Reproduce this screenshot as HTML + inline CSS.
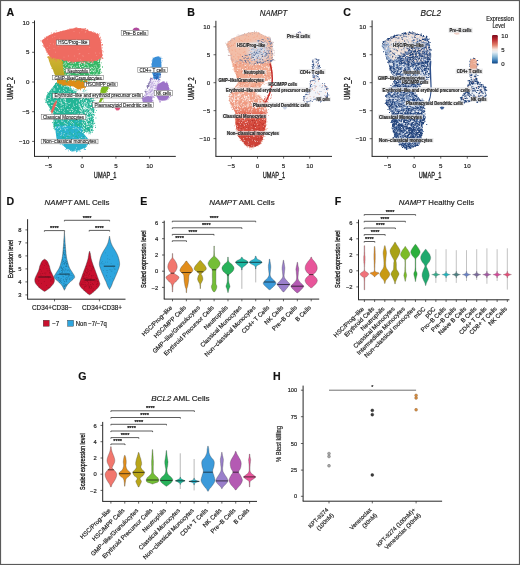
<!DOCTYPE html><html><head><meta charset="utf-8"><style>html,body{margin:0;padding:0;background:#fff;}svg{display:block;will-change:transform;filter:blur(0.3px);}text{font-family:"Liberation Sans", sans-serif;stroke:#222;stroke-width:0.18px;}</style></head><body>
<svg width="520" height="565" viewBox="0 0 520 565">
<rect x="0" y="0" width="520" height="565" fill="#fff"/>
<text x="6.4" y="15.7" font-size="10.6" fill="#111" font-weight="bold">A</text>
<text x="187.2" y="15.8" font-size="10.6" fill="#111" font-weight="bold">B</text>
<text x="343.3" y="15.8" font-size="10.6" fill="#111" font-weight="bold">C</text>
<text x="6.6" y="205.2" font-size="10.6" fill="#111" font-weight="bold">D</text>
<text x="140.2" y="204.8" font-size="10.6" fill="#111" font-weight="bold">E</text>
<text x="334.7" y="205" font-size="10.6" fill="#111" font-weight="bold">F</text>
<text x="78.2" y="379.6" font-size="10.6" fill="#111" font-weight="bold">G</text>
<text x="273" y="380" font-size="10.6" fill="#111" font-weight="bold">H</text>
<line x1="34.5" y1="20.5" x2="34.5" y2="156.4" stroke="#1a1a1a" stroke-width="0.95"/>
<line x1="34.05" y1="156.4" x2="175.8" y2="156.4" stroke="#1a1a1a" stroke-width="0.95"/>
<line x1="32.1" y1="22.6" x2="34.5" y2="22.6" stroke="#222" stroke-width="0.7"/>
<text x="29.5" y="24.7" font-size="6.2" fill="#222" text-anchor="end">10</text>
<line x1="32.1" y1="52.3" x2="34.5" y2="52.3" stroke="#222" stroke-width="0.7"/>
<text x="29.5" y="54.4" font-size="6.2" fill="#222" text-anchor="end">5</text>
<line x1="32.1" y1="82" x2="34.5" y2="82" stroke="#222" stroke-width="0.7"/>
<text x="29.5" y="84.1" font-size="6.2" fill="#222" text-anchor="end">0</text>
<line x1="32.1" y1="111.7" x2="34.5" y2="111.7" stroke="#222" stroke-width="0.7"/>
<text x="29.5" y="113.8" font-size="6.2" fill="#222" text-anchor="end">−5</text>
<line x1="32.1" y1="141.4" x2="34.5" y2="141.4" stroke="#222" stroke-width="0.7"/>
<text x="29.5" y="143.5" font-size="6.2" fill="#222" text-anchor="end">−10</text>
<line x1="48.5" y1="156.4" x2="48.5" y2="158.6" stroke="#222" stroke-width="0.7"/>
<text x="48.5" y="167.8" font-size="6.2" fill="#222" text-anchor="middle">−5</text>
<line x1="82.2" y1="156.4" x2="82.2" y2="158.6" stroke="#222" stroke-width="0.7"/>
<text x="82.2" y="167.8" font-size="6.2" fill="#222" text-anchor="middle">0</text>
<line x1="115.9" y1="156.4" x2="115.9" y2="158.6" stroke="#222" stroke-width="0.7"/>
<text x="115.9" y="167.8" font-size="6.2" fill="#222" text-anchor="middle">5</text>
<line x1="149.6" y1="156.4" x2="149.6" y2="158.6" stroke="#222" stroke-width="0.7"/>
<text x="149.6" y="167.8" font-size="6.2" fill="#222" text-anchor="middle">10</text>
<text x="105.15" y="178.4" font-size="8.4" fill="#222" text-anchor="middle" textLength="22.6" lengthAdjust="spacingAndGlyphs" style="stroke-width:0.34px">UMAP_1</text>
<text x="0" y="0" font-size="8.4" fill="#222" text-anchor="middle" textLength="22.6" lengthAdjust="spacingAndGlyphs" transform="translate(13.2,88.45) rotate(-90)" style="stroke-width:0.34px">UMAP_2</text>
<path d="M46.5,95.4L48.8,92.3L52,88L56,83L62,82.5L68,86.5L72,89.5L78,93.5L86,96L93.5,98.5L94.2,110.8L93.5,124.6L92,133L70,129L55,131L53.5,124.6L53.5,113.8L50.4,109.2L45.8,101.5Z" fill="#22B596"/>
<path d="M92 116.2h.8v.8h-.8zM92.6 119.1h.8v.8h-.8zM68.4 87.7h.8v.8h-.8zM54.9 128.2h.8v.8h-.8zM56.2 82h.8v.8h-.8zM53 89.5h.8v.8h-.8zM74.3 129.5h.8v.8h-.8zM47.7 93.3h.8v.8h-.8zM70.4 88.5h.8v.8h-.8zM92.2 119.5h.8v.8h-.8zM92.2 127.2h.8v.8h-.8zM72.6 129.8h.8v.8h-.8zM48.2 95.7h.8v.8h-.8zM65.6 130.2h.8v.8h-.8zM86.4 96.4h.8v.8h-.8zM94.6 107.5h.8v.8h-.8zM46.3 102.2h.8v.8h-.8zM73.9 89.7h.8v.8h-.8zM45.8 98.9h.8v.8h-.8zM78.9 129.9h.8v.8h-.8zM54.2 85.8h.8v.8h-.8zM58 131.1h.8v.8h-.8zM58.8 83.5h.8v.8h-.8zM67.8 86.7h.8v.8h-.8zM70.4 87.9h.8v.8h-.8zM77.1 130.8h.8v.8h-.8zM73.2 92.9h.8v.8h-.8zM53.2 127.8h.8v.8h-.8zM71.8 91.4h.8v.8h-.8zM78.9 131.8h.8v.8h-.8zM73.5 92.1h.8v.8h-.8zM91.3 98.1h.8v.8h-.8zM55.1 83.1h.8v.8h-.8zM82.7 132.2h.8v.8h-.8zM45 102.2h.8v.8h-.8zM53.7 116h.8v.8h-.8zM50.8 108.8h.8v.8h-.8zM70.2 86.1h.8v.8h-.8zM73 88.4h.8v.8h-.8zM82.7 131.6h.8v.8h-.8zM51 90h.8v.8h-.8zM66.3 131.2h.8v.8h-.8zM84.1 132.1h.8v.8h-.8zM64.3 130.1h.8v.8h-.8zM91.1 131.7h.8v.8h-.8zM84.1 95h.8v.8h-.8zM48 94.1h.8v.8h-.8zM53 88.1h.8v.8h-.8zM88.8 132.9h.8v.8h-.8zM53.5 111.7h.8v.8h-.8zM68.2 128.9h.8v.8h-.8zM52 90.9h.8v.8h-.8zM67.1 129.4h.8v.8h-.8zM76.2 130.6h.8v.8h-.8zM90.1 97.3h.8v.8h-.8zM91.9 130.6h.8v.8h-.8zM60.5 128.7h.8v.8h-.8zM49.1 109.6h.8v.8h-.8zM51.9 109.8h.8v.8h-.8zM55.1 127.3h.8v.8h-.8zM78.6 131.5h.8v.8h-.8zM83.3 131.8h.8v.8h-.8zM47.4 95.5h.8v.8h-.8zM93.8 105h.8v.8h-.8zM94.2 114.6h.8v.8h-.8zM60 130.7h.8v.8h-.8zM93.8 123.1h.8v.8h-.8zM92 123.1h.8v.8h-.8zM80.5 94.1h.8v.8h-.8zM70.9 129.7h.8v.8h-.8zM50.3 108.9h.8v.8h-.8zM51.5 112.9h.8v.8h-.8zM70 89.8h.8v.8h-.8zM50.7 108h.8v.8h-.8zM86.2 132.4h.8v.8h-.8zM94.4 122.8h.8v.8h-.8zM66 129.4h.8v.8h-.8zM66.9 86.4h.8v.8h-.8zM72.6 91.3h.8v.8h-.8zM92.9 125.4h.8v.8h-.8zM45.8 98.5h.8v.8h-.8zM49.8 91h.8v.8h-.8zM65 129.2h.8v.8h-.8zM54.8 128h.8v.8h-.8zM95.5 117.6h.8v.8h-.8zM77.1 93h.8v.8h-.8zM77.6 131h.8v.8h-.8zM75.4 127.7h.8v.8h-.8zM70 130h.8v.8h-.8zM69.9 87.2h.8v.8h-.8zM65.1 130.3h.8v.8h-.8zM93.2 98h.8v.8h-.8zM81.3 130.1h.8v.8h-.8zM54.6 127.7h.8v.8h-.8zM48.4 105.5h.8v.8h-.8zM92.5 115.7h.8v.8h-.8zM92.1 103.5h.8v.8h-.8zM55 126.8h.8v.8h-.8zM75.6 131.3h.8v.8h-.8zM52.6 122.5h.8v.8h-.8zM75.6 89.1h.8v.8h-.8zM44.5 98.8h.8v.8h-.8zM91.5 96.4h.8v.8h-.8zM94.4 100h.8v.8h-.8zM91.9 131.9h.8v.8h-.8zM49.5 91.3h.8v.8h-.8zM54.4 127.3h.8v.8h-.8zM54.8 129h.8v.8h-.8zM92.7 125.9h.8v.8h-.8zM69.9 128.8h.8v.8h-.8zM47.6 103.9h.8v.8h-.8zM92.3 130.7h.8v.8h-.8zM75.5 130.1h.8v.8h-.8zM89.9 133.5h.8v.8h-.8zM54 118.7h.8v.8h-.8zM54.6 117.9h.8v.8h-.8zM88.4 133.4h.8v.8h-.8zM93.2 125.3h.8v.8h-.8zM45 100.4h.8v.8h-.8zM53 126h.8v.8h-.8zM69.6 129.6h.8v.8h-.8zM96.1 109.9h.8v.8h-.8zM81.4 94.8h.8v.8h-.8zM94.8 112h.8v.8h-.8zM93.4 121.5h.8v.8h-.8zM81.1 130.7h.8v.8h-.8zM55.3 130.1h.8v.8h-.8zM75.2 91.1h.8v.8h-.8zM93.3 100.4h.8v.8h-.8zM62.8 130.8h.8v.8h-.8zM79.2 94.8h.8v.8h-.8zM93.4 115h.8v.8h-.8zM92.9 130.2h.8v.8h-.8zM77.8 129.7h.8v.8h-.8zM52.1 116.9h.8v.8h-.8zM76.2 90.7h.8v.8h-.8zM50.8 110.9h.8v.8h-.8zM49.9 110.5h.8v.8h-.8zM52.9 112.8h.8v.8h-.8zM62.7 130.4h.8v.8h-.8zM52.1 122h.8v.8h-.8zM60.3 83.3h.8v.8h-.8zM48.7 94.3h.8v.8h-.8zM50.7 108.9h.8v.8h-.8zM93.3 124.8h.8v.8h-.8zM69.6 129.4h.8v.8h-.8zM59.3 83.1h.8v.8h-.8zM92.6 127.1h.8v.8h-.8zM70.1 89.4h.8v.8h-.8zM46.7 96.8h.8v.8h-.8zM53.7 86.8h.8v.8h-.8zM55.9 131.7h.8v.8h-.8zM91.9 127.9h.8v.8h-.8zM47.3 92h.8v.8h-.8zM67.8 87.8h.8v.8h-.8zM94.3 109.5h.8v.8h-.8zM95 127.1h.8v.8h-.8zM53.4 124.6h.8v.8h-.8zM77.8 131.3h.8v.8h-.8zM94.9 125.4h.8v.8h-.8z" fill="#22B596"/>
<path d="M55,127L65,125.5L75,126L81,128L84,134L88.5,139.5L90.4,140.5L85.8,147.7L78,150.5L72,151L65.8,148L56.5,138.5Z" fill="#2AB3CF"/>
<path d="M91.3 140.1h.8v.8h-.8zM59.2 136.1h.8v.8h-.8zM68.4 130.2h.8v.8h-.8zM58.2 136.6h.8v.8h-.8zM58.5 140.2h.8v.8h-.8zM76.8 150.7h.8v.8h-.8zM62.6 144.8h.8v.8h-.8zM70.6 128.1h.8v.8h-.8zM60.8 143.4h.8v.8h-.8zM83.8 148.8h.8v.8h-.8zM59.4 139h.8v.8h-.8zM75.9 125.8h.8v.8h-.8zM90.1 140.8h.8v.8h-.8zM86.3 137.4h.8v.8h-.8zM91 139.8h.8v.8h-.8zM73.6 150.7h.8v.8h-.8zM73.7 125.1h.8v.8h-.8zM80.1 127.5h.8v.8h-.8zM79.2 127h.8v.8h-.8zM76.2 151.5h.8v.8h-.8zM66.5 147.6h.8v.8h-.8zM79 149.6h.8v.8h-.8zM84.4 149.2h.8v.8h-.8zM68.1 150.5h.8v.8h-.8zM89 143.6h.8v.8h-.8zM79.3 128.3h.8v.8h-.8zM83.7 148h.8v.8h-.8zM81.1 127.3h.8v.8h-.8zM81.8 127.6h.8v.8h-.8zM75.9 150.6h.8v.8h-.8zM72.5 150.2h.8v.8h-.8zM77.5 150.5h.8v.8h-.8zM66 148.1h.8v.8h-.8zM77.3 150.8h.8v.8h-.8zM71.6 151.1h.8v.8h-.8zM60.6 143.5h.8v.8h-.8zM65.5 149.1h.8v.8h-.8zM72.7 150.4h.8v.8h-.8zM57.2 139.6h.8v.8h-.8zM67.4 130.2h.8v.8h-.8zM85 149.1h.8v.8h-.8zM67.1 148.5h.8v.8h-.8zM57.3 138.7h.8v.8h-.8zM74.9 126.2h.8v.8h-.8zM78.9 127.3h.8v.8h-.8zM79.5 149.6h.8v.8h-.8zM70.2 150.1h.8v.8h-.8zM59.7 142.5h.8v.8h-.8zM83.5 148.4h.8v.8h-.8zM86.1 145.6h.8v.8h-.8zM82.1 129.2h.8v.8h-.8zM64 145.6h.8v.8h-.8zM79.7 151.3h.8v.8h-.8zM83 146.2h.8v.8h-.8zM85.8 145.4h.8v.8h-.8zM68.6 130.2h.8v.8h-.8zM82.2 129.7h.8v.8h-.8zM80.6 128.5h.8v.8h-.8zM59.8 143.6h.8v.8h-.8zM81.4 129.5h.8v.8h-.8z" fill="#2AB3CF"/>
<path d="M49.8 97.8h.7v.7h-.7zM80.9 117.5h.7v.7h-.7zM59.5 89.7h.7v.7h-.7zM63.1 119.2h.7v.7h-.7zM63.5 88.4h.7v.7h-.7zM80.1 111.2h.7v.7h-.7zM90.3 130h.7v.7h-.7zM90 104.6h.7v.7h-.7zM84.7 97.9h.7v.7h-.7zM61.2 102.7h.7v.7h-.7zM91 127.7h.7v.7h-.7zM57.8 100.8h.7v.7h-.7zM63.5 100.8h.7v.7h-.7zM64.9 102.1h.7v.7h-.7zM55.2 111h.7v.7h-.7zM84.4 109.8h.7v.7h-.7zM86.3 110.9h.7v.7h-.7zM54.3 120.8h.7v.7h-.7zM72.1 111.2h.7v.7h-.7zM92.6 115.4h.7v.7h-.7zM72.3 122.3h.7v.7h-.7zM81.5 127.9h.7v.7h-.7zM77.2 94.9h.7v.7h-.7zM56.5 121.2h.7v.7h-.7zM71 121.1h.7v.7h-.7zM64.9 99.6h.7v.7h-.7zM92.7 116.5h.7v.7h-.7zM69.7 109.6h.7v.7h-.7zM80.7 118.3h.7v.7h-.7zM90.1 103.2h.7v.7h-.7zM85.8 116.2h.7v.7h-.7zM87.1 123.2h.7v.7h-.7zM86.2 127.4h.7v.7h-.7zM92.2 114.8h.7v.7h-.7zM71.2 118.4h.7v.7h-.7zM84.6 103.8h.7v.7h-.7zM66.2 89.9h.7v.7h-.7zM64 91h.7v.7h-.7zM55.7 104h.7v.7h-.7zM48.7 98.1h.7v.7h-.7zM48.8 105.7h.7v.7h-.7zM74.1 128.4h.7v.7h-.7zM54.7 93.5h.7v.7h-.7zM57.2 118.7h.7v.7h-.7zM74.6 93.8h.7v.7h-.7zM54.8 96.7h.7v.7h-.7zM54.1 120.8h.7v.7h-.7zM60.9 110.2h.7v.7h-.7zM85.3 106.7h.7v.7h-.7zM58.4 127.3h.7v.7h-.7zM90 99.8h.7v.7h-.7zM69.2 93.7h.7v.7h-.7zM84.6 101.9h.7v.7h-.7zM71.3 108.5h.7v.7h-.7zM77.6 94.5h.7v.7h-.7zM63.8 122.7h.7v.7h-.7zM80.3 113.1h.7v.7h-.7zM53.4 90.4h.7v.7h-.7zM61.4 95.6h.7v.7h-.7zM87.9 108.6h.7v.7h-.7zM58.7 109.5h.7v.7h-.7zM86.8 124h.7v.7h-.7zM49.8 96.1h.7v.7h-.7zM69 106.2h.7v.7h-.7zM92 112.1h.7v.7h-.7zM87.3 97.8h.7v.7h-.7zM84 103.6h.7v.7h-.7zM72.1 109h.7v.7h-.7zM60.9 98.2h.7v.7h-.7zM49.5 97.9h.7v.7h-.7zM68.4 118.6h.7v.7h-.7zM63.2 117.2h.7v.7h-.7zM50.9 102.4h.7v.7h-.7zM86 115.5h.7v.7h-.7zM46.4 101.5h.7v.7h-.7zM80.2 94.5h.7v.7h-.7zM73.1 105.6h.7v.7h-.7zM75.6 97.2h.7v.7h-.7zM64 109.8h.7v.7h-.7zM60.2 99.5h.7v.7h-.7zM64.8 116.2h.7v.7h-.7zM58.2 92.6h.7v.7h-.7zM81.2 99.1h.7v.7h-.7zM91.5 110.9h.7v.7h-.7zM80.8 99.2h.7v.7h-.7zM52.6 87.3h.7v.7h-.7zM78.6 118.3h.7v.7h-.7zM54.5 102.8h.7v.7h-.7zM86.3 112.4h.7v.7h-.7zM50.2 93.9h.7v.7h-.7zM53.4 88.8h.7v.7h-.7zM65.5 86.2h.7v.7h-.7zM90.4 104.1h.7v.7h-.7zM70.6 115.2h.7v.7h-.7zM82.9 124h.7v.7h-.7zM64.5 99.2h.7v.7h-.7zM65.2 117.8h.7v.7h-.7zM93.3 122.4h.7v.7h-.7zM77.8 113.2h.7v.7h-.7zM46.7 99.2h.7v.7h-.7zM62.4 115.4h.7v.7h-.7zM50.9 101.6h.7v.7h-.7zM70.5 122.3h.7v.7h-.7zM85.7 113.4h.7v.7h-.7zM89.5 110.2h.7v.7h-.7zM62.9 107.8h.7v.7h-.7zM93.6 108.6h.7v.7h-.7zM80.4 124.7h.7v.7h-.7zM55.3 130.2h.7v.7h-.7zM76.2 92.5h.7v.7h-.7zM49.8 94.9h.7v.7h-.7zM73.7 117.7h.7v.7h-.7zM61.7 129.4h.7v.7h-.7zM63.3 105.9h.7v.7h-.7zM72.1 110.8h.7v.7h-.7zM72.9 95.9h.7v.7h-.7zM85.4 112.9h.7v.7h-.7zM59.8 127.8h.7v.7h-.7zM57.5 111.5h.7v.7h-.7zM77.7 98h.7v.7h-.7zM78.3 119.8h.7v.7h-.7zM64.3 112.4h.7v.7h-.7zM55.5 106.1h.7v.7h-.7zM52.7 102h.7v.7h-.7zM73.4 91.3h.7v.7h-.7zM71 95.8h.7v.7h-.7zM73.3 99.3h.7v.7h-.7zM92.2 112.8h.7v.7h-.7zM68.5 103.3h.7v.7h-.7zM76 117.3h.7v.7h-.7zM82.5 120.5h.7v.7h-.7zM86.4 125.7h.7v.7h-.7zM65.6 104.4h.7v.7h-.7zM73.2 128.2h.7v.7h-.7zM71.3 109h.7v.7h-.7zM66.7 128.2h.7v.7h-.7zM61.3 85.3h.7v.7h-.7zM80.9 128h.7v.7h-.7zM81.2 112.7h.7v.7h-.7zM82.2 97.9h.7v.7h-.7zM51.8 105.1h.7v.7h-.7zM70.1 102.5h.7v.7h-.7zM71.3 94.6h.7v.7h-.7zM60.6 102.5h.7v.7h-.7zM57.2 86h.7v.7h-.7zM89.9 131.3h.7v.7h-.7zM78 126.3h.7v.7h-.7zM66.2 123.2h.7v.7h-.7zM56.5 120.2h.7v.7h-.7zM73.2 128.1h.7v.7h-.7zM51.8 109.6h.7v.7h-.7zM57.6 97.6h.7v.7h-.7zM61.5 85.7h.7v.7h-.7zM89.1 123.7h.7v.7h-.7zM65 100.5h.7v.7h-.7zM60.7 107.7h.7v.7h-.7zM91 131.9h.7v.7h-.7zM68.7 92.9h.7v.7h-.7zM60.1 129.1h.7v.7h-.7zM86.4 100.4h.7v.7h-.7zM68.7 91.2h.7v.7h-.7zM55.6 114.4h.7v.7h-.7zM55.1 126.9h.7v.7h-.7zM80.9 98.3h.7v.7h-.7zM89.4 126.4h.7v.7h-.7zM79.5 129.9h.7v.7h-.7zM67.3 86.5h.7v.7h-.7zM56.6 98h.7v.7h-.7zM54.6 94.4h.7v.7h-.7zM78 122.4h.7v.7h-.7zM63.8 115.9h.7v.7h-.7zM88.6 112.3h.7v.7h-.7zM56.9 97.7h.7v.7h-.7zM90.7 116.2h.7v.7h-.7zM59.2 114.8h.7v.7h-.7zM67.1 109.2h.7v.7h-.7zM74.8 96.9h.7v.7h-.7zM57.9 123.1h.7v.7h-.7zM50 96.9h.7v.7h-.7zM82.4 94.9h.7v.7h-.7zM59.3 110.2h.7v.7h-.7zM54.8 127.8h.7v.7h-.7zM68.1 120.4h.7v.7h-.7zM64.4 129.4h.7v.7h-.7zM70 91.6h.7v.7h-.7zM72.7 115.1h.7v.7h-.7zM63.2 115.7h.7v.7h-.7zM83.7 108.6h.7v.7h-.7zM70.3 125.2h.7v.7h-.7zM78.9 108.8h.7v.7h-.7zM75.2 94.4h.7v.7h-.7zM67.1 121.5h.7v.7h-.7zM83.9 122.5h.7v.7h-.7zM57.2 107.2h.7v.7h-.7zM56.5 111.8h.7v.7h-.7zM74.7 118.6h.7v.7h-.7zM73.5 126.6h.7v.7h-.7zM54.5 90.2h.7v.7h-.7zM66.8 104.8h.7v.7h-.7zM58.5 122.8h.7v.7h-.7zM73.3 109.9h.7v.7h-.7zM52.9 98.2h.7v.7h-.7zM47.8 98.4h.7v.7h-.7zM75.9 109h.7v.7h-.7zM58.6 112.2h.7v.7h-.7zM54.1 95.4h.7v.7h-.7zM53.5 117.4h.7v.7h-.7zM86 122.2h.7v.7h-.7zM48.8 103.2h.7v.7h-.7zM63.4 93.4h.7v.7h-.7zM69.5 120.9h.7v.7h-.7zM67.8 120.1h.7v.7h-.7zM47.7 94.7h.7v.7h-.7zM64.8 97.6h.7v.7h-.7zM66.3 86.4h.7v.7h-.7zM82.7 119.6h.7v.7h-.7zM56.9 95.3h.7v.7h-.7zM72.5 94.7h.7v.7h-.7zM63.4 99.5h.7v.7h-.7zM93.3 113.4h.7v.7h-.7zM47.7 102.9h.7v.7h-.7zM62.4 117.6h.7v.7h-.7zM87.6 112.3h.7v.7h-.7zM88.7 105.9h.7v.7h-.7zM64.8 125.1h.7v.7h-.7zM64.2 122h.7v.7h-.7zM56.2 100h.7v.7h-.7zM54.7 110.3h.7v.7h-.7zM53.7 92.8h.7v.7h-.7zM56.2 106.1h.7v.7h-.7zM60.7 105.1h.7v.7h-.7zM93.9 116.8h.7v.7h-.7zM64.3 86.2h.7v.7h-.7zM79.3 100.8h.7v.7h-.7zM59.1 83.4h.7v.7h-.7zM54.6 95.7h.7v.7h-.7zM64.8 129.1h.7v.7h-.7zM80.4 96.1h.7v.7h-.7zM63.3 90.3h.7v.7h-.7zM91.1 100.7h.7v.7h-.7zM82.9 119h.7v.7h-.7zM61.4 101.9h.7v.7h-.7zM61.5 121.4h.7v.7h-.7zM64.9 94.5h.7v.7h-.7zM60.9 103.9h.7v.7h-.7zM80 95.6h.7v.7h-.7zM80.9 116.1h.7v.7h-.7zM52.9 92.8h.7v.7h-.7zM59.4 118.5h.7v.7h-.7zM65.4 102h.7v.7h-.7zM59.9 99.9h.7v.7h-.7zM56.2 84.6h.7v.7h-.7zM73.2 123.3h.7v.7h-.7zM78.3 128.9h.7v.7h-.7zM56.3 117.3h.7v.7h-.7zM66.5 102.3h.7v.7h-.7zM48.7 101.9h.7v.7h-.7zM61.7 107.6h.7v.7h-.7zM59.3 90.5h.7v.7h-.7zM65.3 106.5h.7v.7h-.7zM53.9 116.1h.7v.7h-.7zM57.4 87.2h.7v.7h-.7zM62.3 103.8h.7v.7h-.7zM53.1 111.9h.7v.7h-.7zM79.7 110.4h.7v.7h-.7zM64.7 100.9h.7v.7h-.7zM48.8 102.9h.7v.7h-.7zM74.2 106.2h.7v.7h-.7zM61.6 95.3h.7v.7h-.7zM46.9 100h.7v.7h-.7zM89 111.1h.7v.7h-.7zM58.5 116.2h.7v.7h-.7zM54.8 106.2h.7v.7h-.7zM63.4 111.6h.7v.7h-.7zM91.4 121.5h.7v.7h-.7zM76.2 113.9h.7v.7h-.7zM65.7 103.5h.7v.7h-.7zM59.2 124.4h.7v.7h-.7zM88.4 101.8h.7v.7h-.7zM52.4 108.1h.7v.7h-.7zM60.7 100.7h.7v.7h-.7zM55.1 94h.7v.7h-.7zM78.7 94.3h.7v.7h-.7zM64.9 94.6h.7v.7h-.7zM69.7 115.3h.7v.7h-.7zM72.3 114h.7v.7h-.7zM72.9 124.5h.7v.7h-.7zM92.7 99.3h.7v.7h-.7zM62.6 127.3h.7v.7h-.7zM61 118.7h.7v.7h-.7zM79.5 117.2h.7v.7h-.7zM92.5 124.1h.7v.7h-.7zM53.5 113.9h.7v.7h-.7zM69.5 111h.7v.7h-.7zM63.7 96.9h.7v.7h-.7zM82 109.5h.7v.7h-.7zM57.3 95.1h.7v.7h-.7zM61.5 91.5h.7v.7h-.7zM70.7 88.9h.7v.7h-.7zM51.3 105.3h.7v.7h-.7zM83.2 106.8h.7v.7h-.7zM58.1 108.1h.7v.7h-.7zM84.3 102.3h.7v.7h-.7zM80.5 95.2h.7v.7h-.7zM80.4 99h.7v.7h-.7zM62 120.8h.7v.7h-.7zM86.6 124.3h.7v.7h-.7zM73.3 103.7h.7v.7h-.7zM80 114h.7v.7h-.7zM86 123h.7v.7h-.7zM51.9 101.5h.7v.7h-.7zM78.2 94.2h.7v.7h-.7zM79.1 103.7h.7v.7h-.7zM76.4 102.5h.7v.7h-.7zM91 132.4h.7v.7h-.7zM59.6 119.4h.7v.7h-.7zM61.8 83.8h.7v.7h-.7zM72.1 106.9h.7v.7h-.7zM63.9 98.1h.7v.7h-.7zM84.5 124.9h.7v.7h-.7zM59.5 102.3h.7v.7h-.7zM75.7 121.2h.7v.7h-.7zM93.3 102.2h.7v.7h-.7zM79.4 110.1h.7v.7h-.7zM54.3 87.9h.7v.7h-.7zM69.4 88.6h.7v.7h-.7zM61.5 83.5h.7v.7h-.7zM76.1 96.3h.7v.7h-.7zM56.8 106.9h.7v.7h-.7zM63.5 95.6h.7v.7h-.7zM89 98.1h.7v.7h-.7zM49.6 91.7h.7v.7h-.7zM55.6 126.3h.7v.7h-.7zM69.2 103.4h.7v.7h-.7zM84.9 102.5h.7v.7h-.7zM77.6 114h.7v.7h-.7zM59.2 129.9h.7v.7h-.7zM67.3 124.6h.7v.7h-.7zM63.2 120.6h.7v.7h-.7zM60.8 108.5h.7v.7h-.7zM71.3 123.4h.7v.7h-.7zM84.1 119.6h.7v.7h-.7zM65.1 123.1h.7v.7h-.7zM85.9 121.3h.7v.7h-.7zM91.8 102.8h.7v.7h-.7zM79.9 95.1h.7v.7h-.7zM73.7 94h.7v.7h-.7zM64.6 101.2h.7v.7h-.7zM77.6 123.4h.7v.7h-.7zM63.5 114.7h.7v.7h-.7zM62.9 96.6h.7v.7h-.7zM89.6 98.7h.7v.7h-.7zM50.4 99.4h.7v.7h-.7zM81.8 110.1h.7v.7h-.7zM50.9 89.7h.7v.7h-.7zM62.8 104.3h.7v.7h-.7zM65.3 98.7h.7v.7h-.7zM55.7 127h.7v.7h-.7zM61.3 120.6h.7v.7h-.7zM56.4 103.1h.7v.7h-.7zM59 116.7h.7v.7h-.7zM91.7 98.8h.7v.7h-.7zM54.7 100.5h.7v.7h-.7zM76.5 101.6h.7v.7h-.7zM77 93.2h.7v.7h-.7zM75.6 127.3h.7v.7h-.7zM87.2 114.2h.7v.7h-.7zM70.2 111.2h.7v.7h-.7zM79.2 105.4h.7v.7h-.7zM78 103.7h.7v.7h-.7zM64.4 94.1h.7v.7h-.7zM74.9 111.4h.7v.7h-.7zM76.2 105.1h.7v.7h-.7zM74.5 112.5h.7v.7h-.7zM81.5 98.3h.7v.7h-.7zM65.3 126.3h.7v.7h-.7zM69.6 94.3h.7v.7h-.7zM86.5 115.3h.7v.7h-.7zM91.2 124.4h.7v.7h-.7zM84.4 108.3h.7v.7h-.7zM87.9 118.4h.7v.7h-.7zM57.9 123.3h.7v.7h-.7zM67.8 109.6h.7v.7h-.7zM59.3 115h.7v.7h-.7zM83.9 107.3h.7v.7h-.7zM57.5 122.9h.7v.7h-.7zM87.2 121.4h.7v.7h-.7zM72.4 128.2h.7v.7h-.7zM63.5 87.6h.7v.7h-.7zM47.6 100h.7v.7h-.7zM87.7 124.6h.7v.7h-.7zM51.5 91.7h.7v.7h-.7zM64.6 125.4h.7v.7h-.7zM75.7 128h.7v.7h-.7zM55.8 114.3h.7v.7h-.7zM88.2 119.2h.7v.7h-.7zM55.3 116.3h.7v.7h-.7zM62.2 98.4h.7v.7h-.7zM76.3 96.6h.7v.7h-.7zM75 117.6h.7v.7h-.7zM54.5 89h.7v.7h-.7zM79.4 106.1h.7v.7h-.7zM52 88.4h.7v.7h-.7zM91.3 113.3h.7v.7h-.7zM63.1 92.4h.7v.7h-.7zM81.4 100.7h.7v.7h-.7zM60.8 103.1h.7v.7h-.7zM66.4 123.9h.7v.7h-.7zM65.6 105.6h.7v.7h-.7zM62.6 118h.7v.7h-.7zM57.2 111.8h.7v.7h-.7zM59.6 126.6h.7v.7h-.7zM59.7 125.7h.7v.7h-.7zM78.6 105.5h.7v.7h-.7zM91 102.1h.7v.7h-.7zM81.8 112.9h.7v.7h-.7zM66.1 96.7h.7v.7h-.7zM60 117.6h.7v.7h-.7zM78.3 94.9h.7v.7h-.7zM65.7 89.2h.7v.7h-.7z" fill="#ffffff"/>
<path d="M92.3 103.6h.8v.8h-.8zM84.7 107.7h.8v.8h-.8zM91.1 131.1h.8v.8h-.8zM87.5 117.1h.8v.8h-.8zM84 125.3h.8v.8h-.8zM88.7 107.8h.8v.8h-.8zM92.4 135.7h.8v.8h-.8zM85.5 108.6h.8v.8h-.8zM85.4 106.5h.8v.8h-.8zM88.7 119.9h.8v.8h-.8zM91.3 121.9h.8v.8h-.8zM84.4 122.2h.8v.8h-.8zM81.4 109h.8v.8h-.8zM80.3 110.2h.8v.8h-.8zM88 126.1h.8v.8h-.8zM82.1 129.3h.8v.8h-.8zM89.7 127.7h.8v.8h-.8zM93.1 133.2h.8v.8h-.8zM86.6 116.5h.8v.8h-.8zM82.8 115.3h.8v.8h-.8zM80.1 96.1h.8v.8h-.8zM86.2 105.5h.8v.8h-.8zM90.4 103.4h.8v.8h-.8zM84.6 94.5h.8v.8h-.8zM81.5 112.8h.8v.8h-.8zM86.9 113.1h.8v.8h-.8zM91.6 99.1h.8v.8h-.8zM93.5 116.1h.8v.8h-.8zM84.5 120.2h.8v.8h-.8zM91.8 136.3h.8v.8h-.8zM89.8 124.8h.8v.8h-.8zM80.5 116.4h.8v.8h-.8zM88.3 131h.8v.8h-.8zM79.3 104h.8v.8h-.8zM83.3 114.5h.8v.8h-.8zM88.5 132.8h.8v.8h-.8zM93.1 118.1h.8v.8h-.8zM86 133.6h.8v.8h-.8zM84.3 105.8h.8v.8h-.8zM89.8 103.9h.8v.8h-.8zM83.9 111.7h.8v.8h-.8zM85.6 108.5h.8v.8h-.8zM84.9 112.7h.8v.8h-.8zM86.8 110.4h.8v.8h-.8zM81.6 96.6h.8v.8h-.8zM84 106.5h.8v.8h-.8zM85.7 102.6h.8v.8h-.8zM90 114.4h.8v.8h-.8zM83.9 119.5h.8v.8h-.8zM83.9 105.9h.8v.8h-.8zM87.7 119.1h.8v.8h-.8zM83 114.9h.8v.8h-.8zM86.3 126.7h.8v.8h-.8zM78.8 96.3h.8v.8h-.8zM82 104.4h.8v.8h-.8zM90.7 111.6h.8v.8h-.8zM91.8 110.5h.8v.8h-.8zM82.6 123.3h.8v.8h-.8zM91.3 107.1h.8v.8h-.8zM83.1 129.7h.8v.8h-.8zM90.6 121.5h.8v.8h-.8zM86.8 134.7h.8v.8h-.8zM92.9 126.6h.8v.8h-.8zM89.8 111.2h.8v.8h-.8zM90.5 112.3h.8v.8h-.8zM90 109.4h.8v.8h-.8zM85.2 112.1h.8v.8h-.8zM79.9 106.7h.8v.8h-.8zM88.7 117.2h.8v.8h-.8zM79.8 97.4h.8v.8h-.8zM87 134.4h.8v.8h-.8zM81.4 111.1h.8v.8h-.8zM86.6 130.6h.8v.8h-.8zM84.9 109.4h.8v.8h-.8zM88.8 134.7h.8v.8h-.8zM85.9 123.7h.8v.8h-.8zM84.2 127.8h.8v.8h-.8zM80.7 118.9h.8v.8h-.8zM81.2 107.9h.8v.8h-.8zM80.6 108.1h.8v.8h-.8zM87.5 115.9h.8v.8h-.8zM84.2 118.4h.8v.8h-.8zM91.5 108.5h.8v.8h-.8zM87.3 114.1h.8v.8h-.8zM93.7 107.1h.8v.8h-.8zM89.2 102.7h.8v.8h-.8zM82.2 125.6h.8v.8h-.8zM87.2 103.8h.8v.8h-.8zM84 125h.8v.8h-.8zM84.9 120.4h.8v.8h-.8zM92.6 113h.8v.8h-.8zM85.8 102.6h.8v.8h-.8zM90.1 96.7h.8v.8h-.8zM82.9 131h.8v.8h-.8zM87.1 117.4h.8v.8h-.8zM83.3 99h.8v.8h-.8zM93.2 127.2h.8v.8h-.8zM90.5 102.1h.8v.8h-.8zM81.2 116.6h.8v.8h-.8zM87.8 97.6h.8v.8h-.8zM90.2 118.8h.8v.8h-.8zM92.4 134.5h.8v.8h-.8zM89 108.7h.8v.8h-.8zM93.2 125.1h.8v.8h-.8zM82.7 131.5h.8v.8h-.8zM89.6 104.2h.8v.8h-.8zM86.6 103.7h.8v.8h-.8zM82.7 103.6h.8v.8h-.8zM82.4 105.1h.8v.8h-.8zM82.4 115.4h.8v.8h-.8zM92 99.4h.8v.8h-.8zM91.8 131.3h.8v.8h-.8zM87.8 117h.8v.8h-.8zM89.7 116.6h.8v.8h-.8zM88.6 134.3h.8v.8h-.8zM90.4 104h.8v.8h-.8zM83.8 128.2h.8v.8h-.8zM81.7 112.8h.8v.8h-.8zM83.9 125.5h.8v.8h-.8zM93.1 115.3h.8v.8h-.8zM87.1 108h.8v.8h-.8zM87 97.5h.8v.8h-.8zM91.7 128.1h.8v.8h-.8zM86.3 95.6h.8v.8h-.8zM86.4 100.5h.8v.8h-.8zM86.4 108.3h.8v.8h-.8zM86 101.1h.8v.8h-.8zM89.3 111.2h.8v.8h-.8zM85.8 95.6h.8v.8h-.8zM85.8 117.6h.8v.8h-.8zM80.2 105.8h.8v.8h-.8zM83.4 124.3h.8v.8h-.8zM93 136.9h.8v.8h-.8zM91.7 135h.8v.8h-.8zM87.5 123.5h.8v.8h-.8zM87.8 120.2h.8v.8h-.8zM78.5 97.1h.8v.8h-.8zM91.9 136h.8v.8h-.8zM78.4 93.5h.8v.8h-.8zM91.3 123.7h.8v.8h-.8zM86.3 118.7h.8v.8h-.8zM90.1 129.2h.8v.8h-.8zM90.7 136.9h.8v.8h-.8zM91.3 110.8h.8v.8h-.8zM83.4 107.9h.8v.8h-.8zM82.2 118.9h.8v.8h-.8zM86.4 107.4h.8v.8h-.8zM88.8 112.9h.8v.8h-.8zM80.8 98.9h.8v.8h-.8zM82.1 114h.8v.8h-.8zM90.5 107.3h.8v.8h-.8zM81.8 122.1h.8v.8h-.8zM82.2 116h.8v.8h-.8zM82.1 132.3h.8v.8h-.8zM81 102.7h.8v.8h-.8zM82.8 107.2h.8v.8h-.8zM89.6 123h.8v.8h-.8zM90.6 116.8h.8v.8h-.8zM81.9 102h.8v.8h-.8zM83.9 108.4h.8v.8h-.8zM92.6 137.6h.8v.8h-.8zM84.2 98.2h.8v.8h-.8zM90.6 128h.8v.8h-.8zM83.4 128.4h.8v.8h-.8zM84.1 105.2h.8v.8h-.8zM87.5 126.1h.8v.8h-.8zM85.6 129.6h.8v.8h-.8zM84.1 95h.8v.8h-.8zM92.6 98.6h.8v.8h-.8zM93.1 100.9h.8v.8h-.8zM92.1 125.4h.8v.8h-.8zM93.2 112.9h.8v.8h-.8zM84 97.5h.8v.8h-.8zM79.1 100.5h.8v.8h-.8zM83.6 94.3h.8v.8h-.8zM82.9 100.4h.8v.8h-.8zM86.6 118.1h.8v.8h-.8zM90.2 116.2h.8v.8h-.8zM81.6 95.5h.8v.8h-.8zM83 127h.8v.8h-.8zM92.8 115.2h.8v.8h-.8zM80.6 107.2h.8v.8h-.8zM87.1 105.5h.8v.8h-.8zM90.7 136.7h.8v.8h-.8zM85.4 119.7h.8v.8h-.8zM91.5 113.4h.8v.8h-.8zM90.2 110.4h.8v.8h-.8zM78.8 99.5h.8v.8h-.8zM81.5 128.8h.8v.8h-.8zM86 122h.8v.8h-.8zM85.4 100.4h.8v.8h-.8zM87.9 109h.8v.8h-.8zM85.6 120.7h.8v.8h-.8zM83.1 108.4h.8v.8h-.8zM92.1 118.7h.8v.8h-.8zM84.7 116.8h.8v.8h-.8zM85.4 107.3h.8v.8h-.8zM92.6 102.7h.8v.8h-.8zM93 131.2h.8v.8h-.8zM92.1 99.5h.8v.8h-.8z" fill="#ffffff"/>
<path d="M68.7 129.8h.9v.9h-.9zM62.8 120.1h.9v.9h-.9zM74.5 120.8h.9v.9h-.9zM70.8 119.9h.9v.9h-.9zM80.6 121.4h.9v.9h-.9zM57.6 126.2h.9v.9h-.9zM64.4 124.7h.9v.9h-.9zM68.4 129.1h.9v.9h-.9zM68.9 122.5h.9v.9h-.9zM55 124h.9v.9h-.9zM62.3 124.9h.9v.9h-.9zM72.1 123.5h.9v.9h-.9zM57.4 124h.9v.9h-.9zM68 125.7h.9v.9h-.9zM81.2 121.4h.9v.9h-.9zM67 119h.9v.9h-.9zM76.6 120.8h.9v.9h-.9zM77.4 127.6h.9v.9h-.9zM61.9 128.8h.9v.9h-.9zM68.6 123.1h.9v.9h-.9zM70 129.4h.9v.9h-.9zM68.2 123.8h.9v.9h-.9zM62.8 128.1h.9v.9h-.9zM68.6 122.1h.9v.9h-.9zM60.3 120.6h.9v.9h-.9zM77.5 127.6h.9v.9h-.9zM81.4 129h.9v.9h-.9zM73.5 127.6h.9v.9h-.9zM74.2 127.7h.9v.9h-.9zM76.6 120.1h.9v.9h-.9zM77 121.6h.9v.9h-.9zM61.6 129h.9v.9h-.9zM55.6 124.1h.9v.9h-.9zM64.3 127.5h.9v.9h-.9zM71.5 128.9h.9v.9h-.9zM80.2 125.7h.9v.9h-.9zM56.7 126h.9v.9h-.9zM58 129.8h.9v.9h-.9zM78.5 121.7h.9v.9h-.9zM60 126.3h.9v.9h-.9zM75.5 129.8h.9v.9h-.9zM71.8 119.5h.9v.9h-.9zM74.6 118.7h.9v.9h-.9zM78.4 127.2h.9v.9h-.9zM76.2 128.5h.9v.9h-.9zM70.4 129.3h.9v.9h-.9zM72.3 123.9h.9v.9h-.9zM65.4 122.2h.9v.9h-.9zM55.6 119.9h.9v.9h-.9zM76.5 120.7h.9v.9h-.9zM72.6 127.3h.9v.9h-.9zM73.8 124.2h.9v.9h-.9zM63.5 121.3h.9v.9h-.9zM60.1 125.8h.9v.9h-.9zM73.5 129.3h.9v.9h-.9zM63.9 129.1h.9v.9h-.9zM79.6 121.5h.9v.9h-.9zM80.7 125.4h.9v.9h-.9zM81 127.3h.9v.9h-.9zM64 121.4h.9v.9h-.9zM69.1 123.9h.9v.9h-.9zM56 128.4h.9v.9h-.9zM69.5 123.7h.9v.9h-.9zM75.1 121h.9v.9h-.9zM60.4 125h.9v.9h-.9zM61.5 121.9h.9v.9h-.9zM56.9 118.6h.9v.9h-.9zM64.6 124.3h.9v.9h-.9zM80.6 125.7h.9v.9h-.9zM66.2 122.9h.9v.9h-.9zM61.4 123.7h.9v.9h-.9zM80.9 119.5h.9v.9h-.9zM66.7 126.2h.9v.9h-.9zM75.6 124.7h.9v.9h-.9zM72.3 129.3h.9v.9h-.9zM79.4 121h.9v.9h-.9zM69.6 130h.9v.9h-.9zM69.2 120.3h.9v.9h-.9zM75.7 118.7h.9v.9h-.9zM59.1 124.6h.9v.9h-.9zM62.4 126.6h.9v.9h-.9zM74.6 121.8h.9v.9h-.9zM75.7 125.8h.9v.9h-.9zM74.1 123.5h.9v.9h-.9zM66.7 119.3h.9v.9h-.9zM67.8 129.5h.9v.9h-.9zM79 118.7h.9v.9h-.9zM56.9 121.2h.9v.9h-.9zM73.8 123.3h.9v.9h-.9zM58.5 123.1h.9v.9h-.9z" fill="#2AB3CF"/>
<path d="M72.8 136.9h.9v.9h-.9zM67.5 135.8h.9v.9h-.9zM76.1 135.4h.9v.9h-.9zM59 128.7h.9v.9h-.9zM69.7 128.2h.9v.9h-.9zM57.3 132.7h.9v.9h-.9zM69.5 129.3h.9v.9h-.9zM84.6 138.2h.9v.9h-.9zM70.1 135.1h.9v.9h-.9zM64.8 139.8h.9v.9h-.9zM58.7 131.6h.9v.9h-.9zM61.8 138.4h.9v.9h-.9zM70.8 132.9h.9v.9h-.9zM67.4 138.6h.9v.9h-.9zM63 137.5h.9v.9h-.9zM77 133.4h.9v.9h-.9zM66.3 133.2h.9v.9h-.9zM69 131.8h.9v.9h-.9zM74.3 132.9h.9v.9h-.9zM64.4 137.3h.9v.9h-.9zM69.1 133.7h.9v.9h-.9zM82.3 133.5h.9v.9h-.9zM66.7 138.8h.9v.9h-.9zM85.3 137.4h.9v.9h-.9zM67.4 136.1h.9v.9h-.9zM78 131.6h.9v.9h-.9zM77.4 139.4h.9v.9h-.9zM75.3 136h.9v.9h-.9zM68.5 135.8h.9v.9h-.9zM62 137.2h.9v.9h-.9zM71.7 139.8h.9v.9h-.9zM65.6 136.5h.9v.9h-.9zM78.8 131.1h.9v.9h-.9zM74 130.7h.9v.9h-.9zM67.3 139.9h.9v.9h-.9zM61.1 139h.9v.9h-.9zM56.9 135h.9v.9h-.9zM80.5 138h.9v.9h-.9zM67.1 135.1h.9v.9h-.9zM77.1 137.1h.9v.9h-.9zM78.1 134.9h.9v.9h-.9zM62.8 136.5h.9v.9h-.9zM72.4 134.5h.9v.9h-.9zM79.2 131.9h.9v.9h-.9zM77.5 139.4h.9v.9h-.9zM63.5 134.8h.9v.9h-.9zM71.4 133.9h.9v.9h-.9zM60.2 135.5h.9v.9h-.9zM82.7 136h.9v.9h-.9zM64 137.7h.9v.9h-.9zM68 129.7h.9v.9h-.9zM73.8 133.5h.9v.9h-.9zM71.4 139.9h.9v.9h-.9zM72.7 139.4h.9v.9h-.9zM65.9 137.1h.9v.9h-.9zM57.3 131.6h.9v.9h-.9zM76.4 136.3h.9v.9h-.9zM80.7 132.6h.9v.9h-.9zM63.5 132.3h.9v.9h-.9zM71.7 128.3h.9v.9h-.9zM66.6 135.9h.9v.9h-.9zM59.6 131.7h.9v.9h-.9zM82.1 139.2h.9v.9h-.9zM62.7 130.1h.9v.9h-.9zM58.6 129h.9v.9h-.9zM79.6 136.9h.9v.9h-.9zM63.2 133.9h.9v.9h-.9zM76.6 128.3h.9v.9h-.9zM80.4 138.3h.9v.9h-.9zM61.6 136.4h.9v.9h-.9zM76.7 132h.9v.9h-.9zM82.2 130.6h.9v.9h-.9zM69.7 131.8h.9v.9h-.9zM68.7 137.7h.9v.9h-.9zM72.7 135.3h.9v.9h-.9zM61.9 135.4h.9v.9h-.9zM59.7 139.6h.9v.9h-.9zM65.6 133.3h.9v.9h-.9zM68.4 137.9h.9v.9h-.9zM83.4 136.1h.9v.9h-.9z" fill="#22B596"/>
<path d="M61.1 134.6h.7v.7h-.7zM80 131h.7v.7h-.7zM63 134.8h.7v.7h-.7zM63.1 143.8h.7v.7h-.7zM74.2 140.4h.7v.7h-.7zM58.4 126.6h.7v.7h-.7zM76.2 147.5h.7v.7h-.7zM57.2 128.1h.7v.7h-.7zM61.2 132.5h.7v.7h-.7zM78.6 143.2h.7v.7h-.7zM66.4 137.4h.7v.7h-.7zM65.2 139.8h.7v.7h-.7zM67.6 134.7h.7v.7h-.7zM63.8 133h.7v.7h-.7zM64.2 125.9h.7v.7h-.7zM66 140.6h.7v.7h-.7zM64.5 128.4h.7v.7h-.7zM84.9 137.5h.7v.7h-.7zM73.1 133.5h.7v.7h-.7zM86.4 144.7h.7v.7h-.7zM77 142.3h.7v.7h-.7zM79.5 138.3h.7v.7h-.7zM69.6 135.4h.7v.7h-.7zM72.8 137.4h.7v.7h-.7zM73.7 139.1h.7v.7h-.7zM82.9 148.3h.7v.7h-.7zM62.9 126.1h.7v.7h-.7zM65.7 126.3h.7v.7h-.7zM83.2 141.3h.7v.7h-.7zM65.1 130.4h.7v.7h-.7zM85.7 146.8h.7v.7h-.7zM79.2 143.1h.7v.7h-.7zM81.4 137.1h.7v.7h-.7zM69.1 139.6h.7v.7h-.7zM57.6 131.8h.7v.7h-.7zM73.2 133.4h.7v.7h-.7zM85.5 138.7h.7v.7h-.7zM60.2 135.4h.7v.7h-.7zM77.6 128.3h.7v.7h-.7zM74.9 149.5h.7v.7h-.7z" fill="#ffffff"/>
<path d="M80 94.9h.8v.8h-.8zM83.6 93.2h.8v.8h-.8zM74 92.2h.8v.8h-.8zM90.7 94.1h.8v.8h-.8zM75 92h.8v.8h-.8zM82.5 91h.8v.8h-.8zM83.3 93.7h.8v.8h-.8zM85.1 89.9h.8v.8h-.8zM82.9 88.9h.8v.8h-.8zM84.6 90.4h.8v.8h-.8zM88.7 94.5h.8v.8h-.8zM73.2 89.8h.8v.8h-.8zM70.7 89.5h.8v.8h-.8zM77.4 90.3h.8v.8h-.8zM84.6 93.5h.8v.8h-.8zM83 91.4h.8v.8h-.8zM86.4 89.7h.8v.8h-.8zM75.5 90.5h.8v.8h-.8zM71.5 89.7h.8v.8h-.8zM75.5 90.6h.8v.8h-.8zM89.4 94.3h.8v.8h-.8zM84.4 91.4h.8v.8h-.8zM86.5 92.4h.8v.8h-.8zM71.4 92.4h.8v.8h-.8zM78.8 92.8h.8v.8h-.8zM71.1 88.3h.8v.8h-.8zM77.6 89.3h.8v.8h-.8zM74.1 92.5h.8v.8h-.8zM81.5 94.9h.8v.8h-.8zM83 90.1h.8v.8h-.8z" fill="#6FCFC0"/>
<path d="M57,79L70,78.6L86.5,79.2L88,84L85.8,87.5L78,89.4L73.5,86.4L62.7,85L57,82.5Z" fill="#DD8C16"/>
<path d="M70.7 78.3h.8v.8h-.8zM63.3 85.1h.8v.8h-.8zM88.4 82.7h.8v.8h-.8zM71.5 85h.8v.8h-.8zM60.9 78.5h.8v.8h-.8zM69 78.7h.8v.8h-.8zM61.8 84.9h.8v.8h-.8zM60.9 78.1h.8v.8h-.8zM59.7 83.6h.8v.8h-.8zM78 79.2h.8v.8h-.8zM71.3 78.3h.8v.8h-.8zM68.6 78.5h.8v.8h-.8zM67.1 78.3h.8v.8h-.8zM85 79.2h.8v.8h-.8zM80.1 89.5h.8v.8h-.8zM58.4 78.4h.8v.8h-.8zM83.9 78.7h.8v.8h-.8zM65.8 79.4h.8v.8h-.8zM83.6 77.6h.8v.8h-.8zM59.8 79.5h.8v.8h-.8zM71.3 85h.8v.8h-.8zM59.1 83.9h.8v.8h-.8zM63.7 84.8h.8v.8h-.8zM56.9 79.1h.8v.8h-.8zM81.9 78h.8v.8h-.8zM59.3 83.4h.8v.8h-.8zM57.5 78.2h.8v.8h-.8zM57.4 82.4h.8v.8h-.8zM84.3 89h.8v.8h-.8zM61.1 78.5h.8v.8h-.8zM80.1 78.7h.8v.8h-.8zM88.7 80.5h.8v.8h-.8zM75.4 79.6h.8v.8h-.8zM71.1 78.3h.8v.8h-.8zM84 88h.8v.8h-.8zM57.7 79h.8v.8h-.8zM78 78.8h.8v.8h-.8zM61.6 78.4h.8v.8h-.8zM87.5 83h.8v.8h-.8zM57.6 83.3h.8v.8h-.8zM85.4 80.2h.8v.8h-.8zM87.6 82.8h.8v.8h-.8zM69.2 85.7h.8v.8h-.8zM79.9 89.1h.8v.8h-.8zM87.1 80.8h.8v.8h-.8zM82.1 86.6h.8v.8h-.8zM61.4 79h.8v.8h-.8zM88.1 82h.8v.8h-.8zM85.1 87.2h.8v.8h-.8zM65.1 78.6h.8v.8h-.8z" fill="#DD8C16"/>
<path d="M58,56L75,58L90,57L99.5,56L100.5,66L99.8,77.3L92,80.5L65.8,80L63,70Z" fill="#36B866"/>
<path d="M86.6 57.4h.8v.8h-.8zM65.3 56.8h.8v.8h-.8zM89.7 79.6h.8v.8h-.8zM71.9 56.3h.8v.8h-.8zM61.6 69h.8v.8h-.8zM62.3 69.5h.8v.8h-.8zM93.3 55.3h.8v.8h-.8zM101.3 71.9h.8v.8h-.8zM89.3 56.3h.8v.8h-.8zM100.3 77.2h.8v.8h-.8zM87.6 77.7h.8v.8h-.8zM65.8 81.1h.8v.8h-.8zM100.2 75.5h.8v.8h-.8zM60.3 65.3h.8v.8h-.8zM97.6 76.3h.8v.8h-.8zM63.3 56.9h.8v.8h-.8zM80.5 80.7h.8v.8h-.8zM99.1 65.3h.8v.8h-.8zM100.1 69.8h.8v.8h-.8zM62.7 69.1h.8v.8h-.8zM62.2 69.3h.8v.8h-.8zM75.9 56.9h.8v.8h-.8zM65.6 56.3h.8v.8h-.8zM100.1 68.9h.8v.8h-.8zM60.4 63.9h.8v.8h-.8zM67.8 80.2h.8v.8h-.8zM81.2 80.7h.8v.8h-.8zM66.4 80.3h.8v.8h-.8zM88.5 80.6h.8v.8h-.8zM61.8 67h.8v.8h-.8zM69.1 55.9h.8v.8h-.8zM86.8 81.9h.8v.8h-.8zM62.1 66.9h.8v.8h-.8zM100.7 77.2h.8v.8h-.8zM60.6 61.2h.8v.8h-.8zM95.1 79.7h.8v.8h-.8zM72.1 79.2h.8v.8h-.8zM100 64.4h.8v.8h-.8zM100.5 71.5h.8v.8h-.8zM79.3 56.7h.8v.8h-.8zM83.6 81.1h.8v.8h-.8zM80.9 57.5h.8v.8h-.8zM73.3 56.6h.8v.8h-.8zM88.3 79.1h.8v.8h-.8zM64.1 70.1h.8v.8h-.8zM83.1 81.1h.8v.8h-.8zM99.3 58.6h.8v.8h-.8zM100.7 56.1h.8v.8h-.8zM80.9 79.5h.8v.8h-.8zM84.5 81.2h.8v.8h-.8zM71 55.3h.8v.8h-.8zM94.7 56.8h.8v.8h-.8zM74 56.4h.8v.8h-.8zM68.2 58.9h.8v.8h-.8zM86.3 56.6h.8v.8h-.8zM100.3 73.2h.8v.8h-.8zM100.2 68h.8v.8h-.8zM60.5 55.1h.8v.8h-.8zM98.1 56.6h.8v.8h-.8zM67.8 55.8h.8v.8h-.8zM58.6 56.6h.8v.8h-.8zM98.1 56.5h.8v.8h-.8zM100.6 57.6h.8v.8h-.8zM62.1 64h.8v.8h-.8zM73.5 57.4h.8v.8h-.8zM95.1 79.6h.8v.8h-.8zM102.1 67.3h.8v.8h-.8zM94.4 78.8h.8v.8h-.8zM69.6 79.2h.8v.8h-.8zM67.6 79.5h.8v.8h-.8zM96.8 78.7h.8v.8h-.8zM75.3 79h.8v.8h-.8zM66.7 79.6h.8v.8h-.8zM76.3 58.1h.8v.8h-.8zM59.3 61.8h.8v.8h-.8zM99.4 71.1h.8v.8h-.8zM66.8 81.7h.8v.8h-.8zM66.8 79h.8v.8h-.8zM69.7 57.1h.8v.8h-.8zM90.9 55.6h.8v.8h-.8zM80.5 80.9h.8v.8h-.8zM82.1 57.7h.8v.8h-.8zM80.9 80.6h.8v.8h-.8zM80.9 57.3h.8v.8h-.8zM60.3 55.9h.8v.8h-.8zM101 62.5h.8v.8h-.8zM59.7 60.2h.8v.8h-.8zM65.7 77h.8v.8h-.8zM73.1 58.4h.8v.8h-.8zM63.1 67h.8v.8h-.8zM73.1 58.4h.8v.8h-.8zM83.5 78.6h.8v.8h-.8zM99.3 68.3h.8v.8h-.8zM98.4 60.2h.8v.8h-.8zM75.4 81.3h.8v.8h-.8zM76.7 58.2h.8v.8h-.8zM100.1 58.5h.8v.8h-.8zM102.2 65.9h.8v.8h-.8zM61.3 57.3h.8v.8h-.8zM96.9 57.4h.8v.8h-.8z" fill="#36B866"/>
<path d="M93.7 65.4h.8v.8h-.8zM65.5 58.6h.8v.8h-.8zM67.8 73.7h.8v.8h-.8zM91.6 58h.8v.8h-.8zM66 63.7h.8v.8h-.8zM90.7 74.1h.8v.8h-.8zM70.9 67.1h.8v.8h-.8zM73.1 67.6h.8v.8h-.8zM91.7 62.4h.8v.8h-.8zM92.4 78.5h.8v.8h-.8zM83.5 79.5h.8v.8h-.8zM97.9 60.2h.8v.8h-.8zM92.2 59h.8v.8h-.8zM70.9 66.8h.8v.8h-.8zM93.7 72.7h.8v.8h-.8zM66.7 78h.8v.8h-.8zM94.8 68.5h.8v.8h-.8zM70.4 66.3h.8v.8h-.8zM98.1 70.6h.8v.8h-.8zM92.8 57.7h.8v.8h-.8zM68.4 73.9h.8v.8h-.8zM72.5 61.6h.8v.8h-.8zM60.7 57.2h.8v.8h-.8zM75.5 69.4h.8v.8h-.8zM75 69.8h.8v.8h-.8zM86.7 64.2h.8v.8h-.8zM78.9 65.3h.8v.8h-.8zM70.6 63.3h.8v.8h-.8zM62.9 56.7h.8v.8h-.8zM95.4 64.8h.8v.8h-.8zM76.9 68.9h.8v.8h-.8zM59 58.5h.8v.8h-.8zM91.4 69.6h.8v.8h-.8zM79 64.4h.8v.8h-.8zM89.9 68.3h.8v.8h-.8zM91.7 76.5h.8v.8h-.8zM96 73.8h.8v.8h-.8zM86.6 67.3h.8v.8h-.8zM80.7 70.2h.8v.8h-.8zM80.3 76.1h.8v.8h-.8zM94.5 57.3h.8v.8h-.8zM90 71.1h.8v.8h-.8zM83.4 78.3h.8v.8h-.8zM74 79.2h.8v.8h-.8zM65 69.8h.8v.8h-.8zM78.8 74h.8v.8h-.8zM71 77.6h.8v.8h-.8zM89.2 77.5h.8v.8h-.8zM91 62.7h.8v.8h-.8zM89.1 57.5h.8v.8h-.8zM97.7 68.9h.8v.8h-.8zM72.4 58.6h.8v.8h-.8zM95.6 78.9h.8v.8h-.8zM63.3 66.9h.8v.8h-.8zM69.6 72.5h.8v.8h-.8zM62.7 64.2h.8v.8h-.8zM75.4 67.6h.8v.8h-.8zM76.5 70.6h.8v.8h-.8zM96.6 76.3h.8v.8h-.8zM67.7 62h.8v.8h-.8zM77.5 71.8h.8v.8h-.8zM83.8 64.6h.8v.8h-.8zM100.2 63.7h.8v.8h-.8zM58.8 58.2h.8v.8h-.8zM66.9 73.9h.8v.8h-.8zM93.7 57h.8v.8h-.8zM68.1 61.9h.8v.8h-.8zM91.4 78h.8v.8h-.8zM69.2 58.5h.8v.8h-.8zM88.5 67.6h.8v.8h-.8zM89.7 74.8h.8v.8h-.8zM79.6 62.6h.8v.8h-.8zM80.3 72.2h.8v.8h-.8zM71.8 71.7h.8v.8h-.8zM67 61.5h.8v.8h-.8zM97.3 76.6h.8v.8h-.8zM94.1 76.1h.8v.8h-.8zM82.1 57.8h.8v.8h-.8zM89.1 76.5h.8v.8h-.8zM93.6 57.1h.8v.8h-.8zM78.7 77.9h.8v.8h-.8zM100.1 67h.8v.8h-.8zM86.7 72.3h.8v.8h-.8zM87.5 65h.8v.8h-.8zM85.2 57.7h.8v.8h-.8zM96.3 73.7h.8v.8h-.8zM92.1 67.3h.8v.8h-.8zM66.7 67.1h.8v.8h-.8zM86.9 69.4h.8v.8h-.8zM74.9 62h.8v.8h-.8zM67.6 61.4h.8v.8h-.8zM75.7 73h.8v.8h-.8zM96.8 72.6h.8v.8h-.8zM83.9 73.9h.8v.8h-.8zM84.1 64.7h.8v.8h-.8zM72.4 57.7h.8v.8h-.8zM86.2 57.3h.8v.8h-.8zM86.9 78.3h.8v.8h-.8zM86.4 70.9h.8v.8h-.8zM92.3 79.5h.8v.8h-.8zM92.5 80.3h.8v.8h-.8zM84.1 71.6h.8v.8h-.8zM94.7 71h.8v.8h-.8zM93.3 71.3h.8v.8h-.8zM99.9 70.5h.8v.8h-.8zM94.2 74.9h.8v.8h-.8zM100.1 67.3h.8v.8h-.8zM96.1 65.7h.8v.8h-.8zM74.8 62.7h.8v.8h-.8zM87.4 58.4h.8v.8h-.8zM71 65.7h.8v.8h-.8zM63.3 70.7h.8v.8h-.8zM76 75.7h.8v.8h-.8zM72.4 79.9h.8v.8h-.8zM66.3 69h.8v.8h-.8zM70.8 77.9h.8v.8h-.8zM70.4 68h.8v.8h-.8zM80.3 62.5h.8v.8h-.8zM72.8 63h.8v.8h-.8zM92.7 74.9h.8v.8h-.8zM87.8 70.6h.8v.8h-.8zM94.8 74.2h.8v.8h-.8zM60.3 59.2h.8v.8h-.8zM89.8 76.6h.8v.8h-.8zM64.7 69.9h.8v.8h-.8zM84.5 70.8h.8v.8h-.8zM79.7 62.6h.8v.8h-.8zM99.7 65.4h.8v.8h-.8zM69 61.3h.8v.8h-.8zM70.9 70.9h.8v.8h-.8zM71.6 72.3h.8v.8h-.8zM95.8 78.6h.8v.8h-.8zM68.8 76.2h.8v.8h-.8zM61.2 58.4h.8v.8h-.8zM98.3 59.1h.8v.8h-.8zM88.5 68.9h.8v.8h-.8zM92.8 68.2h.8v.8h-.8zM80.4 78.7h.8v.8h-.8zM86.8 58.9h.8v.8h-.8zM88.6 73.2h.8v.8h-.8zM72 74.9h.8v.8h-.8zM82.6 66.1h.8v.8h-.8zM80.3 62.8h.8v.8h-.8zM70.2 77.8h.8v.8h-.8zM72.9 74.9h.8v.8h-.8zM73.6 60.7h.8v.8h-.8zM89.9 80.1h.8v.8h-.8zM83 57.5h.8v.8h-.8zM64.9 57.2h.8v.8h-.8zM84 71.2h.8v.8h-.8zM98.6 63.3h.8v.8h-.8zM67.9 61.4h.8v.8h-.8zM79 66.3h.8v.8h-.8zM73.6 79.3h.8v.8h-.8zM71.3 76.3h.8v.8h-.8zM80.6 58.5h.8v.8h-.8zM95.2 57.2h.8v.8h-.8zM87.8 61.7h.8v.8h-.8zM87.2 76.4h.8v.8h-.8zM88.9 62h.8v.8h-.8zM73.7 78.3h.8v.8h-.8zM60.8 63.2h.8v.8h-.8zM73 58h.8v.8h-.8zM73.1 61h.8v.8h-.8zM76.4 71.1h.8v.8h-.8zM86 58.4h.8v.8h-.8zM76.8 75.8h.8v.8h-.8zM69.2 76.2h.8v.8h-.8zM68.4 65.6h.8v.8h-.8zM81.5 69.1h.8v.8h-.8zM88.4 79.2h.8v.8h-.8zM87.5 61.5h.8v.8h-.8zM66.5 67.8h.8v.8h-.8zM70 69.6h.8v.8h-.8zM94.1 77.6h.8v.8h-.8zM74.6 80.1h.8v.8h-.8zM65.2 73.8h.8v.8h-.8zM98 61.1h.8v.8h-.8zM83.8 67.7h.8v.8h-.8zM63.8 59.3h.8v.8h-.8zM83.2 71.8h.8v.8h-.8zM92 76.3h.8v.8h-.8zM63.8 63.4h.8v.8h-.8zM64.1 68h.8v.8h-.8zM87 75.8h.8v.8h-.8zM78.8 78.3h.8v.8h-.8zM93.5 76.3h.8v.8h-.8zM92.3 61.3h.8v.8h-.8zM90.5 67.6h.8v.8h-.8zM99.9 63.1h.8v.8h-.8zM76.3 77.2h.8v.8h-.8zM99.2 74.5h.8v.8h-.8zM95.5 78.6h.8v.8h-.8zM69.5 71.1h.8v.8h-.8zM98.5 68.4h.8v.8h-.8zM64.2 69.9h.8v.8h-.8zM92.8 74.1h.8v.8h-.8zM94.3 67.2h.8v.8h-.8zM91.5 70h.8v.8h-.8zM75.3 59.6h.8v.8h-.8zM63.1 57.9h.8v.8h-.8zM76.1 59.4h.8v.8h-.8zM93.2 70.9h.8v.8h-.8zM94.8 69.6h.8v.8h-.8zM64.8 62.8h.8v.8h-.8zM93.7 70.3h.8v.8h-.8zM85.5 71.5h.8v.8h-.8zM60 60.9h.8v.8h-.8zM76.3 76.7h.8v.8h-.8zM98.1 70.5h.8v.8h-.8zM81.7 66h.8v.8h-.8zM97.6 61.1h.8v.8h-.8zM95 59.8h.8v.8h-.8zM68.5 71.1h.8v.8h-.8zM96.8 74.3h.8v.8h-.8zM69.9 70.9h.8v.8h-.8zM70.3 74.6h.8v.8h-.8zM69 77.3h.8v.8h-.8zM86.8 77.9h.8v.8h-.8zM72.7 79.4h.8v.8h-.8zM82.7 62.3h.8v.8h-.8zM85.5 63.6h.8v.8h-.8zM62.8 57h.8v.8h-.8zM83.9 61.9h.8v.8h-.8zM69.6 64.9h.8v.8h-.8zM97.6 76.3h.8v.8h-.8zM83.7 78.9h.8v.8h-.8zM84.5 70.3h.8v.8h-.8zM71.8 65.3h.8v.8h-.8zM82.2 62.1h.8v.8h-.8zM85.3 77.2h.8v.8h-.8zM88.6 61.5h.8v.8h-.8zM76.4 76.7h.8v.8h-.8zM81.2 68.7h.8v.8h-.8zM83.7 69.5h.8v.8h-.8zM86.8 69.7h.8v.8h-.8zM81.5 61.8h.8v.8h-.8zM63.2 66.8h.8v.8h-.8zM70.5 70.1h.8v.8h-.8zM80 67.1h.8v.8h-.8zM65.6 75.3h.8v.8h-.8zM61.6 61.6h.8v.8h-.8zM69.8 61h.8v.8h-.8zM66.2 58h.8v.8h-.8zM80.3 60.2h.8v.8h-.8zM85.3 70.7h.8v.8h-.8zM84.5 67.8h.8v.8h-.8zM84 63.2h.8v.8h-.8zM77.7 72.9h.8v.8h-.8zM67.2 74h.8v.8h-.8zM82.9 79.9h.8v.8h-.8zM84.2 69.4h.8v.8h-.8zM90.6 63.1h.8v.8h-.8zM73.8 66.6h.8v.8h-.8zM89.2 73.6h.8v.8h-.8zM65.9 79.4h.8v.8h-.8zM99.7 68.1h.8v.8h-.8zM74.3 58.1h.8v.8h-.8zM88.5 71.1h.8v.8h-.8zM91.3 66.7h.8v.8h-.8zM89.5 70.8h.8v.8h-.8zM85 69.4h.8v.8h-.8zM86.4 69.7h.8v.8h-.8zM87.9 66.5h.8v.8h-.8zM99.2 67.8h.8v.8h-.8zM65.1 68.5h.8v.8h-.8zM73.2 60.1h.8v.8h-.8zM95.8 60.3h.8v.8h-.8zM88.3 60.2h.8v.8h-.8zM96.6 67h.8v.8h-.8zM85.1 67.3h.8v.8h-.8zM65 64.7h.8v.8h-.8zM76.7 77.3h.8v.8h-.8zM62.8 69.2h.8v.8h-.8zM78 69.5h.8v.8h-.8zM91.7 70.7h.8v.8h-.8zM71.7 79.4h.8v.8h-.8zM83.5 62.6h.8v.8h-.8zM81.3 77.3h.8v.8h-.8zM78.7 63.1h.8v.8h-.8zM64.8 61.7h.8v.8h-.8zM76.6 66.3h.8v.8h-.8zM83.6 62.6h.8v.8h-.8zM84.4 67.6h.8v.8h-.8zM91.8 75.7h.8v.8h-.8zM68.1 79.9h.8v.8h-.8zM81.2 64.2h.8v.8h-.8zM68.8 73.5h.8v.8h-.8zM76.6 72.8h.8v.8h-.8zM68.9 77.1h.8v.8h-.8zM69.2 77.3h.8v.8h-.8zM76.6 65.8h.8v.8h-.8zM82.5 68.8h.8v.8h-.8zM81.3 69.7h.8v.8h-.8zM98.4 74.2h.8v.8h-.8zM58.7 57.3h.8v.8h-.8zM92.8 62.8h.8v.8h-.8zM79 76.7h.8v.8h-.8zM58.5 57.3h.8v.8h-.8zM71.4 68h.8v.8h-.8z" fill="#ffffff"/>
<defs><linearGradient id="olv" gradientUnits="userSpaceOnUse" x1="0" y1="55" x2="0" y2="80"><stop offset="0" stop-color="#E09848"/><stop offset="0.25" stop-color="#CCB030"/><stop offset="1" stop-color="#B2A420"/></linearGradient></defs>
<path d="M47.5,56L56,57.2L62,60L63.5,70L65,78.5L60,80.5L56,78L53.5,71L50.4,65Z" fill="url(#olv)"/>
<path d="M47.3 56.9h.8v.8h-.8zM60.3 79.6h.8v.8h-.8zM61.6 61.6h.8v.8h-.8zM55.6 56.7h.8v.8h-.8zM59.2 59.4h.8v.8h-.8zM62.2 63.1h.8v.8h-.8zM62.5 61.9h.8v.8h-.8zM55.3 76.7h.8v.8h-.8zM59.7 78h.8v.8h-.8zM63.9 67.3h.8v.8h-.8zM64.6 79h.8v.8h-.8zM56.5 78.3h.8v.8h-.8zM52.7 56.7h.8v.8h-.8zM62.5 61.8h.8v.8h-.8zM56.3 55.7h.8v.8h-.8zM56.8 79.3h.8v.8h-.8zM55.5 73.6h.8v.8h-.8zM62.3 61.3h.8v.8h-.8zM55.6 57.2h.8v.8h-.8zM60.9 81.6h.8v.8h-.8zM64.9 72.4h.8v.8h-.8zM64.5 74.4h.8v.8h-.8zM64.5 72.4h.8v.8h-.8zM48.9 60.5h.8v.8h-.8zM63.1 79.6h.8v.8h-.8zM53.9 70.3h.8v.8h-.8zM65 79.7h.8v.8h-.8zM61.9 62.2h.8v.8h-.8zM58.1 80.4h.8v.8h-.8zM64.3 72.5h.8v.8h-.8zM54 57h.8v.8h-.8zM63.5 64.7h.8v.8h-.8zM54.5 73.2h.8v.8h-.8zM55.5 57.5h.8v.8h-.8zM50.7 55.2h.8v.8h-.8zM64.6 69.7h.8v.8h-.8zM56.9 77.6h.8v.8h-.8zM52.2 57.8h.8v.8h-.8zM53.4 71.4h.8v.8h-.8zM51.6 68.1h.8v.8h-.8z" fill="#B8A41E"/>
<path d="M41.6,40.8L46,37.3L50,34.8L58,32L67,29.8L75,28L83,28.5L89.6,31.2L98,34.2L100.5,40L101.2,45L102,52L102,57.3L97.3,60.4L85.8,61.2L73.5,62L65.8,60.4L55,58.5L50.4,57.3L47.3,52.7L44.2,46.5Z" fill="#EF6B61"/>
<path d="M68.2 29.9h.8v.8h-.8zM101.3 54.5h.8v.8h-.8zM86.8 60.6h.8v.8h-.8zM100 36.8h.8v.8h-.8zM51.8 57.1h.8v.8h-.8zM66.5 59.7h.8v.8h-.8zM78.3 28.9h.8v.8h-.8zM76.6 27.5h.8v.8h-.8zM91.8 61h.8v.8h-.8zM85.3 28.1h.8v.8h-.8zM87.7 31.3h.8v.8h-.8zM99.6 39.2h.8v.8h-.8zM68 59.6h.8v.8h-.8zM42.6 45.1h.8v.8h-.8zM84.9 62.6h.8v.8h-.8zM99 38.3h.8v.8h-.8zM95.3 33h.8v.8h-.8zM101.9 47.4h.8v.8h-.8zM49.8 54.1h.8v.8h-.8zM83.9 28.7h.8v.8h-.8zM49.7 36.5h.8v.8h-.8zM82.7 60.1h.8v.8h-.8zM66.3 29.9h.8v.8h-.8zM95.3 33.8h.8v.8h-.8zM83.5 28.4h.8v.8h-.8zM79.7 28.6h.8v.8h-.8zM95.4 59.7h.8v.8h-.8zM45.6 48.7h.8v.8h-.8zM51.6 58.1h.8v.8h-.8zM98.8 57.2h.8v.8h-.8zM83 62.1h.8v.8h-.8zM101.7 47.4h.8v.8h-.8zM89.7 60.2h.8v.8h-.8zM77.7 28.4h.8v.8h-.8zM92.4 32.1h.8v.8h-.8zM78.3 28.3h.8v.8h-.8zM101.9 54.3h.8v.8h-.8zM47.5 53.7h.8v.8h-.8zM83.9 28.2h.8v.8h-.8zM55.7 60.6h.8v.8h-.8zM81.1 62.7h.8v.8h-.8zM62.7 31.2h.8v.8h-.8zM90 31.8h.8v.8h-.8zM100 36.9h.8v.8h-.8zM92.9 31.6h.8v.8h-.8zM44.2 43.5h.8v.8h-.8zM57.9 57.8h.8v.8h-.8zM99.3 37.7h.8v.8h-.8zM94.1 34h.8v.8h-.8zM42.5 39.8h.8v.8h-.8zM98.7 39.4h.8v.8h-.8zM89.2 62h.8v.8h-.8zM74.8 27.5h.8v.8h-.8zM43.9 47.2h.8v.8h-.8zM87.5 29.8h.8v.8h-.8zM75.4 27.8h.8v.8h-.8zM46.2 49.5h.8v.8h-.8zM73.1 62h.8v.8h-.8zM82.1 61.6h.8v.8h-.8zM66.4 30.4h.8v.8h-.8zM83.5 28.8h.8v.8h-.8zM102 54.5h.8v.8h-.8zM54.1 33h.8v.8h-.8zM60.3 31.3h.8v.8h-.8zM63.9 60.2h.8v.8h-.8zM97.5 33.8h.8v.8h-.8zM98.3 34.2h.8v.8h-.8zM100.1 40.6h.8v.8h-.8zM52.9 33.6h.8v.8h-.8zM40.4 40.4h.8v.8h-.8zM92.8 60.7h.8v.8h-.8zM85.8 61.5h.8v.8h-.8zM46.7 37.2h.8v.8h-.8zM67.6 61h.8v.8h-.8zM64.7 60.2h.8v.8h-.8zM98.6 35h.8v.8h-.8zM47.7 36.9h.8v.8h-.8zM102.3 57.4h.8v.8h-.8zM81.5 62h.8v.8h-.8zM90.8 61.4h.8v.8h-.8zM91.3 31.4h.8v.8h-.8zM100.8 50h.8v.8h-.8zM48.6 37h.8v.8h-.8zM62.3 30.7h.8v.8h-.8zM91.8 59.4h.8v.8h-.8zM43 45.8h.8v.8h-.8zM70.4 61.3h.8v.8h-.8zM79.8 27.9h.8v.8h-.8zM52 58h.8v.8h-.8zM50.9 32.6h.8v.8h-.8zM90.1 60.9h.8v.8h-.8zM99.7 38.2h.8v.8h-.8zM63.2 60h.8v.8h-.8zM91.7 59.8h.8v.8h-.8zM67.5 29.6h.8v.8h-.8zM101.5 52.6h.8v.8h-.8zM80.5 28.8h.8v.8h-.8zM45.9 35.9h.8v.8h-.8zM78.7 27.9h.8v.8h-.8zM102.2 43.9h.8v.8h-.8zM101.3 44.6h.8v.8h-.8zM87.6 30.5h.8v.8h-.8zM70.2 61.1h.8v.8h-.8zM71.7 62.8h.8v.8h-.8zM89.9 60.7h.8v.8h-.8zM94.7 32.6h.8v.8h-.8zM45 37.9h.8v.8h-.8zM88.9 61.3h.8v.8h-.8zM57.6 57.8h.8v.8h-.8zM71.1 28.8h.8v.8h-.8zM65 31.9h.8v.8h-.8zM46.6 38.5h.8v.8h-.8zM68.3 61.2h.8v.8h-.8zM56 58h.8v.8h-.8zM99.6 60.3h.8v.8h-.8zM86.5 60h.8v.8h-.8zM102.8 51.5h.8v.8h-.8zM100 41.8h.8v.8h-.8zM96 60.3h.8v.8h-.8zM49.5 54.6h.8v.8h-.8zM44.2 37.4h.8v.8h-.8zM43 46h.8v.8h-.8zM69.3 62h.8v.8h-.8zM100.9 42.3h.8v.8h-.8zM94.3 31.9h.8v.8h-.8zM89.6 31.1h.8v.8h-.8zM70.3 60h.8v.8h-.8zM49.4 35.9h.8v.8h-.8zM85.1 28.8h.8v.8h-.8zM43.1 39.5h.8v.8h-.8zM44.2 37.4h.8v.8h-.8zM102.5 58h.8v.8h-.8zM101.8 55.3h.8v.8h-.8zM62.6 30.8h.8v.8h-.8zM95.4 59.9h.8v.8h-.8zM92.3 62.1h.8v.8h-.8zM69.6 28.3h.8v.8h-.8zM60.9 59.5h.8v.8h-.8zM42.7 42h.8v.8h-.8zM80 28h.8v.8h-.8zM67.5 30.6h.8v.8h-.8zM99.3 33.5h.8v.8h-.8zM101.6 56.7h.8v.8h-.8zM49.4 37h.8v.8h-.8zM87.2 29.4h.8v.8h-.8zM97.1 33h.8v.8h-.8zM44.4 45.7h.8v.8h-.8zM87.9 61.5h.8v.8h-.8zM90.7 31.3h.8v.8h-.8zM53 34.9h.8v.8h-.8zM46.3 48.5h.8v.8h-.8zM53.8 32.6h.8v.8h-.8zM64.6 59.5h.8v.8h-.8zM65.8 30.4h.8v.8h-.8zM100.1 42.6h.8v.8h-.8zM47.7 35.8h.8v.8h-.8zM55.9 32.6h.8v.8h-.8zM93.6 60.2h.8v.8h-.8zM93.3 33.2h.8v.8h-.8zM94.6 32.5h.8v.8h-.8zM50.7 34.7h.8v.8h-.8zM45.7 50h.8v.8h-.8zM102.1 44.8h.8v.8h-.8zM51.1 35.3h.8v.8h-.8zM102.2 58.1h.8v.8h-.8zM86.9 29.9h.8v.8h-.8zM55.7 58.9h.8v.8h-.8zM83.7 28.6h.8v.8h-.8zM47.7 53.9h.8v.8h-.8zM49 35h.8v.8h-.8zM68.5 30.5h.8v.8h-.8zM87.6 61.5h.8v.8h-.8zM92.8 60.9h.8v.8h-.8zM79.8 60.6h.8v.8h-.8zM54.3 58.9h.8v.8h-.8zM92.6 59.9h.8v.8h-.8zM100.3 59.1h.8v.8h-.8zM53.7 34.2h.8v.8h-.8zM54.4 32.4h.8v.8h-.8zM63 30.8h.8v.8h-.8zM41.7 40.8h.8v.8h-.8zM87.1 30.2h.8v.8h-.8zM42.8 39.4h.8v.8h-.8zM76.3 27.3h.8v.8h-.8zM102.1 50.4h.8v.8h-.8zM69.9 60.5h.8v.8h-.8zM71.4 62h.8v.8h-.8zM100.9 39.6h.8v.8h-.8zM76.5 28.2h.8v.8h-.8zM94.8 60h.8v.8h-.8zM79 60.4h.8v.8h-.8zM46.1 51.6h.8v.8h-.8zM98.8 57.8h.8v.8h-.8zM85.6 30.3h.8v.8h-.8zM86.7 29h.8v.8h-.8zM42.1 41.7h.8v.8h-.8zM98.2 34.7h.8v.8h-.8zM55.8 30.5h.8v.8h-.8zM52.9 32.8h.8v.8h-.8zM90.6 60.8h.8v.8h-.8z" fill="#EF6B61"/>
<path d="M101.4 57.7h.8v.8h-.8zM67.9 55.6h.8v.8h-.8zM81.9 55.4h.8v.8h-.8zM54.4 35.9h.8v.8h-.8zM91 59.4h.8v.8h-.8zM55.3 44.5h.8v.8h-.8zM95.3 52.6h.8v.8h-.8zM77 58.4h.8v.8h-.8zM78.7 53.6h.8v.8h-.8zM59.3 38.4h.8v.8h-.8zM96.3 54.9h.8v.8h-.8zM79.4 53.1h.8v.8h-.8zM99.4 52.7h.8v.8h-.8zM52.1 36.8h.8v.8h-.8zM76.1 39h.8v.8h-.8zM83 55.7h.8v.8h-.8zM49.1 45.5h.8v.8h-.8zM73.9 55.6h.8v.8h-.8zM88.4 53h.8v.8h-.8zM62.3 44.7h.8v.8h-.8zM46.6 49.8h.8v.8h-.8zM53 43.6h.8v.8h-.8zM89.3 47.2h.8v.8h-.8zM81.5 29.8h.8v.8h-.8zM53.6 47.9h.8v.8h-.8zM85.4 31.1h.8v.8h-.8zM47.1 38.7h.8v.8h-.8zM66.6 39.3h.8v.8h-.8zM80.6 60.4h.8v.8h-.8zM79.9 59.3h.8v.8h-.8zM49.3 48.9h.8v.8h-.8zM63.6 56.8h.8v.8h-.8zM77.8 48.9h.8v.8h-.8zM49.9 42.9h.8v.8h-.8zM46.8 47.1h.8v.8h-.8zM55.1 51.8h.8v.8h-.8zM57.8 45.7h.8v.8h-.8zM84.9 32h.8v.8h-.8zM79.1 32.4h.8v.8h-.8zM73.6 31.2h.8v.8h-.8z" fill="#F59890"/>
<path d="M97.3,104.5L99,102L100.8,97.5L102,94L100.3,91L101.5,87.5L104,85.6L107,85.2L109,86.5L108,89.5L105.5,93L103.5,97.5L101.5,101.5L99.5,104.8Z" fill="#7DBA1E"/>
<path d="M100 92h.8v.8h-.8zM107.1 91.2h.8v.8h-.8zM101.4 89.5h.8v.8h-.8zM101.5 88.1h.8v.8h-.8zM103.7 85.5h.8v.8h-.8zM102.2 98.7h.8v.8h-.8zM100.6 93.4h.8v.8h-.8zM99 101h.8v.8h-.8zM100.3 91.7h.8v.8h-.8zM108.9 88.2h.8v.8h-.8zM101.7 93.6h.8v.8h-.8zM105.9 92.6h.8v.8h-.8zM101 96.7h.8v.8h-.8zM103.1 98.5h.8v.8h-.8zM98.3 103.9h.8v.8h-.8zM104.3 85.8h.8v.8h-.8zM100.6 98.6h.8v.8h-.8zM101.1 91.1h.8v.8h-.8zM99.6 99.7h.8v.8h-.8zM102.6 93.3h.8v.8h-.8zM103.6 96.4h.8v.8h-.8zM98.7 104.4h.8v.8h-.8zM98 102.3h.8v.8h-.8zM103 100.8h.8v.8h-.8zM102.5 93.4h.8v.8h-.8zM98.8 104.4h.8v.8h-.8zM103.3 96.9h.8v.8h-.8zM98.4 103.3h.8v.8h-.8zM103.2 96.5h.8v.8h-.8zM109.3 85.5h.8v.8h-.8z" fill="#7DBA1E"/>
<path d="M50.8,111.5L53.5,104L56.5,100L57,102L54,110L52,114Z" fill="#E8665C"/>
<path d="M150,80L156,77L160,77L158,84L156,90L153,96L146,99L142,99L146,93L150,87Z" fill="#EFEAF7"/>
<path d="M155.9 90.5h.8v.8h-.8zM156.5 88.4h.8v.8h-.8zM157.5 91.3h.8v.8h-.8zM147.1 90.9h.8v.8h-.8zM158.4 82.2h.8v.8h-.8zM154.5 77.8h.8v.8h-.8zM156.7 77.7h.8v.8h-.8zM142.8 96.1h.8v.8h-.8zM158.4 82.1h.8v.8h-.8zM149.5 85.3h.8v.8h-.8zM147.6 90.8h.8v.8h-.8zM150.4 87.3h.8v.8h-.8zM146.2 91.3h.8v.8h-.8zM155.2 91.8h.8v.8h-.8zM146.4 92.7h.8v.8h-.8zM147.8 97.6h.8v.8h-.8zM152.3 78.5h.8v.8h-.8zM143.3 97.2h.8v.8h-.8zM148.3 91.9h.8v.8h-.8zM141.6 97.2h.8v.8h-.8zM144.6 98.6h.8v.8h-.8zM154.9 92.5h.8v.8h-.8zM146.9 94.2h.8v.8h-.8zM149.9 88.8h.8v.8h-.8zM145.2 95.6h.8v.8h-.8zM154.1 97.2h.8v.8h-.8zM156.2 89.9h.8v.8h-.8zM148.9 99h.8v.8h-.8zM143.6 99.2h.8v.8h-.8zM152.4 77.6h.8v.8h-.8zM151.5 96.2h.8v.8h-.8zM150.5 86.2h.8v.8h-.8zM146.3 92.8h.8v.8h-.8zM154.1 94.3h.8v.8h-.8zM154.3 76.8h.8v.8h-.8zM156.6 87.1h.8v.8h-.8zM145.3 99.4h.8v.8h-.8zM147.8 97.4h.8v.8h-.8zM150.6 78.5h.8v.8h-.8zM158.4 84.5h.8v.8h-.8zM159.1 81.2h.8v.8h-.8zM145.6 98.1h.8v.8h-.8zM147.9 97.6h.8v.8h-.8zM156.6 84.7h.8v.8h-.8zM149.3 82.8h.8v.8h-.8zM157.4 88.1h.8v.8h-.8zM158.1 80.1h.8v.8h-.8zM144.3 99h.8v.8h-.8zM159.9 79.8h.8v.8h-.8zM148.6 85.8h.8v.8h-.8zM158.8 79.1h.8v.8h-.8zM157.6 83.7h.8v.8h-.8zM143.4 99.1h.8v.8h-.8zM149.5 81.4h.8v.8h-.8zM149 79.4h.8v.8h-.8zM152.4 95.4h.8v.8h-.8zM158 84.2h.8v.8h-.8zM143.4 97.7h.8v.8h-.8zM153.1 96.5h.8v.8h-.8zM142.1 98.3h.8v.8h-.8zM152.4 96.8h.8v.8h-.8zM152.2 79.3h.8v.8h-.8zM156.1 88h.8v.8h-.8zM155.9 79.1h.8v.8h-.8zM150.4 80.7h.8v.8h-.8zM159.5 79h.8v.8h-.8zM157.6 75.3h.8v.8h-.8zM150.4 84.2h.8v.8h-.8zM146 94.7h.8v.8h-.8zM150.1 80.5h.8v.8h-.8z" fill="#B9A3DD"/>
<path d="M144.8 90.8h.8v.8h-.8zM149.6 80.9h.8v.8h-.8zM143.1 96.3h.8v.8h-.8zM142.6 97.9h.8v.8h-.8zM146.9 86.6h.8v.8h-.8zM151.4 78.1h.8v.8h-.8zM148.5 84.4h.8v.8h-.8zM145.7 91.6h.8v.8h-.8zM146.5 85.7h.8v.8h-.8zM148.9 83.4h.8v.8h-.8zM146.9 85.2h.8v.8h-.8zM147.8 83.2h.8v.8h-.8zM146.8 85.5h.8v.8h-.8zM148.4 83.9h.8v.8h-.8zM150.2 78.4h.8v.8h-.8zM148.3 85.4h.8v.8h-.8zM148.6 85.6h.8v.8h-.8zM144.4 94.8h.8v.8h-.8zM147.9 86.2h.8v.8h-.8zM148.7 82.6h.8v.8h-.8zM148.9 81.7h.8v.8h-.8zM147.3 87.6h.8v.8h-.8zM150.3 82h.8v.8h-.8zM150.5 77.6h.8v.8h-.8zM144.8 91.3h.8v.8h-.8zM150.2 80.3h.8v.8h-.8zM147.5 86.4h.8v.8h-.8zM147.1 87.7h.8v.8h-.8zM150.3 79.3h.8v.8h-.8zM148.3 84.2h.8v.8h-.8zM145.6 89.5h.8v.8h-.8zM145 92.5h.8v.8h-.8zM142.5 96h.8v.8h-.8zM144.6 91.3h.8v.8h-.8zM147.6 85h.8v.8h-.8z" fill="#6A5A9A"/>
<path d="M154.6 85.1h.8v.8h-.8zM155.4 88h.8v.8h-.8zM153.5 92.1h.8v.8h-.8zM153.3 80.9h.8v.8h-.8zM152.2 86.4h.8v.8h-.8zM146.6 98.2h.8v.8h-.8zM150.8 86.9h.8v.8h-.8zM150.1 87.5h.8v.8h-.8zM154.2 88.3h.8v.8h-.8zM149.4 91.9h.8v.8h-.8zM150.9 82.5h.8v.8h-.8zM152.5 87.2h.8v.8h-.8zM155.4 90.6h.8v.8h-.8zM151.1 79.5h.8v.8h-.8zM155.1 81.3h.8v.8h-.8zM148.8 89.8h.8v.8h-.8zM146.8 96h.8v.8h-.8zM153.7 90h.8v.8h-.8zM148.7 93.5h.8v.8h-.8zM152 82.9h.8v.8h-.8zM151.2 83.4h.8v.8h-.8zM151.8 90h.8v.8h-.8zM149.5 97h.8v.8h-.8zM157 80.9h.8v.8h-.8zM148.5 93.4h.8v.8h-.8zM149.6 92.3h.8v.8h-.8zM151.1 90.9h.8v.8h-.8zM150.6 85.5h.8v.8h-.8zM154.9 91.7h.8v.8h-.8zM152.2 96h.8v.8h-.8zM153.5 91.2h.8v.8h-.8zM155.7 85.6h.8v.8h-.8zM149.7 91.3h.8v.8h-.8zM145.7 93.6h.8v.8h-.8zM153.1 84.6h.8v.8h-.8zM151.7 88.8h.8v.8h-.8zM151.2 90.6h.8v.8h-.8zM150.5 91.1h.8v.8h-.8zM150.1 92h.8v.8h-.8zM146.2 98.1h.8v.8h-.8zM153.4 85h.8v.8h-.8zM152.4 82.4h.8v.8h-.8zM158.8 79.3h.8v.8h-.8zM154.6 78.4h.8v.8h-.8zM151.6 84.2h.8v.8h-.8zM157.1 77.6h.8v.8h-.8zM146.2 98.7h.8v.8h-.8zM151.5 85.4h.8v.8h-.8zM150.4 81h.8v.8h-.8zM151.3 89.7h.8v.8h-.8zM152.3 93.3h.8v.8h-.8zM150.2 81.7h.8v.8h-.8zM159 79.6h.8v.8h-.8zM157.5 83.7h.8v.8h-.8zM151.8 90.4h.8v.8h-.8zM158.9 79.5h.8v.8h-.8zM150.3 91.7h.8v.8h-.8zM148.7 97.8h.8v.8h-.8zM150.9 96.1h.8v.8h-.8zM150.9 95.9h.8v.8h-.8zM155.7 86.1h.8v.8h-.8zM154.8 88.4h.8v.8h-.8zM144 96.8h.8v.8h-.8zM146.2 94.1h.8v.8h-.8zM148.9 89.1h.8v.8h-.8zM149.8 93.7h.8v.8h-.8zM153.8 83.1h.8v.8h-.8zM151.1 93.8h.8v.8h-.8zM152.6 85.4h.8v.8h-.8zM146.3 93.2h.8v.8h-.8zM155.3 84.8h.8v.8h-.8zM157.9 80.6h.8v.8h-.8zM151.6 94.4h.8v.8h-.8zM147.6 96.8h.8v.8h-.8zM153.4 92.2h.8v.8h-.8zM152.3 81.7h.8v.8h-.8zM157.8 78.4h.8v.8h-.8zM151.1 85.9h.8v.8h-.8zM152.8 93.4h.8v.8h-.8zM150.4 96.4h.8v.8h-.8zM155.8 88.2h.8v.8h-.8zM149.7 90.2h.8v.8h-.8zM147.1 96.9h.8v.8h-.8zM150.7 95.2h.8v.8h-.8zM146.7 96.5h.8v.8h-.8zM151.8 89h.8v.8h-.8zM152.1 88.8h.8v.8h-.8zM154 79.1h.8v.8h-.8zM147.3 92.9h.8v.8h-.8zM147.5 97.3h.8v.8h-.8z" fill="#B49BDA"/>
<path d="M152.5,59L155,57L158.5,56.6L161,58L161.5,66L160.5,74L158,79L154,79L152,72L151.8,64Z" fill="#3A8FD8"/>
<path d="M155.5 58h.8v.8h-.8zM153.1 77h.8v.8h-.8zM160.7 68.4h.8v.8h-.8zM157.9 77h.8v.8h-.8zM160.6 62.3h.8v.8h-.8zM150.7 66.1h.8v.8h-.8zM151.4 63.5h.8v.8h-.8zM151.6 60.4h.8v.8h-.8zM151.4 70.9h.8v.8h-.8zM153.6 78.3h.8v.8h-.8zM152.7 57.6h.8v.8h-.8zM153.4 73.4h.8v.8h-.8zM157.2 57.9h.8v.8h-.8zM158.5 55.9h.8v.8h-.8zM160 58.3h.8v.8h-.8zM154.4 78.1h.8v.8h-.8zM161.5 58.3h.8v.8h-.8zM153 58.6h.8v.8h-.8zM152.5 63.6h.8v.8h-.8zM153 58.7h.8v.8h-.8zM153.8 77.4h.8v.8h-.8zM158.2 57.6h.8v.8h-.8zM157.6 57.7h.8v.8h-.8zM161.4 71.8h.8v.8h-.8zM161.4 67.2h.8v.8h-.8zM152.1 68.1h.8v.8h-.8zM158.1 78.3h.8v.8h-.8zM151.4 64.5h.8v.8h-.8zM156.8 56.5h.8v.8h-.8zM153.8 77h.8v.8h-.8zM159.9 74.4h.8v.8h-.8zM160.5 56.8h.8v.8h-.8zM152.2 72.4h.8v.8h-.8zM158 79.2h.8v.8h-.8zM160.8 71.8h.8v.8h-.8zM161.2 69.7h.8v.8h-.8zM161.8 60.4h.8v.8h-.8zM161.2 69.3h.8v.8h-.8zM153.3 60.5h.8v.8h-.8zM161.2 69.1h.8v.8h-.8z" fill="#3A8FD8"/>
<path d="M155.8 72.1h.8v.8h-.8zM154 76.8h.8v.8h-.8zM158.8 79h.8v.8h-.8zM155 77.4h.8v.8h-.8zM155.7 75.6h.8v.8h-.8zM155.2 74.9h.8v.8h-.8zM160.3 73.8h.8v.8h-.8zM156.4 78.4h.8v.8h-.8zM156.6 77.7h.8v.8h-.8zM157.3 74.4h.8v.8h-.8zM158.8 76.6h.8v.8h-.8zM156 79h.8v.8h-.8zM158.8 77h.8v.8h-.8zM156.8 77.2h.8v.8h-.8zM159.9 74.9h.8v.8h-.8zM158.9 76.9h.8v.8h-.8zM157 77.4h.8v.8h-.8zM156.9 72.8h.8v.8h-.8zM157.2 77.3h.8v.8h-.8zM154.3 75.2h.8v.8h-.8zM159.7 72.1h.8v.8h-.8zM159.9 74.5h.8v.8h-.8zM155.9 76.9h.8v.8h-.8zM157.6 74h.8v.8h-.8zM154.2 74.9h.8v.8h-.8zM158.7 76.9h.8v.8h-.8zM158.5 78.4h.8v.8h-.8zM154.3 73h.8v.8h-.8zM159.7 72.1h.8v.8h-.8zM157.2 74.8h.8v.8h-.8zM160.3 76.4h.8v.8h-.8zM154.8 72.5h.8v.8h-.8zM156.8 75.9h.8v.8h-.8zM156.7 76.1h.8v.8h-.8zM153.5 74.5h.8v.8h-.8zM159.6 74h.8v.8h-.8zM154.5 73.2h.8v.8h-.8zM156.2 74.3h.8v.8h-.8zM155.9 78.2h.8v.8h-.8zM159.9 76.8h.8v.8h-.8z" fill="#2A55A8"/>
<path d="M158,84L163,81.5L168,84L169.5,90L169,97L165,100.5L159,100.5L156,95L156.5,89Z" fill="#9C72C8"/>
<path d="M164 81.6h.8v.8h-.8zM157.1 97.5h.8v.8h-.8zM159.6 102h.8v.8h-.8zM166.2 82.6h.8v.8h-.8zM160.1 83.5h.8v.8h-.8zM156.6 94h.8v.8h-.8zM166 83.6h.8v.8h-.8zM169.7 90.8h.8v.8h-.8zM157.9 83.8h.8v.8h-.8zM169.1 90.1h.8v.8h-.8zM157 86.4h.8v.8h-.8zM157.8 85h.8v.8h-.8zM161 99.4h.8v.8h-.8zM166.9 98.1h.8v.8h-.8zM157.1 85.4h.8v.8h-.8zM166.4 99.5h.8v.8h-.8zM155.6 87.1h.8v.8h-.8zM168.5 89.5h.8v.8h-.8zM166.1 99.1h.8v.8h-.8zM166.4 82.5h.8v.8h-.8zM170.3 95.2h.8v.8h-.8zM157.7 83.7h.8v.8h-.8zM161.7 82.6h.8v.8h-.8zM161.6 82.4h.8v.8h-.8zM169.5 94.8h.8v.8h-.8zM156.8 86.3h.8v.8h-.8zM168.5 97.1h.8v.8h-.8zM166.4 81.6h.8v.8h-.8zM162.5 100.2h.8v.8h-.8zM164.8 99.6h.8v.8h-.8zM170 92.5h.8v.8h-.8zM156 93.3h.8v.8h-.8zM157 93.3h.8v.8h-.8zM166.3 83.7h.8v.8h-.8zM161.6 99.1h.8v.8h-.8zM167.3 98.7h.8v.8h-.8zM162.4 82.3h.8v.8h-.8zM169.9 89.5h.8v.8h-.8zM168.2 91.9h.8v.8h-.8zM166.4 83.3h.8v.8h-.8zM168.8 97.5h.8v.8h-.8zM168.6 88.1h.8v.8h-.8zM166.7 97.6h.8v.8h-.8zM158.2 89.3h.8v.8h-.8zM155.6 92.7h.8v.8h-.8zM167.7 84.9h.8v.8h-.8zM170.2 95.9h.8v.8h-.8zM164.2 83.8h.8v.8h-.8zM167.3 83h.8v.8h-.8zM155.4 95.3h.8v.8h-.8zM158.6 99.4h.8v.8h-.8zM159.3 100.9h.8v.8h-.8zM156.7 96.1h.8v.8h-.8zM163 81.5h.8v.8h-.8zM170.1 91.7h.8v.8h-.8zM167.8 98.6h.8v.8h-.8zM162.7 81.2h.8v.8h-.8zM167.1 84.1h.8v.8h-.8zM159.8 101.1h.8v.8h-.8zM168 87.1h.8v.8h-.8z" fill="#9C72C8"/>
<path d="M142,98L148,96L152.5,97L152,102.5L143,103Z" fill="#A07FCC"/>
<path d="M146.2 97.3h.8v.8h-.8zM150 96.2h.8v.8h-.8zM145.7 97.5h.8v.8h-.8zM152.5 102.5h.8v.8h-.8zM149.3 103.6h.8v.8h-.8zM141.5 97.8h.8v.8h-.8zM148.1 96.1h.8v.8h-.8zM145.8 96.6h.8v.8h-.8zM148 102.1h.8v.8h-.8zM143.5 98.1h.8v.8h-.8zM142.8 103.7h.8v.8h-.8zM144.4 103.6h.8v.8h-.8zM142.2 98.2h.8v.8h-.8zM147.9 96h.8v.8h-.8zM142.4 99.8h.8v.8h-.8zM152.9 96.6h.8v.8h-.8zM152.2 100.6h.8v.8h-.8zM152.7 100.6h.8v.8h-.8zM147.8 103h.8v.8h-.8zM152.2 99.9h.8v.8h-.8z" fill="#A07FCC"/>
<path d="M132.5,30L134,28L136.5,27.6L139,28.5L139.8,30.5L136,31.2Z" fill="#B04A9E"/>
<path d="M114.6,108L117,107.2L120.6,107.8L119,110.2L116.5,110.4Z" fill="#E0507A"/>
<rect x="56.5" y="40" width="32.7" height="5" fill="#fff" fill-opacity="1" stroke="#666" stroke-width="0.5"/>
<text x="72.85" y="44.3" font-size="5.0" fill="#2a2a2a" text-anchor="middle" textLength="29.3" lengthAdjust="spacingAndGlyphs" style="stroke-width:0.14px">HSC/Prog−like</text>
<rect x="121.2" y="30.5" width="26.8" height="4.9" fill="#fff" fill-opacity="1" stroke="#666" stroke-width="0.5"/>
<text x="134.6" y="34.75" font-size="5.0" fill="#2a2a2a" text-anchor="middle" textLength="23.4" lengthAdjust="spacingAndGlyphs" style="stroke-width:0.14px">Pre−B cells</text>
<rect x="137.8" y="67.4" width="29.5" height="4.9" fill="#fff" fill-opacity="1" stroke="#666" stroke-width="0.5"/>
<text x="152.55" y="71.65" font-size="5.0" fill="#2a2a2a" text-anchor="middle" textLength="26.1" lengthAdjust="spacingAndGlyphs" style="stroke-width:0.14px">CD4+ T cells</text>
<rect x="65.8" y="68.6" width="23.8" height="4.3" fill="#fff" fill-opacity="1" stroke="#666" stroke-width="0.5"/>
<text x="77.7" y="72.55" font-size="5.0" fill="#2a2a2a" text-anchor="middle" textLength="20.4" lengthAdjust="spacingAndGlyphs" style="stroke-width:0.14px">Neutrophils</text>
<rect x="52.7" y="75.6" width="50.8" height="4.2" fill="#fff" fill-opacity="1" stroke="#666" stroke-width="0.5"/>
<text x="78.1" y="79.5" font-size="5.0" fill="#2a2a2a" text-anchor="middle" textLength="47.4" lengthAdjust="spacingAndGlyphs" style="stroke-width:0.14px">GMP−like/Granulocytes</text>
<rect x="84.2" y="82.2" width="33.1" height="4.3" fill="#fff" fill-opacity="1" stroke="#666" stroke-width="0.5"/>
<text x="100.75" y="86.15" font-size="5.0" fill="#2a2a2a" text-anchor="middle" textLength="29.7" lengthAdjust="spacingAndGlyphs" style="stroke-width:0.14px">HSC/MPP cells</text>
<rect x="52.7" y="93.3" width="90" height="4.7" fill="#fff" fill-opacity="1" stroke="#666" stroke-width="0.5"/>
<text x="97.7" y="97.45" font-size="5.0" fill="#2a2a2a" text-anchor="middle" textLength="86.6" lengthAdjust="spacingAndGlyphs" style="stroke-width:0.14px">Erythroid−like and erythroid precursor cells</text>
<rect x="154.2" y="90.4" width="18.5" height="5.4" fill="#fff" fill-opacity="1" stroke="#666" stroke-width="0.5"/>
<text x="163.45" y="94.9" font-size="5.0" fill="#2a2a2a" text-anchor="middle" textLength="15.1" lengthAdjust="spacingAndGlyphs" style="stroke-width:0.14px">NK cells</text>
<rect x="92.7" y="102.3" width="60.8" height="5" fill="#fff" fill-opacity="1" stroke="#666" stroke-width="0.5"/>
<text x="123.1" y="106.6" font-size="5.0" fill="#2a2a2a" text-anchor="middle" textLength="57.4" lengthAdjust="spacingAndGlyphs" style="stroke-width:0.14px">Plasmacytoid Dendritic cells</text>
<rect x="41.2" y="114.6" width="44.6" height="4.6" fill="#fff" fill-opacity="1" stroke="#666" stroke-width="0.5"/>
<text x="63.5" y="118.7" font-size="5.0" fill="#2a2a2a" text-anchor="middle" textLength="41.2" lengthAdjust="spacingAndGlyphs" style="stroke-width:0.14px">Classical Monocytes</text>
<rect x="41.2" y="139.2" width="56.8" height="4.6" fill="#fff" fill-opacity="1" stroke="#666" stroke-width="0.5"/>
<text x="69.6" y="143.3" font-size="5.0" fill="#2a2a2a" text-anchor="middle" textLength="53.4" lengthAdjust="spacingAndGlyphs" style="stroke-width:0.14px">Non−classical monocytes</text>
<line x1="215.9" y1="20.8" x2="215.9" y2="156.4" stroke="#1a1a1a" stroke-width="0.95"/>
<line x1="215.45" y1="156.4" x2="332" y2="156.4" stroke="#1a1a1a" stroke-width="0.95"/>
<line x1="213.5" y1="26.8" x2="215.9" y2="26.8" stroke="#222" stroke-width="0.7"/>
<text x="210.1" y="28.9" font-size="6.2" fill="#222" text-anchor="end">10</text>
<line x1="213.5" y1="54.75" x2="215.9" y2="54.75" stroke="#222" stroke-width="0.7"/>
<text x="210.1" y="56.85" font-size="6.2" fill="#222" text-anchor="end">5</text>
<line x1="213.5" y1="82.7" x2="215.9" y2="82.7" stroke="#222" stroke-width="0.7"/>
<text x="210.1" y="84.8" font-size="6.2" fill="#222" text-anchor="end">0</text>
<line x1="213.5" y1="110.65" x2="215.9" y2="110.65" stroke="#222" stroke-width="0.7"/>
<text x="210.1" y="112.75" font-size="6.2" fill="#222" text-anchor="end">−5</text>
<line x1="213.5" y1="138.6" x2="215.9" y2="138.6" stroke="#222" stroke-width="0.7"/>
<text x="210.1" y="140.7" font-size="6.2" fill="#222" text-anchor="end">−10</text>
<line x1="231.4" y1="156.4" x2="231.4" y2="158.6" stroke="#222" stroke-width="0.7"/>
<text x="231.4" y="167.8" font-size="6.2" fill="#222" text-anchor="middle">−5</text>
<line x1="257.5" y1="156.4" x2="257.5" y2="158.6" stroke="#222" stroke-width="0.7"/>
<text x="257.5" y="167.8" font-size="6.2" fill="#222" text-anchor="middle">0</text>
<line x1="283.6" y1="156.4" x2="283.6" y2="158.6" stroke="#222" stroke-width="0.7"/>
<text x="283.6" y="167.8" font-size="6.2" fill="#222" text-anchor="middle">5</text>
<line x1="309.7" y1="156.4" x2="309.7" y2="158.6" stroke="#222" stroke-width="0.7"/>
<text x="309.7" y="167.8" font-size="6.2" fill="#222" text-anchor="middle">10</text>
<text x="273.95" y="178.4" font-size="8.4" fill="#222" text-anchor="middle" textLength="22.6" lengthAdjust="spacingAndGlyphs" style="stroke-width:0.34px">UMAP_1</text>
<text x="0" y="0" font-size="8.4" fill="#222" text-anchor="middle" textLength="22.6" lengthAdjust="spacingAndGlyphs" transform="translate(193.6,88.6) rotate(-90)" style="stroke-width:0.34px">UMAP_2</text>
<text x="273.5" y="15.8" font-size="8.3" fill="#222" text-anchor="middle" font-style="italic" textLength="27.4" lengthAdjust="spacingAndGlyphs">NAMPT</text>
<defs><linearGradient id="gB" gradientUnits="userSpaceOnUse" x1="0" y1="92.11" x2="0" y2="147.63"><stop offset="0" stop-color="#F2AA92"/><stop offset="0.25" stop-color="#EE977D"/><stop offset="0.4" stop-color="#E46C58"/><stop offset="0.55" stop-color="#D84E40"/><stop offset="1" stop-color="#CC4036"/></linearGradient></defs>
<path d="M229.85,95.31L231.63,92.39L234.11,88.35L237.21,83.64L241.86,82.7L248.05,85.99L252.7,89.76L257.35,93.99L261.99,98.7L266.25,101.99L266.79,109.8L266.25,122.79L265.09,130.69L263.85,135.87L260.29,144.53L254.25,147.16L249.6,147.63L244.8,144.81L237.6,135.87L236.43,128.81L235.27,122.79L235.27,112.63L232.87,108.3L229.31,101.05Z" fill="url(#gB)"/>
<path d="M266.3 110.6h.8v.8h-.8zM230.9 95.9h.8v.8h-.8zM239.8 140.2h.8v.8h-.8zM234.3 116.9h.8v.8h-.8zM247.3 146.5h.8v.8h-.8zM250.3 88.5h.8v.8h-.8zM235.2 117.9h.8v.8h-.8zM266.7 121.4h.8v.8h-.8zM264.6 131.8h.8v.8h-.8zM249.4 88h.8v.8h-.8zM250 87.2h.8v.8h-.8zM230.5 101h.8v.8h-.8zM237.3 83.4h.8v.8h-.8zM264.1 100h.8v.8h-.8zM246.9 146.7h.8v.8h-.8zM228.6 96.1h.8v.8h-.8zM260.3 95.3h.8v.8h-.8zM264.6 135.9h.8v.8h-.8zM232.3 93.2h.8v.8h-.8zM241.7 83.5h.8v.8h-.8zM229.8 101.3h.8v.8h-.8zM263.6 139.2h.8v.8h-.8zM235.6 86.2h.8v.8h-.8zM229.2 96h.8v.8h-.8zM266.4 106.6h.8v.8h-.8zM266.1 103.3h.8v.8h-.8zM258.5 94.2h.8v.8h-.8zM265.3 103h.8v.8h-.8zM229.1 100.2h.8v.8h-.8zM235.3 120.6h.8v.8h-.8zM264.6 99.6h.8v.8h-.8zM251.2 88.1h.8v.8h-.8zM250.4 86.3h.8v.8h-.8zM241.4 140.4h.8v.8h-.8zM254.3 90.5h.8v.8h-.8zM241.6 81.8h.8v.8h-.8zM232.9 90.8h.8v.8h-.8zM266.9 112.5h.8v.8h-.8zM252.6 147.8h.8v.8h-.8zM247.7 84.2h.8v.8h-.8zM246.7 145h.8v.8h-.8zM235.1 121.1h.8v.8h-.8zM231.2 93.6h.8v.8h-.8zM231.5 87.9h.8v.8h-.8zM266 125.2h.8v.8h-.8zM248.3 87.1h.8v.8h-.8zM264 96.3h.8v.8h-.8zM229.9 100h.8v.8h-.8zM248.2 87h.8v.8h-.8zM266.5 103.3h.8v.8h-.8zM236 125h.8v.8h-.8zM237.5 85.7h.8v.8h-.8zM229.8 103.1h.8v.8h-.8zM237.5 133h.8v.8h-.8zM255.3 91.6h.8v.8h-.8zM266.6 110.4h.8v.8h-.8zM249.5 148.5h.8v.8h-.8zM257.7 145.7h.8v.8h-.8zM237 129.4h.8v.8h-.8zM243.6 142.4h.8v.8h-.8zM235.2 113.4h.8v.8h-.8zM249 146.6h.8v.8h-.8zM267.1 112h.8v.8h-.8zM232.5 109.2h.8v.8h-.8zM235.3 120.3h.8v.8h-.8zM247.5 145.9h.8v.8h-.8zM260.3 141.7h.8v.8h-.8zM266.2 116.5h.8v.8h-.8zM250.9 148.7h.8v.8h-.8zM233.6 88.7h.8v.8h-.8zM235.6 114.7h.8v.8h-.8zM239.8 83.7h.8v.8h-.8zM229.6 98.6h.8v.8h-.8zM229.8 93.8h.8v.8h-.8zM262.2 140.7h.8v.8h-.8zM245.9 84.2h.8v.8h-.8zM265.7 129.6h.8v.8h-.8zM251.7 90.1h.8v.8h-.8zM260.4 97.5h.8v.8h-.8zM236.6 85.2h.8v.8h-.8zM267.3 127.9h.8v.8h-.8zM231 93.3h.8v.8h-.8zM263.3 100.5h.8v.8h-.8zM240.4 140.2h.8v.8h-.8zM235.5 86.6h.8v.8h-.8zM264.7 131.1h.8v.8h-.8zM244.3 84h.8v.8h-.8zM249.4 146.7h.8v.8h-.8zM252.6 89.7h.8v.8h-.8zM263.8 99.3h.8v.8h-.8zM266.8 102.5h.8v.8h-.8zM231.1 107.4h.8v.8h-.8zM264.6 133h.8v.8h-.8zM263.6 136.3h.8v.8h-.8zM231.7 92.1h.8v.8h-.8zM263.4 130.1h.8v.8h-.8zM236 114.2h.8v.8h-.8zM265.3 100.7h.8v.8h-.8zM268 114.9h.8v.8h-.8zM238 135.2h.8v.8h-.8zM234.9 119.7h.8v.8h-.8zM266.3 124h.8v.8h-.8zM231.3 103.5h.8v.8h-.8zM260.7 140.6h.8v.8h-.8zM234.7 118.2h.8v.8h-.8zM265.8 103.1h.8v.8h-.8zM251.2 147.2h.8v.8h-.8zM229.2 94.6h.8v.8h-.8zM239.1 137h.8v.8h-.8zM233.2 106.5h.8v.8h-.8zM235.5 123.7h.8v.8h-.8zM254.1 92.2h.8v.8h-.8zM268.2 108.9h.8v.8h-.8zM236.4 89.6h.8v.8h-.8zM264.6 132.3h.8v.8h-.8zM267.8 102.1h.8v.8h-.8zM230.8 106.6h.8v.8h-.8zM231.9 93.3h.8v.8h-.8zM229.2 98.2h.8v.8h-.8zM249.4 88.3h.8v.8h-.8zM261.9 139h.8v.8h-.8zM246.8 86h.8v.8h-.8zM265.9 129.2h.8v.8h-.8zM256.9 91.8h.8v.8h-.8zM257.7 95.4h.8v.8h-.8zM235.9 87.4h.8v.8h-.8zM259.2 97.2h.8v.8h-.8zM263.9 130.5h.8v.8h-.8zM239.5 134.8h.8v.8h-.8zM241.7 82.6h.8v.8h-.8zM242.7 83.6h.8v.8h-.8zM247.7 87.2h.8v.8h-.8zM235.4 128.7h.8v.8h-.8zM237.2 134.8h.8v.8h-.8zM265.8 128.3h.8v.8h-.8zM229.7 99.6h.8v.8h-.8zM258.1 144.8h.8v.8h-.8zM264.7 116.9h.8v.8h-.8zM234.9 87.7h.8v.8h-.8zM231.9 108.9h.8v.8h-.8zM232 93.2h.8v.8h-.8zM264.3 105.9h.8v.8h-.8zM260.4 142.3h.8v.8h-.8zM260.6 96.4h.8v.8h-.8zM231.1 92.4h.8v.8h-.8zM254.1 91.4h.8v.8h-.8zM230.4 104.5h.8v.8h-.8zM261 140.8h.8v.8h-.8zM234 125.5h.8v.8h-.8zM236.8 131.5h.8v.8h-.8zM243 140.6h.8v.8h-.8zM233.6 89.2h.8v.8h-.8zM246.7 144.6h.8v.8h-.8zM244.7 145.2h.8v.8h-.8zM261.9 140.6h.8v.8h-.8zM265.1 129h.8v.8h-.8zM261 143.3h.8v.8h-.8zM238.1 135.3h.8v.8h-.8zM228.6 100h.8v.8h-.8zM264.2 130.2h.8v.8h-.8zM266.9 106.6h.8v.8h-.8zM264.9 123.3h.8v.8h-.8zM235.8 119.5h.8v.8h-.8zM259.3 95.6h.8v.8h-.8zM236.9 83.6h.8v.8h-.8zM265.3 128.8h.8v.8h-.8zM234.7 115.3h.8v.8h-.8zM262 98.7h.8v.8h-.8zM243.8 84.1h.8v.8h-.8zM239.6 137.6h.8v.8h-.8z" fill="#EA9C86"/>
<path d="M251.1 134.4h.7v.7h-.7zM265.6 124.8h.7v.7h-.7zM238 113.5h.7v.7h-.7zM240.6 133h.7v.7h-.7zM244.3 88.3h.7v.7h-.7zM262.6 104.2h.7v.7h-.7zM246 90.6h.7v.7h-.7zM265.1 127.7h.7v.7h-.7zM253.5 136.1h.7v.7h-.7zM241.1 93.9h.7v.7h-.7zM259.7 144.2h.7v.7h-.7zM250.8 125.9h.7v.7h-.7zM265.9 116.5h.7v.7h-.7zM245.8 100.9h.7v.7h-.7zM230.3 95.6h.7v.7h-.7zM249.1 98.1h.7v.7h-.7zM243.7 84.3h.7v.7h-.7zM240.2 89.3h.7v.7h-.7zM255.4 96.8h.7v.7h-.7zM250.5 104.9h.7v.7h-.7zM240.4 139.1h.7v.7h-.7zM247.5 101.6h.7v.7h-.7zM235.6 115.1h.7v.7h-.7zM240 107.2h.7v.7h-.7zM239 128.8h.7v.7h-.7zM244.9 122.2h.7v.7h-.7zM251.4 128.9h.7v.7h-.7zM264.2 119.1h.7v.7h-.7zM255.3 118.8h.7v.7h-.7zM257.2 115.3h.7v.7h-.7zM264.8 109.8h.7v.7h-.7zM247 140.9h.7v.7h-.7zM264.1 132.7h.7v.7h-.7zM246 110.7h.7v.7h-.7zM256.9 141h.7v.7h-.7zM246.5 128.3h.7v.7h-.7zM250.4 118.5h.7v.7h-.7zM237.3 101h.7v.7h-.7zM230.3 96.9h.7v.7h-.7zM254.5 102.7h.7v.7h-.7zM257.3 124.4h.7v.7h-.7zM256.1 121.5h.7v.7h-.7zM262.1 136.1h.7v.7h-.7zM259.8 142.2h.7v.7h-.7zM235.8 105.3h.7v.7h-.7zM258.9 136.6h.7v.7h-.7zM244.3 109.5h.7v.7h-.7zM252.8 105.2h.7v.7h-.7zM238.3 94.9h.7v.7h-.7zM252.2 129.4h.7v.7h-.7zM237.6 131h.7v.7h-.7zM252 119.9h.7v.7h-.7zM249 109.4h.7v.7h-.7zM254.1 140.3h.7v.7h-.7zM265.8 124.8h.7v.7h-.7zM254.6 114.6h.7v.7h-.7zM252.7 103.8h.7v.7h-.7zM251.5 88.9h.7v.7h-.7zM237 130.3h.7v.7h-.7zM237.9 90.1h.7v.7h-.7zM253.6 146.5h.7v.7h-.7zM249.3 137.1h.7v.7h-.7zM259.2 133.5h.7v.7h-.7zM240.5 124.2h.7v.7h-.7zM249.6 114.8h.7v.7h-.7zM251.6 111.6h.7v.7h-.7zM243.5 132.2h.7v.7h-.7zM253.6 146h.7v.7h-.7zM264.1 134.7h.7v.7h-.7zM247.9 134h.7v.7h-.7zM265.9 104.7h.7v.7h-.7zM251.8 107.7h.7v.7h-.7zM243.7 124.1h.7v.7h-.7zM255.2 141.2h.7v.7h-.7zM243 114.8h.7v.7h-.7zM248.7 142.3h.7v.7h-.7zM248 123.6h.7v.7h-.7zM255.2 105.3h.7v.7h-.7zM249.5 108.4h.7v.7h-.7zM235 99.3h.7v.7h-.7zM264.6 124.1h.7v.7h-.7zM249.6 135h.7v.7h-.7zM260.7 131.8h.7v.7h-.7zM244.3 117.8h.7v.7h-.7zM241.4 86.9h.7v.7h-.7zM243.3 138h.7v.7h-.7zM246.1 124h.7v.7h-.7zM259 140.9h.7v.7h-.7zM246.8 105.3h.7v.7h-.7zM230.2 95.9h.7v.7h-.7zM251.9 96h.7v.7h-.7zM239.7 129.3h.7v.7h-.7zM237.1 105.6h.7v.7h-.7zM240.7 90.1h.7v.7h-.7zM239 106.6h.7v.7h-.7zM236.4 87.7h.7v.7h-.7zM243.2 142h.7v.7h-.7zM263.7 113h.7v.7h-.7zM263.2 131.7h.7v.7h-.7zM235.3 114h.7v.7h-.7zM240 119.5h.7v.7h-.7zM238.7 118h.7v.7h-.7zM238.9 83.7h.7v.7h-.7zM246.1 116h.7v.7h-.7zM254 99.3h.7v.7h-.7zM236.4 109.2h.7v.7h-.7zM257.5 130.2h.7v.7h-.7zM246.5 122.1h.7v.7h-.7zM253.3 134.9h.7v.7h-.7zM243.1 120.3h.7v.7h-.7zM255.9 117.3h.7v.7h-.7zM257.8 100.4h.7v.7h-.7zM258.7 103.4h.7v.7h-.7zM248.6 92h.7v.7h-.7zM244.4 140.3h.7v.7h-.7zM230.4 94.9h.7v.7h-.7zM249.6 125.4h.7v.7h-.7zM255.1 127.3h.7v.7h-.7zM256.3 121.8h.7v.7h-.7zM248.3 146h.7v.7h-.7zM246.8 132.1h.7v.7h-.7zM249.9 146.9h.7v.7h-.7zM253.8 102h.7v.7h-.7zM263.2 126.2h.7v.7h-.7zM251.2 113.1h.7v.7h-.7zM249.2 103.4h.7v.7h-.7zM266.4 104.7h.7v.7h-.7zM245.8 122.2h.7v.7h-.7zM241 122.2h.7v.7h-.7zM261.5 133.8h.7v.7h-.7zM257.4 94.8h.7v.7h-.7zM257.3 133.9h.7v.7h-.7zM237.2 111.4h.7v.7h-.7zM252.3 139.8h.7v.7h-.7zM239.5 83.8h.7v.7h-.7zM245.6 88.1h.7v.7h-.7zM259.9 104h.7v.7h-.7zM240.6 112.7h.7v.7h-.7zM247.9 120.5h.7v.7h-.7zM262.6 110.3h.7v.7h-.7zM256.4 140.8h.7v.7h-.7zM251.6 130.8h.7v.7h-.7zM237.6 96.5h.7v.7h-.7zM248.5 146.7h.7v.7h-.7zM253.1 101.5h.7v.7h-.7zM242.8 101h.7v.7h-.7zM266.6 107.6h.7v.7h-.7zM246.7 88.3h.7v.7h-.7zM260.4 98.3h.7v.7h-.7zM238.1 85.4h.7v.7h-.7zM242.9 104.3h.7v.7h-.7zM257.2 97.6h.7v.7h-.7zM257.7 145.5h.7v.7h-.7zM258.6 133.9h.7v.7h-.7zM259.1 120.3h.7v.7h-.7zM251.1 114.2h.7v.7h-.7zM243.4 123.7h.7v.7h-.7zM262.5 99.8h.7v.7h-.7zM245.1 116.8h.7v.7h-.7zM246.6 87.8h.7v.7h-.7zM243.4 139.8h.7v.7h-.7zM262.7 116.1h.7v.7h-.7zM265.1 102.8h.7v.7h-.7zM242.9 92.6h.7v.7h-.7zM262.4 119.3h.7v.7h-.7zM251.5 121.5h.7v.7h-.7zM262.9 116.3h.7v.7h-.7zM249.9 111.7h.7v.7h-.7zM253.5 114.8h.7v.7h-.7zM237.2 108.1h.7v.7h-.7zM237.6 97.3h.7v.7h-.7zM245.7 90.5h.7v.7h-.7zM238.7 129.4h.7v.7h-.7zM244.7 96.5h.7v.7h-.7zM258.3 107.1h.7v.7h-.7zM247.8 110.9h.7v.7h-.7zM253 103.4h.7v.7h-.7zM261.6 101.6h.7v.7h-.7zM246 133.7h.7v.7h-.7zM261.2 100.9h.7v.7h-.7zM239.3 116.1h.7v.7h-.7zM250.4 117.8h.7v.7h-.7zM246.8 133.3h.7v.7h-.7zM238.7 111h.7v.7h-.7zM254.6 140.5h.7v.7h-.7zM238.8 105.8h.7v.7h-.7zM246.9 100.1h.7v.7h-.7zM248.5 143.7h.7v.7h-.7zM262.6 114.5h.7v.7h-.7zM242.5 90.4h.7v.7h-.7zM249.9 137.5h.7v.7h-.7zM243.6 99.2h.7v.7h-.7zM250.4 132.5h.7v.7h-.7zM248.4 101.7h.7v.7h-.7zM251.7 104.6h.7v.7h-.7zM254.4 134.4h.7v.7h-.7zM259.4 132.9h.7v.7h-.7zM234 100.2h.7v.7h-.7zM254.3 124h.7v.7h-.7zM262.8 111.3h.7v.7h-.7zM241.4 85.1h.7v.7h-.7zM242.4 133h.7v.7h-.7zM254.9 96.9h.7v.7h-.7zM265.4 111.7h.7v.7h-.7zM260.2 110.1h.7v.7h-.7zM253.6 144.8h.7v.7h-.7zM251.5 145.5h.7v.7h-.7zM251.9 99.7h.7v.7h-.7zM235.5 105.5h.7v.7h-.7zM237 126.2h.7v.7h-.7zM248.2 141.7h.7v.7h-.7zM241.6 131.9h.7v.7h-.7zM243.2 113.5h.7v.7h-.7zM246.9 121.1h.7v.7h-.7zM255.2 92.4h.7v.7h-.7zM253.7 136.2h.7v.7h-.7zM244.7 100.2h.7v.7h-.7zM238.8 122.1h.7v.7h-.7zM233.8 96.4h.7v.7h-.7zM240.6 127.4h.7v.7h-.7zM257.1 118h.7v.7h-.7zM234.9 105.7h.7v.7h-.7zM246.6 137.1h.7v.7h-.7zM238.5 100.6h.7v.7h-.7zM234.7 107.9h.7v.7h-.7zM255 118.5h.7v.7h-.7zM241.4 91h.7v.7h-.7zM239.5 132.7h.7v.7h-.7zM248.2 109.5h.7v.7h-.7zM257.4 137.3h.7v.7h-.7zM230.7 101h.7v.7h-.7zM236.6 91.3h.7v.7h-.7zM257.6 94.4h.7v.7h-.7zM244.2 118.3h.7v.7h-.7zM236.5 102.2h.7v.7h-.7zM265.8 113.4h.7v.7h-.7zM245.6 118.7h.7v.7h-.7zM260.6 109.4h.7v.7h-.7zM239.7 120.3h.7v.7h-.7zM265.1 102.5h.7v.7h-.7zM266.5 115.2h.7v.7h-.7zM244.1 125.3h.7v.7h-.7zM244.2 119.5h.7v.7h-.7zM258.5 103h.7v.7h-.7zM255.6 130.3h.7v.7h-.7zM258.4 103.3h.7v.7h-.7zM242 120.6h.7v.7h-.7zM246.1 113.4h.7v.7h-.7zM250.5 131.9h.7v.7h-.7zM234.7 96.5h.7v.7h-.7zM237 111.8h.7v.7h-.7zM258.1 101.1h.7v.7h-.7zM232.3 97.7h.7v.7h-.7zM255.7 105.4h.7v.7h-.7zM240.7 114.8h.7v.7h-.7zM241.8 101.9h.7v.7h-.7zM257.4 106.7h.7v.7h-.7zM266.2 123.1h.7v.7h-.7zM242.9 106.5h.7v.7h-.7zM239.7 88.9h.7v.7h-.7zM247 117.4h.7v.7h-.7zM242.8 129.8h.7v.7h-.7zM262.2 100.9h.7v.7h-.7zM240.6 115.3h.7v.7h-.7zM245.8 96.3h.7v.7h-.7zM263 102.9h.7v.7h-.7zM241.2 104.7h.7v.7h-.7zM242.3 107.6h.7v.7h-.7zM242.9 118.3h.7v.7h-.7zM252.2 104.3h.7v.7h-.7zM256.3 110.5h.7v.7h-.7zM237.1 128.4h.7v.7h-.7zM257.7 133.2h.7v.7h-.7zM266 116.8h.7v.7h-.7zM262.1 108.8h.7v.7h-.7zM253.6 114.2h.7v.7h-.7zM255.9 130.4h.7v.7h-.7zM256.2 132h.7v.7h-.7zM237.3 125.1h.7v.7h-.7zM259.1 131.2h.7v.7h-.7z" fill="#ffffff"/>
<path d="M240.6 132h.8v.8h-.8zM255.6 121.4h.8v.8h-.8zM254.1 123.7h.8v.8h-.8zM252.7 140.2h.8v.8h-.8zM255.9 131.5h.8v.8h-.8zM251.3 118.1h.8v.8h-.8zM240.9 134.6h.8v.8h-.8zM241.1 124h.8v.8h-.8zM257.6 137.1h.8v.8h-.8zM239.6 125h.8v.8h-.8zM258.7 119.9h.8v.8h-.8zM240.3 129.5h.8v.8h-.8zM240.3 122h.8v.8h-.8zM239.9 120.2h.8v.8h-.8zM238.1 127.2h.8v.8h-.8zM245.7 117.7h.8v.8h-.8zM240.6 126.9h.8v.8h-.8zM237.2 123.2h.8v.8h-.8zM238.8 129.1h.8v.8h-.8zM239.2 136.6h.8v.8h-.8zM237.6 119.6h.8v.8h-.8zM259.5 141.8h.8v.8h-.8zM248.5 127.4h.8v.8h-.8zM246.1 135.5h.8v.8h-.8zM250.3 137.4h.8v.8h-.8zM248.8 142.2h.8v.8h-.8zM254 122.2h.8v.8h-.8zM248.3 120.9h.8v.8h-.8zM264.1 114.4h.8v.8h-.8zM247.7 127.8h.8v.8h-.8zM254.2 116.4h.8v.8h-.8zM256.3 117.5h.8v.8h-.8zM243.7 123.7h.8v.8h-.8zM256.8 145.2h.8v.8h-.8zM253.8 131.9h.8v.8h-.8zM249.1 131.9h.8v.8h-.8zM245.4 119h.8v.8h-.8zM253.6 140.5h.8v.8h-.8zM254.2 119.9h.8v.8h-.8zM252.7 118.5h.8v.8h-.8zM262.3 139.1h.8v.8h-.8zM246.9 124.1h.8v.8h-.8zM263.3 128h.8v.8h-.8zM248.3 116.9h.8v.8h-.8zM262.2 120.1h.8v.8h-.8zM241 131.2h.8v.8h-.8zM242.8 124.4h.8v.8h-.8zM249.3 145.2h.8v.8h-.8zM253.7 127.9h.8v.8h-.8zM264.1 113.7h.8v.8h-.8zM260.6 139.8h.8v.8h-.8zM257.6 138.1h.8v.8h-.8zM255.9 120h.8v.8h-.8zM242.6 131.4h.8v.8h-.8zM240.9 121h.8v.8h-.8zM254.9 117.7h.8v.8h-.8zM254.5 144.4h.8v.8h-.8zM235.8 123.6h.8v.8h-.8zM260.6 118.1h.8v.8h-.8zM249.9 136.8h.8v.8h-.8zM254.7 129.6h.8v.8h-.8zM252.1 120.1h.8v.8h-.8zM236.9 118.3h.8v.8h-.8zM251.1 117.8h.8v.8h-.8zM263.1 123h.8v.8h-.8zM256.1 138.7h.8v.8h-.8zM249.1 144.7h.8v.8h-.8zM256.5 145.3h.8v.8h-.8zM260.3 122.3h.8v.8h-.8zM248.6 120h.8v.8h-.8zM255 126.3h.8v.8h-.8zM249.6 125.6h.8v.8h-.8zM240.5 133.4h.8v.8h-.8zM258 125h.8v.8h-.8zM239 134.2h.8v.8h-.8zM254.8 131.9h.8v.8h-.8zM259.2 133.7h.8v.8h-.8zM251.4 120h.8v.8h-.8zM245.2 125.5h.8v.8h-.8zM243.4 122.4h.8v.8h-.8zM240.7 116.4h.8v.8h-.8zM252.6 128h.8v.8h-.8zM260.5 138.1h.8v.8h-.8zM238.4 135.7h.8v.8h-.8zM264.4 115.7h.8v.8h-.8zM239.3 113.5h.8v.8h-.8zM262.9 117.8h.8v.8h-.8zM262.5 124.1h.8v.8h-.8zM253.1 125.3h.8v.8h-.8zM248.3 134.9h.8v.8h-.8zM264.9 115.1h.8v.8h-.8zM248.3 137.7h.8v.8h-.8zM260 134.7h.8v.8h-.8zM243.8 113.8h.8v.8h-.8zM242.2 132.3h.8v.8h-.8zM263.4 133.3h.8v.8h-.8zM253.9 126.2h.8v.8h-.8zM250 135.2h.8v.8h-.8zM251.8 121.7h.8v.8h-.8zM263.8 115.4h.8v.8h-.8zM248.3 145h.8v.8h-.8zM253.1 126.4h.8v.8h-.8zM241.5 125.8h.8v.8h-.8zM258.7 136.5h.8v.8h-.8zM254.7 145.9h.8v.8h-.8zM246.6 122.7h.8v.8h-.8zM254.7 145.2h.8v.8h-.8zM257.4 142.7h.8v.8h-.8zM261.3 113.6h.8v.8h-.8zM255.2 121.4h.8v.8h-.8zM256.6 140.2h.8v.8h-.8zM260.6 119.5h.8v.8h-.8zM246.8 118.3h.8v.8h-.8zM261.3 137.4h.8v.8h-.8zM252.7 131.9h.8v.8h-.8zM258.4 128.6h.8v.8h-.8zM259.6 130.1h.8v.8h-.8zM252.8 120h.8v.8h-.8zM242.3 114.7h.8v.8h-.8zM256.1 141.1h.8v.8h-.8zM243.2 119.6h.8v.8h-.8zM248.7 122.7h.8v.8h-.8zM259 121.4h.8v.8h-.8zM243.2 126.9h.8v.8h-.8zM262.3 137.6h.8v.8h-.8zM238.6 117.7h.8v.8h-.8zM255.8 118.6h.8v.8h-.8zM243.9 142.5h.8v.8h-.8zM261.3 135.6h.8v.8h-.8zM245 138.6h.8v.8h-.8zM264.3 132.2h.8v.8h-.8zM254.7 133.7h.8v.8h-.8zM256.1 129.8h.8v.8h-.8zM238.8 129.8h.8v.8h-.8zM248.4 136.5h.8v.8h-.8zM250.4 121.2h.8v.8h-.8zM241.2 138.9h.8v.8h-.8zM253.1 139.6h.8v.8h-.8zM241 128.3h.8v.8h-.8zM238.6 118.8h.8v.8h-.8zM246 122.4h.8v.8h-.8zM265.3 116.5h.8v.8h-.8zM251.2 116h.8v.8h-.8zM263.1 116.4h.8v.8h-.8zM262.2 123.8h.8v.8h-.8zM246.3 116.2h.8v.8h-.8zM254.9 115.3h.8v.8h-.8zM256.2 131.4h.8v.8h-.8zM243.7 135.4h.8v.8h-.8zM257.5 115.1h.8v.8h-.8zM245.8 117.3h.8v.8h-.8zM248.7 144.8h.8v.8h-.8zM256.6 116.6h.8v.8h-.8zM258.8 140.9h.8v.8h-.8zM249.6 135.4h.8v.8h-.8zM262.7 127.6h.8v.8h-.8zM260.1 132.7h.8v.8h-.8zM259.9 142.3h.8v.8h-.8zM239.6 119.4h.8v.8h-.8zM253.6 124.9h.8v.8h-.8zM244.4 112.8h.8v.8h-.8zM247.9 120.3h.8v.8h-.8zM246.8 133.7h.8v.8h-.8zM235.7 118.7h.8v.8h-.8zM251.6 125.5h.8v.8h-.8zM257.1 117.3h.8v.8h-.8zM258.8 135.2h.8v.8h-.8zM254.1 119.5h.8v.8h-.8zM239.6 128.3h.8v.8h-.8zM256.7 128.9h.8v.8h-.8zM250.9 115.6h.8v.8h-.8zM265.1 121.1h.8v.8h-.8zM247.3 140.9h.8v.8h-.8zM265.1 125.6h.8v.8h-.8zM249.3 142h.8v.8h-.8zM250.5 116.9h.8v.8h-.8zM241.8 124.6h.8v.8h-.8zM235 115h.8v.8h-.8zM261.3 123.4h.8v.8h-.8zM246 145.5h.8v.8h-.8zM236.5 127.9h.8v.8h-.8zM246.5 138.7h.8v.8h-.8zM264.2 133.6h.8v.8h-.8zM241.5 130.5h.8v.8h-.8zM260.5 116.4h.8v.8h-.8zM255.6 135.2h.8v.8h-.8zM259.5 117.9h.8v.8h-.8zM253.5 116.6h.8v.8h-.8zM248.5 125.4h.8v.8h-.8zM246.2 127h.8v.8h-.8zM251.3 116.7h.8v.8h-.8zM251.7 115.4h.8v.8h-.8zM257.2 114.1h.8v.8h-.8zM250.3 112.9h.8v.8h-.8zM258.7 128.7h.8v.8h-.8zM249.6 139.1h.8v.8h-.8zM237.3 125.2h.8v.8h-.8zM250.2 118.8h.8v.8h-.8zM249.5 125h.8v.8h-.8zM239.3 133.3h.8v.8h-.8zM248.8 117.2h.8v.8h-.8zM251.9 120.7h.8v.8h-.8zM253 123.9h.8v.8h-.8zM257.8 133.6h.8v.8h-.8zM259.1 124.6h.8v.8h-.8zM259.5 142.8h.8v.8h-.8zM248.5 129.5h.8v.8h-.8zM237.6 123.1h.8v.8h-.8zM243.2 140.6h.8v.8h-.8zM259.9 134.8h.8v.8h-.8zM259.2 127.8h.8v.8h-.8zM255.3 125.2h.8v.8h-.8zM262.9 130.1h.8v.8h-.8zM263.7 126.3h.8v.8h-.8zM243 118.4h.8v.8h-.8zM248.6 123.6h.8v.8h-.8zM238.4 123.7h.8v.8h-.8zM248.3 121h.8v.8h-.8zM250.7 124.4h.8v.8h-.8zM254.6 122.6h.8v.8h-.8z" fill="#B8302A"/>
<path d="M252.6 104.8h.8v.8h-.8zM239.9 90.4h.8v.8h-.8zM250.5 99.7h.8v.8h-.8zM262.2 106h.8v.8h-.8zM246.6 97.6h.8v.8h-.8zM258.7 99.7h.8v.8h-.8zM234 94.6h.8v.8h-.8zM233.8 102.2h.8v.8h-.8zM258.5 101.3h.8v.8h-.8zM231.5 95.3h.8v.8h-.8zM234.8 109h.8v.8h-.8zM237.5 101.7h.8v.8h-.8zM264.2 104.8h.8v.8h-.8zM246.4 95.9h.8v.8h-.8zM244.4 88.7h.8v.8h-.8zM258.6 98.3h.8v.8h-.8zM257.9 97.2h.8v.8h-.8zM238.2 91.4h.8v.8h-.8zM233.9 103.5h.8v.8h-.8zM248.1 94.7h.8v.8h-.8zM242.7 90.4h.8v.8h-.8zM239.8 91.1h.8v.8h-.8zM248.5 95.6h.8v.8h-.8zM246.9 106.6h.8v.8h-.8zM242.5 100.6h.8v.8h-.8zM248.5 109.5h.8v.8h-.8zM251.6 109.1h.8v.8h-.8zM242.9 89.7h.8v.8h-.8zM237.2 106.2h.8v.8h-.8zM233.7 92.2h.8v.8h-.8zM255.6 94.9h.8v.8h-.8zM237.7 109.5h.8v.8h-.8zM234.4 99.2h.8v.8h-.8zM241.6 92.9h.8v.8h-.8zM231.5 97.4h.8v.8h-.8zM255.5 98.1h.8v.8h-.8zM260 108.8h.8v.8h-.8zM261.8 96.1h.8v.8h-.8zM242.4 101.4h.8v.8h-.8zM244.6 96.6h.8v.8h-.8zM238.6 88.5h.8v.8h-.8zM233.3 101.3h.8v.8h-.8zM263.4 110.5h.8v.8h-.8zM239.4 90h.8v.8h-.8zM243.2 89.7h.8v.8h-.8zM245.9 97.8h.8v.8h-.8zM238.3 108.7h.8v.8h-.8zM248.8 98.9h.8v.8h-.8zM261.9 102h.8v.8h-.8zM240.6 90.2h.8v.8h-.8zM248.5 91.5h.8v.8h-.8zM243.9 95.2h.8v.8h-.8zM241.3 103.3h.8v.8h-.8zM247.8 105.6h.8v.8h-.8zM242.6 106.6h.8v.8h-.8zM260.5 95.2h.8v.8h-.8zM264.3 109h.8v.8h-.8zM237.8 99.1h.8v.8h-.8zM260 94.5h.8v.8h-.8zM264.6 107.7h.8v.8h-.8zM252.5 99.5h.8v.8h-.8zM240.5 108.7h.8v.8h-.8zM245 98.5h.8v.8h-.8zM237.8 103.8h.8v.8h-.8zM234.5 103.6h.8v.8h-.8zM245.1 105.8h.8v.8h-.8zM245.3 99.2h.8v.8h-.8zM256.2 107.6h.8v.8h-.8zM235.6 87.5h.8v.8h-.8zM247.3 88.6h.8v.8h-.8zM259 93.6h.8v.8h-.8zM242.7 86.8h.8v.8h-.8zM239.6 94.1h.8v.8h-.8zM239.3 90.1h.8v.8h-.8zM239.9 103.7h.8v.8h-.8zM234 97.9h.8v.8h-.8zM259.9 104.5h.8v.8h-.8zM238.6 86.1h.8v.8h-.8zM231 100.6h.8v.8h-.8zM251.2 101.9h.8v.8h-.8zM246.2 96.5h.8v.8h-.8zM246.7 104.5h.8v.8h-.8zM233.2 91.7h.8v.8h-.8zM247.8 95.5h.8v.8h-.8zM252.2 94.9h.8v.8h-.8zM240.2 95.8h.8v.8h-.8zM248.4 105.4h.8v.8h-.8zM247.6 103.6h.8v.8h-.8zM238.8 93.2h.8v.8h-.8zM249.9 104.4h.8v.8h-.8zM265.9 106.9h.8v.8h-.8zM258.5 100.6h.8v.8h-.8zM255.9 107.5h.8v.8h-.8zM237.9 95.3h.8v.8h-.8zM255.8 107.6h.8v.8h-.8zM266.2 99.6h.8v.8h-.8zM234.2 107.3h.8v.8h-.8zM248.9 96.7h.8v.8h-.8zM236.6 108.9h.8v.8h-.8zM255 107.4h.8v.8h-.8zM244 97.3h.8v.8h-.8zM230.2 100.2h.8v.8h-.8zM242.8 106.8h.8v.8h-.8zM257.8 102.2h.8v.8h-.8zM250.8 90.9h.8v.8h-.8zM251.1 102.1h.8v.8h-.8zM239 96.8h.8v.8h-.8zM232.1 102.3h.8v.8h-.8zM245.5 90.3h.8v.8h-.8zM255.9 105.6h.8v.8h-.8zM237.6 84.8h.8v.8h-.8zM251.2 109.7h.8v.8h-.8zM232.7 105.7h.8v.8h-.8zM252 103.2h.8v.8h-.8zM229.9 95h.8v.8h-.8zM266.2 103.3h.8v.8h-.8zM251.6 105h.8v.8h-.8zM243.8 95.9h.8v.8h-.8zM248.2 103.7h.8v.8h-.8zM256.6 96.2h.8v.8h-.8zM255.2 106.6h.8v.8h-.8zM237 94.7h.8v.8h-.8zM250.9 102.8h.8v.8h-.8zM238.5 94h.8v.8h-.8zM261.7 100.8h.8v.8h-.8zM239.5 99.5h.8v.8h-.8zM240.5 110.1h.8v.8h-.8zM255.3 107.8h.8v.8h-.8zM244 88h.8v.8h-.8zM261.1 104.8h.8v.8h-.8zM261.6 99.7h.8v.8h-.8zM239.9 87.7h.8v.8h-.8zM231.8 98.6h.8v.8h-.8zM231.8 97.6h.8v.8h-.8zM235.3 89.5h.8v.8h-.8zM259.2 110.6h.8v.8h-.8zM253 100.8h.8v.8h-.8zM236.1 95.8h.8v.8h-.8zM243.5 91h.8v.8h-.8zM237.8 88.5h.8v.8h-.8zM256.7 93.5h.8v.8h-.8zM255.8 94.2h.8v.8h-.8zM257 93.1h.8v.8h-.8zM230.1 98.8h.8v.8h-.8zM234.1 105.2h.8v.8h-.8zM237.4 85.9h.8v.8h-.8zM249.5 100h.8v.8h-.8zM253.3 103.4h.8v.8h-.8zM259.5 104.3h.8v.8h-.8zM229.7 92.2h.8v.8h-.8zM237.1 107.8h.8v.8h-.8zM239.5 95h.8v.8h-.8zM237.2 103.8h.8v.8h-.8zM234 96.9h.8v.8h-.8zM257.5 94.1h.8v.8h-.8zM237.9 98.1h.8v.8h-.8zM236.5 103.7h.8v.8h-.8zM231.3 94.4h.8v.8h-.8zM264.9 100.2h.8v.8h-.8zM248.9 100.1h.8v.8h-.8zM242.9 98.8h.8v.8h-.8zM252.3 106.9h.8v.8h-.8zM240.5 88.5h.8v.8h-.8zM241.1 98h.8v.8h-.8zM261.3 100.1h.8v.8h-.8zM266.2 105.3h.8v.8h-.8zM266.1 107.8h.8v.8h-.8zM241.7 89.3h.8v.8h-.8zM255.4 104.1h.8v.8h-.8zM244.6 106.2h.8v.8h-.8zM253.4 106.2h.8v.8h-.8zM261 106.5h.8v.8h-.8zM236.7 99h.8v.8h-.8zM238.3 94.6h.8v.8h-.8zM265.1 108.6h.8v.8h-.8zM235.5 89h.8v.8h-.8zM258.4 99.6h.8v.8h-.8zM236.3 86.8h.8v.8h-.8zM262.4 106.4h.8v.8h-.8zM233.2 99.8h.8v.8h-.8zM264.5 110.8h.8v.8h-.8zM263.2 106.7h.8v.8h-.8zM255.9 107.1h.8v.8h-.8zM260 100.3h.8v.8h-.8zM260.7 104.5h.8v.8h-.8zM263.8 108.5h.8v.8h-.8zM242.1 97.6h.8v.8h-.8zM229.6 92h.8v.8h-.8zM261.9 110.3h.8v.8h-.8zM247.7 98.2h.8v.8h-.8zM233.6 98.7h.8v.8h-.8zM253.9 106.1h.8v.8h-.8zM246.4 96h.8v.8h-.8zM242 90.7h.8v.8h-.8zM231.8 91h.8v.8h-.8zM260.4 104.3h.8v.8h-.8zM244.5 87.6h.8v.8h-.8zM248.5 92.1h.8v.8h-.8zM252.9 107.2h.8v.8h-.8zM242.9 93.2h.8v.8h-.8zM260.2 107.2h.8v.8h-.8zM255.2 93.4h.8v.8h-.8zM266.2 103.6h.8v.8h-.8zM259.1 109.2h.8v.8h-.8zM233.1 100.9h.8v.8h-.8zM261.3 102.2h.8v.8h-.8zM264 107.7h.8v.8h-.8zM236 86.8h.8v.8h-.8zM262 109.8h.8v.8h-.8zM243.8 104.8h.8v.8h-.8zM237.3 98.1h.8v.8h-.8zM234 101.1h.8v.8h-.8zM234.8 95.8h.8v.8h-.8zM252.3 93.5h.8v.8h-.8zM237.8 105.2h.8v.8h-.8zM247.7 99.5h.8v.8h-.8zM231 94.2h.8v.8h-.8zM246.8 106.7h.8v.8h-.8zM237.1 85.9h.8v.8h-.8zM249.5 90.3h.8v.8h-.8z" fill="#ffffff"/>
<path d="M230.24,56.35L237.21,57.76L240.31,58.23L251.92,60.11L263.54,59.17L270.9,58.23L271.67,67.64L271.13,78.28L265.09,81.29L261.99,84.58L260.29,87.88L254.25,89.66L250.76,86.84L242.4,85.52L237.98,83.17L237.21,78.94L235.27,72.35L232.87,66.7Z" fill="#F1AB91"/>
<path d="M235.8 57.9h.8v.8h-.8zM271.3 73.2h.8v.8h-.8zM236.3 58.5h.8v.8h-.8zM262 59.2h.8v.8h-.8zM272.2 75.4h.8v.8h-.8zM257.4 59.8h.8v.8h-.8zM236.5 77.3h.8v.8h-.8zM232.5 66h.8v.8h-.8zM271.6 70.3h.8v.8h-.8zM238.6 80.1h.8v.8h-.8zM234.3 70.6h.8v.8h-.8zM250.7 88.3h.8v.8h-.8zM232.6 69.3h.8v.8h-.8zM235.3 57.1h.8v.8h-.8zM233.3 66.7h.8v.8h-.8zM239.7 83.9h.8v.8h-.8zM232.6 60.6h.8v.8h-.8zM244.5 60.1h.8v.8h-.8zM236.8 57h.8v.8h-.8zM237.2 81h.8v.8h-.8zM239 81.3h.8v.8h-.8zM241.8 58.6h.8v.8h-.8zM271.1 75.7h.8v.8h-.8zM235.3 71.1h.8v.8h-.8zM236.5 57.9h.8v.8h-.8zM244.7 85.8h.8v.8h-.8zM235.4 73.3h.8v.8h-.8zM255.1 88.4h.8v.8h-.8zM236.1 80.8h.8v.8h-.8zM233.5 69.8h.8v.8h-.8zM253.9 87.8h.8v.8h-.8zM257.8 89.9h.8v.8h-.8zM259.4 87.2h.8v.8h-.8zM235 58.4h.8v.8h-.8zM249.6 60.5h.8v.8h-.8zM248.1 60.4h.8v.8h-.8zM233 66.8h.8v.8h-.8zM271.6 67.3h.8v.8h-.8zM246.7 85.6h.8v.8h-.8zM231.7 57.4h.8v.8h-.8zM252.4 88.1h.8v.8h-.8zM246.2 86.2h.8v.8h-.8zM271 65.6h.8v.8h-.8zM271.6 59.2h.8v.8h-.8zM261.1 83.8h.8v.8h-.8zM243.8 58.9h.8v.8h-.8zM241.3 84.5h.8v.8h-.8zM270.8 70.7h.8v.8h-.8zM236.5 58.1h.8v.8h-.8zM259.4 88h.8v.8h-.8zM263.3 82.5h.8v.8h-.8zM254.2 60h.8v.8h-.8zM250.6 88.6h.8v.8h-.8zM261.3 59.9h.8v.8h-.8zM245.3 84.5h.8v.8h-.8zM266.1 80h.8v.8h-.8zM265.7 83h.8v.8h-.8zM271.1 71.7h.8v.8h-.8zM267.6 82.6h.8v.8h-.8zM239.4 58.4h.8v.8h-.8zM255.5 59.8h.8v.8h-.8zM254.2 88.6h.8v.8h-.8zM270.6 60.4h.8v.8h-.8zM249.9 86.6h.8v.8h-.8zM250.4 86.2h.8v.8h-.8zM235.6 57.5h.8v.8h-.8zM258.1 87.8h.8v.8h-.8zM237.3 79.5h.8v.8h-.8zM258.1 60h.8v.8h-.8zM234 71.4h.8v.8h-.8zM269 79.2h.8v.8h-.8zM245.8 86.1h.8v.8h-.8zM236.5 74.7h.8v.8h-.8zM231.8 63.5h.8v.8h-.8zM265.6 57.8h.8v.8h-.8zM248.3 60h.8v.8h-.8zM271.9 72.3h.8v.8h-.8zM263.8 84h.8v.8h-.8zM232.8 63.7h.8v.8h-.8zM263.7 58.7h.8v.8h-.8zM236.3 58.4h.8v.8h-.8zM271.8 70.8h.8v.8h-.8zM253.5 88.9h.8v.8h-.8zM269.6 79.9h.8v.8h-.8zM263.1 58.6h.8v.8h-.8zM231 59.1h.8v.8h-.8zM255 89.9h.8v.8h-.8zM270.3 58.8h.8v.8h-.8zM260.3 88.5h.8v.8h-.8zM230.5 58.8h.8v.8h-.8z" fill="#F0A890"/>
<path d="M259 64.1h.8v.8h-.8zM245.9 63.4h.8v.8h-.8zM248.4 82h.8v.8h-.8zM239.1 77h.8v.8h-.8zM262.9 81.9h.8v.8h-.8zM250.3 76.4h.8v.8h-.8zM232.6 59.8h.8v.8h-.8zM261.3 78h.8v.8h-.8zM268.4 70.8h.8v.8h-.8zM255 70.6h.8v.8h-.8zM266.6 66.2h.8v.8h-.8zM250.6 82.6h.8v.8h-.8zM245.7 70.8h.8v.8h-.8zM251 72h.8v.8h-.8zM237.1 70h.8v.8h-.8zM244.8 62.6h.8v.8h-.8zM245.3 68.1h.8v.8h-.8zM233.1 67.1h.8v.8h-.8zM270.4 65.8h.8v.8h-.8zM260.8 83.1h.8v.8h-.8zM243.9 83.8h.8v.8h-.8zM259.2 68.9h.8v.8h-.8zM254.7 70.5h.8v.8h-.8zM257.5 61.3h.8v.8h-.8zM253.1 74.1h.8v.8h-.8zM267.4 67h.8v.8h-.8zM246.7 79.5h.8v.8h-.8zM255.3 72.8h.8v.8h-.8zM255.2 64h.8v.8h-.8zM252.2 80.6h.8v.8h-.8zM246.7 67.5h.8v.8h-.8zM263.2 73.9h.8v.8h-.8zM268.8 70.8h.8v.8h-.8zM259.1 64.1h.8v.8h-.8zM257.5 64h.8v.8h-.8zM259.6 63.2h.8v.8h-.8zM234.6 58.9h.8v.8h-.8zM253.7 73.9h.8v.8h-.8zM249.3 77.8h.8v.8h-.8zM264.1 60.9h.8v.8h-.8zM245 73.1h.8v.8h-.8zM236.8 60h.8v.8h-.8zM264 66.9h.8v.8h-.8zM264.3 76.2h.8v.8h-.8zM233.6 60.7h.8v.8h-.8zM261.3 68.6h.8v.8h-.8zM257.6 61.8h.8v.8h-.8zM258.6 73.5h.8v.8h-.8zM234.8 60.6h.8v.8h-.8zM240.6 69.5h.8v.8h-.8zM252.6 87.9h.8v.8h-.8zM238.1 62.8h.8v.8h-.8zM252.2 63.8h.8v.8h-.8zM247.3 78.1h.8v.8h-.8zM260.6 76.8h.8v.8h-.8zM251.1 73.8h.8v.8h-.8zM243.4 85.4h.8v.8h-.8zM245.2 64.7h.8v.8h-.8zM256.7 79.8h.8v.8h-.8zM250.4 63.7h.8v.8h-.8zM249.3 80.5h.8v.8h-.8zM255.3 80.8h.8v.8h-.8zM252.9 81.9h.8v.8h-.8zM242 69h.8v.8h-.8zM242.2 62.9h.8v.8h-.8zM237.5 64.8h.8v.8h-.8zM247.7 81h.8v.8h-.8zM270 76.2h.8v.8h-.8zM257.5 86.2h.8v.8h-.8zM270.1 71.1h.8v.8h-.8zM266 70.5h.8v.8h-.8zM249.3 64.8h.8v.8h-.8zM261.1 64.7h.8v.8h-.8zM243.3 71.2h.8v.8h-.8zM239.9 67.8h.8v.8h-.8zM259.2 63.4h.8v.8h-.8zM265.9 66.6h.8v.8h-.8zM237.8 58.2h.8v.8h-.8zM244.5 64.7h.8v.8h-.8zM233.1 58.4h.8v.8h-.8zM237.9 58.3h.8v.8h-.8zM266.1 62.1h.8v.8h-.8zM264.9 71.3h.8v.8h-.8zM254.3 73.4h.8v.8h-.8zM263.4 74.1h.8v.8h-.8zM259.1 63.6h.8v.8h-.8zM266 73.6h.8v.8h-.8zM269.5 66.1h.8v.8h-.8zM248 75.5h.8v.8h-.8zM245.2 65h.8v.8h-.8zM250.5 80.1h.8v.8h-.8zM255.7 64.5h.8v.8h-.8zM236 58h.8v.8h-.8zM260.3 61.4h.8v.8h-.8zM266.2 72.6h.8v.8h-.8zM251.6 65.5h.8v.8h-.8zM253.2 66.8h.8v.8h-.8zM266.4 78.5h.8v.8h-.8zM249.5 84.6h.8v.8h-.8zM232.2 63.4h.8v.8h-.8zM249.7 78.2h.8v.8h-.8zM268.4 67.6h.8v.8h-.8zM238.5 67.9h.8v.8h-.8zM242 69.1h.8v.8h-.8zM258.6 81.9h.8v.8h-.8zM267.5 76.8h.8v.8h-.8zM264.3 78h.8v.8h-.8zM233.5 62.1h.8v.8h-.8zM240 59.9h.8v.8h-.8zM241 78.7h.8v.8h-.8zM261 71.3h.8v.8h-.8zM252.8 77.7h.8v.8h-.8zM258.6 70.6h.8v.8h-.8zM245.3 73.7h.8v.8h-.8zM254.3 60.9h.8v.8h-.8zM249.3 73.1h.8v.8h-.8zM261.8 65.9h.8v.8h-.8zM256 73.1h.8v.8h-.8zM237.3 67.7h.8v.8h-.8zM243.1 72.2h.8v.8h-.8zM233.3 57h.8v.8h-.8zM242.7 69.8h.8v.8h-.8zM271.1 67.7h.8v.8h-.8zM242.2 72.5h.8v.8h-.8zM256.3 85.5h.8v.8h-.8zM268.8 66.6h.8v.8h-.8zM256.6 82.3h.8v.8h-.8zM264.7 76.5h.8v.8h-.8zM266.9 78.3h.8v.8h-.8zM247.2 59.8h.8v.8h-.8zM268.1 68.7h.8v.8h-.8zM262.6 79.3h.8v.8h-.8zM243.7 73.3h.8v.8h-.8zM246.6 83.3h.8v.8h-.8zM243.2 71h.8v.8h-.8zM262.4 60.1h.8v.8h-.8zM262.9 74.8h.8v.8h-.8zM258.3 79h.8v.8h-.8zM255.9 68.2h.8v.8h-.8zM234.6 63.2h.8v.8h-.8z" fill="#ffffff"/>
<path d="M232.4 59.8h.8v.8h-.8zM239.3 59.5h.8v.8h-.8zM243 59.9h.8v.8h-.8zM236.8 75.7h.8v.8h-.8zM245.8 79.1h.8v.8h-.8zM239.8 78h.8v.8h-.8zM241.9 70.6h.8v.8h-.8zM240.7 59.4h.8v.8h-.8zM232.6 59.8h.8v.8h-.8zM239.7 63.1h.8v.8h-.8zM245.7 67.5h.8v.8h-.8zM243 82.3h.8v.8h-.8zM259.3 85.8h.8v.8h-.8zM248.1 67.6h.8v.8h-.8zM254.3 89.6h.8v.8h-.8zM264.4 74.7h.8v.8h-.8zM249.9 60.3h.8v.8h-.8zM252.3 66.2h.8v.8h-.8zM267.6 75.5h.8v.8h-.8zM257.4 78.5h.8v.8h-.8zM248.9 81.9h.8v.8h-.8zM236.5 66.5h.8v.8h-.8zM249.1 74.9h.8v.8h-.8zM254.5 89.2h.8v.8h-.8zM244.8 60.9h.8v.8h-.8zM240.4 60.5h.8v.8h-.8zM261.2 74.5h.8v.8h-.8zM240.6 81.6h.8v.8h-.8zM246.1 62.9h.8v.8h-.8zM264.6 80h.8v.8h-.8zM251.1 73.5h.8v.8h-.8zM244.9 63.6h.8v.8h-.8zM250.7 70.4h.8v.8h-.8zM260.9 80.7h.8v.8h-.8zM263.4 82.5h.8v.8h-.8zM243 64.5h.8v.8h-.8zM251 81h.8v.8h-.8zM235.3 64.1h.8v.8h-.8zM246.2 62.3h.8v.8h-.8zM235.7 66.7h.8v.8h-.8zM253 61.1h.8v.8h-.8zM260.9 70.1h.8v.8h-.8zM252.9 85.8h.8v.8h-.8zM251 60h.8v.8h-.8zM244.1 61.5h.8v.8h-.8zM267 64.3h.8v.8h-.8zM244.1 82.4h.8v.8h-.8zM243.3 59.9h.8v.8h-.8zM251.5 86.1h.8v.8h-.8zM268.5 75.9h.8v.8h-.8zM236.4 74.2h.8v.8h-.8zM256 87.9h.8v.8h-.8zM253.8 64.8h.8v.8h-.8zM244.9 66.8h.8v.8h-.8zM252.7 78.7h.8v.8h-.8zM264.9 78.4h.8v.8h-.8zM266.3 78.6h.8v.8h-.8zM257.5 65.4h.8v.8h-.8zM241 71.6h.8v.8h-.8zM270.2 77.7h.8v.8h-.8zM246.6 60.7h.8v.8h-.8zM253.7 88.9h.8v.8h-.8zM268.5 62.1h.8v.8h-.8zM266.9 80h.8v.8h-.8zM237.2 61.1h.8v.8h-.8zM255.7 85.4h.8v.8h-.8zM242.7 82h.8v.8h-.8zM256.8 60.6h.8v.8h-.8zM259.5 66h.8v.8h-.8zM237.3 71.6h.8v.8h-.8zM254.9 89.2h.8v.8h-.8zM249.9 61.8h.8v.8h-.8zM258.7 83.6h.8v.8h-.8zM244 84.9h.8v.8h-.8zM271.1 69.2h.8v.8h-.8zM251 68.4h.8v.8h-.8zM271.3 75.4h.8v.8h-.8zM268.7 70.3h.8v.8h-.8zM244.6 74h.8v.8h-.8zM243.3 62.2h.8v.8h-.8zM264.9 75.5h.8v.8h-.8zM260.1 76.5h.8v.8h-.8zM239.5 65.6h.8v.8h-.8zM237.9 77.3h.8v.8h-.8zM242.9 60.7h.8v.8h-.8zM264.3 60.7h.8v.8h-.8zM270.7 67.3h.8v.8h-.8zM244 74.2h.8v.8h-.8zM249 74.4h.8v.8h-.8zM258.6 81.9h.8v.8h-.8zM246 79.5h.8v.8h-.8zM266.5 73.3h.8v.8h-.8zM249.7 71.8h.8v.8h-.8zM237.8 76.6h.8v.8h-.8zM241.1 68.8h.8v.8h-.8zM268.8 66h.8v.8h-.8zM244 78.3h.8v.8h-.8zM255.2 84.6h.8v.8h-.8zM235.5 65.1h.8v.8h-.8zM237.5 61.1h.8v.8h-.8zM246.6 82h.8v.8h-.8zM264.7 62.9h.8v.8h-.8zM259.6 62.6h.8v.8h-.8zM249 60.6h.8v.8h-.8zM240.1 83.5h.8v.8h-.8zM260 72.8h.8v.8h-.8zM267 60.1h.8v.8h-.8zM242.5 78.8h.8v.8h-.8zM235.6 71.2h.8v.8h-.8zM247.9 62.2h.8v.8h-.8z" fill="#E37E66"/>
<path d="M226.06,43.93L229.46,40.63L232.56,38.28L238.76,35.65L245.73,33.58L251.92,31.88L258.12,32.35L263.23,34.89L269.74,37.72L271.67,43.17L272.22,47.88L272.83,54.47L272.83,59.46L269.19,62.37L260.29,63.13L250.76,63.88L244.8,62.37L236.43,60.58L232.87,59.46L230.47,55.13L228.07,49.29Z" fill="#F2BEA8"/>
<path d="M258.3 33.5h.8v.8h-.8zM265 35.7h.8v.8h-.8zM252 63.1h.8v.8h-.8zM236.7 60.8h.8v.8h-.8zM231.2 56.5h.8v.8h-.8zM248.9 63.7h.8v.8h-.8zM272.6 44.7h.8v.8h-.8zM237.7 34.5h.8v.8h-.8zM270.9 42.9h.8v.8h-.8zM267.6 62.4h.8v.8h-.8zM269.1 62.7h.8v.8h-.8zM230.7 39.5h.8v.8h-.8zM272.7 60h.8v.8h-.8zM273.7 55.2h.8v.8h-.8zM271.5 43.3h.8v.8h-.8zM239.6 34.7h.8v.8h-.8zM241.9 34.4h.8v.8h-.8zM266.8 61.5h.8v.8h-.8zM249.7 33.1h.8v.8h-.8zM262.8 62.3h.8v.8h-.8zM247.9 32.1h.8v.8h-.8zM229.1 46.4h.8v.8h-.8zM228 45.4h.8v.8h-.8zM231.5 38h.8v.8h-.8zM246.5 34.9h.8v.8h-.8zM246.2 33.9h.8v.8h-.8zM266.7 37h.8v.8h-.8zM272.4 47.9h.8v.8h-.8zM273.9 50.5h.8v.8h-.8zM228.2 41.2h.8v.8h-.8zM244.2 33.1h.8v.8h-.8zM226.4 44.4h.8v.8h-.8zM265.4 36.2h.8v.8h-.8zM227.8 54.7h.8v.8h-.8zM230 40h.8v.8h-.8zM227.6 47.1h.8v.8h-.8zM268.4 36.5h.8v.8h-.8zM270.2 40.3h.8v.8h-.8zM236.6 60.9h.8v.8h-.8zM230.9 54.6h.8v.8h-.8zM270.4 42.2h.8v.8h-.8zM274.5 60h.8v.8h-.8zM247.1 32.9h.8v.8h-.8zM236.6 35.7h.8v.8h-.8zM235.9 60.4h.8v.8h-.8zM233.9 37.7h.8v.8h-.8zM242.8 34.5h.8v.8h-.8zM242 62.3h.8v.8h-.8zM256 31.5h.8v.8h-.8zM253.8 64.1h.8v.8h-.8zM274.3 59.7h.8v.8h-.8zM235.9 60.7h.8v.8h-.8zM269.5 38.9h.8v.8h-.8zM272.1 45.8h.8v.8h-.8zM234 38.2h.8v.8h-.8zM271.9 43.3h.8v.8h-.8zM268.6 62.1h.8v.8h-.8zM252.7 63.6h.8v.8h-.8zM233.2 59.5h.8v.8h-.8zM273.4 53.6h.8v.8h-.8zM231 57.9h.8v.8h-.8zM227.5 41.6h.8v.8h-.8zM228 55.3h.8v.8h-.8zM228.2 47.6h.8v.8h-.8zM254 31.5h.8v.8h-.8zM252.2 34.2h.8v.8h-.8zM231.5 60.1h.8v.8h-.8zM253.1 64.6h.8v.8h-.8zM235.1 62h.8v.8h-.8zM268.2 38.5h.8v.8h-.8zM241.9 62.7h.8v.8h-.8zM243.5 33.9h.8v.8h-.8zM226.9 44h.8v.8h-.8zM229.2 54.9h.8v.8h-.8zM230.5 55.1h.8v.8h-.8zM261.3 34.3h.8v.8h-.8zM248.9 32.8h.8v.8h-.8zM227 45.4h.8v.8h-.8zM271.6 43.9h.8v.8h-.8zM272 46.6h.8v.8h-.8zM270.3 48.8h.8v.8h-.8zM272 43.8h.8v.8h-.8zM251 63.6h.8v.8h-.8zM227.8 49.5h.8v.8h-.8zM273 41.9h.8v.8h-.8zM270.8 60.4h.8v.8h-.8zM272.5 49.3h.8v.8h-.8zM241.9 61.5h.8v.8h-.8zM254 30.8h.8v.8h-.8zM232.5 59.3h.8v.8h-.8zM270.1 38.4h.8v.8h-.8zM226.4 44.5h.8v.8h-.8zM270.3 43.2h.8v.8h-.8zM228.7 48.5h.8v.8h-.8zM228.5 52.2h.8v.8h-.8zM236.5 35.7h.8v.8h-.8zM270 39.1h.8v.8h-.8zM230 40.3h.8v.8h-.8zM272 46.1h.8v.8h-.8zM232.9 38.3h.8v.8h-.8zM254 33h.8v.8h-.8zM228.8 54.9h.8v.8h-.8zM271.6 41.7h.8v.8h-.8zM270.2 39.5h.8v.8h-.8zM274 52.4h.8v.8h-.8zM270.9 42.9h.8v.8h-.8zM264.1 62.6h.8v.8h-.8zM233.6 37.8h.8v.8h-.8zM262.9 35.4h.8v.8h-.8zM270.4 40h.8v.8h-.8zM255.8 32h.8v.8h-.8zM231.5 39.7h.8v.8h-.8zM251.8 32h.8v.8h-.8zM272.7 50.3h.8v.8h-.8zM230.5 41.6h.8v.8h-.8zM238.4 62.6h.8v.8h-.8zM269.7 40.1h.8v.8h-.8zM245.9 62.5h.8v.8h-.8zM242.8 34.9h.8v.8h-.8zM227.3 43.9h.8v.8h-.8zM225.3 42.7h.8v.8h-.8zM272.2 54.1h.8v.8h-.8zM270.6 60.1h.8v.8h-.8zM272.4 42.8h.8v.8h-.8zM264.7 62.6h.8v.8h-.8zM240.6 35.2h.8v.8h-.8zM252.3 31.9h.8v.8h-.8zM229.6 55h.8v.8h-.8zM227.5 49.3h.8v.8h-.8zM229 47.8h.8v.8h-.8zM259.2 32.7h.8v.8h-.8zM238 35.8h.8v.8h-.8zM239.1 35.7h.8v.8h-.8zM241 34.7h.8v.8h-.8zM235.1 60.8h.8v.8h-.8zM238.9 63.1h.8v.8h-.8zM233.8 38.1h.8v.8h-.8zM228.3 50.6h.8v.8h-.8zM269.9 37.5h.8v.8h-.8zM272.5 41.8h.8v.8h-.8zM271.3 54h.8v.8h-.8zM269.3 36.8h.8v.8h-.8zM234.1 39.1h.8v.8h-.8zM226.8 44.9h.8v.8h-.8zM244.6 61.9h.8v.8h-.8zM269.3 38.3h.8v.8h-.8zM269.6 41h.8v.8h-.8zM230.6 58.5h.8v.8h-.8zM258.9 33.7h.8v.8h-.8zM237.4 60.9h.8v.8h-.8z" fill="#C9AFAF"/>
<defs><radialGradient id="rbB" gradientUnits="userSpaceOnUse" cx="258.12" cy="51.64" r="15"><stop offset="0" stop-color="#CDD6E6"/><stop offset="0.5" stop-color="#D8DDE8" stop-opacity="0.9"/><stop offset="1" stop-color="#F2BEA8" stop-opacity="0"/></radialGradient></defs>
<path d="M226.06,43.93L229.46,40.63L232.56,38.28L238.76,35.65L245.73,33.58L251.92,31.88L258.12,32.35L263.23,34.89L269.74,37.72L271.67,43.17L272.22,47.88L272.83,54.47L272.83,59.46L269.19,62.37L260.29,63.13L250.76,63.88L244.8,62.37L236.43,60.58L232.87,59.46L230.47,55.13L228.07,49.29Z" fill="url(#rbB)"/>
<path d="M263.3 47.5h.8v.8h-.8zM246.5 55.9h.8v.8h-.8zM263.3 51.2h.8v.8h-.8zM228.3 46.3h.8v.8h-.8zM240.5 46.7h.8v.8h-.8zM267.9 37.7h.8v.8h-.8zM270.8 44.5h.8v.8h-.8zM259.6 53.5h.8v.8h-.8zM262.1 56h.8v.8h-.8zM237.4 52.8h.8v.8h-.8zM231.1 45.1h.8v.8h-.8zM254.1 46.3h.8v.8h-.8zM239.4 49.3h.8v.8h-.8zM242 59.6h.8v.8h-.8zM247.8 39h.8v.8h-.8zM263.1 47.5h.8v.8h-.8zM254.7 61.4h.8v.8h-.8zM229.5 42.9h.8v.8h-.8zM242.3 41.3h.8v.8h-.8zM228 43.5h.8v.8h-.8zM266.2 59.7h.8v.8h-.8zM253.7 63h.8v.8h-.8zM227.7 46.4h.8v.8h-.8zM243.3 57h.8v.8h-.8zM263.3 56.3h.8v.8h-.8zM259.1 59.1h.8v.8h-.8zM265 60.6h.8v.8h-.8zM240.1 54.6h.8v.8h-.8zM249 59.2h.8v.8h-.8zM264.6 38.2h.8v.8h-.8zM254.3 36.7h.8v.8h-.8zM231.3 54h.8v.8h-.8zM245.5 60.5h.8v.8h-.8zM269.1 58h.8v.8h-.8zM248.2 36.3h.8v.8h-.8zM249.9 57.3h.8v.8h-.8zM240.6 40.2h.8v.8h-.8zM269.4 47.1h.8v.8h-.8zM248 61.5h.8v.8h-.8zM257 34.8h.8v.8h-.8zM252.7 44.8h.8v.8h-.8zM261.8 54.9h.8v.8h-.8zM256.5 58.4h.8v.8h-.8zM247 41.8h.8v.8h-.8zM229.1 45.2h.8v.8h-.8zM259.4 38.2h.8v.8h-.8zM238.1 57.6h.8v.8h-.8zM258.8 41h.8v.8h-.8zM250 54.2h.8v.8h-.8zM257.2 58.4h.8v.8h-.8zM245.2 61.7h.8v.8h-.8zM255.6 50.3h.8v.8h-.8zM271.3 50.7h.8v.8h-.8zM250.3 33.5h.8v.8h-.8zM250.2 44.2h.8v.8h-.8zM244.3 47.1h.8v.8h-.8zM256.6 36.3h.8v.8h-.8zM236.2 43.9h.8v.8h-.8zM229.3 50.6h.8v.8h-.8zM265.4 60.7h.8v.8h-.8zM255.5 39.1h.8v.8h-.8zM268.7 50.7h.8v.8h-.8zM264.2 37.5h.8v.8h-.8zM250.1 59.8h.8v.8h-.8zM256 48h.8v.8h-.8zM254.3 60.9h.8v.8h-.8zM248.1 47h.8v.8h-.8zM240.2 54.2h.8v.8h-.8zM244.2 39.4h.8v.8h-.8zM250.6 43.7h.8v.8h-.8zM259.6 44.5h.8v.8h-.8zM233.6 56.5h.8v.8h-.8zM238.9 44.6h.8v.8h-.8zM262.6 43.8h.8v.8h-.8zM232.8 45.3h.8v.8h-.8zM231.5 49.4h.8v.8h-.8zM264.2 50.5h.8v.8h-.8zM247.1 60.5h.8v.8h-.8zM231.6 40.2h.8v.8h-.8zM238.5 56h.8v.8h-.8zM231.5 44.8h.8v.8h-.8zM268.4 42.7h.8v.8h-.8zM254 47.4h.8v.8h-.8zM249.4 58.4h.8v.8h-.8zM236.6 43.2h.8v.8h-.8zM239.4 39h.8v.8h-.8zM235.4 51.2h.8v.8h-.8zM242.9 52h.8v.8h-.8zM234.5 42.8h.8v.8h-.8zM235.2 58.4h.8v.8h-.8zM238.8 41.5h.8v.8h-.8zM231.9 49.9h.8v.8h-.8zM238.8 53.7h.8v.8h-.8zM244.4 51.1h.8v.8h-.8zM250.6 61.5h.8v.8h-.8zM237.7 59.2h.8v.8h-.8zM234.8 49.6h.8v.8h-.8zM258 32.6h.8v.8h-.8zM240.4 44.9h.8v.8h-.8zM233.3 55.9h.8v.8h-.8zM231.3 45.4h.8v.8h-.8zM235 54.5h.8v.8h-.8zM258.6 57.2h.8v.8h-.8zM250.7 51.3h.8v.8h-.8zM268.4 45.2h.8v.8h-.8zM270.4 41.2h.8v.8h-.8zM245.4 60.2h.8v.8h-.8zM230.3 46.1h.8v.8h-.8zM259.8 50.7h.8v.8h-.8zM227.3 43.9h.8v.8h-.8zM264.7 45.9h.8v.8h-.8zM241.4 39.9h.8v.8h-.8zM261.6 40.9h.8v.8h-.8zM248.6 58.5h.8v.8h-.8zM263.5 56.5h.8v.8h-.8zM266.8 49.9h.8v.8h-.8zM239.4 44.8h.8v.8h-.8zM244.1 58.8h.8v.8h-.8zM261.7 45.8h.8v.8h-.8zM261.1 57.6h.8v.8h-.8zM238.9 38h.8v.8h-.8zM250.3 33.7h.8v.8h-.8zM260.1 42.9h.8v.8h-.8zM245.4 60.2h.8v.8h-.8zM268.8 50.3h.8v.8h-.8zM238.5 43.2h.8v.8h-.8zM242.1 61.6h.8v.8h-.8zM248.7 50.3h.8v.8h-.8zM255.8 59.5h.8v.8h-.8zM238.6 56.8h.8v.8h-.8zM267.5 43.6h.8v.8h-.8zM244.4 51.8h.8v.8h-.8zM252.9 37.5h.8v.8h-.8zM246.1 35.5h.8v.8h-.8zM266.2 48.4h.8v.8h-.8zM248.7 43.9h.8v.8h-.8zM266.7 45.6h.8v.8h-.8zM233.2 44.4h.8v.8h-.8zM230 41.7h.8v.8h-.8zM247.6 56h.8v.8h-.8zM263.3 51.7h.8v.8h-.8zM271.1 44.5h.8v.8h-.8zM266.9 37.2h.8v.8h-.8zM251.5 48.3h.8v.8h-.8zM247.1 61.1h.8v.8h-.8zM270.2 50.9h.8v.8h-.8zM270 41.3h.8v.8h-.8zM229.2 41.2h.8v.8h-.8zM255.5 59.9h.8v.8h-.8zM250.4 39.4h.8v.8h-.8zM231.5 53.5h.8v.8h-.8zM266.3 60.5h.8v.8h-.8zM269.1 61.1h.8v.8h-.8zM267 40.5h.8v.8h-.8zM246.2 54.7h.8v.8h-.8zM244.7 34.6h.8v.8h-.8zM245 53.6h.8v.8h-.8zM254.2 32.7h.8v.8h-.8zM245.7 54.9h.8v.8h-.8zM234.2 43.2h.8v.8h-.8zM262.9 58.9h.8v.8h-.8zM236.9 56.5h.8v.8h-.8zM261.1 36.5h.8v.8h-.8zM241.7 45.3h.8v.8h-.8zM249 42.9h.8v.8h-.8zM228.1 44.4h.8v.8h-.8zM251.5 61.2h.8v.8h-.8zM245.3 38.5h.8v.8h-.8zM235.9 46.4h.8v.8h-.8zM240.7 55.9h.8v.8h-.8z" fill="#F2A083"/>
<path d="M264.1 50.2h.8v.8h-.8zM259.8 49h.8v.8h-.8zM262.2 62.3h.8v.8h-.8zM258.3 53.2h.8v.8h-.8zM252.9 52.5h.8v.8h-.8zM267.2 43.9h.8v.8h-.8zM251.1 57.2h.8v.8h-.8zM266.2 57.9h.8v.8h-.8zM252.9 57.1h.8v.8h-.8zM257.9 62.1h.8v.8h-.8zM268.1 51.4h.8v.8h-.8zM262.3 60.2h.8v.8h-.8zM254.2 55.2h.8v.8h-.8zM267.9 50.6h.8v.8h-.8zM261.2 43.4h.8v.8h-.8zM261.6 41.4h.8v.8h-.8zM265.7 45.4h.8v.8h-.8zM242.4 61.2h.8v.8h-.8zM256.1 43.7h.8v.8h-.8zM263 62h.8v.8h-.8zM253.5 46.9h.8v.8h-.8zM257.6 61.5h.8v.8h-.8zM258.2 40.9h.8v.8h-.8zM255.8 51.8h.8v.8h-.8zM255.8 44.4h.8v.8h-.8zM253.9 46.9h.8v.8h-.8zM260.4 47.9h.8v.8h-.8zM251 59.9h.8v.8h-.8zM256.4 43.8h.8v.8h-.8zM261.8 47.7h.8v.8h-.8zM261.4 56.5h.8v.8h-.8zM260.5 58.8h.8v.8h-.8zM249.9 62.6h.8v.8h-.8zM257.3 63.2h.8v.8h-.8zM266 51.7h.8v.8h-.8zM272.5 59.4h.8v.8h-.8zM261.1 41.4h.8v.8h-.8zM271 51.3h.8v.8h-.8zM259.9 43.4h.8v.8h-.8zM269.9 38.7h.8v.8h-.8zM252.7 48.9h.8v.8h-.8zM271.1 52.5h.8v.8h-.8zM257.5 49h.8v.8h-.8zM268.4 61.5h.8v.8h-.8zM254.6 49.5h.8v.8h-.8zM256.5 52.7h.8v.8h-.8zM266.1 58h.8v.8h-.8zM270.6 41.9h.8v.8h-.8zM264.4 51.6h.8v.8h-.8zM257.3 40.1h.8v.8h-.8zM257.4 40.8h.8v.8h-.8zM271.1 60.1h.8v.8h-.8zM246.8 54.8h.8v.8h-.8zM260.1 62.7h.8v.8h-.8zM262.8 62.4h.8v.8h-.8zM259.6 58h.8v.8h-.8zM243.5 57.6h.8v.8h-.8zM269.3 42.4h.8v.8h-.8zM254.1 60.3h.8v.8h-.8zM262 48.3h.8v.8h-.8zM270.9 58h.8v.8h-.8zM256.5 53.1h.8v.8h-.8zM257.8 58.5h.8v.8h-.8zM265.3 40.4h.8v.8h-.8zM269.5 50.2h.8v.8h-.8zM265.1 43.4h.8v.8h-.8zM251.3 49.1h.8v.8h-.8zM263.1 45.8h.8v.8h-.8zM266.2 54.2h.8v.8h-.8zM264.6 48.4h.8v.8h-.8zM268.2 38.7h.8v.8h-.8zM250.3 52.3h.8v.8h-.8zM248.9 54.9h.8v.8h-.8zM264.1 47.1h.8v.8h-.8zM262.4 45.6h.8v.8h-.8zM253.4 58.9h.8v.8h-.8zM255.8 57.7h.8v.8h-.8zM246.5 54.9h.8v.8h-.8zM257.3 60.5h.8v.8h-.8zM268.7 59h.8v.8h-.8zM257.2 45.1h.8v.8h-.8zM266.8 48.5h.8v.8h-.8zM269.1 41.3h.8v.8h-.8zM268.2 55.5h.8v.8h-.8zM264.9 54.4h.8v.8h-.8zM267.5 38.7h.8v.8h-.8zM256.3 56.3h.8v.8h-.8zM248.7 61.6h.8v.8h-.8zM244.3 54.7h.8v.8h-.8zM266 42h.8v.8h-.8zM268.8 49.7h.8v.8h-.8zM268.4 52.3h.8v.8h-.8zM263.9 45.9h.8v.8h-.8zM252.6 47.9h.8v.8h-.8zM270.2 44.3h.8v.8h-.8zM264.4 55.8h.8v.8h-.8zM270.6 59.9h.8v.8h-.8zM271.4 60.6h.8v.8h-.8zM261.4 46.5h.8v.8h-.8zM270.5 43h.8v.8h-.8zM268.7 60h.8v.8h-.8zM271 55.3h.8v.8h-.8zM258.7 52.5h.8v.8h-.8zM256.8 50.1h.8v.8h-.8zM268.5 41.2h.8v.8h-.8zM266.8 50.1h.8v.8h-.8zM265.5 60.8h.8v.8h-.8zM267 38.1h.8v.8h-.8zM258.3 41.5h.8v.8h-.8zM252.5 55.1h.8v.8h-.8zM268.1 57.4h.8v.8h-.8zM252.3 60.3h.8v.8h-.8zM260.5 58.8h.8v.8h-.8zM268.3 50.8h.8v.8h-.8zM257 57.5h.8v.8h-.8zM271.3 49.6h.8v.8h-.8zM256.5 52.4h.8v.8h-.8zM267.3 42.9h.8v.8h-.8zM264.2 50.2h.8v.8h-.8zM262.7 53.1h.8v.8h-.8z" fill="#7F97C0"/>
<path d="M262 58.9h.8v.8h-.8zM249.5 54.2h.8v.8h-.8zM264.4 41.5h.8v.8h-.8zM256.9 62.6h.8v.8h-.8zM251.6 53.1h.8v.8h-.8zM244.8 57h.8v.8h-.8zM269.9 61.5h.8v.8h-.8zM252.3 57h.8v.8h-.8zM260.9 62.6h.8v.8h-.8zM262 39.3h.8v.8h-.8zM267.3 57.4h.8v.8h-.8zM265.7 46.9h.8v.8h-.8zM270.6 60.9h.8v.8h-.8zM254.3 63.5h.8v.8h-.8zM261 49.2h.8v.8h-.8zM271 60.5h.8v.8h-.8zM264.2 44.7h.8v.8h-.8zM241.5 60.3h.8v.8h-.8zM256.7 53h.8v.8h-.8zM251.3 54.4h.8v.8h-.8zM247.6 57.9h.8v.8h-.8zM259.7 58.9h.8v.8h-.8zM253 54.4h.8v.8h-.8zM259.4 40.3h.8v.8h-.8zM269.7 43.6h.8v.8h-.8zM264.9 55.6h.8v.8h-.8zM267.1 53.5h.8v.8h-.8zM254.3 51.6h.8v.8h-.8zM245.3 60.6h.8v.8h-.8zM254 59.2h.8v.8h-.8zM253.9 52h.8v.8h-.8zM262.4 44.7h.8v.8h-.8zM272.7 59.1h.8v.8h-.8zM245.2 55.2h.8v.8h-.8zM270.4 60.1h.8v.8h-.8zM271.8 53.3h.8v.8h-.8zM254.5 53.7h.8v.8h-.8zM271.6 45.9h.8v.8h-.8zM248.7 54.3h.8v.8h-.8zM262.2 56.3h.8v.8h-.8zM259.6 50.7h.8v.8h-.8zM267.7 60h.8v.8h-.8zM248.2 60.4h.8v.8h-.8zM265.6 54.3h.8v.8h-.8zM260.3 61.6h.8v.8h-.8zM260.6 52.2h.8v.8h-.8zM267.6 60.1h.8v.8h-.8zM245.7 62h.8v.8h-.8zM262.2 62.7h.8v.8h-.8zM261.4 44.2h.8v.8h-.8zM257.9 55.6h.8v.8h-.8zM257.1 62.1h.8v.8h-.8zM268.6 47.3h.8v.8h-.8zM253.2 56.9h.8v.8h-.8zM247.9 57.6h.8v.8h-.8zM259.5 60.8h.8v.8h-.8zM261.6 44.2h.8v.8h-.8zM271 50.9h.8v.8h-.8zM268.7 41h.8v.8h-.8zM262.1 55.8h.8v.8h-.8zM242.2 56.1h.8v.8h-.8zM270.4 46.3h.8v.8h-.8zM270.9 42.6h.8v.8h-.8zM265.8 53.3h.8v.8h-.8zM245 60.9h.8v.8h-.8zM239.5 59.6h.8v.8h-.8zM257 57.6h.8v.8h-.8zM255.8 61.5h.8v.8h-.8zM266.4 53.2h.8v.8h-.8zM253.9 55.2h.8v.8h-.8zM256.6 61.5h.8v.8h-.8zM258.7 51.3h.8v.8h-.8zM245.2 60.9h.8v.8h-.8zM260.9 54h.8v.8h-.8zM243.7 58.2h.8v.8h-.8zM263.5 60.7h.8v.8h-.8zM266.4 55.3h.8v.8h-.8zM246.5 54.9h.8v.8h-.8zM269.4 53.2h.8v.8h-.8zM262 42.1h.8v.8h-.8zM258.9 62.1h.8v.8h-.8zM249.1 62.4h.8v.8h-.8zM264.5 55.7h.8v.8h-.8zM260.9 41h.8v.8h-.8zM264.7 61h.8v.8h-.8zM246.5 58.2h.8v.8h-.8zM251.5 56.3h.8v.8h-.8zM255.2 53.6h.8v.8h-.8zM246.7 59.8h.8v.8h-.8zM271.7 56.9h.8v.8h-.8zM261.6 39.3h.8v.8h-.8zM258.2 40.2h.8v.8h-.8zM268.5 52.9h.8v.8h-.8zM261.9 53.9h.8v.8h-.8zM271.9 59.7h.8v.8h-.8zM264.1 45.4h.8v.8h-.8zM269.6 40.9h.8v.8h-.8zM256.2 52h.8v.8h-.8zM254.9 63.3h.8v.8h-.8zM267.9 56.4h.8v.8h-.8zM240.5 59.6h.8v.8h-.8zM244.5 60.1h.8v.8h-.8zM269.6 48.2h.8v.8h-.8zM266.9 60.3h.8v.8h-.8zM262.9 62.2h.8v.8h-.8zM264.8 52.1h.8v.8h-.8zM250.7 57.9h.8v.8h-.8zM256.5 51.8h.8v.8h-.8zM263.2 42.3h.8v.8h-.8zM263.1 39.4h.8v.8h-.8z" fill="#3E5687"/>
<path d="M312.57,60.58L314.27,58.98L316.59,58.8L318.53,60.11L318.92,67.64L318.14,75.17L317.75,77.05L320.08,82.7L324.72,84.58L327.44,88.35L327.44,94.93L325.5,99.17L319.85,101.05L315.04,98.7L310.01,101.05L303.81,101.99L303.04,97.76L306.91,93.05L310.01,88.35L310.01,80.82L313.49,78.94L312.33,71.41Z" fill="#F4F4F8"/>
<path d="M318.6 68.1h.8v.8h-.8zM323.4 99.5h.8v.8h-.8zM309.5 83.5h.8v.8h-.8zM326.1 89.1h.8v.8h-.8zM319.3 64.8h.8v.8h-.8zM322.1 82.9h.8v.8h-.8zM318.4 67h.8v.8h-.8zM327 92.7h.8v.8h-.8zM316.8 59.3h.8v.8h-.8zM312 68h.8v.8h-.8zM326.6 86.7h.8v.8h-.8zM311.8 79.9h.8v.8h-.8zM320.1 101.7h.8v.8h-.8zM325 98.8h.8v.8h-.8zM311.1 84.2h.8v.8h-.8zM312.4 67.4h.8v.8h-.8zM319 78h.8v.8h-.8zM307.1 102.4h.8v.8h-.8zM324.3 83.3h.8v.8h-.8zM303.1 96.1h.8v.8h-.8zM303.6 98.5h.8v.8h-.8zM318.7 78.4h.8v.8h-.8zM313 64.2h.8v.8h-.8zM312.5 72.1h.8v.8h-.8zM314 77.4h.8v.8h-.8zM310.2 81.7h.8v.8h-.8zM311.7 66.1h.8v.8h-.8zM310.2 85.9h.8v.8h-.8zM312.2 72h.8v.8h-.8zM309.1 87.7h.8v.8h-.8zM322.3 99.9h.8v.8h-.8zM319 65.2h.8v.8h-.8zM317.6 60.8h.8v.8h-.8zM323.9 100.4h.8v.8h-.8zM319.2 66h.8v.8h-.8zM311.9 60.5h.8v.8h-.8zM309.8 86.4h.8v.8h-.8zM312.2 61.5h.8v.8h-.8zM303.5 98.4h.8v.8h-.8zM326.6 97.7h.8v.8h-.8zM311.8 64.3h.8v.8h-.8zM308.1 91.5h.8v.8h-.8zM313 68.3h.8v.8h-.8zM311.4 70.9h.8v.8h-.8zM314.3 98.7h.8v.8h-.8zM309.9 85.1h.8v.8h-.8zM313.4 64.3h.8v.8h-.8zM318 60h.8v.8h-.8zM309.8 80.9h.8v.8h-.8zM312.7 80h.8v.8h-.8zM312.1 66h.8v.8h-.8zM324.7 85.7h.8v.8h-.8zM325.8 85.9h.8v.8h-.8zM309.4 87.7h.8v.8h-.8zM317.9 76.6h.8v.8h-.8zM312.5 61.8h.8v.8h-.8zM327 93.5h.8v.8h-.8zM319 66.3h.8v.8h-.8zM313 60.7h.8v.8h-.8zM318.5 65.7h.8v.8h-.8zM325.5 95.9h.8v.8h-.8zM318 73.9h.8v.8h-.8zM313.4 99.3h.8v.8h-.8zM309 92.4h.8v.8h-.8zM321.1 100.9h.8v.8h-.8zM315.5 99.3h.8v.8h-.8zM324.2 84.8h.8v.8h-.8zM319.4 99.7h.8v.8h-.8zM325.5 96.8h.8v.8h-.8zM327.6 88.3h.8v.8h-.8zM326.3 98.7h.8v.8h-.8zM303.8 97.8h.8v.8h-.8zM305.3 94h.8v.8h-.8zM310.7 84.1h.8v.8h-.8zM312.6 76.4h.8v.8h-.8zM327.1 92.4h.8v.8h-.8zM312 64.3h.8v.8h-.8zM315.2 98.9h.8v.8h-.8zM305.5 94.3h.8v.8h-.8zM310.4 90.3h.8v.8h-.8zM313 73.2h.8v.8h-.8zM304.6 95.7h.8v.8h-.8zM319.9 67.1h.8v.8h-.8zM311.9 67.7h.8v.8h-.8zM307.1 101.4h.8v.8h-.8zM318.6 71.3h.8v.8h-.8zM306.3 94.2h.8v.8h-.8zM313.5 79.7h.8v.8h-.8zM311.8 101.1h.8v.8h-.8zM319.9 101.3h.8v.8h-.8zM319.6 70.8h.8v.8h-.8zM314.4 79.7h.8v.8h-.8zM318.2 66.1h.8v.8h-.8zM303.3 98.6h.8v.8h-.8zM309.7 100.8h.8v.8h-.8zM326.7 88.2h.8v.8h-.8zM310.4 100.2h.8v.8h-.8zM309.8 100.5h.8v.8h-.8zM326.4 95.6h.8v.8h-.8zM303.6 96.7h.8v.8h-.8zM318.1 100h.8v.8h-.8zM327.1 95.2h.8v.8h-.8zM312.6 59.4h.8v.8h-.8zM314.7 58.5h.8v.8h-.8zM313.8 76.4h.8v.8h-.8zM302.9 100.1h.8v.8h-.8zM319.2 79.2h.8v.8h-.8zM313.2 77.3h.8v.8h-.8zM312.5 76.5h.8v.8h-.8zM315.9 59.1h.8v.8h-.8zM306.4 101.6h.8v.8h-.8zM312.3 60.8h.8v.8h-.8zM318.3 100.8h.8v.8h-.8zM313.5 66.8h.8v.8h-.8zM312.2 70.2h.8v.8h-.8zM317.8 59.8h.8v.8h-.8zM309.9 80.7h.8v.8h-.8zM324.9 99.6h.8v.8h-.8zM303.9 101.4h.8v.8h-.8zM327.4 88.8h.8v.8h-.8zM320.2 101.2h.8v.8h-.8zM318.6 66.2h.8v.8h-.8zM324.7 99h.8v.8h-.8zM325.9 88.3h.8v.8h-.8zM310.7 80.3h.8v.8h-.8zM305.7 92.5h.8v.8h-.8zM307.3 92.2h.8v.8h-.8zM325.1 86h.8v.8h-.8zM310.2 85.5h.8v.8h-.8zM325.3 97.3h.8v.8h-.8zM309.9 89h.8v.8h-.8zM312.4 76.7h.8v.8h-.8zM315.8 58.4h.8v.8h-.8zM307.5 93.9h.8v.8h-.8zM324.7 85h.8v.8h-.8zM312.5 62.3h.8v.8h-.8zM318.7 59.4h.8v.8h-.8zM328.5 94.7h.8v.8h-.8zM313 64h.8v.8h-.8zM312.7 73.3h.8v.8h-.8zM314.3 75h.8v.8h-.8zM310.2 85.8h.8v.8h-.8zM312.1 73.1h.8v.8h-.8zM308.6 89.6h.8v.8h-.8zM325.7 96.9h.8v.8h-.8zM318 70.1h.8v.8h-.8zM312.5 75.3h.8v.8h-.8zM323 100.4h.8v.8h-.8zM313.2 65.4h.8v.8h-.8zM317.7 60h.8v.8h-.8zM312.3 64.5h.8v.8h-.8zM313.3 63.7h.8v.8h-.8zM308.5 101.1h.8v.8h-.8zM327.1 96h.8v.8h-.8zM304.3 96.3h.8v.8h-.8zM320.4 99.9h.8v.8h-.8zM317.9 79.1h.8v.8h-.8zM313.1 64.8h.8v.8h-.8zM310 85.6h.8v.8h-.8zM327.2 96.7h.8v.8h-.8zM318.1 62.5h.8v.8h-.8zM317.7 63.1h.8v.8h-.8zM306.1 101.6h.8v.8h-.8zM307.2 101.4h.8v.8h-.8zM309.7 87.4h.8v.8h-.8zM324.9 98.3h.8v.8h-.8zM315.5 98.3h.8v.8h-.8zM317.7 74.2h.8v.8h-.8zM327.4 94.1h.8v.8h-.8zM318.3 59.2h.8v.8h-.8z" fill="#2E4A82"/>
<path d="M313.8 72.3h.8v.8h-.8zM314.6 72.1h.8v.8h-.8zM320.7 98.5h.8v.8h-.8zM314.9 65.2h.8v.8h-.8zM310.9 86.2h.8v.8h-.8zM305.9 98.1h.8v.8h-.8zM319.9 100.3h.8v.8h-.8zM320.5 96.5h.8v.8h-.8zM303.2 97.5h.8v.8h-.8zM326.8 88.2h.8v.8h-.8zM324.7 86.9h.8v.8h-.8zM312.8 99.7h.8v.8h-.8zM303.7 99h.8v.8h-.8zM325.7 95.3h.8v.8h-.8zM313.6 71.4h.8v.8h-.8zM315.3 80.9h.8v.8h-.8zM312.9 74.2h.8v.8h-.8zM313.5 77.6h.8v.8h-.8zM317.6 97h.8v.8h-.8zM313.7 85.2h.8v.8h-.8zM310.5 98.5h.8v.8h-.8zM319.9 99.1h.8v.8h-.8zM322.1 86.3h.8v.8h-.8zM316.4 70.6h.8v.8h-.8zM313 96.8h.8v.8h-.8zM312.7 73.4h.8v.8h-.8zM315.4 85.6h.8v.8h-.8zM314.7 86.6h.8v.8h-.8zM314.7 81.7h.8v.8h-.8zM317.9 67.6h.8v.8h-.8zM317.3 75.9h.8v.8h-.8zM311.9 88.2h.8v.8h-.8zM315.2 92.4h.8v.8h-.8zM316.8 77.8h.8v.8h-.8zM318.4 69h.8v.8h-.8zM317.7 93.3h.8v.8h-.8zM324.8 85.7h.8v.8h-.8zM320.4 100.3h.8v.8h-.8zM323.8 89.2h.8v.8h-.8zM320.8 90.9h.8v.8h-.8zM324 94.9h.8v.8h-.8zM319.5 85.4h.8v.8h-.8zM319.5 91.1h.8v.8h-.8zM318.3 62h.8v.8h-.8zM317 68.2h.8v.8h-.8zM321.5 87.1h.8v.8h-.8zM320.9 97.9h.8v.8h-.8zM311.9 85.8h.8v.8h-.8zM314.2 76.6h.8v.8h-.8zM310.5 87.8h.8v.8h-.8z" fill="#8FA3C8"/>
<path d="M312.2 88.6h.8v.8h-.8zM314.7 87.6h.8v.8h-.8zM316.9 91.8h.8v.8h-.8zM314.2 78.1h.8v.8h-.8zM311.7 81.2h.8v.8h-.8zM323.9 98.9h.8v.8h-.8zM327.3 89.7h.8v.8h-.8zM309.1 93.8h.8v.8h-.8zM314 83.3h.8v.8h-.8zM319.2 93.7h.8v.8h-.8zM313.7 90h.8v.8h-.8zM311.4 88.7h.8v.8h-.8zM306.8 97.6h.8v.8h-.8zM318 80.6h.8v.8h-.8zM316.2 86.3h.8v.8h-.8zM316.9 64.5h.8v.8h-.8zM324.9 96.6h.8v.8h-.8zM317.5 63.7h.8v.8h-.8zM325.1 85.3h.8v.8h-.8zM318.6 93.7h.8v.8h-.8zM303.5 99.7h.8v.8h-.8zM319.7 99.7h.8v.8h-.8zM317.1 72.6h.8v.8h-.8zM321 99.1h.8v.8h-.8zM310.1 82.8h.8v.8h-.8zM313.8 96.4h.8v.8h-.8zM322 85.3h.8v.8h-.8zM309.7 96h.8v.8h-.8zM325.1 92.2h.8v.8h-.8zM325.9 87.1h.8v.8h-.8z" fill="#E9A08C"/>
<path d="M312.8 74.5h.8v.8h-.8zM318.1 71.2h.8v.8h-.8zM315.8 76.5h.8v.8h-.8zM315.5 73.3h.8v.8h-.8zM313.3 62.8h.8v.8h-.8zM312.2 66.7h.8v.8h-.8zM317.3 72.8h.8v.8h-.8zM317.4 64.8h.8v.8h-.8zM313.8 77.3h.8v.8h-.8zM317.6 65.6h.8v.8h-.8zM315.8 75.1h.8v.8h-.8zM311.7 72.3h.8v.8h-.8zM317.1 74.1h.8v.8h-.8zM313.2 71.6h.8v.8h-.8zM312.9 64.4h.8v.8h-.8zM317.1 76.1h.8v.8h-.8zM313 75.7h.8v.8h-.8zM315.7 68.7h.8v.8h-.8zM314.2 72.1h.8v.8h-.8zM315.8 61.6h.8v.8h-.8zM316.3 70.9h.8v.8h-.8zM317.8 71.3h.8v.8h-.8zM316.6 67.2h.8v.8h-.8zM316.9 60.7h.8v.8h-.8zM317.2 75.9h.8v.8h-.8zM313.8 65.9h.8v.8h-.8zM311.8 69.3h.8v.8h-.8zM315 78.4h.8v.8h-.8zM315.8 62.2h.8v.8h-.8zM314.4 76.2h.8v.8h-.8z" fill="#3D5A8E"/>
<path d="M270,63.5C272,70 272.6,78 272,84C271.5,90 268.5,97 264.5,104" fill="none" stroke="#C42C2A" stroke-width="1.5"/>
<path d="M268.1 94.4h.8v.8h-.8zM264.1 101.5h.8v.8h-.8zM267.3 95.2h.8v.8h-.8zM266.3 100.7h.8v.8h-.8zM268.2 99.4h.8v.8h-.8zM267 101.2h.8v.8h-.8zM266.8 104.1h.8v.8h-.8zM270.7 96.8h.8v.8h-.8zM265.7 98.9h.8v.8h-.8zM263 100.5h.8v.8h-.8zM264.1 99.3h.8v.8h-.8zM265.4 97.8h.8v.8h-.8zM265.6 104.9h.8v.8h-.8zM268.1 97.7h.8v.8h-.8zM271.2 94.6h.8v.8h-.8zM265.6 105.2h.8v.8h-.8zM266.9 97.2h.8v.8h-.8zM270.3 97.9h.8v.8h-.8zM265.4 96.8h.8v.8h-.8zM269.2 94.9h.8v.8h-.8zM266.4 101.3h.8v.8h-.8zM262.8 100.1h.8v.8h-.8zM264.3 98.1h.8v.8h-.8zM266.4 99.6h.8v.8h-.8zM266.4 102h.8v.8h-.8z" fill="#D64A3C"/>
<path d="M296.46,33.76L297.62,31.88L299.55,31.51L301.49,32.35L302.11,34.23L299.17,34.89Z" fill="#F3E6EA"/>
<path d="M300.4 34.4h.8v.8h-.8zM297.8 32.2h.8v.8h-.8zM299.5 31h.8v.8h-.8zM300 32h.8v.8h-.8zM298.7 34.2h.8v.8h-.8zM300.3 34.6h.8v.8h-.8zM300.5 34.6h.8v.8h-.8zM298.6 32.2h.8v.8h-.8zM300.6 35.4h.8v.8h-.8zM296.1 33.4h.8v.8h-.8z" fill="#3E5A8E"/>
<path d="M282.59,107.17L284.45,106.42L287.24,106.98L286,109.24L284.06,109.43Z" fill="#C9D3E6"/>
<rect x="236" y="42.6" width="30.5" height="4.8" fill="#E4E4E6" fill-opacity="0.75" stroke="none" stroke-width="0"/>
<text x="251.25" y="47.02" font-size="5.6" fill="#222" text-anchor="middle" font-weight="bold" textLength="28.3" lengthAdjust="spacingAndGlyphs">HSC/Prog−like</text>
<rect x="285.9" y="33.7" width="25.1" height="5.3" fill="#E4E4E6" fill-opacity="0.75" stroke="none" stroke-width="0"/>
<text x="298.45" y="38.37" font-size="5.6" fill="#222" text-anchor="middle" font-weight="bold" textLength="22.9" lengthAdjust="spacingAndGlyphs">Pre−B cells</text>
<rect x="298.9" y="69" width="26.6" height="5" fill="#E4E4E6" fill-opacity="0.75" stroke="none" stroke-width="0"/>
<text x="312.2" y="73.52" font-size="5.6" fill="#222" text-anchor="middle" font-weight="bold" textLength="24.4" lengthAdjust="spacingAndGlyphs">CD4+ T cells</text>
<rect x="242.7" y="70" width="23.1" height="3.8" fill="#E4E4E6" fill-opacity="0.75" stroke="none" stroke-width="0"/>
<text x="254.25" y="73.92" font-size="5.6" fill="#222" text-anchor="middle" font-weight="bold" textLength="20.9" lengthAdjust="spacingAndGlyphs">Neutrophils</text>
<rect x="217.3" y="78" width="47.7" height="3.6" fill="#E4E4E6" fill-opacity="0.75" stroke="none" stroke-width="0"/>
<text x="241.15" y="81.82" font-size="5.6" fill="#222" text-anchor="middle" font-weight="bold" textLength="45.5" lengthAdjust="spacingAndGlyphs">GMP−like/Granulocytes</text>
<rect x="267.3" y="82.6" width="30.7" height="3.4" fill="#E4E4E6" fill-opacity="0.75" stroke="none" stroke-width="0"/>
<text x="282.65" y="86.32" font-size="5.6" fill="#222" text-anchor="middle" font-weight="bold" textLength="28.5" lengthAdjust="spacingAndGlyphs">HSC/MPP cells</text>
<rect x="224.9" y="87.4" width="86.6" height="4.2" fill="#E4E4E6" fill-opacity="0.75" stroke="none" stroke-width="0"/>
<text x="268.2" y="91.52" font-size="5.6" fill="#222" text-anchor="middle" font-weight="bold" textLength="84.4" lengthAdjust="spacingAndGlyphs">Erythroid−like and erythroid precursor cells</text>
<rect x="315.5" y="97.4" width="15.5" height="4" fill="#E4E4E6" fill-opacity="0.75" stroke="none" stroke-width="0"/>
<text x="323.25" y="101.42" font-size="5.6" fill="#222" text-anchor="middle" font-weight="bold" textLength="13.3" lengthAdjust="spacingAndGlyphs">NK cells</text>
<rect x="251.9" y="102.4" width="58.9" height="4.2" fill="#E4E4E6" fill-opacity="0.75" stroke="none" stroke-width="0"/>
<text x="281.35" y="106.52" font-size="5.6" fill="#222" text-anchor="middle" font-weight="bold" textLength="56.7" lengthAdjust="spacingAndGlyphs">Plasmacytoid Dendritic cells</text>
<rect x="221.9" y="114" width="45" height="4.2" fill="#E4E4E6" fill-opacity="0.75" stroke="none" stroke-width="0"/>
<text x="244.4" y="118.12" font-size="5.6" fill="#222" text-anchor="middle" font-weight="bold" textLength="42.8" lengthAdjust="spacingAndGlyphs">Classical Monocytes</text>
<rect x="226" y="130.9" width="54" height="4.4" fill="#E4E4E6" fill-opacity="0.75" stroke="none" stroke-width="0"/>
<text x="253" y="135.12" font-size="5.6" fill="#222" text-anchor="middle" font-weight="bold" textLength="51.8" lengthAdjust="spacingAndGlyphs">Non−classical monocytes</text>
<line x1="372.1" y1="20.4" x2="372.1" y2="156.4" stroke="#1a1a1a" stroke-width="0.95"/>
<line x1="371.65" y1="156.4" x2="487.9" y2="156.4" stroke="#1a1a1a" stroke-width="0.95"/>
<line x1="369.7" y1="26.7" x2="372.1" y2="26.7" stroke="#222" stroke-width="0.7"/>
<text x="366.2" y="28.8" font-size="6.2" fill="#222" text-anchor="end">10</text>
<line x1="369.7" y1="54.7" x2="372.1" y2="54.7" stroke="#222" stroke-width="0.7"/>
<text x="366.2" y="56.8" font-size="6.2" fill="#222" text-anchor="end">5</text>
<line x1="369.7" y1="82.7" x2="372.1" y2="82.7" stroke="#222" stroke-width="0.7"/>
<text x="366.2" y="84.8" font-size="6.2" fill="#222" text-anchor="end">0</text>
<line x1="369.7" y1="110.7" x2="372.1" y2="110.7" stroke="#222" stroke-width="0.7"/>
<text x="366.2" y="112.8" font-size="6.2" fill="#222" text-anchor="end">−5</text>
<line x1="369.7" y1="138.7" x2="372.1" y2="138.7" stroke="#222" stroke-width="0.7"/>
<text x="366.2" y="140.8" font-size="6.2" fill="#222" text-anchor="end">−10</text>
<line x1="387.65" y1="156.4" x2="387.65" y2="158.6" stroke="#222" stroke-width="0.7"/>
<text x="387.65" y="167.8" font-size="6.2" fill="#222" text-anchor="middle">−5</text>
<line x1="414.2" y1="156.4" x2="414.2" y2="158.6" stroke="#222" stroke-width="0.7"/>
<text x="414.2" y="167.8" font-size="6.2" fill="#222" text-anchor="middle">0</text>
<line x1="440.75" y1="156.4" x2="440.75" y2="158.6" stroke="#222" stroke-width="0.7"/>
<text x="440.75" y="167.8" font-size="6.2" fill="#222" text-anchor="middle">5</text>
<line x1="467.3" y1="156.4" x2="467.3" y2="158.6" stroke="#222" stroke-width="0.7"/>
<text x="467.3" y="167.8" font-size="6.2" fill="#222" text-anchor="middle">10</text>
<text x="430" y="178.4" font-size="8.4" fill="#222" text-anchor="middle" textLength="22.6" lengthAdjust="spacingAndGlyphs" style="stroke-width:0.34px">UMAP_1</text>
<text x="0" y="0" font-size="8.4" fill="#222" text-anchor="middle" textLength="22.6" lengthAdjust="spacingAndGlyphs" transform="translate(349.6,88.4) rotate(-90)" style="stroke-width:0.34px">UMAP_2</text>
<text x="430.7" y="15.6" font-size="8.3" fill="#222" text-anchor="middle" font-style="italic" textLength="20.6" lengthAdjust="spacingAndGlyphs">BCL2</text>
<path d="M386.07,95.33L387.89,92.41L390.41,88.36L393.56,83.64L398.29,82.7L404.59,86L409.32,89.77L414.04,94.01L418.77,98.73L423.1,102.03L423.65,109.85L423.1,122.86L421.92,130.78L420.66,135.97L417.04,144.64L410.89,147.28L406.16,147.75L401.28,144.92L393.95,135.97L392.77,128.9L391.59,122.86L391.59,112.68L389.15,108.34L385.52,101.08Z" fill="#E6EAF2"/>
<path d="M397.9 82.2h1v1h-1zM419.6 141.9h1v1h-1zM414.4 145.8h1v1h-1zM399.8 84.3h1v1h-1zM423.6 109.9h1v1h-1zM422.8 102.1h1v1h-1zM388 92.4h1v1h-1zM422.6 118.6h1v1h-1zM417.6 142.2h1v1h-1zM414.7 145.6h1v1h-1zM418.1 97.9h1v1h-1zM390.5 122h1v1h-1zM424.4 117.5h1v1h-1zM391.9 119.6h1v1h-1zM398.1 142h1v1h-1zM419.1 141.6h1v1h-1zM419 139.2h1v1h-1zM410.8 90.9h1v1h-1zM385.5 101.9h1v1h-1zM423.5 118h1v1h-1zM404.2 147.5h1v1h-1zM423.3 111.7h1v1h-1zM418.7 99.8h1v1h-1zM404 146.1h1v1h-1zM418.7 143.4h1v1h-1zM392.5 130.6h1v1h-1zM399.7 84.1h1v1h-1zM390 117.6h1v1h-1zM391.2 120.5h1v1h-1zM393.7 140.5h1v1h-1zM406.3 146.9h1v1h-1zM392.4 86.8h1v1h-1zM412.9 91.6h1v1h-1zM422 122.1h1v1h-1zM395.7 139.2h1v1h-1zM421.9 101.5h1v1h-1zM395.1 83.9h1v1h-1zM393.1 127.4h1v1h-1zM413.4 92.6h1v1h-1zM418.7 99.6h1v1h-1zM414.4 95h1v1h-1zM392.7 125.9h1v1h-1zM422.8 116.1h1v1h-1zM420.1 100.1h1v1h-1zM418.6 138h1v1h-1zM424.5 113.6h1v1h-1zM409.6 146.8h1v1h-1zM411.6 92.7h1v1h-1zM395.6 138.7h1v1h-1zM392.4 125.9h1v1h-1zM406 87.6h1v1h-1zM423.4 106.5h1v1h-1zM416.1 144.9h1v1h-1zM386.8 101.8h1v1h-1zM423.4 108.1h1v1h-1zM413 93.1h1v1h-1zM420.4 136h1v1h-1zM385.9 95.2h1v1h-1zM401 144.3h1v1h-1zM396.4 137.2h1v1h-1zM391.8 86.6h1v1h-1zM398.7 144.2h1v1h-1zM417.7 145h1v1h-1zM406.3 87h1v1h-1zM398.9 143.7h1v1h-1zM401.2 84h1v1h-1zM405.9 87.3h1v1h-1zM392.1 116.2h1v1h-1zM392.7 137.1h1v1h-1zM414.9 92.5h1v1h-1zM387.5 109.1h1v1h-1zM418.2 141.4h1v1h-1zM414.3 145.1h1v1h-1zM402.2 83.8h1v1h-1zM400.3 143.5h1v1h-1zM394.2 134.6h1v1h-1zM388.8 107.9h1v1h-1zM418.8 99.3h1v1h-1zM396 139.8h1v1h-1zM422.6 111.4h1v1h-1zM387.9 88.2h1v1h-1zM416.1 95.9h1v1h-1zM393.2 131.1h1v1h-1zM410.2 90.3h1v1h-1zM403 142.8h1v1h-1zM410.5 90.1h1v1h-1zM416.9 145.1h1v1h-1zM424.4 118.1h1v1h-1zM391.5 127.4h1v1h-1zM389.1 88.4h1v1h-1zM415.1 145.8h1v1h-1zM403 145h1v1h-1zM385.8 101.7h1v1h-1zM411.8 91.4h1v1h-1zM394.9 139.2h1v1h-1zM409.6 146.4h1v1h-1zM405.7 86.3h1v1h-1zM416.5 95.9h1v1h-1zM388.5 104.2h1v1h-1zM410.6 147.5h1v1h-1zM391.9 121.6h1v1h-1zM422.7 110.1h1v1h-1zM386.2 103.1h1v1h-1zM394.9 83.7h1v1h-1zM396 138.7h1v1h-1zM420.5 134.1h1v1h-1zM388.3 105.5h1v1h-1zM413.4 92.7h1v1h-1zM392.5 123.2h1v1h-1zM396.4 83.7h1v1h-1zM392.1 125.2h1v1h-1zM399.1 141.4h1v1h-1zM414.5 145.7h1v1h-1zM421.4 117.9h1v1h-1zM418.6 141.9h1v1h-1zM423.5 120h1v1h-1zM415.4 95h1v1h-1zM400.3 82.7h1v1h-1zM424.3 110.8h1v1h-1zM416.3 94.4h1v1h-1zM420.4 134.6h1v1h-1zM424.9 116.4h1v1h-1zM392.1 83.5h1v1h-1zM386.3 97h1v1h-1zM389.3 92.2h1v1h-1zM392.2 114.8h1v1h-1zM418.5 142.4h1v1h-1zM410 147.7h1v1h-1zM389.4 106.4h1v1h-1zM390.7 110.1h1v1h-1zM417.2 144.2h1v1h-1zM384.8 102.9h1v1h-1zM385.9 102.2h1v1h-1zM403.5 146.6h1v1h-1zM388.7 91.1h1v1h-1zM420.5 137.3h1v1h-1zM412.2 92.6h1v1h-1zM386.1 96.5h1v1h-1zM386.1 94.4h1v1h-1zM416.4 96.6h1v1h-1zM391 121.3h1v1h-1zM405.6 145.3h1v1h-1zM393.7 127.1h1v1h-1zM392.2 128.5h1v1h-1zM392.6 127.7h1v1h-1zM405.7 145.3h1v1h-1zM406 148.3h1v1h-1zM424.3 108.3h1v1h-1zM419.4 135.7h1v1h-1zM418.3 98.8h1v1h-1zM426.2 124.1h1v1h-1zM413.1 146.3h1v1h-1zM419.6 138.7h1v1h-1zM416.9 97.6h1v1h-1zM420.4 138.6h1v1h-1zM408.9 147.3h1v1h-1zM387.3 104.1h1v1h-1zM409.5 91.5h1v1h-1zM399.4 144.6h1v1h-1zM401.5 84.2h1v1h-1zM389 111.9h1v1h-1zM406.5 87.8h1v1h-1zM424.3 118.1h1v1h-1zM407.6 86.5h1v1h-1zM386.3 102.5h1v1h-1zM391.5 115.8h1v1h-1zM390.2 88.9h1v1h-1zM419.6 137.2h1v1h-1zM424.2 104.3h1v1h-1zM391.7 122h1v1h-1zM385.2 95.9h1v1h-1zM423.3 104.3h1v1h-1zM403 145.8h1v1h-1zM394.1 130.8h1v1h-1zM421.5 134.5h1v1h-1zM420.7 121.2h1v1h-1zM418.3 139.2h1v1h-1zM390.4 84.9h1v1h-1zM386 104.1h1v1h-1zM422 126.7h1v1h-1zM420.6 99.8h1v1h-1zM408.3 147.7h1v1h-1zM414.5 94.4h1v1h-1zM422.8 107.2h1v1h-1zM424.5 120.8h1v1h-1zM424.3 105h1v1h-1zM393 124.8h1v1h-1zM415.7 96.3h1v1h-1zM405.1 146.8h1v1h-1zM389.2 109.4h1v1h-1zM422.8 104h1v1h-1zM389.5 87.2h1v1h-1zM403.5 86h1v1h-1zM391.8 114.1h1v1h-1zM404.5 85.9h1v1h-1zM407.5 87.3h1v1h-1zM422.1 100h1v1h-1zM423.3 100.4h1v1h-1zM393.9 135.5h1v1h-1zM394.4 82.4h1v1h-1zM424.1 118.9h1v1h-1zM422.4 118.8h1v1h-1zM422.9 116.8h1v1h-1zM389.3 90.8h1v1h-1zM390.4 110.7h1v1h-1zM393.5 137.6h1v1h-1zM404.1 147.5h1v1h-1zM395.7 139h1v1h-1zM391.3 116.4h1v1h-1zM385.1 95.3h1v1h-1zM397.9 138.6h1v1h-1zM422.9 106.7h1v1h-1zM406.6 148.6h1v1h-1zM423.6 118.7h1v1h-1zM400 83.3h1v1h-1zM421.3 134.2h1v1h-1zM388.2 106.4h1v1h-1zM390.9 117.4h1v1h-1zM418.3 98.5h1v1h-1zM394.4 135.9h1v1h-1zM423.3 115.6h1v1h-1zM422.6 110.4h1v1h-1zM388.5 106.1h1v1h-1zM423.8 111h1v1h-1zM386.2 100.6h1v1h-1zM396 83.4h1v1h-1zM386.2 99.4h1v1h-1zM400.1 143.7h1v1h-1zM418 97.2h1v1h-1zM419.3 140.2h1v1h-1zM422.6 130.9h1v1h-1zM392 124.2h1v1h-1zM386.5 104.2h1v1h-1zM420.4 133.8h1v1h-1zM394.8 136.6h1v1h-1zM401 145.6h1v1h-1zM395.5 139.3h1v1h-1zM421.8 133h1v1h-1zM424.1 115.6h1v1h-1zM405.2 147.6h1v1h-1zM410.9 90.7h1v1h-1zM386.8 94.3h1v1h-1zM421.1 137.7h1v1h-1zM391.9 117.7h1v1h-1zM399.6 83.6h1v1h-1zM405.9 149h1v1h-1zM423.7 121.5h1v1h-1zM391.1 115.2h1v1h-1zM392.5 112.5h1v1h-1zM390.9 87.1h1v1h-1zM405.6 86.7h1v1h-1zM421 130.6h1v1h-1zM392.9 131.5h1v1h-1zM387 105.3h1v1h-1zM420.8 135.2h1v1h-1zM418.7 98.4h1v1h-1zM388.7 91.6h1v1h-1zM416.9 97h1v1h-1zM402 147h1v1h-1zM391.5 88.1h1v1h-1z" fill="#1F4079"/>
<path d="M420.6 132.9h1v1h-1zM413.6 128.5h1v1h-1zM392.4 86.9h1v1h-1zM416 126.9h1v1h-1zM409.8 142.4h1v1h-1zM394.6 87.5h1v1h-1zM400.8 94.2h1v1h-1zM406.7 121.9h1v1h-1zM403.6 99.4h1v1h-1zM409.3 90.8h1v1h-1zM413 117.2h1v1h-1zM412.4 95.3h1v1h-1zM403 127.3h1v1h-1zM391.3 101.9h1v1h-1zM409.4 147.4h1v1h-1zM395 130h1v1h-1zM410.6 124h1v1h-1zM415.8 126.8h1v1h-1zM414.6 99h1v1h-1zM419.5 100.7h1v1h-1zM417.6 114.5h1v1h-1zM406.3 116.7h1v1h-1zM405.9 97.5h1v1h-1zM407.8 135h1v1h-1zM394.1 94.1h1v1h-1zM393.2 94.5h1v1h-1zM403.6 117.5h1v1h-1zM394 103.5h1v1h-1zM408.3 113.2h1v1h-1zM394.6 110.4h1v1h-1zM396 103.5h1v1h-1zM408.5 99.5h1v1h-1zM395 119.7h1v1h-1zM417.6 109.9h1v1h-1zM397.1 121.6h1v1h-1zM403.4 117.8h1v1h-1zM407.4 121.5h1v1h-1zM397.3 89h1v1h-1zM411 124.4h1v1h-1zM402.9 92h1v1h-1zM407.2 106.4h1v1h-1zM408.8 95.9h1v1h-1zM420.6 117.6h1v1h-1zM408.3 144.5h1v1h-1zM414.8 122.2h1v1h-1zM409 115.2h1v1h-1zM405.5 144.7h1v1h-1zM393.1 101.2h1v1h-1zM404.1 100h1v1h-1zM421.7 123.8h1v1h-1zM408.1 110.3h1v1h-1zM406.9 143.4h1v1h-1zM393.3 129.4h1v1h-1zM394.7 96.2h1v1h-1zM400.7 119.7h1v1h-1zM396.8 120.7h1v1h-1zM423.1 122.2h1v1h-1zM396.8 131.2h1v1h-1zM404.6 105.1h1v1h-1zM387.3 95.4h1v1h-1zM420 107.7h1v1h-1zM394.1 106.5h1v1h-1zM419.6 106.1h1v1h-1zM412.3 129.4h1v1h-1zM402.5 109.6h1v1h-1zM412.4 98.6h1v1h-1zM393.4 122.6h1v1h-1zM418.9 102h1v1h-1zM392.3 102.4h1v1h-1zM408.3 130.1h1v1h-1zM401.2 91.7h1v1h-1zM397.4 88.8h1v1h-1zM411.5 129.4h1v1h-1zM412.1 131h1v1h-1zM398.7 125.3h1v1h-1zM408.5 91h1v1h-1zM412.4 96.6h1v1h-1zM409.8 116.4h1v1h-1zM418.2 141.7h1v1h-1zM420.9 118h1v1h-1zM417.3 124.2h1v1h-1zM397.4 127.1h1v1h-1zM393.6 108.7h1v1h-1zM403.2 139.8h1v1h-1zM399.2 101.3h1v1h-1zM416.8 141.2h1v1h-1zM395.9 135.7h1v1h-1zM400.5 124.5h1v1h-1zM406.7 127.3h1v1h-1zM413.6 99.1h1v1h-1zM393.6 123.3h1v1h-1zM410.1 104.3h1v1h-1zM419.7 131.5h1v1h-1zM396.3 106.2h1v1h-1zM414 99.4h1v1h-1zM398.9 110.9h1v1h-1zM404.2 105.7h1v1h-1zM406.6 109.4h1v1h-1zM417.6 118.7h1v1h-1zM399.1 106.1h1v1h-1zM417.5 113.7h1v1h-1zM397.3 127.1h1v1h-1zM405.6 87.8h1v1h-1zM405.3 119.7h1v1h-1zM409 137.7h1v1h-1zM421.2 113.2h1v1h-1zM387.8 95.2h1v1h-1zM400.9 98.1h1v1h-1zM400.1 110.6h1v1h-1zM399.5 86.2h1v1h-1zM409.4 101h1v1h-1zM393.6 94h1v1h-1zM412.9 114.1h1v1h-1zM404.7 109.6h1v1h-1zM408.8 109.8h1v1h-1zM421.1 104.9h1v1h-1zM395 109.6h1v1h-1zM398.1 110.7h1v1h-1zM401.6 107.2h1v1h-1zM417.1 131.9h1v1h-1zM395.7 135.6h1v1h-1zM408.7 131.4h1v1h-1zM414.9 142.3h1v1h-1zM399.1 123.5h1v1h-1zM406.2 107.8h1v1h-1zM402.5 124.5h1v1h-1zM411.3 137.7h1v1h-1zM418 114.6h1v1h-1zM387.5 103.1h1v1h-1zM397.6 110.9h1v1h-1zM390.1 100.3h1v1h-1zM414.9 95.5h1v1h-1zM408.9 138.1h1v1h-1zM398.9 104.2h1v1h-1zM413.8 132.8h1v1h-1zM403.7 116.9h1v1h-1zM403.3 139.3h1v1h-1zM399.1 125.2h1v1h-1zM405.1 112.5h1v1h-1zM395.9 127.3h1v1h-1zM409.2 143h1v1h-1zM417.2 112.3h1v1h-1zM422.6 116.7h1v1h-1zM421.7 121.8h1v1h-1zM408.1 119.4h1v1h-1zM419.7 115.3h1v1h-1zM411.8 113.1h1v1h-1zM396.9 105.9h1v1h-1zM413.3 94.7h1v1h-1zM412.3 114.9h1v1h-1zM401.3 138.3h1v1h-1zM394.3 104.2h1v1h-1zM391.1 87.4h1v1h-1zM402.9 102.3h1v1h-1zM419.6 106.7h1v1h-1zM390.3 101.2h1v1h-1zM405.3 123.4h1v1h-1zM402.1 134.8h1v1h-1zM413.5 100.8h1v1h-1zM420.6 119.6h1v1h-1zM400.7 103h1v1h-1zM408.4 108.5h1v1h-1zM396.2 100.5h1v1h-1zM416.6 128.1h1v1h-1zM414.2 124.2h1v1h-1zM393.1 123.2h1v1h-1zM400.8 106.1h1v1h-1zM392.8 90.1h1v1h-1zM413.6 138.2h1v1h-1zM409.3 146.8h1v1h-1zM399.5 126.3h1v1h-1zM390.6 103.1h1v1h-1zM415.8 141.8h1v1h-1zM405.6 93.8h1v1h-1zM397.3 109.2h1v1h-1zM409.8 133.4h1v1h-1zM410.3 99.3h1v1h-1zM398.8 127.5h1v1h-1zM411.2 92h1v1h-1zM410.4 109.5h1v1h-1zM392.2 96.7h1v1h-1zM403.5 91.7h1v1h-1zM405.1 104.8h1v1h-1zM412.1 146.5h1v1h-1zM396.4 110.3h1v1h-1zM409.4 128h1v1h-1zM406.8 103.9h1v1h-1zM419 121.5h1v1h-1zM403 139.7h1v1h-1zM423 122.4h1v1h-1zM410.3 128.8h1v1h-1zM419.9 133.1h1v1h-1zM407.2 112.3h1v1h-1zM409.4 110.3h1v1h-1zM401.4 103.4h1v1h-1zM417.1 112.3h1v1h-1zM405.4 105.7h1v1h-1zM416.6 116.8h1v1h-1zM417 136.4h1v1h-1zM389.6 109h1v1h-1zM418.9 138.9h1v1h-1zM395.1 113.6h1v1h-1zM397.4 102.7h1v1h-1zM416.9 98.8h1v1h-1zM414.2 100.5h1v1h-1zM406.4 105.9h1v1h-1zM421.4 112.8h1v1h-1zM406.2 120.4h1v1h-1zM405.4 135.1h1v1h-1zM413.3 109.7h1v1h-1zM414.4 141.5h1v1h-1zM414.8 143.3h1v1h-1zM393.4 85.4h1v1h-1zM418.4 108.2h1v1h-1zM400.8 119.1h1v1h-1zM398.3 105.5h1v1h-1zM419.6 131.6h1v1h-1zM393 111.8h1v1h-1zM399.6 132h1v1h-1zM400.3 90.8h1v1h-1zM411.5 127.5h1v1h-1zM407 135.8h1v1h-1zM399.3 87.8h1v1h-1zM402.3 87.8h1v1h-1zM415.6 108.4h1v1h-1zM419.4 108.7h1v1h-1zM396.6 117h1v1h-1zM396.7 95.5h1v1h-1zM421.4 114.2h1v1h-1zM404.5 130h1v1h-1zM404.2 126.6h1v1h-1zM404.6 144.2h1v1h-1zM412.5 127.1h1v1h-1zM389.5 105.5h1v1h-1zM402.8 143.1h1v1h-1zM402 113.6h1v1h-1zM395.1 95.2h1v1h-1zM403.6 135.2h1v1h-1zM422.3 122.6h1v1h-1zM406 103.7h1v1h-1zM414.2 130.9h1v1h-1zM418.1 112.4h1v1h-1zM422.7 110.5h1v1h-1zM407.3 105.9h1v1h-1zM415.1 123.6h1v1h-1zM389.7 99h1v1h-1zM413.1 107.2h1v1h-1zM418.4 98.5h1v1h-1zM402.8 125.6h1v1h-1zM397.9 139h1v1h-1zM418 139.7h1v1h-1zM392.8 113h1v1h-1zM387.4 102.4h1v1h-1zM411.3 125.3h1v1h-1zM407.3 114.3h1v1h-1zM403 94.7h1v1h-1zM401.3 116.7h1v1h-1zM411.4 132.5h1v1h-1zM400.5 104.6h1v1h-1zM418.9 122.1h1v1h-1zM413.6 113.6h1v1h-1zM412.6 109h1v1h-1zM405.6 96h1v1h-1zM396.3 111.5h1v1h-1zM408.2 100.3h1v1h-1zM415.9 96h1v1h-1zM410.3 135.7h1v1h-1zM416.9 128.5h1v1h-1zM407.8 145.7h1v1h-1zM397.2 101.9h1v1h-1zM407.2 124.5h1v1h-1zM403.1 138.5h1v1h-1zM403.9 90.9h1v1h-1zM401.5 91.8h1v1h-1zM390.8 106.9h1v1h-1zM418.9 123.7h1v1h-1zM407.5 113.7h1v1h-1zM413.8 107.8h1v1h-1zM394.4 115.5h1v1h-1zM405.8 101.3h1v1h-1zM416.2 106.6h1v1h-1zM402.6 103.3h1v1h-1zM393 105.4h1v1h-1zM409.5 107.9h1v1h-1zM421.1 124.9h1v1h-1zM393.1 97.2h1v1h-1zM416.7 99.2h1v1h-1zM420.1 100.9h1v1h-1zM408.8 130.1h1v1h-1zM411.2 94.3h1v1h-1zM397.6 139.1h1v1h-1zM409.1 133.7h1v1h-1zM413.9 136.6h1v1h-1zM412.6 137.2h1v1h-1zM411.1 109.6h1v1h-1zM418.7 124.6h1v1h-1zM414.2 131h1v1h-1zM409.1 142.1h1v1h-1zM405.7 113.3h1v1h-1zM418.2 136.1h1v1h-1zM422.3 106.7h1v1h-1zM394.2 135.4h1v1h-1zM405.4 93.2h1v1h-1zM398.1 122.4h1v1h-1zM420.3 106.4h1v1h-1zM421.1 123.3h1v1h-1zM409.6 92.1h1v1h-1zM414.7 111.3h1v1h-1zM391.3 91.5h1v1h-1zM394.3 114.2h1v1h-1zM389.6 95.3h1v1h-1zM415.1 134h1v1h-1zM417.1 123.1h1v1h-1zM409.1 94.1h1v1h-1zM415.6 135.6h1v1h-1zM408.1 117.6h1v1h-1zM403.3 138h1v1h-1zM410.1 120.3h1v1h-1zM395.3 91.1h1v1h-1zM406.8 116.9h1v1h-1zM412.9 97h1v1h-1zM403.1 94.4h1v1h-1zM411.4 125.5h1v1h-1zM396.4 93.4h1v1h-1zM421.9 130h1v1h-1zM402.5 136.5h1v1h-1zM393.2 123.9h1v1h-1zM407.1 115.9h1v1h-1zM393.1 118h1v1h-1zM409.3 142.6h1v1h-1zM394.4 86.2h1v1h-1zM394 102.1h1v1h-1zM408.7 137.7h1v1h-1zM412.3 129.8h1v1h-1zM409.8 117.4h1v1h-1zM393 119.3h1v1h-1zM392 94.7h1v1h-1zM406.1 93.5h1v1h-1zM403.7 121h1v1h-1zM390.1 94.2h1v1h-1zM408.1 134h1v1h-1zM391.4 103.2h1v1h-1zM418.5 137.9h1v1h-1zM413.3 125.8h1v1h-1zM393.1 114.4h1v1h-1zM418 132.1h1v1h-1zM416.1 116.1h1v1h-1zM407.6 96.8h1v1h-1zM415.4 124h1v1h-1zM411.5 108.3h1v1h-1zM396.8 106.9h1v1h-1zM411 123.5h1v1h-1zM399.7 94.5h1v1h-1zM399 118.5h1v1h-1zM389.6 94.3h1v1h-1zM418.6 105h1v1h-1zM401.2 88.4h1v1h-1zM405.6 93h1v1h-1zM403.8 121.3h1v1h-1zM400.6 97.9h1v1h-1zM418.8 138h1v1h-1zM412.7 140.2h1v1h-1zM405.6 97.2h1v1h-1zM418.9 129.7h1v1h-1zM394.2 101.9h1v1h-1zM392.1 107.5h1v1h-1zM423.3 111.2h1v1h-1zM404.9 138.1h1v1h-1zM401.5 101.7h1v1h-1zM403.8 105h1v1h-1zM396.1 122.9h1v1h-1zM387.9 101.6h1v1h-1zM403.6 95.2h1v1h-1zM401.6 96.5h1v1h-1zM406.4 116.2h1v1h-1zM402.9 89.1h1v1h-1zM408.1 99.9h1v1h-1zM409.8 120.3h1v1h-1zM415.5 142.3h1v1h-1zM413.5 99.2h1v1h-1zM400.4 115.9h1v1h-1zM414.4 118.6h1v1h-1zM421.5 117.1h1v1h-1zM409.9 145.5h1v1h-1zM415 112.1h1v1h-1zM403.7 92h1v1h-1zM403 137.4h1v1h-1zM401.1 107.7h1v1h-1zM410.8 125.2h1v1h-1zM419 122.4h1v1h-1zM398.9 133.4h1v1h-1zM388.8 100.3h1v1h-1zM391.8 98.7h1v1h-1zM392.5 100.6h1v1h-1zM408.7 146.3h1v1h-1zM416.5 138.4h1v1h-1zM405.9 132.4h1v1h-1zM409.7 114.2h1v1h-1zM411.4 108.7h1v1h-1zM388.7 99h1v1h-1zM403.9 92.2h1v1h-1zM420.1 106.1h1v1h-1zM393.9 90.6h1v1h-1zM399.8 136h1v1h-1zM412.3 100.5h1v1h-1zM415.2 98.1h1v1h-1zM393.6 89.4h1v1h-1zM411.7 123.5h1v1h-1zM401 143.9h1v1h-1zM401.7 139.7h1v1h-1zM400.1 130.3h1v1h-1zM395.7 131.4h1v1h-1zM415.9 131.4h1v1h-1zM396.1 132.9h1v1h-1zM396.7 117.3h1v1h-1zM421.5 110.5h1v1h-1zM418.3 128h1v1h-1zM405.5 111.1h1v1h-1zM397.5 100.8h1v1h-1zM387.8 99.5h1v1h-1zM391.7 110.3h1v1h-1zM397 92.5h1v1h-1zM403.3 130.6h1v1h-1zM395.7 105.9h1v1h-1zM396.9 110.5h1v1h-1zM392.9 95h1v1h-1zM399.5 104.5h1v1h-1zM414.5 108.2h1v1h-1zM409.1 105.6h1v1h-1zM397.7 113.4h1v1h-1zM413.4 102.3h1v1h-1zM408.1 142.6h1v1h-1zM411.3 125.6h1v1h-1zM417.8 133.5h1v1h-1zM406.1 140.4h1v1h-1zM418 105h1v1h-1zM395.1 91h1v1h-1zM393.3 123.7h1v1h-1zM393.9 123.4h1v1h-1zM413.1 94.3h1v1h-1zM395.6 104.9h1v1h-1zM402.7 119.4h1v1h-1zM406.8 126.9h1v1h-1zM404.1 112.2h1v1h-1zM403.8 114.7h1v1h-1zM407.5 92.7h1v1h-1zM402.3 116.3h1v1h-1zM414.2 95.1h1v1h-1zM421.3 101.8h1v1h-1zM402.6 95.4h1v1h-1zM410.6 112.7h1v1h-1zM410.8 94.8h1v1h-1zM403.5 93.5h1v1h-1zM392.2 94.8h1v1h-1zM417.4 99.2h1v1h-1zM388.8 102.4h1v1h-1zM400.5 127.9h1v1h-1zM413.1 119h1v1h-1zM405.8 118.7h1v1h-1zM402.8 96.2h1v1h-1zM401.6 96.9h1v1h-1zM391.6 117.3h1v1h-1zM410.7 106.6h1v1h-1zM401 93.8h1v1h-1zM413.9 95.3h1v1h-1zM413.3 136.6h1v1h-1zM405.9 128.7h1v1h-1zM402.6 99.3h1v1h-1zM398.6 112.8h1v1h-1zM417.8 114.7h1v1h-1zM403.8 143.5h1v1h-1zM405.8 114h1v1h-1zM401.4 118.1h1v1h-1zM387.9 94.4h1v1h-1zM417.8 126.6h1v1h-1zM417.3 106.4h1v1h-1zM415.2 114.2h1v1h-1zM402.4 139.8h1v1h-1zM404 121.6h1v1h-1zM408 103.2h1v1h-1zM405.8 140.7h1v1h-1zM401.4 85.7h1v1h-1zM402.2 108.5h1v1h-1zM421.1 105.7h1v1h-1zM393.4 113.8h1v1h-1zM388 100.1h1v1h-1zM400.6 100.1h1v1h-1zM409.8 127h1v1h-1zM394.9 90h1v1h-1zM406.7 122.1h1v1h-1zM416.2 100h1v1h-1zM397.7 125.2h1v1h-1zM388.3 100.1h1v1h-1zM409.1 117.5h1v1h-1zM418 109.5h1v1h-1zM400.3 89.8h1v1h-1zM406.6 106.5h1v1h-1zM400.2 91.9h1v1h-1zM407.1 117.3h1v1h-1zM411.9 107.1h1v1h-1zM404.4 122.1h1v1h-1zM414.9 106.1h1v1h-1zM421.2 132.2h1v1h-1zM417.7 113.5h1v1h-1zM399.8 93.4h1v1h-1zM416.7 139h1v1h-1zM408.1 136.7h1v1h-1zM404 145.7h1v1h-1zM412.9 124h1v1h-1zM391.2 111.6h1v1h-1zM408.1 107.9h1v1h-1zM421.3 110.2h1v1h-1zM399.8 104h1v1h-1zM398.2 136.5h1v1h-1zM390.9 106h1v1h-1zM401.7 93.7h1v1h-1zM404.5 113.1h1v1h-1zM417.9 113.9h1v1h-1zM410.5 127.8h1v1h-1zM396.2 121h1v1h-1zM408.9 144h1v1h-1zM411 145.7h1v1h-1zM419.2 109.6h1v1h-1zM391.2 89.3h1v1h-1zM405.3 139.5h1v1h-1zM415.3 137.4h1v1h-1zM390.5 108.2h1v1h-1zM396.8 120.4h1v1h-1zM401.5 105.5h1v1h-1zM405.4 135.8h1v1h-1zM390.3 89.4h1v1h-1zM412.1 126.4h1v1h-1zM401.6 141.2h1v1h-1zM410.2 112.1h1v1h-1zM411.6 93.1h1v1h-1zM408.7 143.8h1v1h-1zM397 85.9h1v1h-1zM412.4 137.4h1v1h-1zM407.1 110.8h1v1h-1zM392.6 103.8h1v1h-1zM408.3 146.1h1v1h-1zM399.6 86.3h1v1h-1zM409.7 106.1h1v1h-1zM402.4 131.3h1v1h-1zM391.6 104.4h1v1h-1zM396.7 87.3h1v1h-1zM400.8 120.2h1v1h-1zM402.2 87.6h1v1h-1zM406.5 113.8h1v1h-1zM395.8 101.5h1v1h-1zM415.8 112h1v1h-1zM405.1 101.2h1v1h-1zM398.9 127.7h1v1h-1zM413 126.1h1v1h-1zM397.3 135.7h1v1h-1zM420.8 124.3h1v1h-1zM414.8 141.6h1v1h-1zM406 109.9h1v1h-1zM389.4 92.6h1v1h-1zM409.4 129.3h1v1h-1zM408.8 130.6h1v1h-1zM392.4 124.8h1v1h-1zM409.3 129.7h1v1h-1zM391.6 88.2h1v1h-1zM403 143.8h1v1h-1zM394.1 121.2h1v1h-1zM411.9 99.2h1v1h-1zM394.5 104.6h1v1h-1zM421.2 132.4h1v1h-1zM414.5 104.8h1v1h-1zM404.4 138.6h1v1h-1zM392.5 102.2h1v1h-1zM397.4 134.6h1v1h-1zM418.6 133.9h1v1h-1zM417.3 114.6h1v1h-1zM403 114.1h1v1h-1zM406.3 140.6h1v1h-1zM411.5 146h1v1h-1zM390.7 95.8h1v1h-1zM407.3 99.6h1v1h-1zM422.4 117.4h1v1h-1zM419.2 129.4h1v1h-1zM393.7 121.3h1v1h-1zM402.6 104.8h1v1h-1zM418.1 114.7h1v1h-1zM390.9 92.1h1v1h-1zM412.8 99.6h1v1h-1zM398.8 85.6h1v1h-1zM409.9 143.6h1v1h-1zM397.1 95.6h1v1h-1zM406.8 112.6h1v1h-1zM417.2 125.2h1v1h-1zM422.9 106.4h1v1h-1zM411 139h1v1h-1zM400.9 112.9h1v1h-1zM398 112h1v1h-1zM422.9 122h1v1h-1zM408.5 101.8h1v1h-1zM404.6 112.2h1v1h-1zM405.5 88h1v1h-1zM397.2 130.1h1v1h-1zM404.3 140.1h1v1h-1zM422.9 107.6h1v1h-1zM403.1 140.3h1v1h-1zM417.4 102.8h1v1h-1zM416.2 121.2h1v1h-1zM408 129.7h1v1h-1zM403 128.1h1v1h-1zM418.9 127.5h1v1h-1zM414.5 109.9h1v1h-1zM419.1 113.3h1v1h-1zM416.9 112.7h1v1h-1zM409.9 95.9h1v1h-1zM394.2 132.4h1v1h-1zM391.5 106.2h1v1h-1zM408.5 108h1v1h-1zM397.9 112.5h1v1h-1zM410.8 116.3h1v1h-1zM403 135.3h1v1h-1zM402.6 106.4h1v1h-1zM406.4 108.5h1v1h-1zM407.8 128.3h1v1h-1zM419.9 109.5h1v1h-1zM410.4 118.6h1v1h-1zM401.4 138.2h1v1h-1zM409.8 112.9h1v1h-1zM399.4 94h1v1h-1zM406.6 111.6h1v1h-1zM401.9 139.4h1v1h-1zM417.1 118.2h1v1h-1zM398 89h1v1h-1zM400.6 130.1h1v1h-1zM411.8 134.8h1v1h-1zM407 89.9h1v1h-1zM396.7 98.7h1v1h-1zM394.1 124.4h1v1h-1zM418.2 124h1v1h-1zM397 114.1h1v1h-1zM399.3 106.6h1v1h-1zM420.2 113.1h1v1h-1zM397.1 96.9h1v1h-1zM395.4 114.9h1v1h-1zM413.7 124.9h1v1h-1zM394.6 121.6h1v1h-1zM394.1 84.9h1v1h-1zM422.4 111.5h1v1h-1zM409.9 135.5h1v1h-1zM401.6 126h1v1h-1zM413.8 129.3h1v1h-1zM406.6 131.7h1v1h-1zM402.1 145.2h1v1h-1zM401.6 96.6h1v1h-1zM410.7 144.3h1v1h-1zM390.7 102.4h1v1h-1zM396.8 134.1h1v1h-1zM392.9 105.5h1v1h-1zM398.5 115.3h1v1h-1zM396.4 133.7h1v1h-1zM403.4 105.3h1v1h-1zM402.8 102.7h1v1h-1zM403.8 94.3h1v1h-1zM392.6 121.3h1v1h-1zM405.9 146.1h1v1h-1zM400.3 104.1h1v1h-1zM410.2 98.9h1v1h-1zM410.9 128.4h1v1h-1zM400 135.9h1v1h-1zM403.8 146.4h1v1h-1zM423.2 103.8h1v1h-1zM391.7 88.1h1v1h-1zM397 95.3h1v1h-1zM414.3 116.8h1v1h-1zM420.8 121.8h1v1h-1zM400.4 101.1h1v1h-1zM419.4 135.5h1v1h-1zM406.5 95.5h1v1h-1zM413 129.4h1v1h-1zM399.3 129.9h1v1h-1zM421.1 106.9h1v1h-1zM419.4 137.5h1v1h-1zM416.3 100.6h1v1h-1zM422.1 103.2h1v1h-1zM403.5 109.9h1v1h-1zM407.8 110.7h1v1h-1zM412.1 92.4h1v1h-1zM404 130.8h1v1h-1zM395.6 106.7h1v1h-1zM422.8 114.9h1v1h-1zM417 132.4h1v1h-1zM415.8 101.3h1v1h-1zM397.9 119.2h1v1h-1zM396 136h1v1h-1zM402.5 115.5h1v1h-1zM396.2 87.6h1v1h-1zM408.7 98.3h1v1h-1zM403.5 135.2h1v1h-1zM420.7 129.5h1v1h-1zM405.4 139.8h1v1h-1zM395.4 134.2h1v1h-1zM405.6 87.8h1v1h-1zM396.5 94h1v1h-1zM404.4 133.4h1v1h-1zM407.6 91.1h1v1h-1zM420.1 119.6h1v1h-1zM407.3 99.3h1v1h-1zM398.1 105.1h1v1h-1zM407 95.5h1v1h-1zM390.4 90.1h1v1h-1zM410.4 136.2h1v1h-1zM406.3 139.7h1v1h-1zM389.1 93.5h1v1h-1zM407.4 92.1h1v1h-1zM394.4 131.5h1v1h-1zM413.6 96.9h1v1h-1zM402.2 141.3h1v1h-1zM406.9 93.3h1v1h-1zM408.2 122.9h1v1h-1zM399.1 89.7h1v1h-1zM402.3 100.5h1v1h-1zM407.5 112.9h1v1h-1zM411.3 96.6h1v1h-1zM398.1 88.6h1v1h-1zM413.4 107h1v1h-1zM419.4 104.6h1v1h-1zM404.3 105.4h1v1h-1zM389.6 105.2h1v1h-1zM401.8 119.1h1v1h-1zM400.4 98.1h1v1h-1zM415.5 138.2h1v1h-1zM397.2 92.9h1v1h-1zM386.8 100.3h1v1h-1zM397.5 124.9h1v1h-1zM398.4 126.1h1v1h-1zM394.4 100.9h1v1h-1zM413 127.5h1v1h-1zM410.3 118h1v1h-1zM392.4 99.3h1v1h-1zM392.3 89.6h1v1h-1zM394.3 106.1h1v1h-1zM416.8 120.5h1v1h-1zM393.2 99h1v1h-1zM407.4 140.1h1v1h-1zM411.5 115.7h1v1h-1zM401.2 92.8h1v1h-1zM399.2 120h1v1h-1zM396.2 93.2h1v1h-1zM397.6 90.1h1v1h-1zM408.7 118.2h1v1h-1zM421.1 111.8h1v1h-1zM402.3 112.3h1v1h-1zM404.4 143.6h1v1h-1zM411.2 99.4h1v1h-1zM400.9 120.3h1v1h-1zM400.1 138.6h1v1h-1zM392.8 119h1v1h-1zM411.4 107.1h1v1h-1zM395.5 113.6h1v1h-1zM391.1 105.2h1v1h-1zM401.5 110.2h1v1h-1zM411.9 118.6h1v1h-1zM397.6 84.8h1v1h-1zM392.3 115.8h1v1h-1zM413.5 104.2h1v1h-1zM400.9 104h1v1h-1zM400.7 91.1h1v1h-1zM420.9 135h1v1h-1zM391.8 103h1v1h-1zM398.7 86.2h1v1h-1zM403.6 109.2h1v1h-1zM400.2 128.6h1v1h-1zM409.1 91.5h1v1h-1zM394.4 104.9h1v1h-1zM391.7 120.6h1v1h-1zM407.9 122.9h1v1h-1zM419.1 137.7h1v1h-1zM387.8 94.2h1v1h-1zM415.4 127.6h1v1h-1zM390.3 105.9h1v1h-1zM412.2 115.6h1v1h-1zM420.8 113.4h1v1h-1zM394.8 91.7h1v1h-1zM405.9 107.9h1v1h-1zM390.5 100.7h1v1h-1zM399.8 97.6h1v1h-1zM390.6 104.1h1v1h-1zM392.3 101h1v1h-1zM420.5 103.5h1v1h-1zM396.5 113.2h1v1h-1zM421.3 129.3h1v1h-1zM403.3 92.2h1v1h-1zM407.7 108.8h1v1h-1zM406.7 126.4h1v1h-1zM420 120.4h1v1h-1zM399.4 124.4h1v1h-1zM404.4 92h1v1h-1zM414.8 95.3h1v1h-1zM400.9 117.5h1v1h-1zM408.3 143.9h1v1h-1zM396.8 91.5h1v1h-1zM402.4 98.3h1v1h-1zM406 147.3h1v1h-1zM405.9 90.4h1v1h-1zM412 130.2h1v1h-1zM405.7 95.1h1v1h-1zM395.6 124.1h1v1h-1zM398.3 88h1v1h-1zM421.3 107.6h1v1h-1zM393.7 107.1h1v1h-1zM392.2 111.3h1v1h-1zM396.2 138.1h1v1h-1zM406.4 126.2h1v1h-1zM401.9 143.6h1v1h-1zM399.1 89.6h1v1h-1zM404.2 120.4h1v1h-1zM395.2 108.3h1v1h-1zM419.7 134.8h1v1h-1zM394.8 91.7h1v1h-1zM395.2 86.7h1v1h-1zM408.7 117.7h1v1h-1zM414.5 112.9h1v1h-1zM409.2 103.4h1v1h-1zM411.1 130.3h1v1h-1zM401.3 93.9h1v1h-1zM407 138.5h1v1h-1zM403.7 144.1h1v1h-1zM420.3 100h1v1h-1zM413.6 96.4h1v1h-1zM406.2 113.4h1v1h-1zM396.3 137.7h1v1h-1zM393.3 116.1h1v1h-1zM419.4 135h1v1h-1zM394.1 128.4h1v1h-1zM391.3 87.1h1v1h-1zM403.6 114.3h1v1h-1zM402.3 108.6h1v1h-1zM409.7 101.7h1v1h-1zM417.6 103h1v1h-1zM390.5 90.7h1v1h-1zM414.6 128.6h1v1h-1zM389.1 106h1v1h-1zM403.4 125.6h1v1h-1zM420.4 112.9h1v1h-1zM405.5 130.5h1v1h-1zM406.5 115.8h1v1h-1zM408.7 101.1h1v1h-1zM404.5 140h1v1h-1zM412.3 119.5h1v1h-1zM394.9 108.2h1v1h-1zM393.8 112.1h1v1h-1zM412.2 135.9h1v1h-1zM416.4 113.6h1v1h-1zM402.9 110.7h1v1h-1zM413.2 103.2h1v1h-1zM401.8 142h1v1h-1zM413.2 135.2h1v1h-1zM394.4 110.4h1v1h-1zM402.4 141.6h1v1h-1zM402.6 98.2h1v1h-1zM391.3 96.6h1v1h-1zM399.1 109.5h1v1h-1zM395.7 132.2h1v1h-1zM412.2 93.8h1v1h-1zM416.9 141.6h1v1h-1zM405.7 105.8h1v1h-1zM401.7 129.6h1v1h-1zM418.9 138.2h1v1h-1zM406.2 97.8h1v1h-1zM420.4 134.5h1v1h-1zM403.4 108.6h1v1h-1zM397.8 134.4h1v1h-1zM416.1 106.7h1v1h-1zM409.6 92.7h1v1h-1zM416.6 139.5h1v1h-1zM414.2 124.2h1v1h-1zM420.7 132.1h1v1h-1zM399.4 103h1v1h-1zM404.9 105.1h1v1h-1zM394.2 118.5h1v1h-1zM420.1 121.5h1v1h-1zM419.2 105.6h1v1h-1zM412.2 134.2h1v1h-1zM401.3 115.6h1v1h-1zM390.9 95.2h1v1h-1zM404.5 133.2h1v1h-1zM398.3 96.8h1v1h-1zM408.6 139.8h1v1h-1zM410.4 135.5h1v1h-1zM394.8 94.8h1v1h-1zM419.1 130.2h1v1h-1zM398.4 104.7h1v1h-1zM409.9 109.5h1v1h-1zM404.7 141.6h1v1h-1zM418.1 107.1h1v1h-1zM416.1 99.3h1v1h-1zM419.6 132.1h1v1h-1zM401.7 143.1h1v1h-1zM410.5 91.2h1v1h-1zM414.7 129.3h1v1h-1zM410.9 110.6h1v1h-1zM401.8 138.8h1v1h-1zM416.5 121.1h1v1h-1zM421.6 109.9h1v1h-1zM403.1 88.7h1v1h-1zM408.4 120.9h1v1h-1zM418 140.8h1v1h-1zM419.6 129.5h1v1h-1zM397.4 137.9h1v1h-1zM412.6 128.5h1v1h-1zM393.4 87.5h1v1h-1zM395.9 109.1h1v1h-1zM390.8 96.6h1v1h-1zM407.8 144.1h1v1h-1zM398.2 95.8h1v1h-1zM420.6 115h1v1h-1zM415.4 100.2h1v1h-1zM412.9 122.1h1v1h-1zM417.6 115.9h1v1h-1zM422.4 105.6h1v1h-1zM394.2 120.4h1v1h-1zM405.3 128.5h1v1h-1zM419.7 102.3h1v1h-1zM398.2 125h1v1h-1zM394.3 84.7h1v1h-1zM389.3 108.2h1v1h-1zM416.8 137.5h1v1h-1zM399.9 90.1h1v1h-1zM394.8 92.6h1v1h-1zM396.2 122.1h1v1h-1zM415.2 95.9h1v1h-1zM397.8 100.5h1v1h-1zM401.9 137.8h1v1h-1zM398 98.5h1v1h-1zM393.5 117.3h1v1h-1zM400.3 141h1v1h-1zM396.5 84.9h1v1h-1zM400.8 118.1h1v1h-1zM413.2 112.9h1v1h-1zM408.6 115.8h1v1h-1zM401.9 90.5h1v1h-1zM401.3 91h1v1h-1zM418.7 131.7h1v1h-1zM395.9 127.5h1v1h-1zM397.5 124.5h1v1h-1zM399.1 130.7h1v1h-1zM409.6 102.1h1v1h-1zM420.3 109.3h1v1h-1zM396.2 115.6h1v1h-1zM393.5 116.6h1v1h-1zM391.1 89.4h1v1h-1zM412.2 95.2h1v1h-1zM406.8 107.8h1v1h-1zM393.5 93.1h1v1h-1zM405.3 143.6h1v1h-1zM396.3 126.2h1v1h-1zM416.1 114h1v1h-1zM404.1 117.8h1v1h-1zM417 116.2h1v1h-1zM394.1 113.5h1v1h-1zM405.2 113.4h1v1h-1zM398.2 137.5h1v1h-1zM389.3 97.2h1v1h-1zM420.8 113.2h1v1h-1zM393.6 96.7h1v1h-1zM416 102.5h1v1h-1zM392.8 109.9h1v1h-1zM409 128.6h1v1h-1zM413.2 101.5h1v1h-1zM402.4 126.9h1v1h-1zM401.6 139.5h1v1h-1zM405.8 136.4h1v1h-1zM401.2 95.3h1v1h-1zM401.7 124.9h1v1h-1zM416.9 141.8h1v1h-1zM418.1 112.1h1v1h-1zM402.2 97.7h1v1h-1zM412.4 98.3h1v1h-1zM390.8 111h1v1h-1zM410.5 111.1h1v1h-1zM401.2 112.9h1v1h-1zM400.4 110.1h1v1h-1zM416 118.7h1v1h-1zM397.9 104.3h1v1h-1zM418.7 99.2h1v1h-1zM401.9 103.4h1v1h-1zM409.2 114.9h1v1h-1zM399.7 93.6h1v1h-1zM404.1 101.5h1v1h-1zM405.7 136.6h1v1h-1zM399.4 141.7h1v1h-1zM409.4 116.5h1v1h-1zM413.3 138.8h1v1h-1zM399.2 138.7h1v1h-1zM413.6 101.5h1v1h-1zM418.1 102.9h1v1h-1zM400.6 118.6h1v1h-1zM407.9 138.5h1v1h-1zM419.5 129.2h1v1h-1zM411.1 131.6h1v1h-1zM411.3 122.7h1v1h-1zM395.8 114h1v1h-1zM398.4 102.8h1v1h-1zM409.2 132.6h1v1h-1zM416.7 114.1h1v1h-1zM412 109.6h1v1h-1zM394.7 108.1h1v1h-1zM415.4 134.8h1v1h-1zM394.3 102.5h1v1h-1zM393.5 113.2h1v1h-1zM400.2 137.5h1v1h-1zM388.5 97.4h1v1h-1zM388.9 104.1h1v1h-1zM408.8 119.1h1v1h-1zM408.2 138.2h1v1h-1zM415.1 118.3h1v1h-1zM401.4 91.1h1v1h-1zM408.8 136.7h1v1h-1zM395.4 88.6h1v1h-1zM417.1 108h1v1h-1zM394.5 103.6h1v1h-1zM419.6 130.6h1v1h-1zM416.4 108.8h1v1h-1zM397.1 100h1v1h-1zM396.2 120.2h1v1h-1zM399.5 96.7h1v1h-1zM408.6 98.2h1v1h-1zM421.8 123.7h1v1h-1zM415.6 131.8h1v1h-1zM414.9 113.2h1v1h-1zM392.6 116.7h1v1h-1zM398.2 109.6h1v1h-1zM412.2 133.2h1v1h-1zM414.6 142.8h1v1h-1zM403.7 134.1h1v1h-1zM418.9 108.4h1v1h-1zM405.4 111.3h1v1h-1zM394.2 103.8h1v1h-1zM392.5 106.8h1v1h-1zM408.9 146.1h1v1h-1zM401.5 130.3h1v1h-1zM411.6 93.5h1v1h-1zM394.7 129.2h1v1h-1zM423.1 107.8h1v1h-1zM413.5 130.5h1v1h-1zM413.7 143.5h1v1h-1zM422.1 108.4h1v1h-1zM409.8 145h1v1h-1zM413.3 125.3h1v1h-1zM394.1 120.1h1v1h-1zM420.6 110h1v1h-1zM420.7 124h1v1h-1zM412.4 123.7h1v1h-1zM391.4 101.9h1v1h-1zM418.3 133.8h1v1h-1zM394.4 104.5h1v1h-1zM402 139.4h1v1h-1zM405 124.1h1v1h-1zM412.3 99.6h1v1h-1zM391.3 110.2h1v1h-1zM402.3 136.1h1v1h-1zM407.7 111.9h1v1h-1zM395.1 121h1v1h-1zM389.1 91.9h1v1h-1zM403 98.8h1v1h-1zM407 138.6h1v1h-1zM397.6 84.4h1v1h-1zM398.2 92.2h1v1h-1zM406.3 90h1v1h-1zM415.5 123.3h1v1h-1zM412.1 122.4h1v1h-1zM423 122.9h1v1h-1zM392.5 99.8h1v1h-1zM402.4 95.2h1v1h-1zM410.8 136.4h1v1h-1zM394.7 91.8h1v1h-1zM401.8 116.1h1v1h-1zM404.8 139h1v1h-1zM393 85.6h1v1h-1zM398.7 130.7h1v1h-1zM416.5 104.9h1v1h-1zM396.2 119h1v1h-1zM419.6 131h1v1h-1zM394.2 91.5h1v1h-1zM405.1 93.8h1v1h-1zM408.6 108.6h1v1h-1zM407 145.7h1v1h-1zM389.6 95.6h1v1h-1zM394.7 103.3h1v1h-1zM410.8 114.8h1v1h-1zM397.5 130h1v1h-1zM409.7 137h1v1h-1zM399.1 99.2h1v1h-1zM395.1 134.5h1v1h-1zM396.6 96.8h1v1h-1zM408.7 123.7h1v1h-1zM397.3 134.1h1v1h-1zM404.6 137.7h1v1h-1zM406.9 134.9h1v1h-1zM408.4 101.6h1v1h-1zM389 100.6h1v1h-1zM418 129.7h1v1h-1zM414.5 99.1h1v1h-1zM409.4 112.5h1v1h-1zM395.6 95.9h1v1h-1zM395.3 98.9h1v1h-1zM402.7 114.9h1v1h-1zM401.9 117.7h1v1h-1zM403.9 118.4h1v1h-1zM412.8 103.3h1v1h-1zM417.6 98.1h1v1h-1zM419.9 99.8h1v1h-1zM387.9 93.3h1v1h-1zM404.7 120h1v1h-1zM407.7 131.6h1v1h-1zM409.9 118.5h1v1h-1zM408.9 116.6h1v1h-1zM416.6 130.1h1v1h-1zM391.6 104.1h1v1h-1zM404.6 108.1h1v1h-1zM422.9 103.9h1v1h-1zM414.5 121.1h1v1h-1zM408 109.6h1v1h-1zM412.8 108.3h1v1h-1zM410 119.5h1v1h-1zM407.5 135h1v1h-1zM399.6 95.4h1v1h-1zM392.8 111.5h1v1h-1zM390.6 104.9h1v1h-1zM393.7 115.6h1v1h-1zM419 134h1v1h-1zM403.2 117.3h1v1h-1zM410.5 116.9h1v1h-1zM412.6 118.1h1v1h-1zM420.7 112.8h1v1h-1zM405.5 119.3h1v1h-1zM409 143.1h1v1h-1zM422.8 120h1v1h-1zM409.2 112.2h1v1h-1zM413.5 100.3h1v1h-1zM401.4 109.7h1v1h-1zM395.5 84.9h1v1h-1zM408.3 97.9h1v1h-1zM402.5 85.2h1v1h-1zM414.7 145.6h1v1h-1zM421.5 113.4h1v1h-1zM409.2 98.1h1v1h-1zM397 85.7h1v1h-1zM398.7 116h1v1h-1zM411.1 99.8h1v1h-1zM406.3 87.5h1v1h-1zM396.1 136.4h1v1h-1zM394.2 116.9h1v1h-1zM401.3 99.8h1v1h-1zM397 132.8h1v1h-1zM406 137h1v1h-1zM420.6 125.6h1v1h-1zM390.1 105h1v1h-1zM401.7 97.3h1v1h-1zM418.6 131.8h1v1h-1zM407.1 145.8h1v1h-1zM408.8 95.5h1v1h-1zM416.5 107.3h1v1h-1zM397.5 134.4h1v1h-1zM414.5 113.1h1v1h-1zM400.3 131h1v1h-1zM415.1 107.6h1v1h-1zM413.2 118.8h1v1h-1zM397.9 116.3h1v1h-1zM407.9 95.1h1v1h-1zM399 117.3h1v1h-1zM405.4 122.6h1v1h-1zM420.8 103.8h1v1h-1zM395.3 116.1h1v1h-1zM392.6 105.8h1v1h-1zM397.8 95.3h1v1h-1zM394.7 115.7h1v1h-1zM401.2 137.5h1v1h-1zM396.8 93.2h1v1h-1zM401 109.3h1v1h-1zM403.3 97.7h1v1h-1zM408.9 116.7h1v1h-1zM386.3 101.5h1v1h-1zM400.9 137.4h1v1h-1zM398.6 85.7h1v1h-1zM412.9 137.8h1v1h-1zM405.8 88.9h1v1h-1zM412.4 142.5h1v1h-1zM409.6 116.8h1v1h-1zM420.3 133h1v1h-1zM399.8 129h1v1h-1zM412 131.8h1v1h-1zM392.9 111.5h1v1h-1zM400.3 106.2h1v1h-1zM408.9 121.3h1v1h-1zM389.8 100.7h1v1h-1zM411 91.8h1v1h-1zM394.5 135.2h1v1h-1zM407.9 146.2h1v1h-1zM392.6 94.6h1v1h-1zM422.4 118.4h1v1h-1zM389 107.2h1v1h-1zM397.4 121.8h1v1h-1zM407.8 137.5h1v1h-1zM409.9 118.3h1v1h-1zM399.1 84.3h1v1h-1zM394.2 129.2h1v1h-1zM388.7 100.6h1v1h-1zM421.4 132.7h1v1h-1zM412.2 138.8h1v1h-1zM395.2 83.9h1v1h-1zM411.8 102.7h1v1h-1zM413.9 94.7h1v1h-1zM391.7 99.5h1v1h-1zM396 128.2h1v1h-1zM396.7 127.8h1v1h-1zM389.6 94.8h1v1h-1zM395.4 136.8h1v1h-1zM396.8 89.1h1v1h-1zM390.3 104.4h1v1h-1zM416.2 122.8h1v1h-1zM416.7 107.9h1v1h-1zM409.2 100.4h1v1h-1zM403.7 121h1v1h-1zM392.1 101.3h1v1h-1zM417.6 107.2h1v1h-1zM396.1 105.5h1v1h-1zM417.6 101.1h1v1h-1zM412.8 97.8h1v1h-1zM406.2 147.5h1v1h-1zM391.9 103.5h1v1h-1zM414.1 138h1v1h-1zM388.8 94.2h1v1h-1zM402.4 135.5h1v1h-1zM408.3 127.5h1v1h-1zM406.7 128.3h1v1h-1zM414.6 135.8h1v1h-1zM410.3 112.7h1v1h-1zM406.9 90h1v1h-1zM393.5 132.2h1v1h-1zM404.9 142.8h1v1h-1zM405.7 127.9h1v1h-1zM400.4 140.2h1v1h-1zM409.1 96.1h1v1h-1zM410.8 113h1v1h-1zM397.7 111.2h1v1h-1zM394.1 126.4h1v1h-1zM401.8 100.3h1v1h-1zM416.1 139h1v1h-1zM413.1 137.2h1v1h-1zM418.9 122.4h1v1h-1zM411.6 96.3h1v1h-1zM393.1 115.6h1v1h-1zM416.3 98.8h1v1h-1zM393.4 114.2h1v1h-1zM398.2 88.3h1v1h-1zM406.1 122.3h1v1h-1zM420.8 109.4h1v1h-1zM404.5 90.5h1v1h-1zM391.2 108.4h1v1h-1zM405.2 121.9h1v1h-1zM415 112.1h1v1h-1zM393.2 121h1v1h-1zM419.3 115.9h1v1h-1zM399.1 124.8h1v1h-1zM406.4 127.8h1v1h-1zM396 119.6h1v1h-1zM408.9 94.6h1v1h-1zM394.6 84.7h1v1h-1zM406.9 142.9h1v1h-1zM418 103.4h1v1h-1zM414.2 101h1v1h-1zM406.8 111.4h1v1h-1zM415.5 125.1h1v1h-1zM407.1 136.6h1v1h-1zM402.3 127.4h1v1h-1zM394.4 97.6h1v1h-1zM403.4 138.2h1v1h-1zM410.6 128.6h1v1h-1zM411.7 122.1h1v1h-1zM402.8 105.2h1v1h-1zM416.1 103.2h1v1h-1zM411.5 134.8h1v1h-1zM408.9 134h1v1h-1zM404.5 104.2h1v1h-1zM392.5 124.4h1v1h-1zM423.3 111.4h1v1h-1zM415.6 120.4h1v1h-1zM413 98.5h1v1h-1zM411.5 110.4h1v1h-1zM404.1 143.7h1v1h-1zM391 91.4h1v1h-1zM415.5 145h1v1h-1zM395.1 118.9h1v1h-1zM416.8 118.9h1v1h-1zM401 84.4h1v1h-1zM415.4 120.2h1v1h-1zM395.4 83.9h1v1h-1zM402.6 89.7h1v1h-1zM421.4 109.3h1v1h-1zM390.9 101.8h1v1h-1zM413 101.5h1v1h-1zM395.2 113h1v1h-1zM392.3 95.7h1v1h-1zM416.1 120.2h1v1h-1zM394 91.6h1v1h-1zM400.8 121.3h1v1h-1zM409 139h1v1h-1zM400.4 112.3h1v1h-1zM421.9 103.5h1v1h-1zM402.8 114.4h1v1h-1zM396.7 134.9h1v1h-1zM391.8 119.7h1v1h-1zM400 113.3h1v1h-1zM404.5 143.1h1v1h-1zM419.1 112.9h1v1h-1zM387.5 103h1v1h-1zM416 132.8h1v1h-1zM398.5 134.4h1v1h-1zM400.1 83.7h1v1h-1zM416.1 122.5h1v1h-1zM420.2 102.1h1v1h-1zM401.9 123.4h1v1h-1zM414.7 144.9h1v1h-1zM395 94.5h1v1h-1zM405.3 104h1v1h-1zM416.4 137.6h1v1h-1zM404.4 135.5h1v1h-1zM401.3 138h1v1h-1zM421.8 108.6h1v1h-1zM421.5 132.2h1v1h-1zM414.3 111.4h1v1h-1zM394 134.7h1v1h-1zM409 138.5h1v1h-1zM403.1 92.9h1v1h-1zM404.1 98.3h1v1h-1zM396.8 109.3h1v1h-1zM392.2 86.1h1v1h-1zM404.3 119.7h1v1h-1zM390 101.9h1v1h-1zM398.5 129.1h1v1h-1zM417.3 113.4h1v1h-1zM402.2 100.2h1v1h-1zM393.8 100.9h1v1h-1zM418.2 130.8h1v1h-1zM416 133.7h1v1h-1zM410.6 107.3h1v1h-1zM407.1 128.2h1v1h-1zM401.4 89.1h1v1h-1zM411.8 143.1h1v1h-1zM420.1 132.1h1v1h-1zM413 96.7h1v1h-1z" fill="#1F4079"/>
<path d="M408.9 132.3h1v1h-1zM411.8 145h1v1h-1zM407.8 144.6h1v1h-1zM415.7 133.1h1v1h-1zM406.3 117.7h1v1h-1zM416.3 114.6h1v1h-1zM394.1 121.7h1v1h-1zM419.2 139h1v1h-1zM404.8 133.3h1v1h-1zM407.3 142.8h1v1h-1zM412.2 114.2h1v1h-1zM412.2 136.7h1v1h-1zM395.7 126.2h1v1h-1zM398.9 123.2h1v1h-1zM400.3 120.8h1v1h-1zM414.1 139.4h1v1h-1zM398.5 119.5h1v1h-1zM396.6 119.9h1v1h-1zM410.7 136.5h1v1h-1zM416.9 136h1v1h-1zM421.8 117.5h1v1h-1zM394.8 128.1h1v1h-1zM416.9 133.2h1v1h-1zM408.3 123.2h1v1h-1zM404.8 137.8h1v1h-1zM408.7 145.6h1v1h-1zM404.8 125.4h1v1h-1zM421.6 129h1v1h-1zM416.6 129h1v1h-1zM394.7 127h1v1h-1zM394.6 133.2h1v1h-1zM419.1 135.1h1v1h-1zM405.2 133.1h1v1h-1zM410.9 125.4h1v1h-1zM415.8 115.8h1v1h-1zM400.9 131.1h1v1h-1zM408.3 138.7h1v1h-1zM398.4 127.3h1v1h-1zM403.7 116h1v1h-1zM419 130.9h1v1h-1zM405.5 127.4h1v1h-1zM412.7 131.7h1v1h-1zM414.5 129.9h1v1h-1zM408.4 127.4h1v1h-1zM405.9 144.9h1v1h-1zM410.3 139.8h1v1h-1zM413.9 140.3h1v1h-1zM415.2 118.6h1v1h-1zM411.1 134.3h1v1h-1zM411 132.9h1v1h-1zM407.3 123.7h1v1h-1zM419.9 120.9h1v1h-1zM413.1 133.2h1v1h-1zM402.3 145.2h1v1h-1zM416.2 137.7h1v1h-1zM410.6 119.2h1v1h-1zM398.5 132.7h1v1h-1zM413.1 120.2h1v1h-1zM408.1 134.5h1v1h-1zM411.9 119h1v1h-1zM406.1 142.1h1v1h-1zM406.4 124.4h1v1h-1zM403.2 146h1v1h-1zM408.9 145.8h1v1h-1zM410.6 138.4h1v1h-1zM394.8 134.7h1v1h-1zM395.2 132.6h1v1h-1zM394 118.5h1v1h-1zM414.6 133.7h1v1h-1zM405.2 140.3h1v1h-1zM417.5 122.4h1v1h-1zM415.5 135.1h1v1h-1zM414.2 143.3h1v1h-1zM414.1 142.2h1v1h-1zM404.3 125.7h1v1h-1zM406.7 132.5h1v1h-1zM416.8 131.9h1v1h-1zM415.8 137.7h1v1h-1zM419.3 119.3h1v1h-1zM412.4 142h1v1h-1zM401.2 144h1v1h-1zM400 127.1h1v1h-1zM409.6 120.4h1v1h-1zM422.7 119.3h1v1h-1zM406.3 127.4h1v1h-1zM405.8 119.9h1v1h-1zM405.7 141.5h1v1h-1zM419.7 129.6h1v1h-1zM414.3 127h1v1h-1zM407.4 145.2h1v1h-1zM398 124.1h1v1h-1zM398.1 139.6h1v1h-1zM420.5 113.1h1v1h-1zM404.4 116.2h1v1h-1zM406.7 114.5h1v1h-1zM394.1 118.3h1v1h-1zM394.3 118.8h1v1h-1zM411.8 115.8h1v1h-1zM420.3 129.6h1v1h-1zM421.3 118.1h1v1h-1zM413.6 133.6h1v1h-1zM410.5 130h1v1h-1zM405.8 113.3h1v1h-1zM414 119.9h1v1h-1zM404.3 130h1v1h-1zM399 133.3h1v1h-1zM401.1 141.3h1v1h-1zM415.1 140.2h1v1h-1zM407.8 114h1v1h-1zM409.2 142.2h1v1h-1zM405.5 116.9h1v1h-1zM403 121.2h1v1h-1zM401.2 115h1v1h-1zM405.3 126.6h1v1h-1zM397.8 140.5h1v1h-1zM412.6 136.7h1v1h-1zM416.6 143.1h1v1h-1zM411.2 117.6h1v1h-1zM421.3 114.4h1v1h-1zM399.3 141.9h1v1h-1zM402.6 131.8h1v1h-1zM401.3 128.2h1v1h-1zM418 113.3h1v1h-1zM398.5 129.5h1v1h-1zM414.9 132.2h1v1h-1zM393.9 125.5h1v1h-1zM397.4 134.3h1v1h-1zM398.7 120.5h1v1h-1zM421.7 120.2h1v1h-1zM421.7 119.7h1v1h-1zM392.7 125.9h1v1h-1zM398.3 129h1v1h-1zM405.8 145.1h1v1h-1zM420.9 126.2h1v1h-1zM417.9 142.3h1v1h-1zM416 126.2h1v1h-1zM418.1 117.5h1v1h-1zM406.5 125.8h1v1h-1zM404 139.7h1v1h-1zM420.6 119.4h1v1h-1zM420.4 117.1h1v1h-1zM396.2 123.7h1v1h-1zM418.2 114.4h1v1h-1zM397.1 116.4h1v1h-1zM422.5 123.4h1v1h-1zM396.7 130.3h1v1h-1zM400.6 131.8h1v1h-1zM410.7 138.8h1v1h-1zM399.7 116.8h1v1h-1zM404.9 125.5h1v1h-1zM415.3 143.9h1v1h-1zM416 120.5h1v1h-1zM418.8 117.8h1v1h-1zM405.2 141.8h1v1h-1zM395 119.7h1v1h-1zM399.5 124.9h1v1h-1zM408.8 132.5h1v1h-1zM419.9 116h1v1h-1zM404.8 125.8h1v1h-1zM405.8 126h1v1h-1zM402.2 113.4h1v1h-1zM418.6 136.5h1v1h-1zM407.3 132.6h1v1h-1zM417 126.1h1v1h-1zM418.5 126.9h1v1h-1zM404.6 124.1h1v1h-1zM400.1 117.3h1v1h-1zM403.5 126.2h1v1h-1zM411.7 119.3h1v1h-1zM420 129.4h1v1h-1zM402 130.4h1v1h-1zM404.6 140.6h1v1h-1zM410.6 143.2h1v1h-1zM407 115.2h1v1h-1zM407.5 140.6h1v1h-1zM417.5 141.2h1v1h-1zM396.9 134.1h1v1h-1zM409.4 138.8h1v1h-1zM393.1 119h1v1h-1zM407.1 123.6h1v1h-1zM416.8 125.6h1v1h-1zM411.8 136.1h1v1h-1zM401.3 124.4h1v1h-1zM401.7 140.6h1v1h-1zM412.1 134.2h1v1h-1zM400.1 123.7h1v1h-1zM414.5 121.3h1v1h-1zM394.8 133.1h1v1h-1zM398 119.1h1v1h-1zM392.3 126.1h1v1h-1zM405.6 147.4h1v1h-1zM414.4 125.3h1v1h-1zM403.6 128.9h1v1h-1zM404.3 135.9h1v1h-1zM405.7 116.9h1v1h-1zM403.5 116.4h1v1h-1zM403.1 131.9h1v1h-1zM421.8 119.2h1v1h-1zM409.8 113.7h1v1h-1zM395.5 123.8h1v1h-1zM391.6 113.1h1v1h-1zM402.3 126.6h1v1h-1zM413.6 136.7h1v1h-1zM404.2 129.6h1v1h-1zM404.4 118h1v1h-1zM401.4 125.7h1v1h-1zM416.9 128.7h1v1h-1zM421.3 113.6h1v1h-1zM394.7 122.5h1v1h-1zM401.5 140.7h1v1h-1zM418.8 124.7h1v1h-1zM417.6 129.4h1v1h-1zM406.2 132.6h1v1h-1zM395.4 133.6h1v1h-1zM418.8 134.8h1v1h-1zM400.7 125.4h1v1h-1zM394 114.7h1v1h-1zM414.4 138.9h1v1h-1zM394.1 123.4h1v1h-1zM416.8 138.1h1v1h-1zM412.4 135.7h1v1h-1zM403.2 120.7h1v1h-1zM404.8 144.7h1v1h-1zM398.5 127.2h1v1h-1zM400.1 133.3h1v1h-1zM412.8 146.3h1v1h-1zM412 129.5h1v1h-1zM421.7 114.2h1v1h-1zM418.6 136.1h1v1h-1zM399.1 139.8h1v1h-1zM413.7 127.1h1v1h-1zM416.3 118.4h1v1h-1zM397.2 112.9h1v1h-1zM395.7 116h1v1h-1zM421.4 128.6h1v1h-1zM404.9 114.2h1v1h-1zM395.4 122.9h1v1h-1zM407.7 139.8h1v1h-1zM396.2 136.2h1v1h-1zM410.1 119.3h1v1h-1zM417.3 132h1v1h-1zM410.6 137.5h1v1h-1zM395.7 118.4h1v1h-1zM413 136.1h1v1h-1zM408.3 127.4h1v1h-1zM411.3 137.7h1v1h-1zM399.7 134.3h1v1h-1zM415.8 130.5h1v1h-1zM391.5 114.5h1v1h-1zM404.3 139.5h1v1h-1zM415 117.9h1v1h-1zM416.5 116.8h1v1h-1zM417 134.6h1v1h-1zM403.6 118.6h1v1h-1zM399.2 142.2h1v1h-1zM410.9 139.4h1v1h-1zM405.3 136.1h1v1h-1zM394.5 132.4h1v1h-1zM395.5 113.8h1v1h-1zM404.1 113.6h1v1h-1zM409.7 117.5h1v1h-1zM403.6 144.5h1v1h-1zM415.6 134.6h1v1h-1zM414 137.4h1v1h-1zM414.4 129.1h1v1h-1zM403 121.8h1v1h-1zM396.3 125.5h1v1h-1zM399.1 128.9h1v1h-1zM403.3 119.7h1v1h-1zM414.6 142.2h1v1h-1zM404.4 119.2h1v1h-1zM409.5 137.2h1v1h-1zM397.2 121.9h1v1h-1zM411.2 119.2h1v1h-1zM400.9 140.8h1v1h-1zM412.4 128.9h1v1h-1zM409.3 127.8h1v1h-1zM410.6 136.5h1v1h-1zM400.2 141.1h1v1h-1zM400.8 114.4h1v1h-1zM406.1 140.1h1v1h-1zM416.8 120.4h1v1h-1zM407.7 133.8h1v1h-1zM392.6 119.6h1v1h-1zM415.7 130.2h1v1h-1zM395.4 129.4h1v1h-1zM418 137.5h1v1h-1zM409 127h1v1h-1zM411 128.6h1v1h-1zM412.5 114.8h1v1h-1zM408.6 133.9h1v1h-1zM410.7 114.9h1v1h-1zM403.3 130.1h1v1h-1zM419.4 114.1h1v1h-1zM402 132.3h1v1h-1zM406.3 131.3h1v1h-1zM403.9 120.3h1v1h-1zM410.8 132.2h1v1h-1zM393.1 130h1v1h-1zM413.1 144.2h1v1h-1zM415.8 130.5h1v1h-1zM412 137.5h1v1h-1zM416.7 143.9h1v1h-1zM395.8 133.5h1v1h-1zM396.2 128.8h1v1h-1zM407 119.7h1v1h-1zM416.5 138.2h1v1h-1zM419.3 120.6h1v1h-1zM420.6 123h1v1h-1zM408.3 142h1v1h-1zM411.5 145.3h1v1h-1zM396.3 127.2h1v1h-1zM396.7 133.9h1v1h-1zM398.2 132.8h1v1h-1zM399.5 128.5h1v1h-1zM416 121.5h1v1h-1zM419 113.9h1v1h-1zM417.4 122.7h1v1h-1zM403.7 121.6h1v1h-1zM400.6 143.8h1v1h-1zM407.7 115.2h1v1h-1zM393.5 119h1v1h-1zM411 134.5h1v1h-1zM401.8 116.8h1v1h-1zM413.2 129.6h1v1h-1zM403.2 129h1v1h-1zM407.7 120.6h1v1h-1zM400.7 135.5h1v1h-1zM397.3 125.5h1v1h-1zM414.3 136h1v1h-1zM398.4 128.3h1v1h-1zM410.5 141h1v1h-1zM410.7 116h1v1h-1zM420.4 128.4h1v1h-1zM394.2 133.9h1v1h-1zM413.2 145.8h1v1h-1zM400.8 125.9h1v1h-1zM413.4 132.7h1v1h-1zM410.3 146.9h1v1h-1zM394.2 124.5h1v1h-1zM391.7 120.5h1v1h-1zM407.8 128.6h1v1h-1zM405.2 133.2h1v1h-1zM402.1 143.2h1v1h-1zM399.8 126.7h1v1h-1zM422.5 122.5h1v1h-1zM396 131.9h1v1h-1zM414.3 142.1h1v1h-1zM400.7 123.7h1v1h-1zM418.1 129.8h1v1h-1zM421.9 122.6h1v1h-1zM408.1 139.5h1v1h-1zM404.3 146.4h1v1h-1zM393.3 119.7h1v1h-1zM395.4 134.5h1v1h-1zM393.8 115.7h1v1h-1zM410.4 122.7h1v1h-1zM418.7 139.8h1v1h-1zM400.2 124.7h1v1h-1zM395.2 132.7h1v1h-1zM416.5 123.3h1v1h-1zM400.6 124.7h1v1h-1zM406.4 147.6h1v1h-1zM415.7 116.9h1v1h-1zM394.7 130.2h1v1h-1zM400.8 117.1h1v1h-1zM398.1 126.8h1v1h-1zM411.7 132.4h1v1h-1zM410.7 130.9h1v1h-1zM414 116.3h1v1h-1zM392.9 113.3h1v1h-1zM392 116.6h1v1h-1zM402.2 140.6h1v1h-1zM399.9 117.8h1v1h-1zM410.1 129.8h1v1h-1zM418.7 127.9h1v1h-1zM421.9 120.2h1v1h-1zM413.3 114.3h1v1h-1zM421.4 128.4h1v1h-1zM420.1 118.5h1v1h-1zM407.4 127.6h1v1h-1zM409.8 132h1v1h-1zM413.8 140.3h1v1h-1zM414.3 123.2h1v1h-1zM397.3 128.8h1v1h-1zM397.3 135.8h1v1h-1zM406.6 117h1v1h-1zM411.8 124.5h1v1h-1zM402.9 144.8h1v1h-1zM405.2 125.5h1v1h-1zM418.5 128.1h1v1h-1zM408.1 135.4h1v1h-1zM409.9 119.4h1v1h-1zM418.1 128.3h1v1h-1zM405.8 142.5h1v1h-1zM412.9 131.5h1v1h-1zM422.9 119.6h1v1h-1zM411.8 130.5h1v1h-1zM407.1 137.2h1v1h-1zM393.9 117.7h1v1h-1zM412.3 137.5h1v1h-1zM410.1 124.5h1v1h-1zM394.9 126.8h1v1h-1zM410.5 114.3h1v1h-1zM395.9 132.3h1v1h-1zM413.2 134.7h1v1h-1zM419.8 120h1v1h-1zM395.6 136h1v1h-1zM394.5 120.8h1v1h-1zM401.1 125.1h1v1h-1zM413.5 141.4h1v1h-1zM421 122.1h1v1h-1zM396.6 113.6h1v1h-1zM396.6 116.6h1v1h-1zM405.1 139.6h1v1h-1zM396.2 135.4h1v1h-1zM421.4 125.1h1v1h-1zM396.2 122.1h1v1h-1zM418.8 125.1h1v1h-1zM409.7 133h1v1h-1z" fill="#1F4079"/>
<path d="M403.2 143.8h.9v.9h-.9zM395.7 103.2h.9v.9h-.9zM397.3 119.9h.9v.9h-.9zM389.6 100.8h.9v.9h-.9zM402.1 116.8h.9v.9h-.9zM395.8 118.9h.9v.9h-.9zM393.1 90.9h.9v.9h-.9zM413 96.9h.9v.9h-.9zM408.6 97.5h.9v.9h-.9zM394.8 130.1h.9v.9h-.9zM401.7 136.5h.9v.9h-.9zM412.1 133.4h.9v.9h-.9zM402.7 103.2h.9v.9h-.9zM409.6 108.8h.9v.9h-.9zM395 83.7h.9v.9h-.9zM393.6 110.9h.9v.9h-.9zM397.9 130.8h.9v.9h-.9zM396.8 134h.9v.9h-.9zM411.9 126.9h.9v.9h-.9zM403.3 93.5h.9v.9h-.9zM397.9 119.6h.9v.9h-.9zM409 110.3h.9v.9h-.9zM400.5 137.6h.9v.9h-.9zM405.6 144.2h.9v.9h-.9zM401.6 97.5h.9v.9h-.9zM402.1 101.6h.9v.9h-.9zM401.5 134.9h.9v.9h-.9zM419.3 128.5h.9v.9h-.9zM388.2 96.3h.9v.9h-.9zM397.8 122.1h.9v.9h-.9zM414.8 117.4h.9v.9h-.9zM396.3 107.5h.9v.9h-.9zM419.3 106.1h.9v.9h-.9zM397.6 118.7h.9v.9h-.9zM391 102.3h.9v.9h-.9zM414.1 136h.9v.9h-.9zM423.3 114.9h.9v.9h-.9zM403.2 103h.9v.9h-.9zM389.9 93.7h.9v.9h-.9zM413.5 134.4h.9v.9h-.9zM400.9 98.9h.9v.9h-.9zM403.8 86.5h.9v.9h-.9zM394.5 91.7h.9v.9h-.9zM421.7 110.2h.9v.9h-.9zM399.9 116h.9v.9h-.9zM421 101h.9v.9h-.9zM407.7 137.2h.9v.9h-.9zM413.5 124.8h.9v.9h-.9zM401.5 100.1h.9v.9h-.9zM411.8 112.7h.9v.9h-.9zM410.9 91.8h.9v.9h-.9zM419 108.1h.9v.9h-.9zM413.6 142.6h.9v.9h-.9zM409.8 97.5h.9v.9h-.9zM404.3 97.1h.9v.9h-.9zM417.8 137.7h.9v.9h-.9zM387.3 94.4h.9v.9h-.9zM406 106.8h.9v.9h-.9zM395 103.7h.9v.9h-.9zM397.1 106.2h.9v.9h-.9zM418.3 139.6h.9v.9h-.9zM394.2 134.9h.9v.9h-.9zM401.9 95h.9v.9h-.9zM394.4 93.2h.9v.9h-.9zM401 94.1h.9v.9h-.9zM404.3 130.6h.9v.9h-.9zM398 93.2h.9v.9h-.9zM418.5 110.8h.9v.9h-.9zM412.9 95.1h.9v.9h-.9zM399.9 91.6h.9v.9h-.9zM398.3 139.3h.9v.9h-.9zM411.8 95.9h.9v.9h-.9zM399.7 94.5h.9v.9h-.9zM411.1 102.3h.9v.9h-.9zM406.8 98.1h.9v.9h-.9zM413.7 98.1h.9v.9h-.9zM397.2 104.2h.9v.9h-.9zM411.7 103.3h.9v.9h-.9zM418.9 115h.9v.9h-.9zM399.6 125.8h.9v.9h-.9zM414.3 117.2h.9v.9h-.9zM423.2 114.2h.9v.9h-.9zM393 108.5h.9v.9h-.9zM397.8 121.7h.9v.9h-.9zM401.5 109h.9v.9h-.9zM414.6 127.4h.9v.9h-.9zM389.3 94.5h.9v.9h-.9zM420.9 123.2h.9v.9h-.9zM416.5 120.3h.9v.9h-.9zM403.8 105.3h.9v.9h-.9zM409 114.1h.9v.9h-.9zM400.2 96.8h.9v.9h-.9zM398.6 129.4h.9v.9h-.9zM408.3 96.6h.9v.9h-.9zM402.3 118.2h.9v.9h-.9zM400.9 89.4h.9v.9h-.9zM395.6 110.7h.9v.9h-.9zM420.1 127.3h.9v.9h-.9zM402.8 142.7h.9v.9h-.9zM415.2 109.8h.9v.9h-.9zM389.9 90.6h.9v.9h-.9zM412.6 106.6h.9v.9h-.9zM405.6 105.1h.9v.9h-.9zM416.9 125.6h.9v.9h-.9zM411.1 145.7h.9v.9h-.9zM416.9 141.4h.9v.9h-.9zM400.8 133.4h.9v.9h-.9zM400 88.7h.9v.9h-.9zM386.2 95.7h.9v.9h-.9zM406.9 143.2h.9v.9h-.9zM400.8 123h.9v.9h-.9zM407.8 95h.9v.9h-.9zM402.7 107.5h.9v.9h-.9zM400.1 90.9h.9v.9h-.9zM413.7 112.2h.9v.9h-.9zM385.7 100h.9v.9h-.9zM401.8 117.6h.9v.9h-.9zM410.5 92.7h.9v.9h-.9zM404.1 145.9h.9v.9h-.9zM414.4 118.2h.9v.9h-.9zM412.1 113.7h.9v.9h-.9zM407.9 104.6h.9v.9h-.9zM409.3 95.4h.9v.9h-.9zM415.4 116.2h.9v.9h-.9zM406.8 109.1h.9v.9h-.9zM402.6 139.1h.9v.9h-.9zM413.7 141.1h.9v.9h-.9zM402.1 116.9h.9v.9h-.9zM394.1 86.7h.9v.9h-.9zM395.8 115.6h.9v.9h-.9zM393.9 127.9h.9v.9h-.9zM412.3 118.7h.9v.9h-.9zM416 103.4h.9v.9h-.9zM422 126.2h.9v.9h-.9zM408.4 122.1h.9v.9h-.9zM402.4 132.8h.9v.9h-.9zM402.3 139.4h.9v.9h-.9zM407.6 116.5h.9v.9h-.9zM408.1 104.6h.9v.9h-.9zM418.1 136.4h.9v.9h-.9zM404.4 132.4h.9v.9h-.9zM393.9 114.7h.9v.9h-.9zM395 88.2h.9v.9h-.9zM415.2 112.6h.9v.9h-.9zM397.1 127.3h.9v.9h-.9zM408.4 137.2h.9v.9h-.9zM410.5 94.4h.9v.9h-.9zM394.7 104h.9v.9h-.9zM396.9 101.2h.9v.9h-.9zM398.7 95.6h.9v.9h-.9zM403.4 98.5h.9v.9h-.9zM400.9 85.3h.9v.9h-.9zM406.5 142.2h.9v.9h-.9zM402.6 122.9h.9v.9h-.9zM412 115.9h.9v.9h-.9zM402.4 119.2h.9v.9h-.9zM404 139h.9v.9h-.9zM401.2 133.8h.9v.9h-.9zM406.6 88h.9v.9h-.9zM405.8 105.4h.9v.9h-.9zM404.3 145.4h.9v.9h-.9zM419.6 108.1h.9v.9h-.9zM418.8 103.3h.9v.9h-.9zM402 117.7h.9v.9h-.9zM396.9 127.6h.9v.9h-.9zM406 137.6h.9v.9h-.9zM413.7 101.1h.9v.9h-.9zM391.7 121.1h.9v.9h-.9zM391.7 98.9h.9v.9h-.9zM399.5 112.4h.9v.9h-.9zM406 113.6h.9v.9h-.9zM407.9 115.6h.9v.9h-.9zM395.7 135.6h.9v.9h-.9zM401.6 91.1h.9v.9h-.9zM402 132.4h.9v.9h-.9zM391.8 91.6h.9v.9h-.9zM410.6 99.8h.9v.9h-.9zM417.6 115.9h.9v.9h-.9zM414.2 145.2h.9v.9h-.9zM416.6 121.3h.9v.9h-.9zM417 128.4h.9v.9h-.9zM394.8 127.7h.9v.9h-.9zM417.8 126.3h.9v.9h-.9zM398.7 96.2h.9v.9h-.9zM415.9 97.4h.9v.9h-.9zM397.6 102.6h.9v.9h-.9zM400.6 140.8h.9v.9h-.9zM401.5 136h.9v.9h-.9zM395.2 102.8h.9v.9h-.9zM418.1 121.1h.9v.9h-.9zM409.7 143.3h.9v.9h-.9zM421.5 130.3h.9v.9h-.9zM395.1 85.9h.9v.9h-.9zM396.3 126.3h.9v.9h-.9zM405.4 139.7h.9v.9h-.9zM394.7 116.3h.9v.9h-.9zM419.2 114.7h.9v.9h-.9zM404.6 106.4h.9v.9h-.9zM415.7 127h.9v.9h-.9zM395.3 87.8h.9v.9h-.9zM417.1 99.7h.9v.9h-.9zM402 110.7h.9v.9h-.9zM408.6 104.2h.9v.9h-.9zM395.5 133.4h.9v.9h-.9zM412 144.6h.9v.9h-.9zM405.2 145.8h.9v.9h-.9zM407.1 121.1h.9v.9h-.9zM406.5 97.2h.9v.9h-.9zM421.7 131.1h.9v.9h-.9zM393.7 94.7h.9v.9h-.9zM404.5 128.3h.9v.9h-.9zM396.9 109.3h.9v.9h-.9zM412.9 120.4h.9v.9h-.9zM406.2 99.6h.9v.9h-.9zM402.6 138.3h.9v.9h-.9zM418.6 116.3h.9v.9h-.9zM413.4 131.6h.9v.9h-.9zM417.3 121.1h.9v.9h-.9zM396.5 101.1h.9v.9h-.9zM394.8 101.5h.9v.9h-.9z" fill="#5B7FB5"/>
<path d="M395.8 87.7h.9v.9h-.9zM406.3 100.9h.9v.9h-.9zM412.7 92.1h.9v.9h-.9zM409 97.9h.9v.9h-.9zM401.3 93.4h.9v.9h-.9zM394.1 106.9h.9v.9h-.9zM418.6 98.1h.9v.9h-.9zM404.7 98.6h.9v.9h-.9zM422.6 101h.9v.9h-.9zM414.5 95.9h.9v.9h-.9zM392.3 86.3h.9v.9h-.9zM387.3 93.6h.9v.9h-.9zM411.7 106.3h.9v.9h-.9zM391.9 90.4h.9v.9h-.9zM395.8 104h.9v.9h-.9zM410.9 96.4h.9v.9h-.9zM408.9 90.4h.9v.9h-.9zM390.6 102.4h.9v.9h-.9zM409.9 93.9h.9v.9h-.9zM413.8 96.4h.9v.9h-.9zM420.4 101.2h.9v.9h-.9zM402.7 89.4h.9v.9h-.9zM402.3 108.3h.9v.9h-.9zM393.6 96.9h.9v.9h-.9zM387.5 91.3h.9v.9h-.9zM398.1 107h.9v.9h-.9zM396.6 97.4h.9v.9h-.9zM401.2 93.4h.9v.9h-.9zM394.7 91.7h.9v.9h-.9zM402.5 95.8h.9v.9h-.9zM413.2 92.1h.9v.9h-.9zM396.6 92.4h.9v.9h-.9zM396.2 107.9h.9v.9h-.9zM396.4 109.8h.9v.9h-.9zM405.3 98.4h.9v.9h-.9zM421.9 109.7h.9v.9h-.9zM396.7 108.3h.9v.9h-.9zM402.4 102.8h.9v.9h-.9zM404.8 100.1h.9v.9h-.9zM411.3 106.3h.9v.9h-.9zM393.9 106.3h.9v.9h-.9zM422.2 99.8h.9v.9h-.9zM403.2 92.9h.9v.9h-.9zM408.1 97.7h.9v.9h-.9zM396.8 102.4h.9v.9h-.9zM399.5 103.8h.9v.9h-.9zM397.4 106.9h.9v.9h-.9zM423.2 108.1h.9v.9h-.9zM405.7 106.3h.9v.9h-.9zM413.2 102.5h.9v.9h-.9zM399.6 109.4h.9v.9h-.9zM415.3 102.7h.9v.9h-.9zM397.8 90.4h.9v.9h-.9zM419.4 101.8h.9v.9h-.9zM388.7 95.1h.9v.9h-.9zM389.4 92h.9v.9h-.9zM410.8 100.1h.9v.9h-.9zM393 94.9h.9v.9h-.9zM400.3 100.9h.9v.9h-.9zM386 97.2h.9v.9h-.9zM409.3 103.1h.9v.9h-.9zM409 101.2h.9v.9h-.9zM398.2 93.4h.9v.9h-.9zM410.3 100.3h.9v.9h-.9zM408.4 89.6h.9v.9h-.9zM407.2 93.5h.9v.9h-.9zM392.7 103h.9v.9h-.9zM399.7 100.1h.9v.9h-.9zM418.2 99.2h.9v.9h-.9zM388.1 95h.9v.9h-.9zM408.1 102.5h.9v.9h-.9zM400.1 96h.9v.9h-.9zM412.5 104.4h.9v.9h-.9zM418.7 106.7h.9v.9h-.9zM397.5 100.9h.9v.9h-.9zM404.9 96.9h.9v.9h-.9zM421.5 109.3h.9v.9h-.9zM406.3 105.7h.9v.9h-.9zM417.4 109.3h.9v.9h-.9zM416 109.7h.9v.9h-.9zM400.4 101.6h.9v.9h-.9zM401 102.5h.9v.9h-.9zM393.6 105.4h.9v.9h-.9zM418.2 109.2h.9v.9h-.9zM413.7 107.1h.9v.9h-.9zM398.3 109.5h.9v.9h-.9zM407.3 90.5h.9v.9h-.9zM392.8 109.9h.9v.9h-.9zM395 94.9h.9v.9h-.9zM394.1 100.7h.9v.9h-.9zM391.6 96.9h.9v.9h-.9zM393.7 101.2h.9v.9h-.9zM418.9 106.4h.9v.9h-.9zM400.8 107.5h.9v.9h-.9zM399.9 96.3h.9v.9h-.9zM398.6 89.6h.9v.9h-.9zM398.8 88.4h.9v.9h-.9zM396.9 97.5h.9v.9h-.9zM421.9 99.3h.9v.9h-.9zM422.8 101.2h.9v.9h-.9zM418.2 105h.9v.9h-.9zM411.8 110.2h.9v.9h-.9zM417.2 95.7h.9v.9h-.9zM396.5 109.2h.9v.9h-.9zM419.7 108.7h.9v.9h-.9zM412.9 95.4h.9v.9h-.9zM404.7 108.7h.9v.9h-.9zM422.7 105.7h.9v.9h-.9zM417 97.1h.9v.9h-.9zM421.5 106.2h.9v.9h-.9zM391.2 110.6h.9v.9h-.9zM387.4 96.2h.9v.9h-.9zM387.1 98.4h.9v.9h-.9zM390.8 105.8h.9v.9h-.9zM415.1 102.9h.9v.9h-.9zM422.3 98.8h.9v.9h-.9zM396.5 89.3h.9v.9h-.9zM397 97.8h.9v.9h-.9zM400 96.3h.9v.9h-.9zM423.1 110.6h.9v.9h-.9zM388.9 91.7h.9v.9h-.9zM399.6 96.8h.9v.9h-.9zM395.7 94.4h.9v.9h-.9zM397.7 107.2h.9v.9h-.9zM416 98.9h.9v.9h-.9zM408.5 96h.9v.9h-.9zM393.3 105.4h.9v.9h-.9zM392.4 86.8h.9v.9h-.9zM408.6 99h.9v.9h-.9zM392.9 89.6h.9v.9h-.9zM411 106.9h.9v.9h-.9zM401.2 92.6h.9v.9h-.9zM404 89.5h.9v.9h-.9zM402.6 101.5h.9v.9h-.9zM399.6 90.2h.9v.9h-.9zM395.3 110.9h.9v.9h-.9zM409.1 98.4h.9v.9h-.9zM405.8 92h.9v.9h-.9zM418 101.9h.9v.9h-.9zM390.8 102.1h.9v.9h-.9zM390.6 93h.9v.9h-.9zM396.8 108.7h.9v.9h-.9zM387.9 99.1h.9v.9h-.9zM421.6 98.2h.9v.9h-.9zM417.6 100.6h.9v.9h-.9zM406.3 94.5h.9v.9h-.9zM396.5 109.5h.9v.9h-.9zM406.4 95.7h.9v.9h-.9zM404.8 105.1h.9v.9h-.9zM412.5 94.9h.9v.9h-.9zM415.8 105.2h.9v.9h-.9zM406.8 110.7h.9v.9h-.9zM398.9 87h.9v.9h-.9zM409.1 101.9h.9v.9h-.9zM422.3 103.5h.9v.9h-.9zM409.3 89.7h.9v.9h-.9zM404.3 89.3h.9v.9h-.9zM399 90.9h.9v.9h-.9zM413.7 109.3h.9v.9h-.9zM414.7 102.3h.9v.9h-.9z" fill="#9DB3D6"/>
<path d="M386.47,56.3L393.56,57.72L396.71,58.19L408.53,60.07L420.35,59.13L427.83,58.19L428.62,67.62L428.07,78.27L421.92,81.29L418.77,84.59L417.04,87.89L410.89,89.68L407.35,86.85L398.84,85.53L394.35,83.17L393.56,78.93L391.59,72.33L389.15,66.67Z" fill="#E3E8F0"/>
<path d="M405.6 87.8h1v1h-1zM412.8 59h1v1h-1zM400.3 87.2h1v1h-1zM419.4 58.7h1v1h-1zM428.8 73h1v1h-1zM392.8 76.5h1v1h-1zM398 59.3h1v1h-1zM386.3 57h1v1h-1zM396.5 85.4h1v1h-1zM398.7 85.7h1v1h-1zM419.2 85.6h1v1h-1zM387.1 61.8h1v1h-1zM399.7 59.5h1v1h-1zM422.9 58.6h1v1h-1zM390.1 68h1v1h-1zM413.7 61.3h1v1h-1zM412.3 58.4h1v1h-1zM390.1 69.5h1v1h-1zM405 87.7h1v1h-1zM389.1 65.5h1v1h-1zM388 60.1h1v1h-1zM393.2 81.1h1v1h-1zM386.1 58.2h1v1h-1zM388.3 60.4h1v1h-1zM397.2 85.3h1v1h-1zM399.9 85.3h1v1h-1zM396.2 82.6h1v1h-1zM413.3 89.3h1v1h-1zM427.4 78.9h1v1h-1zM407.9 61.1h1v1h-1zM427.4 65.2h1v1h-1zM423.1 81.2h1v1h-1zM422 80.8h1v1h-1zM396 82.9h1v1h-1zM428.3 72.9h1v1h-1zM391.8 57.7h1v1h-1zM429.9 62.9h1v1h-1zM420.6 83.9h1v1h-1zM392.8 76.5h1v1h-1zM392.4 59.1h1v1h-1zM411.2 59.8h1v1h-1zM389.3 68.2h1v1h-1zM416.5 59.2h1v1h-1zM425.1 59.6h1v1h-1zM419.5 83.4h1v1h-1zM393.9 81.7h1v1h-1zM390.2 76.1h1v1h-1zM423.3 59.7h1v1h-1zM415.5 86.4h1v1h-1zM391.6 57.5h1v1h-1zM407.1 61.2h1v1h-1zM390.9 70.1h1v1h-1zM388.2 60.5h1v1h-1zM385.7 55.8h1v1h-1zM425.3 58.5h1v1h-1zM402.3 59.4h1v1h-1zM416.6 86.7h1v1h-1zM397.3 86.2h1v1h-1zM427.6 61.1h1v1h-1zM408.7 58.7h1v1h-1zM388.1 57.8h1v1h-1zM390.6 57.6h1v1h-1zM421.5 82.9h1v1h-1zM387.5 57.5h1v1h-1zM428 57.5h1v1h-1zM423.6 59.8h1v1h-1zM401.4 58.6h1v1h-1zM395 57.6h1v1h-1zM404.7 57.5h1v1h-1zM427.9 74.7h1v1h-1zM428.7 61.6h1v1h-1zM390.1 69.6h1v1h-1zM408.8 59.9h1v1h-1zM418 59.2h1v1h-1zM410.4 90.1h1v1h-1zM421.3 57.4h1v1h-1zM429.5 74h1v1h-1zM398.9 58h1v1h-1zM420.6 57.4h1v1h-1zM388.3 62.5h1v1h-1zM424.8 80.8h1v1h-1zM404.3 59.5h1v1h-1zM426.6 60.1h1v1h-1zM389.5 69.4h1v1h-1zM426.6 58.9h1v1h-1zM390.6 71.6h1v1h-1zM423.6 80.5h1v1h-1zM420.4 60.3h1v1h-1zM427.8 73.3h1v1h-1zM407.8 88.2h1v1h-1zM428.8 63.6h1v1h-1zM411.2 58.9h1v1h-1zM425.1 79.2h1v1h-1zM398.8 84.1h1v1h-1zM419.1 83.8h1v1h-1zM414 59.2h1v1h-1zM391.1 72.6h1v1h-1zM389.4 66h1v1h-1zM392.4 73.9h1v1h-1zM428.7 76.5h1v1h-1zM395.9 58.8h1v1h-1zM391.9 57.4h1v1h-1zM396.7 59.1h1v1h-1zM427.9 76.9h1v1h-1zM421.1 59.7h1v1h-1zM396.6 57.7h1v1h-1zM398.4 86.3h1v1h-1zM393.5 82.3h1v1h-1zM397.2 58.4h1v1h-1zM403.1 85.9h1v1h-1zM388 57.4h1v1h-1zM386.5 56.9h1v1h-1zM395.6 85.3h1v1h-1zM426.9 62.3h1v1h-1zM419.5 86.1h1v1h-1zM410.3 90h1v1h-1zM386.7 58.8h1v1h-1zM416.1 87.6h1v1h-1zM418.2 59.8h1v1h-1zM388.1 59.7h1v1h-1z" fill="#1F4079"/>
<path d="M397.9 58.6h1v1h-1zM405.6 81.4h1v1h-1zM407 77.1h1v1h-1zM405.3 85.9h1v1h-1zM394.7 76.3h1v1h-1zM408.8 86.4h1v1h-1zM416.5 74.2h1v1h-1zM412.3 75.1h1v1h-1zM404.6 69.1h1v1h-1zM400 78h1v1h-1zM410.8 79.2h1v1h-1zM416.6 68.9h1v1h-1zM393 67.9h1v1h-1zM409.6 73.9h1v1h-1zM395.7 69.6h1v1h-1zM393 67.3h1v1h-1zM423 62.8h1v1h-1zM408.5 74.6h1v1h-1zM410.8 72.6h1v1h-1zM425 61.5h1v1h-1zM403 76.6h1v1h-1zM401.6 75.4h1v1h-1zM403.2 74.5h1v1h-1zM410.6 71h1v1h-1zM393.8 75h1v1h-1zM394 80.1h1v1h-1zM401.4 82.5h1v1h-1zM388.2 61.5h1v1h-1zM424.5 75.9h1v1h-1zM396.3 66.8h1v1h-1zM407.4 77.8h1v1h-1zM404.3 80.1h1v1h-1zM415 67.9h1v1h-1zM417.3 85.8h1v1h-1zM400.4 81.2h1v1h-1zM406.1 80.6h1v1h-1zM398.5 74.2h1v1h-1zM417.9 63.6h1v1h-1zM398.7 81.2h1v1h-1zM402.9 77.2h1v1h-1zM400.3 79.6h1v1h-1zM413.3 73.2h1v1h-1zM401 68.3h1v1h-1zM418.5 82.7h1v1h-1zM399.6 67.6h1v1h-1zM400.7 80.1h1v1h-1zM427.3 60.6h1v1h-1zM419.4 63.1h1v1h-1zM419.3 78.3h1v1h-1zM406 85.7h1v1h-1zM397.2 73.8h1v1h-1zM393.6 69.8h1v1h-1zM405.3 78.1h1v1h-1zM415.3 60.2h1v1h-1zM396.2 65.2h1v1h-1zM413.2 80.6h1v1h-1zM414.6 81.6h1v1h-1zM407.2 73.9h1v1h-1zM402.5 61.7h1v1h-1zM389.4 60.5h1v1h-1zM399.6 63.2h1v1h-1zM392.7 63.5h1v1h-1zM411 72.9h1v1h-1zM397.7 83.8h1v1h-1zM407.9 85.3h1v1h-1zM423.4 74.5h1v1h-1zM404.4 68.4h1v1h-1zM397.4 72.7h1v1h-1zM411.4 78.5h1v1h-1zM420.1 73.4h1v1h-1zM418.5 72.6h1v1h-1zM398.2 69.2h1v1h-1zM425.8 73.7h1v1h-1zM400.2 62.7h1v1h-1zM416.8 74.4h1v1h-1zM393.5 72.3h1v1h-1zM423 59h1v1h-1zM391.5 70.9h1v1h-1zM421 63.2h1v1h-1zM398.8 63h1v1h-1zM398.8 68.8h1v1h-1zM394.3 82.7h1v1h-1zM414.8 62.2h1v1h-1zM414.4 60.1h1v1h-1zM427.4 63.4h1v1h-1zM394.3 71.4h1v1h-1zM399.9 85.4h1v1h-1zM398.7 72.7h1v1h-1zM421.3 80.1h1v1h-1zM417.3 70.4h1v1h-1zM402.3 78.2h1v1h-1zM416 64.9h1v1h-1zM390.1 68.3h1v1h-1zM388.2 59.9h1v1h-1zM406.8 76.8h1v1h-1zM400.1 59.9h1v1h-1zM422 79.1h1v1h-1zM391.9 71.1h1v1h-1zM396.9 65.3h1v1h-1zM417 83.7h1v1h-1zM420.9 81.8h1v1h-1zM407.1 82.1h1v1h-1zM397.5 84.6h1v1h-1zM414.6 74.1h1v1h-1zM398.1 81.6h1v1h-1zM416.9 86.5h1v1h-1zM408.5 81.5h1v1h-1zM395.2 77.5h1v1h-1zM418.4 66.7h1v1h-1zM424.8 73h1v1h-1zM399.2 60.9h1v1h-1zM405.5 64h1v1h-1zM407.7 66.7h1v1h-1zM393.3 65.6h1v1h-1zM415.4 77h1v1h-1zM424.1 68.8h1v1h-1zM406 62.2h1v1h-1zM416.9 82.6h1v1h-1zM420.3 73.6h1v1h-1zM410.6 61.6h1v1h-1zM394 80h1v1h-1zM394.5 68.8h1v1h-1zM402.7 76h1v1h-1zM425.2 68.6h1v1h-1zM397.1 65.4h1v1h-1zM400 72.2h1v1h-1zM404.4 79.6h1v1h-1zM416.3 71.2h1v1h-1zM421.4 63.3h1v1h-1zM426.5 59.6h1v1h-1zM408 67.6h1v1h-1zM422.7 78.9h1v1h-1zM421.2 59.3h1v1h-1zM422.4 65.6h1v1h-1zM414.3 75.7h1v1h-1zM409.8 86.2h1v1h-1zM405.8 65.6h1v1h-1zM417.3 64.4h1v1h-1zM396.4 76h1v1h-1zM405.7 71.1h1v1h-1zM416.5 59.5h1v1h-1zM421.7 70.4h1v1h-1zM400.2 77.8h1v1h-1zM422 76.7h1v1h-1zM404.2 82.7h1v1h-1zM400.7 77.4h1v1h-1zM422.3 79.9h1v1h-1zM414.7 86.3h1v1h-1zM414.8 73h1v1h-1zM415.9 62.9h1v1h-1zM415.4 71.2h1v1h-1zM411.6 78.8h1v1h-1zM397.3 82h1v1h-1zM424.5 65.9h1v1h-1zM413.4 79.8h1v1h-1zM424.6 74.4h1v1h-1zM396.2 73h1v1h-1zM415.1 80h1v1h-1zM397.3 66.8h1v1h-1zM393 67.3h1v1h-1zM426.8 77.3h1v1h-1zM421.9 78.4h1v1h-1zM408.1 67h1v1h-1zM413.9 88.6h1v1h-1zM418.1 61.9h1v1h-1zM398.4 75.9h1v1h-1zM392.5 69.4h1v1h-1zM414 77.7h1v1h-1zM407.7 80.7h1v1h-1zM408.2 71h1v1h-1zM421.4 69.6h1v1h-1zM418.6 78.1h1v1h-1zM395.5 67.3h1v1h-1zM405.5 75.8h1v1h-1zM404.7 73.2h1v1h-1zM405 73.1h1v1h-1zM423.1 60.4h1v1h-1zM414.7 71h1v1h-1zM428.4 65.7h1v1h-1zM405.1 67.3h1v1h-1zM404.5 85.7h1v1h-1zM425.9 66.3h1v1h-1zM391.7 62.1h1v1h-1zM404.7 68.4h1v1h-1zM424.4 69.7h1v1h-1zM426.5 63.1h1v1h-1zM414.9 75.1h1v1h-1zM396.9 70.9h1v1h-1zM416.2 82.7h1v1h-1zM408.3 68.5h1v1h-1zM424.6 65.5h1v1h-1zM418.9 72.7h1v1h-1zM405.4 69.1h1v1h-1zM424.6 60.9h1v1h-1zM415.3 86.5h1v1h-1zM415.6 82.1h1v1h-1zM409.3 68.4h1v1h-1zM411.8 72.2h1v1h-1zM412.5 80.5h1v1h-1zM404.3 61.4h1v1h-1zM403.7 62.1h1v1h-1zM413.5 83.8h1v1h-1zM410.1 72.2h1v1h-1zM407.7 64.9h1v1h-1zM415 85.3h1v1h-1zM419.5 78.9h1v1h-1zM398.2 78.8h1v1h-1zM422.7 64.4h1v1h-1zM395.8 82.6h1v1h-1zM414.3 60.2h1v1h-1zM399.9 68.3h1v1h-1zM403.5 78.4h1v1h-1zM396.5 67.5h1v1h-1zM421.8 78.9h1v1h-1zM415.1 75h1v1h-1zM415.4 87.5h1v1h-1zM394.4 78h1v1h-1zM391 58.7h1v1h-1zM395.2 70.9h1v1h-1zM396.8 63.9h1v1h-1zM412.1 74.9h1v1h-1zM393.1 75.5h1v1h-1zM416 69.8h1v1h-1zM395.4 73.7h1v1h-1zM401.9 76.7h1v1h-1zM393.3 63.8h1v1h-1zM400.9 84.2h1v1h-1zM417.9 61.8h1v1h-1zM421.4 61.3h1v1h-1zM394.2 77.2h1v1h-1zM393.2 65.3h1v1h-1zM400.7 73.8h1v1h-1zM413 64.8h1v1h-1zM395.4 83h1v1h-1zM426.5 68.3h1v1h-1zM401.6 61.3h1v1h-1zM395.7 81.5h1v1h-1zM422 77.6h1v1h-1zM389.9 59.9h1v1h-1zM394.9 59.7h1v1h-1zM414.4 68.8h1v1h-1zM421.8 65.1h1v1h-1zM419.4 63.2h1v1h-1zM398.4 81h1v1h-1zM400.8 78.7h1v1h-1zM396.6 67.4h1v1h-1zM425.3 70.5h1v1h-1zM398.5 82.4h1v1h-1zM427.2 64.8h1v1h-1zM400.6 60.9h1v1h-1zM423.8 67.5h1v1h-1zM418.1 69.1h1v1h-1zM410.6 65.8h1v1h-1zM414.4 84.3h1v1h-1zM423.2 59.4h1v1h-1zM396 74.6h1v1h-1zM423.2 69.3h1v1h-1zM396.2 83.3h1v1h-1zM412 84.6h1v1h-1zM400 68.8h1v1h-1zM405.3 83.9h1v1h-1zM404.7 70.4h1v1h-1zM410.4 86.5h1v1h-1zM397.6 59.6h1v1h-1zM395.3 60.8h1v1h-1zM413.5 86.1h1v1h-1zM409.2 67.2h1v1h-1zM403.9 67.7h1v1h-1zM393.5 76.6h1v1h-1zM417 67.2h1v1h-1zM405.3 73.9h1v1h-1zM418.3 60.9h1v1h-1zM416.6 71.9h1v1h-1zM423.1 65.5h1v1h-1zM398.3 66.4h1v1h-1zM404.3 61.4h1v1h-1zM400.5 63.6h1v1h-1zM400.6 82.3h1v1h-1zM410.2 66.1h1v1h-1zM404.4 69.9h1v1h-1zM392.8 71.5h1v1h-1zM418 72.2h1v1h-1zM420.6 71.3h1v1h-1zM412.4 87.6h1v1h-1zM416.4 68.8h1v1h-1zM412.9 81.9h1v1h-1zM403.7 84.7h1v1h-1zM422.9 73.1h1v1h-1zM403.8 65.4h1v1h-1zM414.1 78.7h1v1h-1zM415.3 84.5h1v1h-1zM414.6 75.1h1v1h-1zM406.1 71h1v1h-1zM393.1 65.1h1v1h-1zM418.3 60.3h1v1h-1zM418.8 59.3h1v1h-1zM409.6 74.9h1v1h-1zM400.2 75.8h1v1h-1zM407.5 86.3h1v1h-1zM406.5 85.6h1v1h-1zM415.8 76.3h1v1h-1zM413.5 88.7h1v1h-1zM394.3 80.9h1v1h-1zM415.1 59.9h1v1h-1zM416.6 74.3h1v1h-1zM417.5 78.6h1v1h-1zM420.6 81.6h1v1h-1zM426.1 66.6h1v1h-1zM427.6 68.4h1v1h-1zM402.9 80.3h1v1h-1zM398.5 62.3h1v1h-1zM401.3 68.4h1v1h-1zM396 61.8h1v1h-1zM396.1 72.7h1v1h-1zM418.7 66.5h1v1h-1zM390.1 66.4h1v1h-1zM417.1 83.9h1v1h-1zM389.6 66.9h1v1h-1zM402.6 63.1h1v1h-1zM419.6 66.8h1v1h-1zM407.3 75h1v1h-1zM418.2 61.2h1v1h-1zM401.7 77.6h1v1h-1zM421.1 79.1h1v1h-1zM405.9 70.2h1v1h-1zM427.9 61h1v1h-1zM399.4 65h1v1h-1zM390.9 68.3h1v1h-1zM398.1 59.9h1v1h-1zM427.9 68.3h1v1h-1zM406.1 79.2h1v1h-1zM414.9 66.7h1v1h-1zM414.8 65.3h1v1h-1zM402.2 84.1h1v1h-1zM414.8 67.9h1v1h-1zM420.8 77.9h1v1h-1zM426.4 72.1h1v1h-1zM421 79.8h1v1h-1zM396.5 74.2h1v1h-1zM419.9 60.4h1v1h-1zM405.6 72.5h1v1h-1zM425.8 76.5h1v1h-1zM424.7 62.9h1v1h-1zM415.7 63.1h1v1h-1zM412.6 74.4h1v1h-1zM409.5 72h1v1h-1zM414 81.8h1v1h-1zM425.7 77h1v1h-1zM426 78.9h1v1h-1zM406.7 67.5h1v1h-1zM400.4 71.2h1v1h-1zM409.6 61.9h1v1h-1zM427.8 67.8h1v1h-1zM425.6 70.7h1v1h-1zM402.1 73.2h1v1h-1zM422.3 71.1h1v1h-1zM398 73.8h1v1h-1zM412.4 65.4h1v1h-1zM405.6 83.3h1v1h-1zM395.4 78.4h1v1h-1zM403.1 65.2h1v1h-1zM411.1 84.5h1v1h-1zM414.1 61.6h1v1h-1zM423.8 78.1h1v1h-1zM420.7 66.3h1v1h-1zM415.8 76.7h1v1h-1zM405.7 70.4h1v1h-1zM412.4 83.5h1v1h-1zM401.8 74.6h1v1h-1zM405.4 82.6h1v1h-1zM408.1 66.8h1v1h-1zM394.2 78.6h1v1h-1zM397.3 70.1h1v1h-1zM412.7 76.8h1v1h-1zM413.9 69.5h1v1h-1zM397.5 83.9h1v1h-1zM402.7 61.5h1v1h-1zM409.2 71.7h1v1h-1zM421.9 60.1h1v1h-1zM402 62.7h1v1h-1zM410.8 84.9h1v1h-1zM424.5 59h1v1h-1zM421.6 60.9h1v1h-1zM424.6 65h1v1h-1zM399.9 74.8h1v1h-1zM407.2 69.3h1v1h-1zM411.6 83.9h1v1h-1zM393.5 60.4h1v1h-1zM418.2 64.6h1v1h-1zM426.3 66.6h1v1h-1zM389.6 66.8h1v1h-1zM412.7 64h1v1h-1zM406 81.2h1v1h-1zM392.8 66h1v1h-1zM400.4 59.2h1v1h-1zM421.3 65.3h1v1h-1zM422.6 62.3h1v1h-1zM418.4 67.6h1v1h-1zM414.1 64.6h1v1h-1zM409.5 72.1h1v1h-1zM419.4 70.9h1v1h-1zM417.4 77.6h1v1h-1zM396.1 75.1h1v1h-1zM417.2 61.1h1v1h-1zM396.6 59.6h1v1h-1zM421.2 69h1v1h-1zM408.5 79.9h1v1h-1zM405.7 62.3h1v1h-1zM392.8 68h1v1h-1zM410.3 84.6h1v1h-1zM405.7 77.7h1v1h-1zM406.1 82.7h1v1h-1zM426.7 65.7h1v1h-1zM394.1 63.4h1v1h-1zM415 78.9h1v1h-1zM397.8 68.1h1v1h-1zM425.5 67.5h1v1h-1zM421.9 80.8h1v1h-1zM416.5 69.5h1v1h-1zM415.6 84.4h1v1h-1zM424.2 68.2h1v1h-1zM407.9 79.1h1v1h-1zM409.9 76.7h1v1h-1zM421.4 62.1h1v1h-1zM393 72.6h1v1h-1zM401.2 70.9h1v1h-1zM412.6 85.9h1v1h-1zM409.5 65.7h1v1h-1zM397.6 84.4h1v1h-1zM427.3 63.7h1v1h-1zM409.6 86.4h1v1h-1zM421.9 63.1h1v1h-1zM401.1 76.8h1v1h-1zM400.1 81.7h1v1h-1zM405.1 69.3h1v1h-1zM403.5 70.7h1v1h-1zM420.4 78h1v1h-1zM390.2 61.7h1v1h-1zM389.7 67.7h1v1h-1zM409.6 79h1v1h-1zM413.8 84.4h1v1h-1zM404.1 79.3h1v1h-1zM426.5 59.1h1v1h-1zM414.7 80.5h1v1h-1zM398.6 73.3h1v1h-1zM414.3 87.8h1v1h-1zM393.5 69.4h1v1h-1zM414.8 78.7h1v1h-1zM411.3 65.2h1v1h-1zM398.8 64.4h1v1h-1zM424.7 68.1h1v1h-1zM425.1 62h1v1h-1zM410.6 60.3h1v1h-1zM392.6 60.6h1v1h-1zM403.8 61.5h1v1h-1zM395 80.6h1v1h-1zM421.6 75.7h1v1h-1zM393.8 69.2h1v1h-1zM404.6 83.1h1v1h-1zM400.8 63.7h1v1h-1zM418.2 76.5h1v1h-1zM418.3 84.4h1v1h-1zM402 79h1v1h-1zM390.3 69.3h1v1h-1zM404.1 82.2h1v1h-1zM403 84h1v1h-1zM391.7 66.5h1v1h-1zM416.2 70h1v1h-1zM403 76.7h1v1h-1zM395.4 69.7h1v1h-1zM426.9 71h1v1h-1zM394.2 60.2h1v1h-1zM417.3 77.2h1v1h-1zM396.4 60.5h1v1h-1zM412.6 65h1v1h-1zM399.5 66.9h1v1h-1zM403.5 69.4h1v1h-1zM393.2 63.1h1v1h-1zM404.6 78.6h1v1h-1zM404.6 73h1v1h-1zM417.8 83.2h1v1h-1zM402.8 70.6h1v1h-1zM417.9 63.3h1v1h-1zM409 78.8h1v1h-1zM407.9 75.6h1v1h-1zM395.3 75.5h1v1h-1zM391.9 60h1v1h-1zM418.6 68.9h1v1h-1zM396.6 82h1v1h-1zM418.1 84.1h1v1h-1zM407.2 70h1v1h-1zM412.8 66h1v1h-1zM393.1 64.7h1v1h-1zM389.9 58h1v1h-1zM418.2 64.2h1v1h-1zM394 67.8h1v1h-1zM408.9 76.9h1v1h-1zM412.9 83.4h1v1h-1zM393.1 59.3h1v1h-1zM405.2 62h1v1h-1zM424 70.1h1v1h-1zM411.5 77.6h1v1h-1zM394 75.2h1v1h-1zM401.8 77.9h1v1h-1zM418.8 69.8h1v1h-1zM396.5 64h1v1h-1zM420.2 81.3h1v1h-1zM426.9 64h1v1h-1zM414.1 80.8h1v1h-1zM417.1 60.4h1v1h-1zM418.4 59.4h1v1h-1zM421.6 75.7h1v1h-1zM416.5 65.4h1v1h-1zM417.8 68h1v1h-1zM412.3 66.7h1v1h-1zM420.7 66.3h1v1h-1zM413.1 76.3h1v1h-1zM406.8 80.6h1v1h-1zM421.2 77.4h1v1h-1zM418.2 80.9h1v1h-1zM389 61h1v1h-1zM399.6 61.1h1v1h-1zM402.7 60.7h1v1h-1zM407 74.9h1v1h-1zM394.3 72.8h1v1h-1zM409.6 81.9h1v1h-1zM407 82.9h1v1h-1zM414 73.2h1v1h-1zM415.6 62.6h1v1h-1zM425.5 69.8h1v1h-1zM398.1 79.8h1v1h-1zM409.9 69.7h1v1h-1zM390.4 60.3h1v1h-1zM412.1 64.5h1v1h-1zM404.3 81.3h1v1h-1zM407.4 66.4h1v1h-1zM409.5 79.9h1v1h-1zM414.2 62h1v1h-1zM425.6 67.6h1v1h-1zM421 79.8h1v1h-1zM404.3 63.8h1v1h-1zM423.3 79.1h1v1h-1zM395 76.6h1v1h-1zM419.1 79.3h1v1h-1zM403.2 69.9h1v1h-1zM414.4 68.4h1v1h-1zM411 80.9h1v1h-1zM400.6 81.8h1v1h-1zM396.7 71.8h1v1h-1zM403 79.8h1v1h-1zM402.4 85.3h1v1h-1zM388.5 62.1h1v1h-1zM408.6 71.7h1v1h-1zM408.1 64.9h1v1h-1zM417.3 68.3h1v1h-1zM397.6 68.3h1v1h-1zM408.8 83.4h1v1h-1zM424.6 60.7h1v1h-1zM415.4 84.5h1v1h-1zM415.8 66.4h1v1h-1zM426.4 65.9h1v1h-1zM391.4 66.3h1v1h-1zM396 81.3h1v1h-1zM413.2 79.3h1v1h-1zM422.1 70h1v1h-1zM424.4 74.3h1v1h-1zM401.1 66.8h1v1h-1zM425.9 62.4h1v1h-1zM422.3 79.1h1v1h-1zM392.8 61.7h1v1h-1zM412.6 84h1v1h-1zM405.2 84.9h1v1h-1zM421.2 66.4h1v1h-1zM419 82.1h1v1h-1zM408.7 77.7h1v1h-1zM405.8 82.1h1v1h-1zM389.2 65.2h1v1h-1zM405.3 62.8h1v1h-1zM420.3 68h1v1h-1zM397 82.3h1v1h-1zM417.9 64.1h1v1h-1zM420.6 64.8h1v1h-1zM398.9 79.5h1v1h-1zM414 79.3h1v1h-1zM410.8 81.3h1v1h-1zM390.6 65.5h1v1h-1zM413 87h1v1h-1zM398.4 70.7h1v1h-1zM412.1 82h1v1h-1zM397 79.7h1v1h-1zM414.7 72.3h1v1h-1zM425.5 68.5h1v1h-1zM394.1 65.5h1v1h-1zM411.8 78.3h1v1h-1zM390.7 67h1v1h-1zM394.2 63.4h1v1h-1zM394 71.2h1v1h-1zM417 78h1v1h-1zM411.9 61.4h1v1h-1zM403.5 79.9h1v1h-1zM420.6 60h1v1h-1zM412.7 87.5h1v1h-1zM423.4 66.1h1v1h-1zM419.1 81.4h1v1h-1zM424.1 64.3h1v1h-1zM399.9 69h1v1h-1zM403 60.6h1v1h-1zM402.2 83h1v1h-1zM407.1 62.4h1v1h-1zM419 63.4h1v1h-1zM425 71.9h1v1h-1zM399.5 73.5h1v1h-1zM408.3 85.9h1v1h-1zM396.1 78.6h1v1h-1zM405.1 73.4h1v1h-1zM428.2 69.2h1v1h-1zM408.4 69.5h1v1h-1zM422.1 67.5h1v1h-1zM407.4 66.1h1v1h-1zM421.4 81.8h1v1h-1z" fill="#1F4079"/>
<path d="M416.1 84.8h.9v.9h-.9zM416.2 75.5h.9v.9h-.9zM420.6 62.2h.9v.9h-.9zM408.4 66.3h.9v.9h-.9zM423.6 80.2h.9v.9h-.9zM391.8 67.3h.9v.9h-.9zM417.9 83.5h.9v.9h-.9zM397 78.2h.9v.9h-.9zM419 82.3h.9v.9h-.9zM394.4 62.6h.9v.9h-.9zM418.4 69h.9v.9h-.9zM414.4 77.1h.9v.9h-.9zM397.3 83.9h.9v.9h-.9zM415.8 60.4h.9v.9h-.9zM415.7 66.6h.9v.9h-.9zM412.8 65.2h.9v.9h-.9zM424.8 62.9h.9v.9h-.9zM394.5 62.2h.9v.9h-.9zM422.4 79h.9v.9h-.9zM424.9 79h.9v.9h-.9zM406.7 81.6h.9v.9h-.9zM393.1 58.1h.9v.9h-.9zM389.8 58.3h.9v.9h-.9zM401 61.7h.9v.9h-.9zM426.5 59.4h.9v.9h-.9zM420.6 73.7h.9v.9h-.9zM396.9 59.7h.9v.9h-.9zM411.8 72.7h.9v.9h-.9zM393 65.7h.9v.9h-.9zM407.5 84.4h.9v.9h-.9zM391.7 72.5h.9v.9h-.9zM420.5 82h.9v.9h-.9zM395.7 60.3h.9v.9h-.9zM410.9 85.9h.9v.9h-.9zM400.7 67h.9v.9h-.9zM410.8 82.4h.9v.9h-.9zM417.6 71.8h.9v.9h-.9zM419.8 73.1h.9v.9h-.9zM410.5 62.1h.9v.9h-.9zM399.2 84.7h.9v.9h-.9zM422.1 59.3h.9v.9h-.9zM412.2 72.6h.9v.9h-.9zM400.8 77.2h.9v.9h-.9zM403.5 62.7h.9v.9h-.9zM405.6 67.8h.9v.9h-.9zM405.1 82.5h.9v.9h-.9zM402.1 67.2h.9v.9h-.9zM396.1 62h.9v.9h-.9zM415.3 79.8h.9v.9h-.9zM424.8 76.3h.9v.9h-.9zM407.9 86.9h.9v.9h-.9zM422.6 72h.9v.9h-.9zM401.2 75.1h.9v.9h-.9zM411.7 88.3h.9v.9h-.9zM408.5 67.8h.9v.9h-.9zM394.1 80.7h.9v.9h-.9zM413.7 84.5h.9v.9h-.9zM420.7 78.6h.9v.9h-.9zM418.1 73.5h.9v.9h-.9zM422.4 70.4h.9v.9h-.9zM414.5 85.3h.9v.9h-.9zM420.9 79.9h.9v.9h-.9zM409.1 74.6h.9v.9h-.9zM412.6 82.4h.9v.9h-.9zM403.7 61h.9v.9h-.9zM407.8 75.9h.9v.9h-.9zM396.4 61.4h.9v.9h-.9zM403 61.8h.9v.9h-.9zM411.3 83.1h.9v.9h-.9zM416.3 81.4h.9v.9h-.9zM404 64.8h.9v.9h-.9zM394.4 82h.9v.9h-.9zM400.4 60.4h.9v.9h-.9zM422.1 63.3h.9v.9h-.9zM400.8 74.1h.9v.9h-.9zM413.6 60.3h.9v.9h-.9zM412.8 64.3h.9v.9h-.9zM406.6 62.9h.9v.9h-.9zM416.8 75.3h.9v.9h-.9zM400.5 69.1h.9v.9h-.9zM409 83.1h.9v.9h-.9zM395.6 61.3h.9v.9h-.9zM425.8 58.7h.9v.9h-.9zM416.5 70h.9v.9h-.9zM400.7 69.9h.9v.9h-.9zM422.9 77h.9v.9h-.9zM395.3 64.4h.9v.9h-.9zM426.1 63.3h.9v.9h-.9zM414 67.9h.9v.9h-.9zM395.9 67.6h.9v.9h-.9zM422.9 78.2h.9v.9h-.9zM388.7 64.2h.9v.9h-.9zM424.8 69.7h.9v.9h-.9zM408.4 71.1h.9v.9h-.9zM401 68.1h.9v.9h-.9zM421 76.5h.9v.9h-.9zM426.4 70.1h.9v.9h-.9zM412.2 80.1h.9v.9h-.9zM391.8 68.2h.9v.9h-.9zM394.1 59.1h.9v.9h-.9zM406.2 61.8h.9v.9h-.9zM409.7 75.3h.9v.9h-.9zM396.7 62.2h.9v.9h-.9zM401.5 59.1h.9v.9h-.9zM418.3 60.9h.9v.9h-.9zM408.7 84.9h.9v.9h-.9zM406.2 78.9h.9v.9h-.9zM404.3 83.5h.9v.9h-.9zM399.9 81.5h.9v.9h-.9zM394.4 60.7h.9v.9h-.9zM409.8 72.9h.9v.9h-.9zM427.8 73.9h.9v.9h-.9zM401.6 65h.9v.9h-.9zM394.2 65.9h.9v.9h-.9zM419.4 69.3h.9v.9h-.9zM411.9 60h.9v.9h-.9zM421.7 62.9h.9v.9h-.9zM391.5 60.3h.9v.9h-.9zM417.5 63.1h.9v.9h-.9zM422.5 79.8h.9v.9h-.9zM413.1 68.5h.9v.9h-.9zM400.5 83.8h.9v.9h-.9zM400.5 64.2h.9v.9h-.9zM393.5 59.5h.9v.9h-.9zM420.6 77.4h.9v.9h-.9zM415.5 81.3h.9v.9h-.9zM417.2 72.6h.9v.9h-.9zM394.1 74.9h.9v.9h-.9zM398.7 65.1h.9v.9h-.9zM427.5 58.3h.9v.9h-.9zM399.2 59.7h.9v.9h-.9zM401.3 74.3h.9v.9h-.9zM405 80.8h.9v.9h-.9zM396.7 76.7h.9v.9h-.9zM396.7 64.8h.9v.9h-.9zM413.3 85h.9v.9h-.9zM416.4 78.8h.9v.9h-.9zM395.9 65.1h.9v.9h-.9zM423.1 78.5h.9v.9h-.9zM407 74.2h.9v.9h-.9zM424 75.2h.9v.9h-.9zM419.6 63.4h.9v.9h-.9zM396.5 62.4h.9v.9h-.9zM420.6 80.2h.9v.9h-.9zM388.3 57.3h.9v.9h-.9zM415.8 84.8h.9v.9h-.9zM393.8 66h.9v.9h-.9zM418.6 80.4h.9v.9h-.9zM419.4 80.3h.9v.9h-.9zM422.5 78.6h.9v.9h-.9z" fill="#5B7FB5"/>
<path d="M382.21,43.86L385.68,40.56L388.83,38.2L395.13,35.56L402.22,33.49L408.53,31.79L414.83,32.26L420.03,34.81L426.65,37.64L428.62,43.1L429.17,47.82L429.8,54.42L429.8,59.41L426.1,62.34L417.04,63.09L407.35,63.84L401.28,62.34L392.77,60.55L389.15,59.41L386.7,55.08L384.26,49.23Z" fill="#EEDFD8"/>
<path d="M384.3 40.8h1v1h-1zM429.9 55.6h1v1h-1zM405.7 33.5h1v1h-1zM429.4 58.2h1v1h-1zM399.2 62h1v1h-1zM385.3 40.6h1v1h-1zM407 63.8h1v1h-1zM426.5 36.2h1v1h-1zM417.8 34h1v1h-1zM413.2 33.1h1v1h-1zM426.3 39.2h1v1h-1zM413.8 63.4h1v1h-1zM401.4 33.4h1v1h-1zM390.3 60.4h1v1h-1zM429.4 53.6h1v1h-1zM395.5 37h1v1h-1zM411.1 63.1h1v1h-1zM414.1 32.8h1v1h-1zM383.3 46.7h1v1h-1zM386.6 39.1h1v1h-1zM383.1 41.7h1v1h-1zM399.1 61h1v1h-1zM407.2 64.5h1v1h-1zM387.1 56.4h1v1h-1zM390.7 60.5h1v1h-1zM429.2 54h1v1h-1zM412.9 31.9h1v1h-1zM412.7 33.3h1v1h-1zM392.8 61h1v1h-1zM428.6 44.2h1v1h-1zM423.3 63.1h1v1h-1zM395.4 35.1h1v1h-1zM383.4 44.9h1v1h-1zM420.8 33.5h1v1h-1zM416.6 63.4h1v1h-1zM411.4 32.9h1v1h-1zM383.2 41.3h1v1h-1zM415.7 62.6h1v1h-1zM396.2 61.4h1v1h-1zM386.4 53.9h1v1h-1zM406.5 63.5h1v1h-1zM413.5 63.5h1v1h-1zM392 60.9h1v1h-1zM383.7 48.5h1v1h-1zM408.4 64.3h1v1h-1zM409 31.4h1v1h-1zM394.2 61.2h1v1h-1zM394.3 35.6h1v1h-1zM430.9 49.6h1v1h-1zM413 62.2h1v1h-1zM417 62.6h1v1h-1zM429.4 58h1v1h-1zM389.3 59.4h1v1h-1zM427 61h1v1h-1zM386 53.4h1v1h-1zM411.9 31.6h1v1h-1zM421 35.2h1v1h-1zM420.7 63.4h1v1h-1zM385 53.5h1v1h-1zM393.4 35.9h1v1h-1zM408.9 31.6h1v1h-1zM409.9 32.6h1v1h-1zM416 33.9h1v1h-1zM399 34.7h1v1h-1zM389.3 37.9h1v1h-1zM415.8 63.1h1v1h-1zM417.9 63h1v1h-1zM412.9 63.9h1v1h-1zM407.9 33.4h1v1h-1zM429.8 59.1h1v1h-1zM384.6 48.8h1v1h-1zM428.5 44.8h1v1h-1zM412.1 63.6h1v1h-1zM418.1 34.1h1v1h-1zM415.5 34.1h1v1h-1zM387.1 55.8h1v1h-1zM407.4 64.2h1v1h-1zM403.8 32.9h1v1h-1zM427.1 40.6h1v1h-1zM426.7 38.8h1v1h-1zM405.9 63.8h1v1h-1zM428.7 59.5h1v1h-1zM429.6 55.7h1v1h-1zM392.4 60.7h1v1h-1zM427.1 59.8h1v1h-1zM422.1 36.3h1v1h-1zM393.9 34.7h1v1h-1zM425.4 61.2h1v1h-1zM388.4 37.9h1v1h-1zM389 59.9h1v1h-1zM387.3 38.1h1v1h-1zM427.4 43.3h1v1h-1zM390.1 36.8h1v1h-1zM382.9 44.2h1v1h-1zM408.7 64.1h1v1h-1zM403.3 34.1h1v1h-1zM388.2 39.7h1v1h-1zM429.5 55.7h1v1h-1zM422.1 61.7h1v1h-1zM428.2 58.9h1v1h-1zM405.9 63.5h1v1h-1zM393.4 37h1v1h-1zM385.3 52.7h1v1h-1zM423 65.2h1v1h-1zM429.5 48.4h1v1h-1zM423 35.1h1v1h-1zM392.8 36.7h1v1h-1zM391.6 37.7h1v1h-1zM428.7 46.8h1v1h-1zM396.6 61.1h1v1h-1zM428.2 47.4h1v1h-1zM422.8 62.6h1v1h-1zM412.9 32.2h1v1h-1zM414.6 33h1v1h-1zM382.8 43.9h1v1h-1zM405 32.3h1v1h-1zM393.3 36.9h1v1h-1zM401.1 63h1v1h-1zM387.5 56.2h1v1h-1zM386.5 52.6h1v1h-1zM429.1 59h1v1h-1zM385.2 51.6h1v1h-1zM424.7 62.6h1v1h-1zM414.7 63.9h1v1h-1zM429.2 49.4h1v1h-1zM427.6 61.5h1v1h-1zM396.5 60.4h1v1h-1zM403.9 33.1h1v1h-1zM416.7 33.7h1v1h-1zM402.2 32.9h1v1h-1zM389.4 59h1v1h-1zM429.1 45h1v1h-1zM387.9 39h1v1h-1zM383 51.2h1v1h-1zM404.7 33.3h1v1h-1zM386.4 50.6h1v1h-1zM385.7 53h1v1h-1zM403.6 32.3h1v1h-1zM419.3 63.5h1v1h-1zM383.1 44.8h1v1h-1zM428.3 43.4h1v1h-1zM381.9 45.8h1v1h-1zM430.3 55.4h1v1h-1zM402.2 32.9h1v1h-1zM386.9 39.6h1v1h-1zM427 38.5h1v1h-1zM394 36.2h1v1h-1zM382 43.3h1v1h-1zM416.8 33.5h1v1h-1zM394.2 35.8h1v1h-1zM426.1 37h1v1h-1zM427.2 39.9h1v1h-1zM428.7 38.6h1v1h-1zM422.8 35.8h1v1h-1zM430.1 57.3h1v1h-1zM383 47.1h1v1h-1zM382.8 42.1h1v1h-1zM408.6 32.1h1v1h-1zM394.8 59.9h1v1h-1zM414.7 63.2h1v1h-1zM390.7 59.2h1v1h-1zM382.6 45.1h1v1h-1zM428.6 43.4h1v1h-1zM388.4 57.7h1v1h-1zM420.1 34.6h1v1h-1zM388.3 37.9h1v1h-1zM387.4 57.6h1v1h-1zM399.2 60.2h1v1h-1zM396.5 34.4h1v1h-1zM405.4 33.2h1v1h-1zM385.5 52.5h1v1h-1zM389.2 59.3h1v1h-1zM395.8 35.1h1v1h-1zM392.9 35.8h1v1h-1zM425.7 38.1h1v1h-1zM401.4 61.5h1v1h-1zM394.2 60.1h1v1h-1zM408.2 64.1h1v1h-1zM382.7 40.9h1v1h-1zM382.7 47.2h1v1h-1zM387.2 52.5h1v1h-1zM413.2 32.6h1v1h-1zM423.5 36h1v1h-1zM389 58.8h1v1h-1zM385.4 54.2h1v1h-1zM414.3 32.8h1v1h-1zM397 34.8h1v1h-1zM429.9 49.5h1v1h-1zM427.1 62h1v1h-1zM429.6 42h1v1h-1zM428.2 42.1h1v1h-1zM428 60.4h1v1h-1zM428.3 41.4h1v1h-1zM425.6 36.7h1v1h-1zM383.9 44.3h1v1h-1zM417.8 34h1v1h-1zM409.2 31.7h1v1h-1zM426 35.8h1v1h-1zM401.4 62.6h1v1h-1zM406.5 63.5h1v1h-1zM429.3 53.2h1v1h-1zM408.7 64.5h1v1h-1zM430.2 53.8h1v1h-1zM410.7 64.2h1v1h-1zM391.4 36.3h1v1h-1zM420.5 34.8h1v1h-1zM428.7 58.4h1v1h-1zM407 63.7h1v1h-1zM430.2 53.5h1v1h-1zM396.5 61h1v1h-1zM424.5 62.1h1v1h-1zM427.6 38.9h1v1h-1zM417.6 62.6h1v1h-1zM425.6 62.3h1v1h-1zM421.8 62.3h1v1h-1zM423.2 63h1v1h-1zM398.1 34.5h1v1h-1zM409.6 32.3h1v1h-1zM396.5 35h1v1h-1zM427.9 41h1v1h-1z" fill="#1F4079"/>
<path d="M406.7 63.2h1v1h-1zM403.3 61.7h1v1h-1zM396.8 55.9h1v1h-1zM401 58.3h1v1h-1zM387.3 55.4h1v1h-1zM406.3 63.2h1v1h-1zM382.6 45.4h1v1h-1zM382.8 45.1h1v1h-1zM383.6 44.4h1v1h-1zM398.3 57.2h1v1h-1zM397.4 56.7h1v1h-1zM387.5 55.9h1v1h-1zM387 57.4h1v1h-1zM385.9 55.9h1v1h-1zM404.5 62.4h1v1h-1zM382.2 45h1v1h-1zM386 46.8h1v1h-1zM395.6 61.6h1v1h-1zM400.3 60.4h1v1h-1zM399.9 56.5h1v1h-1zM384.2 49.2h1v1h-1zM393.7 60.5h1v1h-1zM403.4 63.3h1v1h-1zM404.8 61.7h1v1h-1zM388.7 58.7h1v1h-1zM384.1 48.4h1v1h-1zM385.8 53.2h1v1h-1zM390.5 60.4h1v1h-1zM388.6 59.7h1v1h-1zM394.9 61.3h1v1h-1zM383 48h1v1h-1zM398.1 61.1h1v1h-1zM407.6 62.7h1v1h-1zM385 49.3h1v1h-1zM385.7 46.4h1v1h-1zM403.6 58.9h1v1h-1zM381.6 45.3h1v1h-1zM383.4 47.3h1v1h-1zM400 56.4h1v1h-1zM405.1 64.2h1v1h-1zM387.4 49h1v1h-1zM402.4 61.8h1v1h-1zM385.5 52.9h1v1h-1zM387.3 56h1v1h-1zM389.1 58.9h1v1h-1zM395.4 62.6h1v1h-1zM397.3 54.8h1v1h-1zM384.8 51.1h1v1h-1zM393.6 52.7h1v1h-1zM391.2 60.6h1v1h-1zM384.5 50.8h1v1h-1zM390.7 58.6h1v1h-1zM401.8 59.1h1v1h-1zM391.8 60.7h1v1h-1zM399.9 62.3h1v1h-1zM395.7 55.3h1v1h-1zM385.3 43.9h1v1h-1zM399.8 56.5h1v1h-1zM386.6 55.4h1v1h-1zM397.9 61.4h1v1h-1z" fill="#9DB5D6"/>
<path d="M406.5 39.4h1v1h-1zM410.5 32.5h1v1h-1zM404.9 41.6h1v1h-1zM388.7 51.3h1v1h-1zM420.4 55.9h1v1h-1zM408.9 56.9h1v1h-1zM427 42h1v1h-1zM408.4 44.3h1v1h-1zM418.5 49.9h1v1h-1zM422.5 45.8h1v1h-1zM401.1 49.3h1v1h-1zM423.1 45.7h1v1h-1zM420.6 62.1h1v1h-1zM411 48h1v1h-1zM418.4 34.1h1v1h-1zM397.4 60.3h1v1h-1zM421.9 61.9h1v1h-1zM393.7 48.8h1v1h-1zM399.8 60.8h1v1h-1zM408 41.8h1v1h-1zM422.7 55.2h1v1h-1zM406.5 46.1h1v1h-1zM422.1 44.9h1v1h-1zM394.1 59.6h1v1h-1zM421.9 38.8h1v1h-1zM410.1 53.7h1v1h-1zM410.3 54h1v1h-1zM405 57.7h1v1h-1zM410.2 60.3h1v1h-1zM398 47.3h1v1h-1zM414.7 50.1h1v1h-1zM405.3 33.5h1v1h-1zM418.4 47.4h1v1h-1zM404.2 47.1h1v1h-1zM420.3 59.2h1v1h-1zM384.8 41.5h1v1h-1zM403.4 58.6h1v1h-1zM398.4 37.6h1v1h-1zM386.1 44.6h1v1h-1zM402.1 38.7h1v1h-1zM422.9 47.8h1v1h-1zM427.3 42.3h1v1h-1zM389.2 51.6h1v1h-1zM426.9 57.2h1v1h-1zM397.9 57.3h1v1h-1zM406.6 53.8h1v1h-1zM413.9 33.4h1v1h-1zM403.6 33.6h1v1h-1zM399.8 58.8h1v1h-1zM396.6 60.9h1v1h-1zM399.2 43.4h1v1h-1zM400.2 43.2h1v1h-1zM403.1 48.6h1v1h-1zM399.9 35.3h1v1h-1zM404 40.5h1v1h-1zM420.4 55.3h1v1h-1zM389.8 39.6h1v1h-1zM407.2 56.2h1v1h-1zM397.7 45.2h1v1h-1zM390.7 54.3h1v1h-1zM421.7 52.9h1v1h-1zM397 44.2h1v1h-1zM404.6 63h1v1h-1zM416.9 38.3h1v1h-1zM408.2 63h1v1h-1zM419.4 46.2h1v1h-1zM393.3 52.9h1v1h-1zM422.4 45.7h1v1h-1zM408.4 34.1h1v1h-1zM422.8 43.3h1v1h-1zM397.5 37.7h1v1h-1zM406.3 60.6h1v1h-1zM412.2 37.2h1v1h-1zM418.9 58.3h1v1h-1zM385.2 44.5h1v1h-1zM414 36.6h1v1h-1zM401.7 36.9h1v1h-1zM424.1 48h1v1h-1zM391.9 52.5h1v1h-1zM417.9 62.3h1v1h-1zM395.3 57.3h1v1h-1zM416.9 56.1h1v1h-1zM411.8 48h1v1h-1zM398.6 41.8h1v1h-1zM392.3 55.8h1v1h-1zM412.4 55.7h1v1h-1zM387.8 49.4h1v1h-1zM415.5 43h1v1h-1zM390.3 51.1h1v1h-1zM416.2 42.3h1v1h-1zM387.4 43.9h1v1h-1zM414.7 37.1h1v1h-1zM405 44.3h1v1h-1zM419.5 49.9h1v1h-1zM395.8 49.6h1v1h-1zM404.7 55h1v1h-1zM427.2 53.9h1v1h-1zM407.2 52.6h1v1h-1zM409 54.8h1v1h-1zM398.6 58h1v1h-1zM415.1 42.9h1v1h-1zM423 42.1h1v1h-1zM414.6 35h1v1h-1zM403.5 35.9h1v1h-1zM391.1 37.7h1v1h-1zM416.3 59.7h1v1h-1zM401.1 37h1v1h-1zM384.3 42.7h1v1h-1zM390.8 44.6h1v1h-1zM417 60.7h1v1h-1zM395.4 41.4h1v1h-1zM388.1 46.5h1v1h-1zM417.6 52.5h1v1h-1zM427.1 43.3h1v1h-1zM393.8 54h1v1h-1zM409.2 59.1h1v1h-1zM391.9 56.5h1v1h-1zM409.3 47.2h1v1h-1zM407.2 48.3h1v1h-1zM414 56.6h1v1h-1zM390.4 50.2h1v1h-1zM388.8 44.1h1v1h-1zM400.4 52.6h1v1h-1zM402.2 43.7h1v1h-1zM416.8 40.8h1v1h-1zM420.9 35.4h1v1h-1zM409.4 46.7h1v1h-1zM417.2 41.4h1v1h-1zM401.4 34.9h1v1h-1zM429.1 47.2h1v1h-1zM415.3 54h1v1h-1zM428.4 47.4h1v1h-1zM423.1 44.8h1v1h-1zM387.8 53.4h1v1h-1zM405.5 35.9h1v1h-1zM421.1 42.6h1v1h-1zM427.3 60.7h1v1h-1zM409.4 54.8h1v1h-1zM412.1 33.2h1v1h-1zM429.1 52.4h1v1h-1zM416.6 38.4h1v1h-1zM418 61.9h1v1h-1zM424.6 61.5h1v1h-1zM397 50.2h1v1h-1zM426.3 49.4h1v1h-1zM403.1 34.6h1v1h-1zM425.8 46.4h1v1h-1zM428.4 45.4h1v1h-1zM404.6 51.2h1v1h-1zM401.7 38.4h1v1h-1zM412 56.8h1v1h-1zM401.4 60.3h1v1h-1zM403.3 47.6h1v1h-1zM401.1 53.3h1v1h-1zM417.5 47.3h1v1h-1zM406.3 47.4h1v1h-1zM413.4 61.9h1v1h-1zM410.6 43.5h1v1h-1zM403.1 34.4h1v1h-1zM411.6 40.6h1v1h-1z" fill="#1F4079"/>
<path d="M398.9 56.2h.9v.9h-.9zM409 37.5h.9v.9h-.9zM411 57.9h.9v.9h-.9zM393.8 40h.9v.9h-.9zM391.9 42h.9v.9h-.9zM392.4 48.4h.9v.9h-.9zM386.1 51.1h.9v.9h-.9zM412.7 37.7h.9v.9h-.9zM417.9 38.3h.9v.9h-.9zM387.4 50.4h.9v.9h-.9zM388.7 58.3h.9v.9h-.9zM388.9 44h.9v.9h-.9zM407.4 59.6h.9v.9h-.9zM394.6 50.9h.9v.9h-.9zM406.6 38.6h.9v.9h-.9zM426.2 59.7h.9v.9h-.9zM416.7 59h.9v.9h-.9zM423.4 54.7h.9v.9h-.9zM412.7 32.6h.9v.9h-.9zM397.8 52.5h.9v.9h-.9zM404.5 43.7h.9v.9h-.9zM391.2 55.6h.9v.9h-.9zM420.2 57.5h.9v.9h-.9zM417.4 58.9h.9v.9h-.9zM414.5 43.5h.9v.9h-.9zM408.4 60.4h.9v.9h-.9zM400.4 37h.9v.9h-.9zM412.5 48.4h.9v.9h-.9zM395.7 53.9h.9v.9h-.9zM425.8 52.4h.9v.9h-.9zM425.5 42.5h.9v.9h-.9zM409.6 52.2h.9v.9h-.9zM405.7 52.1h.9v.9h-.9zM405.7 56.7h.9v.9h-.9zM426.9 58.5h.9v.9h-.9zM408.4 49.4h.9v.9h-.9zM424 42h.9v.9h-.9zM403.7 34.2h.9v.9h-.9zM406.3 58.1h.9v.9h-.9zM406.8 51.6h.9v.9h-.9zM413.8 51.7h.9v.9h-.9zM391.8 42.4h.9v.9h-.9zM405 41.2h.9v.9h-.9zM423.3 54.8h.9v.9h-.9zM427.4 44.4h.9v.9h-.9zM391.1 49.6h.9v.9h-.9zM422.2 48.1h.9v.9h-.9zM401.6 34.9h.9v.9h-.9zM405.4 43.1h.9v.9h-.9zM396.1 58h.9v.9h-.9zM404.9 62.5h.9v.9h-.9zM412.3 42.1h.9v.9h-.9zM401.5 54.5h.9v.9h-.9zM428.7 57.3h.9v.9h-.9zM406.8 38.2h.9v.9h-.9zM385 41.8h.9v.9h-.9zM418.1 62.2h.9v.9h-.9zM428.4 48.1h.9v.9h-.9zM402.5 37.6h.9v.9h-.9zM397.8 56.2h.9v.9h-.9zM399 52.7h.9v.9h-.9zM411.5 39.3h.9v.9h-.9zM426.9 42.1h.9v.9h-.9zM425.7 57.8h.9v.9h-.9zM409.6 59.4h.9v.9h-.9zM418.2 59.5h.9v.9h-.9zM419 42.7h.9v.9h-.9zM413.8 33.3h.9v.9h-.9zM413.9 55.8h.9v.9h-.9zM404.2 46.4h.9v.9h-.9zM391 45h.9v.9h-.9zM386.3 47.6h.9v.9h-.9zM421.4 36h.9v.9h-.9zM402.7 55.1h.9v.9h-.9zM409.1 37.3h.9v.9h-.9zM425.6 60.3h.9v.9h-.9zM406.6 56.8h.9v.9h-.9zM391 53.7h.9v.9h-.9zM424 36.8h.9v.9h-.9zM396.8 56.5h.9v.9h-.9zM414.5 53.2h.9v.9h-.9zM422.3 56.8h.9v.9h-.9zM396.4 43.7h.9v.9h-.9zM409.4 39.2h.9v.9h-.9zM406 55h.9v.9h-.9zM406.4 39.9h.9v.9h-.9zM385.2 49.8h.9v.9h-.9zM426.4 41h.9v.9h-.9zM409.4 55.6h.9v.9h-.9zM401.3 57.7h.9v.9h-.9zM400.8 56.9h.9v.9h-.9zM401.8 34.6h.9v.9h-.9zM403.2 47.4h.9v.9h-.9zM398.6 34.8h.9v.9h-.9zM411 37.5h.9v.9h-.9zM413.7 41.7h.9v.9h-.9zM415.9 52.8h.9v.9h-.9zM423.5 39.3h.9v.9h-.9zM403.2 48.8h.9v.9h-.9zM415.3 47.6h.9v.9h-.9zM413.1 41.5h.9v.9h-.9zM404.4 42h.9v.9h-.9zM396 54.3h.9v.9h-.9zM410.7 60.2h.9v.9h-.9zM401.1 39.9h.9v.9h-.9zM403.6 46.2h.9v.9h-.9zM424.3 58.8h.9v.9h-.9zM418.3 35.6h.9v.9h-.9zM404.3 46.6h.9v.9h-.9zM425.1 58.6h.9v.9h-.9z" fill="#ffffff"/>
<path d="M415.3 44.7h.9v.9h-.9zM426.4 55h.9v.9h-.9zM411 57.3h.9v.9h-.9zM419.5 36.5h.9v.9h-.9zM387.2 52.4h.9v.9h-.9zM416.3 43.5h.9v.9h-.9zM388.2 54h.9v.9h-.9zM424.1 48.9h.9v.9h-.9zM425.3 47.4h.9v.9h-.9zM407.4 57.7h.9v.9h-.9zM406.2 58.7h.9v.9h-.9zM400.4 34.2h.9v.9h-.9zM397.8 54.8h.9v.9h-.9zM390.3 53.8h.9v.9h-.9zM416.5 46.9h.9v.9h-.9zM424.6 50.7h.9v.9h-.9zM426.4 59.8h.9v.9h-.9zM401.5 54.1h.9v.9h-.9zM413.1 45.5h.9v.9h-.9zM409.7 44.7h.9v.9h-.9zM408.2 42.3h.9v.9h-.9zM402.2 42.1h.9v.9h-.9zM418.4 40.3h.9v.9h-.9zM397.3 42.9h.9v.9h-.9zM387.5 53.3h.9v.9h-.9zM405.3 44.2h.9v.9h-.9zM395.4 38.5h.9v.9h-.9zM414.2 57.3h.9v.9h-.9zM423.8 52.3h.9v.9h-.9zM409.3 51.9h.9v.9h-.9zM389.9 48.1h.9v.9h-.9zM403.8 61.3h.9v.9h-.9zM409.5 49.5h.9v.9h-.9zM393.2 46.2h.9v.9h-.9zM412.7 61.4h.9v.9h-.9zM407 40.7h.9v.9h-.9zM388.8 52.4h.9v.9h-.9zM397.9 35h.9v.9h-.9zM394.3 60.3h.9v.9h-.9zM393.7 42.6h.9v.9h-.9zM411.9 37.2h.9v.9h-.9zM391.4 45.3h.9v.9h-.9zM391.9 43.1h.9v.9h-.9zM421.8 47h.9v.9h-.9zM420.9 42.2h.9v.9h-.9zM423.2 53.3h.9v.9h-.9zM401.3 52.9h.9v.9h-.9zM415.7 59.4h.9v.9h-.9zM423.1 42.6h.9v.9h-.9zM387.5 46.9h.9v.9h-.9zM405 54.4h.9v.9h-.9zM392 48.2h.9v.9h-.9zM404.4 34.3h.9v.9h-.9zM399.7 56.2h.9v.9h-.9zM402.4 45.3h.9v.9h-.9zM425.1 58.6h.9v.9h-.9zM395.2 42.3h.9v.9h-.9zM411.2 36.6h.9v.9h-.9zM404.2 34.6h.9v.9h-.9zM408 61.7h.9v.9h-.9zM407.8 32h.9v.9h-.9zM402.9 43.2h.9v.9h-.9zM403.9 49.5h.9v.9h-.9zM413.4 45.5h.9v.9h-.9zM397.3 60.4h.9v.9h-.9zM424.5 56.7h.9v.9h-.9zM411.6 37.7h.9v.9h-.9zM401.3 49h.9v.9h-.9zM393.3 47.9h.9v.9h-.9zM407.3 46.9h.9v.9h-.9zM411.3 54.6h.9v.9h-.9zM395.6 59.6h.9v.9h-.9zM394.6 59.1h.9v.9h-.9zM392.1 44.9h.9v.9h-.9zM410.7 50.3h.9v.9h-.9zM402.2 58h.9v.9h-.9zM409.7 56.2h.9v.9h-.9zM401.3 53.9h.9v.9h-.9zM401.6 55h.9v.9h-.9zM409.2 38.4h.9v.9h-.9zM428.4 52.9h.9v.9h-.9zM386.1 50.8h.9v.9h-.9zM395.3 55.1h.9v.9h-.9zM399.2 56h.9v.9h-.9zM424.8 59.9h.9v.9h-.9zM398.8 58.7h.9v.9h-.9zM424.5 59.6h.9v.9h-.9zM419.5 42.6h.9v.9h-.9zM390.7 40.7h.9v.9h-.9zM402.2 42.6h.9v.9h-.9zM402.7 37.4h.9v.9h-.9zM417.9 54.1h.9v.9h-.9zM411.5 36.2h.9v.9h-.9zM416.6 38.1h.9v.9h-.9zM428 50.2h.9v.9h-.9zM389 41.6h.9v.9h-.9zM418.8 53.1h.9v.9h-.9zM389.5 39.2h.9v.9h-.9zM407 51.5h.9v.9h-.9zM422.3 39h.9v.9h-.9zM427.7 48.4h.9v.9h-.9zM408.1 45.2h.9v.9h-.9zM391.4 59.1h.9v.9h-.9zM395.1 48.5h.9v.9h-.9zM423.6 50h.9v.9h-.9zM400.5 44.3h.9v.9h-.9zM394.6 52.3h.9v.9h-.9zM426.7 55.3h.9v.9h-.9zM403.8 60.1h.9v.9h-.9zM387.1 48.8h.9v.9h-.9zM398.7 35.1h.9v.9h-.9zM424.5 37.2h.9v.9h-.9zM388.4 57.8h.9v.9h-.9zM407.7 36.3h.9v.9h-.9zM417.8 38.1h.9v.9h-.9zM424.7 43.8h.9v.9h-.9zM416.7 48.4h.9v.9h-.9zM405.2 44.1h.9v.9h-.9zM407.3 54h.9v.9h-.9zM390.8 43.4h.9v.9h-.9zM420.8 45.9h.9v.9h-.9zM404.8 35.7h.9v.9h-.9zM421.5 54.1h.9v.9h-.9zM398.2 59.8h.9v.9h-.9zM411.3 63.2h.9v.9h-.9zM387.4 39.4h.9v.9h-.9zM397.6 38.3h.9v.9h-.9zM406 36.9h.9v.9h-.9zM395 55.4h.9v.9h-.9zM413.9 34.7h.9v.9h-.9z" fill="#A8BEDC"/>
<path d="M387.3 44.8h.9v.9h-.9zM387 51.2h.9v.9h-.9zM385 42.2h.9v.9h-.9zM389.2 55h.9v.9h-.9zM385.2 45.9h.9v.9h-.9zM386.9 56.8h.9v.9h-.9zM387.2 53.7h.9v.9h-.9zM385.9 44.9h.9v.9h-.9zM384.2 43.1h.9v.9h-.9zM386.7 42h.9v.9h-.9zM386.1 50.3h.9v.9h-.9zM389.1 58.3h.9v.9h-.9zM386.6 42.9h.9v.9h-.9zM385.9 46.1h.9v.9h-.9zM385.9 54.7h.9v.9h-.9zM388.9 45h.9v.9h-.9zM384.7 47.5h.9v.9h-.9zM385.4 50.1h.9v.9h-.9zM384.4 45.9h.9v.9h-.9zM388.5 47.9h.9v.9h-.9zM388.6 58.7h.9v.9h-.9zM387.6 57h.9v.9h-.9zM387 45.2h.9v.9h-.9zM389.9 55.1h.9v.9h-.9zM388.7 58.6h.9v.9h-.9zM389 50.9h.9v.9h-.9zM385 47.4h.9v.9h-.9zM388.6 50.1h.9v.9h-.9zM388 47.5h.9v.9h-.9zM383.3 43.6h.9v.9h-.9zM389.7 57.2h.9v.9h-.9zM388.2 43.1h.9v.9h-.9zM388.3 50.8h.9v.9h-.9zM389.3 49.3h.9v.9h-.9zM384.6 47.7h.9v.9h-.9zM390 55.7h.9v.9h-.9zM383.3 46.1h.9v.9h-.9zM388.6 53.9h.9v.9h-.9zM387.3 43.9h.9v.9h-.9zM385.8 53.1h.9v.9h-.9zM389.5 57.6h.9v.9h-.9zM384.5 46.6h.9v.9h-.9zM388.3 48.4h.9v.9h-.9zM383 45.1h.9v.9h-.9zM388 44.7h.9v.9h-.9zM387.9 53.5h.9v.9h-.9zM385.5 53h.9v.9h-.9zM383.4 45.5h.9v.9h-.9zM385.4 45.4h.9v.9h-.9zM387.1 48.5h.9v.9h-.9zM387.3 45.4h.9v.9h-.9zM387.2 53.3h.9v.9h-.9zM385.6 41.6h.9v.9h-.9zM387.2 50.7h.9v.9h-.9zM385.1 43.9h.9v.9h-.9zM387.4 49.2h.9v.9h-.9zM387 49.8h.9v.9h-.9zM387.4 45.4h.9v.9h-.9zM388.8 52.7h.9v.9h-.9zM389 59h.9v.9h-.9zM387.4 42.6h.9v.9h-.9zM389.2 47.7h.9v.9h-.9zM386.6 48.9h.9v.9h-.9zM389.1 50.2h.9v.9h-.9zM388.9 57.6h.9v.9h-.9zM385.8 51.8h.9v.9h-.9zM387.4 47.3h.9v.9h-.9zM384.4 42.1h.9v.9h-.9zM388.2 49.3h.9v.9h-.9zM388 44h.9v.9h-.9z" fill="#9DB5D6"/>
<path d="M417.7 43.7h1v1h-1zM407.2 60.6h1v1h-1zM402.7 59.6h1v1h-1zM428.2 47.6h1v1h-1zM400.3 61.2h1v1h-1zM427.8 53.5h1v1h-1zM399.1 56.9h1v1h-1zM411.6 59.1h1v1h-1zM422.3 38.7h1v1h-1zM411 50.6h1v1h-1zM402.1 60h1v1h-1zM415 50.7h1v1h-1zM398.2 60.3h1v1h-1zM417.7 58.9h1v1h-1zM428.6 55.2h1v1h-1zM425.9 52.7h1v1h-1zM412.7 53.4h1v1h-1zM402 60h1v1h-1zM405.1 52.2h1v1h-1zM427.1 61.2h1v1h-1zM415.4 53.2h1v1h-1zM408 53.6h1v1h-1zM399.5 57.9h1v1h-1zM422.4 52h1v1h-1zM407.8 63h1v1h-1zM404.5 54.7h1v1h-1zM424.7 51.2h1v1h-1zM411.2 52.1h1v1h-1zM416.8 43.3h1v1h-1zM406.4 58.6h1v1h-1zM419.2 54.1h1v1h-1zM402.9 62.3h1v1h-1zM424.4 60.3h1v1h-1zM421.2 56.6h1v1h-1zM402.5 58h1v1h-1zM411.4 45.5h1v1h-1zM424.6 44.2h1v1h-1zM412.6 56h1v1h-1zM414.1 51h1v1h-1zM411 62.8h1v1h-1zM411.3 60.6h1v1h-1zM412.8 47.5h1v1h-1zM400.2 60.8h1v1h-1zM414.2 61.6h1v1h-1zM421.6 55.3h1v1h-1zM412.5 58.6h1v1h-1zM423.6 47h1v1h-1zM410.1 52.4h1v1h-1zM419.3 52.9h1v1h-1zM415.6 55.4h1v1h-1zM414.3 51.1h1v1h-1zM426.2 61.4h1v1h-1zM423.3 56.6h1v1h-1zM419.2 61.4h1v1h-1zM423.2 53.5h1v1h-1zM398.4 55.3h1v1h-1zM398.4 59.3h1v1h-1zM410.6 56.9h1v1h-1zM413 51.2h1v1h-1zM413.9 47.6h1v1h-1zM410.9 44.6h1v1h-1zM421.8 51.1h1v1h-1zM420.6 54.3h1v1h-1zM400.5 58.5h1v1h-1zM424 52.9h1v1h-1zM420.8 49.3h1v1h-1zM413.1 39.6h1v1h-1zM409.3 62.2h1v1h-1zM423.4 57.9h1v1h-1zM416.2 41.9h1v1h-1zM425.1 39.7h1v1h-1zM424.1 52.3h1v1h-1zM408.2 57.5h1v1h-1zM425.2 61.3h1v1h-1zM405.2 59.5h1v1h-1zM405.1 57.1h1v1h-1zM412.9 41.8h1v1h-1zM417.7 53.1h1v1h-1zM414.9 49.3h1v1h-1zM401 58.1h1v1h-1zM418.1 51.6h1v1h-1zM423 59.6h1v1h-1zM426.3 58.6h1v1h-1zM417 56.7h1v1h-1zM415.7 42.2h1v1h-1zM399.8 59.2h1v1h-1zM424.6 57h1v1h-1zM418.7 51.4h1v1h-1zM424.7 38.4h1v1h-1zM418.8 54.9h1v1h-1zM422.5 52.7h1v1h-1zM399.2 55.8h1v1h-1zM414.5 46.9h1v1h-1zM414.4 59h1v1h-1zM413 60.2h1v1h-1zM413.1 55.8h1v1h-1zM410.2 57.3h1v1h-1zM411.4 59.4h1v1h-1zM425.8 40.1h1v1h-1zM413.8 45.5h1v1h-1zM397.4 57h1v1h-1zM419.2 40.4h1v1h-1zM413.8 57.3h1v1h-1zM422.4 56.3h1v1h-1zM407.8 51.4h1v1h-1zM411.2 56.8h1v1h-1zM425.5 53.8h1v1h-1zM414.4 44.9h1v1h-1zM405.5 59.8h1v1h-1zM419.2 58h1v1h-1zM415 58.4h1v1h-1zM412.7 58.3h1v1h-1zM420.2 43.3h1v1h-1zM424.4 45h1v1h-1zM410.4 55.3h1v1h-1zM424.8 47h1v1h-1zM422.3 61.2h1v1h-1zM399.5 55.3h1v1h-1zM424.1 46.9h1v1h-1zM407.5 61.9h1v1h-1zM419.9 44h1v1h-1zM416.1 61.6h1v1h-1zM410 59.1h1v1h-1zM421.1 57.9h1v1h-1zM414.9 56.3h1v1h-1zM427.7 43.8h1v1h-1zM418.9 39.6h1v1h-1zM413.3 62.1h1v1h-1zM418.1 62.6h1v1h-1zM413.8 47.4h1v1h-1zM412.7 57.2h1v1h-1zM414.3 50.2h1v1h-1zM423.4 61.9h1v1h-1zM419.9 40h1v1h-1zM419.1 56.7h1v1h-1zM403.2 55.2h1v1h-1zM404.7 52.5h1v1h-1zM423.9 39.4h1v1h-1zM419.3 44.2h1v1h-1zM420.5 46.8h1v1h-1zM413.3 53.8h1v1h-1zM429.2 48.9h1v1h-1zM412.4 61h1v1h-1zM420.4 43.8h1v1h-1zM417 41.7h1v1h-1zM423.7 57.8h1v1h-1zM421.9 56.1h1v1h-1zM408.1 49.9h1v1h-1zM401.1 62.1h1v1h-1zM404.1 55.3h1v1h-1zM427.3 59h1v1h-1zM409.4 61.8h1v1h-1zM423.8 42.9h1v1h-1zM428.9 45.6h1v1h-1zM417.3 42.9h1v1h-1zM419.8 45.4h1v1h-1zM421.9 62.5h1v1h-1zM400.6 59.6h1v1h-1zM423.4 48.5h1v1h-1zM417.9 51.8h1v1h-1zM419.6 55.7h1v1h-1zM424.5 44.6h1v1h-1zM422.1 44.2h1v1h-1zM398.9 61.1h1v1h-1zM406.2 56h1v1h-1zM396 59.5h1v1h-1zM423 50.8h1v1h-1zM426.2 53.6h1v1h-1zM403.6 62.1h1v1h-1zM406 53.2h1v1h-1zM407.3 59h1v1h-1zM407.4 62.1h1v1h-1zM408.7 59.2h1v1h-1zM427.6 44.9h1v1h-1zM414.9 52.7h1v1h-1zM426.7 43.4h1v1h-1zM426.7 61.1h1v1h-1zM429.6 52.8h1v1h-1zM414.9 51.2h1v1h-1zM399.7 60.3h1v1h-1zM427.5 54.9h1v1h-1zM406.7 60.8h1v1h-1zM404.9 63.2h1v1h-1zM417.5 58.1h1v1h-1zM413.5 57.8h1v1h-1zM409.8 50.2h1v1h-1zM403.6 53.6h1v1h-1zM426.8 56h1v1h-1zM411 51.4h1v1h-1zM399.7 56.1h1v1h-1zM402.8 56.1h1v1h-1zM410.4 54.4h1v1h-1zM408.7 60.7h1v1h-1zM429.3 52.3h1v1h-1zM420 50.5h1v1h-1zM407.5 57h1v1h-1zM418.8 58h1v1h-1zM420.7 48.8h1v1h-1zM401.2 58.1h1v1h-1zM410.9 46.7h1v1h-1zM426.2 44h1v1h-1zM425.6 38.2h1v1h-1zM423.8 53.2h1v1h-1zM397.6 57.4h1v1h-1zM404.3 60.7h1v1h-1zM423.6 48.8h1v1h-1zM412.2 54.4h1v1h-1zM424.7 53.5h1v1h-1zM413.5 43.4h1v1h-1zM426.7 54.5h1v1h-1zM424.5 46.5h1v1h-1zM405.4 52.5h1v1h-1zM426.8 50.1h1v1h-1zM409.2 57.3h1v1h-1zM415.1 58.3h1v1h-1zM422.4 46.2h1v1h-1zM418.4 47.9h1v1h-1zM427.7 42.9h1v1h-1zM420.6 42.8h1v1h-1zM400.4 61.1h1v1h-1zM419.5 61.9h1v1h-1zM414.4 48.1h1v1h-1zM417.8 50.1h1v1h-1zM409.6 57.7h1v1h-1zM407.2 59.6h1v1h-1zM400.2 56.7h1v1h-1zM416.3 46.9h1v1h-1zM413.4 53.7h1v1h-1zM403.8 54.2h1v1h-1zM407.9 61.2h1v1h-1zM427 61.2h1v1h-1zM404.7 54.5h1v1h-1zM405.3 62.2h1v1h-1zM409.2 57.4h1v1h-1zM420.3 59.9h1v1h-1zM423.9 51.6h1v1h-1zM399.6 56.2h1v1h-1zM424.8 39.4h1v1h-1zM426.3 52.2h1v1h-1zM424.5 46h1v1h-1zM409.2 49.5h1v1h-1zM409 49.1h1v1h-1zM418.4 52.6h1v1h-1zM404.3 54.6h1v1h-1zM423.2 46.6h1v1h-1zM425.2 57.8h1v1h-1zM418.1 42.7h1v1h-1zM413.9 62.8h1v1h-1zM407.3 63.2h1v1h-1zM426.4 43.4h1v1h-1zM411.5 50.4h1v1h-1zM427.5 58.9h1v1h-1zM415.2 50.7h1v1h-1zM422.2 48.1h1v1h-1zM411.3 63.4h1v1h-1zM415.4 54.2h1v1h-1zM416.8 56.7h1v1h-1zM427.6 57.8h1v1h-1zM415.5 56.6h1v1h-1zM408.5 50.5h1v1h-1zM413.1 59.7h1v1h-1zM416.2 47.2h1v1h-1zM401 60.4h1v1h-1zM401.4 55.6h1v1h-1zM426.8 59.2h1v1h-1zM413.8 45.4h1v1h-1zM421 45.4h1v1h-1zM408.2 57.6h1v1h-1zM412.8 40h1v1h-1zM424.8 60.9h1v1h-1zM428.9 47.1h1v1h-1zM410.8 54.1h1v1h-1zM420 46.5h1v1h-1zM409.5 47.2h1v1h-1zM407.8 60.8h1v1h-1zM406.6 54.1h1v1h-1zM419.9 43.4h1v1h-1zM405.3 59.3h1v1h-1zM416.1 51.8h1v1h-1zM409.2 59.5h1v1h-1zM422.8 41.5h1v1h-1zM407.4 57.4h1v1h-1zM419.9 46.4h1v1h-1zM413.6 52.2h1v1h-1zM420 55h1v1h-1zM419.8 52.8h1v1h-1zM421.4 48.5h1v1h-1zM420.7 55.8h1v1h-1zM426.8 51.3h1v1h-1zM408.1 48.5h1v1h-1zM412 61.6h1v1h-1zM410.4 44.3h1v1h-1zM413.6 51.5h1v1h-1zM422.8 62.3h1v1h-1zM401.8 56.5h1v1h-1zM403.8 55.9h1v1h-1zM413.2 55.9h1v1h-1zM421 46.1h1v1h-1zM423.7 42.1h1v1h-1zM428.4 56.9h1v1h-1zM421.7 45.3h1v1h-1zM402.5 53.8h1v1h-1zM426.4 57h1v1h-1zM420.7 61.2h1v1h-1zM404 62.6h1v1h-1zM415.2 46.5h1v1h-1zM403.4 60.5h1v1h-1zM414.6 46.1h1v1h-1zM408.5 61.6h1v1h-1zM414.1 43.7h1v1h-1zM415 55.8h1v1h-1zM416.5 47.4h1v1h-1zM410.5 53.7h1v1h-1zM409.3 56.8h1v1h-1zM402.7 53.6h1v1h-1zM414.9 42.9h1v1h-1zM420.8 40.4h1v1h-1zM415.8 54.4h1v1h-1zM412.6 50.4h1v1h-1zM399.2 55.7h1v1h-1zM418.5 55.2h1v1h-1zM424.2 54.4h1v1h-1zM408.8 52.9h1v1h-1zM419.2 50.3h1v1h-1zM423.8 39h1v1h-1zM411.6 42.8h1v1h-1zM416.3 47h1v1h-1zM424.7 51.3h1v1h-1zM428.7 57.8h1v1h-1zM426.1 44.7h1v1h-1zM426 48.3h1v1h-1zM422 39.1h1v1h-1zM426.4 52.1h1v1h-1zM409.8 58.6h1v1h-1zM422.9 43.2h1v1h-1zM413.4 42.6h1v1h-1zM428.1 56.9h1v1h-1zM422.9 45.6h1v1h-1zM423.7 38.5h1v1h-1zM409.6 52h1v1h-1zM420.7 60.2h1v1h-1zM419 53.8h1v1h-1zM419.4 53.9h1v1h-1zM429.6 54.8h1v1h-1zM424.9 57.6h1v1h-1zM407.3 62.1h1v1h-1zM412.5 43.8h1v1h-1zM423.8 55.7h1v1h-1zM412.1 48.8h1v1h-1zM407.9 61.3h1v1h-1zM425.5 42.6h1v1h-1zM419.7 43.2h1v1h-1zM400.4 58.3h1v1h-1zM411.9 54h1v1h-1zM406.6 57.8h1v1h-1zM421.4 43.7h1v1h-1zM409.3 54.9h1v1h-1zM415.8 53.1h1v1h-1zM407.4 51.7h1v1h-1zM409.6 62.4h1v1h-1zM421.8 54.4h1v1h-1zM421.7 42.2h1v1h-1zM425.8 46.6h1v1h-1zM416 59.1h1v1h-1zM415.7 57h1v1h-1zM416.8 46.7h1v1h-1zM405.8 51.8h1v1h-1zM417.7 49.3h1v1h-1zM417 50.9h1v1h-1zM407.8 56.7h1v1h-1zM423 38.9h1v1h-1zM427.2 58h1v1h-1zM404.8 63.1h1v1h-1zM426 51.2h1v1h-1zM406.3 60.2h1v1h-1zM418.7 52.5h1v1h-1zM396.8 58.2h1v1h-1zM422.1 42.3h1v1h-1zM411.7 57.2h1v1h-1zM411.9 53h1v1h-1z" fill="#1F4079"/>
<path d="M414.7 45.4h.9v.9h-.9zM429.7 57.4h.9v.9h-.9zM414.2 39.3h.9v.9h-.9zM420.8 46.9h.9v.9h-.9zM420 55.6h.9v.9h-.9zM412.7 40.1h.9v.9h-.9zM410.8 62h.9v.9h-.9zM415.3 58.5h.9v.9h-.9zM415.8 63.1h.9v.9h-.9zM426.7 52.6h.9v.9h-.9zM425.1 42.3h.9v.9h-.9zM426.2 45.3h.9v.9h-.9zM422.6 47.2h.9v.9h-.9zM424.4 48.2h.9v.9h-.9zM425.2 53.1h.9v.9h-.9zM414.6 43.3h.9v.9h-.9zM406.5 53.6h.9v.9h-.9zM422.7 58.8h.9v.9h-.9zM406.4 52.3h.9v.9h-.9zM417.9 60.3h.9v.9h-.9zM422.2 57.9h.9v.9h-.9zM413 55.4h.9v.9h-.9zM418.2 61.9h.9v.9h-.9zM415.3 52.3h.9v.9h-.9zM412 49.6h.9v.9h-.9zM423.9 52.9h.9v.9h-.9zM396.5 60.2h.9v.9h-.9zM426 40h.9v.9h-.9zM399.7 59.8h.9v.9h-.9zM416.7 41.7h.9v.9h-.9zM424.7 44.7h.9v.9h-.9zM419 51.5h.9v.9h-.9zM415.4 58.6h.9v.9h-.9zM406.1 52.8h.9v.9h-.9zM425 60h.9v.9h-.9zM416.4 56.8h.9v.9h-.9zM420.3 61.9h.9v.9h-.9zM401.6 57.1h.9v.9h-.9zM406.6 57.4h.9v.9h-.9zM423.3 59.1h.9v.9h-.9zM428.1 50.8h.9v.9h-.9zM421.9 44.7h.9v.9h-.9zM398.8 58.4h.9v.9h-.9zM414.9 42.7h.9v.9h-.9zM427.4 59.7h.9v.9h-.9zM423.2 61.5h.9v.9h-.9zM405.7 60h.9v.9h-.9zM404.6 55.6h.9v.9h-.9zM427.6 43.3h.9v.9h-.9zM424.6 50h.9v.9h-.9zM421.4 52.5h.9v.9h-.9zM417.7 57h.9v.9h-.9zM413.4 42.5h.9v.9h-.9zM424.2 60.7h.9v.9h-.9zM420.4 45.8h.9v.9h-.9zM415.9 61.9h.9v.9h-.9zM396.7 59.5h.9v.9h-.9zM418.3 41.6h.9v.9h-.9zM418.2 52.6h.9v.9h-.9zM410.7 46.5h.9v.9h-.9zM423.3 57.3h.9v.9h-.9zM410.8 43.5h.9v.9h-.9zM404.4 58.6h.9v.9h-.9zM420.5 43h.9v.9h-.9zM414 40h.9v.9h-.9zM411.2 58.7h.9v.9h-.9zM405.8 59.8h.9v.9h-.9zM409.8 61.5h.9v.9h-.9zM423.3 59.9h.9v.9h-.9zM424.1 39.5h.9v.9h-.9zM421.5 45.1h.9v.9h-.9zM395.7 60h.9v.9h-.9zM422.2 45.6h.9v.9h-.9zM426.8 51.8h.9v.9h-.9zM400 57.4h.9v.9h-.9zM423.8 48.2h.9v.9h-.9zM429.5 51h.9v.9h-.9zM422.6 50.2h.9v.9h-.9zM423.9 50.8h.9v.9h-.9zM414.9 43.7h.9v.9h-.9zM416.7 44.7h.9v.9h-.9zM418.8 40.7h.9v.9h-.9zM417 42h.9v.9h-.9zM424.4 54.5h.9v.9h-.9zM398 61.2h.9v.9h-.9zM428.4 60.1h.9v.9h-.9zM419.2 46.6h.9v.9h-.9zM413.8 62.4h.9v.9h-.9zM419.5 50.5h.9v.9h-.9zM418.6 48.3h.9v.9h-.9zM409.2 58.4h.9v.9h-.9zM418.7 56.1h.9v.9h-.9zM412.2 63h.9v.9h-.9zM428.5 45h.9v.9h-.9zM421 58.8h.9v.9h-.9zM423 47.9h.9v.9h-.9zM407.4 57h.9v.9h-.9zM410.5 50.9h.9v.9h-.9zM423.3 55.6h.9v.9h-.9zM408.4 51.1h.9v.9h-.9zM405 60.6h.9v.9h-.9zM425.4 56.2h.9v.9h-.9zM415.4 43.9h.9v.9h-.9zM413.7 61.3h.9v.9h-.9zM427.8 49.4h.9v.9h-.9zM415.7 48.6h.9v.9h-.9zM428.5 55.5h.9v.9h-.9zM404 55.7h.9v.9h-.9zM399.2 61h.9v.9h-.9zM428 43.3h.9v.9h-.9zM420.3 56.7h.9v.9h-.9zM410.3 51.2h.9v.9h-.9zM417.6 60.4h.9v.9h-.9zM428.9 52.4h.9v.9h-.9zM416 42.6h.9v.9h-.9zM402.8 57.8h.9v.9h-.9zM426 41.6h.9v.9h-.9zM426.5 38.8h.9v.9h-.9zM425.7 38.1h.9v.9h-.9zM397.8 59.4h.9v.9h-.9z" fill="#6F90C2"/>
<path d="M470.21,60.55L471.95,58.94L474.31,58.75L476.28,60.07L476.68,67.62L475.89,75.16L475.49,77.04L477.86,82.7L482.58,84.59L485.34,88.36L485.34,94.96L483.37,99.2L477.62,101.08L472.74,98.73L467.62,101.08L461.31,102.03L460.52,97.78L464.46,93.07L467.62,88.36L467.62,80.81L471.16,78.93L469.98,71.39Z" fill="#EEF0F5"/>
<path d="M478.1 82.1h1v1h-1zM470.4 62.5h1v1h-1zM470.5 77.1h1v1h-1zM467 89.5h1v1h-1zM463.1 101.9h1v1h-1zM475.9 60.9h1v1h-1zM485.8 94.4h1v1h-1zM485.4 94.5h1v1h-1zM470.1 61.6h1v1h-1zM476.4 64.8h1v1h-1zM465 100.4h1v1h-1zM485.3 95.2h1v1h-1zM483.9 89.6h1v1h-1zM468.3 80.3h1v1h-1zM484.8 86.8h1v1h-1zM464.2 94h1v1h-1zM476.5 80.6h1v1h-1zM476 101.5h1v1h-1zM469.5 73.7h1v1h-1zM461.8 101.8h1v1h-1zM467.3 85.6h1v1h-1zM476.7 69.9h1v1h-1zM475.4 77.4h1v1h-1zM476.7 63.8h1v1h-1zM467.7 84.3h1v1h-1zM482.5 100.1h1v1h-1zM479.8 101.2h1v1h-1zM476.5 69.7h1v1h-1zM470.2 72.9h1v1h-1zM469.1 79.9h1v1h-1zM469.8 61.6h1v1h-1zM470.2 65.1h1v1h-1zM466.4 101.6h1v1h-1zM484.2 98.2h1v1h-1zM485.1 86.6h1v1h-1zM467.6 80.3h1v1h-1zM461.6 96.6h1v1h-1zM470.3 73.1h1v1h-1zM477.1 101.1h1v1h-1zM464.7 101.5h1v1h-1zM475.7 70.1h1v1h-1zM483.4 86h1v1h-1zM461 98.8h1v1h-1zM464.3 101.5h1v1h-1zM469.3 65.7h1v1h-1zM469.4 75.4h1v1h-1zM470.2 69.5h1v1h-1zM469.7 68.5h1v1h-1zM466.2 101.4h1v1h-1zM485.1 92.7h1v1h-1zM471.2 74.6h1v1h-1zM483.3 86.4h1v1h-1zM478.7 100.6h1v1h-1zM466.3 91.4h1v1h-1zM470.5 62.9h1v1h-1zM485.4 89.6h1v1h-1zM477.2 82.2h1v1h-1zM480.3 100.6h1v1h-1zM469.4 60.8h1v1h-1zM477.4 75.1h1v1h-1zM474 59.5h1v1h-1zM470.6 77.2h1v1h-1zM459.9 97.3h1v1h-1zM474.2 58.3h1v1h-1zM474.1 99.7h1v1h-1zM484.7 98h1v1h-1zM485.3 89.9h1v1h-1zM467.8 86.5h1v1h-1zM475.3 75.9h1v1h-1zM469.2 100.9h1v1h-1zM485.8 89.7h1v1h-1zM475.1 99.7h1v1h-1zM465.4 91.8h1v1h-1zM482.9 86.3h1v1h-1zM484.5 96.5h1v1h-1zM483 98.3h1v1h-1zM477 82.9h1v1h-1zM467.8 84.5h1v1h-1zM472.9 57.8h1v1h-1zM463.7 92.8h1v1h-1zM477.4 81.7h1v1h-1zM469.9 64.5h1v1h-1zM468.2 101.2h1v1h-1zM463.4 95h1v1h-1zM463.2 93.5h1v1h-1zM464.9 92.6h1v1h-1zM476.6 69.8h1v1h-1zM486.2 89.8h1v1h-1zM464.7 93.1h1v1h-1zM477.1 102h1v1h-1zM467.3 85.8h1v1h-1zM469.6 72.4h1v1h-1zM462.2 94.8h1v1h-1zM470 70.2h1v1h-1zM475.5 74.6h1v1h-1zM475.8 78.9h1v1h-1zM471 63.4h1v1h-1zM484.4 87.2h1v1h-1zM460.5 99.5h1v1h-1zM478.2 82.6h1v1h-1zM461.1 97.4h1v1h-1zM475.9 78h1v1h-1zM470.4 74.9h1v1h-1zM470.3 80.9h1v1h-1zM476.6 78.4h1v1h-1zM475.5 99.5h1v1h-1zM485.1 89h1v1h-1zM470.9 75.1h1v1h-1zM476.9 81.4h1v1h-1zM468.3 100.9h1v1h-1zM463.9 102.4h1v1h-1zM469.3 63.7h1v1h-1zM470 60.7h1v1h-1zM470.6 100.4h1v1h-1zM465.7 100.8h1v1h-1zM474.6 75.8h1v1h-1zM482.3 84.3h1v1h-1zM484.6 91.5h1v1h-1zM477.1 70h1v1h-1zM476.7 68.9h1v1h-1zM479.8 82.3h1v1h-1zM470.3 58.8h1v1h-1zM479.7 84.3h1v1h-1zM473.7 58.1h1v1h-1zM478.4 100.6h1v1h-1zM460.7 97h1v1h-1zM476.5 68.5h1v1h-1zM478.8 100.2h1v1h-1zM460.6 97.9h1v1h-1zM469.6 72.9h1v1h-1zM477.4 63.8h1v1h-1zM470.8 79h1v1h-1zM477.7 81.5h1v1h-1zM477.1 60.1h1v1h-1zM477.5 64.3h1v1h-1zM482.4 84.3h1v1h-1zM472.2 60h1v1h-1zM470.6 62.8h1v1h-1zM467.3 89.1h1v1h-1zM469.9 73.1h1v1h-1zM470.3 72.1h1v1h-1zM470.6 68h1v1h-1zM484.2 87.4h1v1h-1zM468.5 100.2h1v1h-1zM476.2 78.2h1v1h-1zM475.8 68.9h1v1h-1zM465 89.8h1v1h-1zM474.1 59.4h1v1h-1zM475.9 70.2h1v1h-1zM466 89.1h1v1h-1zM479.5 100.3h1v1h-1zM476.5 71.6h1v1h-1zM484.9 96.4h1v1h-1zM461.3 101.4h1v1h-1zM475.8 78.6h1v1h-1zM475.7 73.2h1v1h-1zM485.5 87h1v1h-1zM475.5 60.9h1v1h-1zM469.5 73.8h1v1h-1zM469.6 65.4h1v1h-1z" fill="#1F4079"/>
<path d="M474.6 90h1v1h-1zM482.8 92.8h1v1h-1zM475.6 81.1h1v1h-1zM471.8 69.8h1v1h-1zM469.5 82.1h1v1h-1zM471.9 83.8h1v1h-1zM473.6 89.4h1v1h-1zM471.9 64.6h1v1h-1zM473.4 68.5h1v1h-1zM470.8 71h1v1h-1zM470.2 71.3h1v1h-1zM484.7 95.4h1v1h-1zM473.9 95.4h1v1h-1zM472.4 71.6h1v1h-1zM473 70.6h1v1h-1zM477.3 84.1h1v1h-1zM466.8 93.8h1v1h-1zM475.6 66.9h1v1h-1zM476.1 92h1v1h-1zM474.7 72.4h1v1h-1zM472 65.7h1v1h-1zM476.4 97.4h1v1h-1zM480.5 90.5h1v1h-1zM471.8 81.6h1v1h-1zM474.6 80.9h1v1h-1zM481.2 91.4h1v1h-1zM469.3 83.3h1v1h-1zM467.5 100.1h1v1h-1zM475.2 77.4h1v1h-1zM472.9 66.1h1v1h-1zM472.9 90.5h1v1h-1zM470.2 84.6h1v1h-1zM466.7 90.5h1v1h-1zM473.2 81.9h1v1h-1zM466.1 97.4h1v1h-1zM474.2 79.7h1v1h-1zM472.2 66.9h1v1h-1zM469.5 80.7h1v1h-1zM465.6 95.6h1v1h-1zM474.7 72.5h1v1h-1zM474.7 66.4h1v1h-1zM483 97.7h1v1h-1zM478.4 95.6h1v1h-1zM484.3 89.2h1v1h-1zM481.5 95.2h1v1h-1zM470.8 98.5h1v1h-1zM478.4 95.2h1v1h-1zM473.9 65.8h1v1h-1zM473.5 68.5h1v1h-1zM481 84h1v1h-1zM471.5 88.5h1v1h-1zM472.8 83.2h1v1h-1zM479.5 86.1h1v1h-1zM477.6 98.4h1v1h-1zM480.6 100h1v1h-1zM473.1 72.4h1v1h-1zM484.7 88.9h1v1h-1zM464.3 101.6h1v1h-1zM476.5 97.5h1v1h-1zM461.6 97.3h1v1h-1zM469.1 96.1h1v1h-1zM475.5 72.7h1v1h-1zM472.6 88.1h1v1h-1zM468.8 93h1v1h-1zM476.8 81.8h1v1h-1zM468.2 94.3h1v1h-1zM468.9 82.4h1v1h-1zM479.4 89.6h1v1h-1zM475.8 86.9h1v1h-1zM473.9 97.9h1v1h-1zM473.6 87.8h1v1h-1zM480.8 84.4h1v1h-1zM472.3 66.2h1v1h-1zM472.1 68.6h1v1h-1zM476.5 82.8h1v1h-1zM476.2 63.9h1v1h-1zM476.2 80.5h1v1h-1zM468.5 91.9h1v1h-1zM471.3 80.6h1v1h-1zM474.9 96.8h1v1h-1zM462.4 101.8h1v1h-1zM472.4 83h1v1h-1zM471.5 99.2h1v1h-1zM469.4 94.7h1v1h-1zM472.1 70.6h1v1h-1zM472.1 80.9h1v1h-1zM478.9 86.7h1v1h-1zM477.9 88.1h1v1h-1zM464.4 95.9h1v1h-1zM478.5 97.3h1v1h-1zM480.3 89.6h1v1h-1zM478.9 98h1v1h-1zM470.5 72.5h1v1h-1zM466.5 92h1v1h-1zM470.8 65.8h1v1h-1zM480.6 85.6h1v1h-1zM481.3 86.4h1v1h-1zM473.7 65.6h1v1h-1zM467.7 92.9h1v1h-1zM478.1 86.1h1v1h-1zM471.4 62.4h1v1h-1zM482.8 85.6h1v1h-1zM475.8 70.7h1v1h-1zM471.8 60.3h1v1h-1zM474.7 90.9h1v1h-1zM472.3 86.3h1v1h-1zM476.2 63.6h1v1h-1zM476.3 69.3h1v1h-1zM476.7 90h1v1h-1zM473.2 81.1h1v1h-1zM469.9 97h1v1h-1zM469.8 84.3h1v1h-1zM470.3 99.7h1v1h-1zM479.2 83.7h1v1h-1zM472.3 90.3h1v1h-1zM469.2 84.5h1v1h-1zM470.9 83h1v1h-1zM473.3 94.6h1v1h-1zM467.4 92.3h1v1h-1zM480.1 95.3h1v1h-1zM476.1 65.9h1v1h-1zM483.4 87.5h1v1h-1zM474.7 98.4h1v1h-1zM477.7 86.6h1v1h-1zM476 78.6h1v1h-1zM473 82.5h1v1h-1zM465.3 95.3h1v1h-1zM478.3 95.8h1v1h-1zM470.8 94.8h1v1h-1zM477.4 83.2h1v1h-1zM462.5 99.1h1v1h-1zM481.5 91h1v1h-1zM479 92.8h1v1h-1zM477.9 95.7h1v1h-1zM472.7 79.5h1v1h-1zM465.1 99.9h1v1h-1zM477.5 90.1h1v1h-1zM471.8 90.5h1v1h-1zM480.9 98.1h1v1h-1zM474.5 83.2h1v1h-1zM471.2 72h1v1h-1zM480.2 90h1v1h-1zM474.1 79.3h1v1h-1zM469.6 94h1v1h-1zM467.9 89.9h1v1h-1zM475.9 66.1h1v1h-1zM466.6 97.9h1v1h-1zM467.3 91.4h1v1h-1zM484.5 88.3h1v1h-1zM473.7 72.2h1v1h-1zM467.8 85h1v1h-1zM472.1 82.5h1v1h-1zM470.3 66.9h1v1h-1zM470 89.8h1v1h-1zM478.5 99h1v1h-1zM467.6 95.1h1v1h-1zM471.6 92.7h1v1h-1zM469.3 83.1h1v1h-1zM463.8 100.1h1v1h-1zM469.3 81.6h1v1h-1zM479.6 91.7h1v1h-1zM480.7 88.9h1v1h-1zM464.3 97.8h1v1h-1zM481.8 92.4h1v1h-1zM475.1 79.4h1v1h-1zM469.3 100.2h1v1h-1zM465 98h1v1h-1zM480.6 91.5h1v1h-1zM471.3 74.3h1v1h-1zM466 100.8h1v1h-1zM479.2 96.6h1v1h-1zM472.2 81.1h1v1h-1zM483.4 96.3h1v1h-1zM475.9 64.2h1v1h-1zM474.8 96.4h1v1h-1zM462.2 98.5h1v1h-1zM476.1 87.7h1v1h-1zM471.1 81.9h1v1h-1zM474.5 89.6h1v1h-1zM474.1 89.5h1v1h-1zM471 86.4h1v1h-1zM476.2 92.1h1v1h-1zM462.9 98.8h1v1h-1zM472.7 95.8h1v1h-1zM473.3 59.7h1v1h-1zM476.1 68.3h1v1h-1zM469.2 83.6h1v1h-1zM471.9 83h1v1h-1zM462.9 101.7h1v1h-1zM462.5 98.8h1v1h-1zM478.3 93.3h1v1h-1zM483.5 87.6h1v1h-1zM462.9 99.3h1v1h-1zM473.9 75.7h1v1h-1zM474.6 76.3h1v1h-1zM476.5 80.5h1v1h-1zM475.9 63h1v1h-1zM475.7 60.1h1v1h-1zM478.4 100.1h1v1h-1zM473.7 87.9h1v1h-1z" fill="#1F4079"/>
<path d="M479.9 91.6h.8v.8h-.8zM473.2 78.6h.8v.8h-.8zM476.1 60.4h.8v.8h-.8zM480 91.3h.8v.8h-.8zM472.9 81.2h.8v.8h-.8zM472.8 98.3h.8v.8h-.8zM471.3 63h.8v.8h-.8zM481.3 97.4h.8v.8h-.8zM476.9 97.6h.8v.8h-.8zM474.8 70.3h.8v.8h-.8zM481.4 88.6h.8v.8h-.8zM462.6 98.4h.8v.8h-.8zM470.7 99.3h.8v.8h-.8zM482.2 95.8h.8v.8h-.8zM472.3 81.7h.8v.8h-.8zM472.3 96.8h.8v.8h-.8zM476.5 96.1h.8v.8h-.8zM477.1 86.3h.8v.8h-.8zM471.1 88.5h.8v.8h-.8zM478.8 94.9h.8v.8h-.8zM475.2 99.4h.8v.8h-.8zM475 64.4h.8v.8h-.8zM470.8 76.5h.8v.8h-.8zM476.2 61.4h.8v.8h-.8zM477.2 86.6h.8v.8h-.8zM475.1 77.1h.8v.8h-.8zM471 98.3h.8v.8h-.8zM474.5 69.3h.8v.8h-.8zM463.3 98.2h.8v.8h-.8zM468.2 86.2h.8v.8h-.8z" fill="#E8B4A4"/>
<path d="M470.21,60.55L471.95,58.94L474.31,58.75L476.28,60.07L476.68,67.62L475.89,72.33L470.77,72.33L469.98,67.62Z" fill="#E9A88F"/>
<path d="M472.2 59h.8v.8h-.8zM470.5 61.2h.8v.8h-.8zM470.4 71.3h.8v.8h-.8zM469.9 62.2h.8v.8h-.8zM475.4 71.7h.8v.8h-.8zM476.1 71h.8v.8h-.8zM476.5 66.2h.8v.8h-.8zM474.6 71.9h.8v.8h-.8zM476.3 64.7h.8v.8h-.8zM476.4 70.1h.8v.8h-.8zM475 72.1h.8v.8h-.8zM471.1 70.9h.8v.8h-.8zM470.6 65.5h.8v.8h-.8zM476.3 66.6h.8v.8h-.8zM471.9 72.2h.8v.8h-.8zM470 69.5h.8v.8h-.8zM474.2 59h.8v.8h-.8zM476.4 68.6h.8v.8h-.8zM473.1 72.4h.8v.8h-.8zM470.3 70.6h.8v.8h-.8zM470.3 67.3h.8v.8h-.8zM476.2 70h.8v.8h-.8zM475.1 59h.8v.8h-.8zM476 62.5h.8v.8h-.8zM476.2 62.8h.8v.8h-.8zM470.1 68.5h.8v.8h-.8zM474.9 58.5h.8v.8h-.8zM470.9 64.3h.8v.8h-.8zM476.1 60.6h.8v.8h-.8zM470.1 73.2h.8v.8h-.8z" fill="#E9A88F"/>
<path d="M474.8 68.8h.8v.8h-.8zM475.6 71h.8v.8h-.8zM473.4 63h.8v.8h-.8zM474.8 60.3h.8v.8h-.8zM471.1 71.5h.8v.8h-.8zM476.1 64.4h.8v.8h-.8zM474.4 61.4h.8v.8h-.8zM475.3 64h.8v.8h-.8zM475.2 59.9h.8v.8h-.8zM472 71.5h.8v.8h-.8zM474.5 69.8h.8v.8h-.8zM473 69.5h.8v.8h-.8zM470.7 68.7h.8v.8h-.8zM471.5 69.5h.8v.8h-.8zM473.4 61.2h.8v.8h-.8zM475.1 63h.8v.8h-.8zM474.1 63h.8v.8h-.8zM476.5 65.5h.8v.8h-.8zM471.4 63.7h.8v.8h-.8zM473.1 69.3h.8v.8h-.8z" fill="#F4CDBE"/>
<path d="M426.25,103.91L427.83,102.5L429.8,96.84L430.59,90.24L430.19,80.81L429.41,71.39L429.41,63.84L430.59,60.07L431.37,61.02L430.98,67.62L431.37,78.93L431.77,90.24L430.59,97.78L428.62,103.91Z" fill="#2E4F8A"/>
<path d="M453.83,33.68L455.01,31.79L456.98,31.41L458.95,32.26L459.58,34.15L456.59,34.81Z" fill="#F2D2C8"/>
<path d="M439.73,107.21L441.62,106.46L444.45,107.02L443.19,109.29L441.22,109.47Z" fill="#3A5C94"/>
<rect x="392" y="42.6" width="32.8" height="4.8" fill="#E4E4E6" fill-opacity="0.75" stroke="none" stroke-width="0"/>
<text x="408.4" y="47.02" font-size="5.6" fill="#222" text-anchor="middle" font-weight="bold" textLength="30.6" lengthAdjust="spacingAndGlyphs">HSC/Prog−like</text>
<rect x="448.5" y="27.7" width="24.2" height="5.2" fill="#E4E4E6" fill-opacity="0.75" stroke="none" stroke-width="0"/>
<text x="460.6" y="32.32" font-size="5.6" fill="#222" text-anchor="middle" font-weight="bold" textLength="22" lengthAdjust="spacingAndGlyphs">Pre−B cells</text>
<rect x="455.6" y="68.6" width="27.4" height="5.4" fill="#E4E4E6" fill-opacity="0.75" stroke="none" stroke-width="0"/>
<text x="469.3" y="73.32" font-size="5.6" fill="#222" text-anchor="middle" font-weight="bold" textLength="25.2" lengthAdjust="spacingAndGlyphs">CD4+ T cells</text>
<rect x="402.5" y="70.6" width="18.5" height="3.6" fill="#E4E4E6" fill-opacity="0.75" stroke="none" stroke-width="0"/>
<text x="411.75" y="74.42" font-size="5.6" fill="#222" text-anchor="middle" font-weight="bold" textLength="16.3" lengthAdjust="spacingAndGlyphs">Neutrophils</text>
<rect x="377" y="75.6" width="49" height="4" fill="#E4E4E6" fill-opacity="0.75" stroke="none" stroke-width="0"/>
<text x="401.5" y="79.62" font-size="5.6" fill="#222" text-anchor="middle" font-weight="bold" textLength="46.8" lengthAdjust="spacingAndGlyphs">GMP−like/Granulocytes</text>
<rect x="401" y="79.6" width="28.5" height="3.8" fill="#E4E4E6" fill-opacity="0.75" stroke="none" stroke-width="0"/>
<text x="415.25" y="83.52" font-size="5.6" fill="#222" text-anchor="middle" font-weight="bold" textLength="26.3" lengthAdjust="spacingAndGlyphs">HSC/MPP cells</text>
<rect x="381.5" y="87.2" width="89.5" height="4.6" fill="#E4E4E6" fill-opacity="0.75" stroke="none" stroke-width="0"/>
<text x="426.25" y="91.52" font-size="5.6" fill="#222" text-anchor="middle" font-weight="bold" textLength="87.3" lengthAdjust="spacingAndGlyphs">Erythroid−like and erythroid precursor cells</text>
<rect x="469.8" y="96.9" width="17.7" height="4.8" fill="#E4E4E6" fill-opacity="0.75" stroke="none" stroke-width="0"/>
<text x="478.65" y="101.32" font-size="5.6" fill="#222" text-anchor="middle" font-weight="bold" textLength="15.5" lengthAdjust="spacingAndGlyphs">NK cells</text>
<rect x="405" y="101.2" width="59" height="4.4" fill="#E4E4E6" fill-opacity="0.75" stroke="none" stroke-width="0"/>
<text x="434.5" y="105.42" font-size="5.6" fill="#222" text-anchor="middle" font-weight="bold" textLength="56.8" lengthAdjust="spacingAndGlyphs">Plasmacytoid Dendritic cells</text>
<rect x="378" y="114.4" width="45" height="4.8" fill="#E4E4E6" fill-opacity="0.75" stroke="none" stroke-width="0"/>
<text x="400.5" y="118.82" font-size="5.6" fill="#222" text-anchor="middle" font-weight="bold" textLength="42.8" lengthAdjust="spacingAndGlyphs">Classical Monocytes</text>
<rect x="378" y="138" width="55.5" height="4.6" fill="#E4E4E6" fill-opacity="0.75" stroke="none" stroke-width="0"/>
<text x="405.75" y="142.32" font-size="5.6" fill="#222" text-anchor="middle" font-weight="bold" textLength="53.3" lengthAdjust="spacingAndGlyphs">Non−classical monocytes</text>
<text x="500" y="20.6" font-size="6.3" fill="#222" text-anchor="middle" textLength="27.6" lengthAdjust="spacingAndGlyphs">Expression</text>
<text x="498.7" y="27.6" font-size="6.3" fill="#222" text-anchor="middle" textLength="12.6" lengthAdjust="spacingAndGlyphs">Level</text>
<defs><linearGradient id="leg" x1="0" y1="0" x2="0" y2="1"><stop offset="0" stop-color="#7A0A1C"/><stop offset="0.15" stop-color="#B8262E"/><stop offset="0.35" stop-color="#E2806A"/><stop offset="0.5" stop-color="#F6E4DC"/><stop offset="0.6" stop-color="#E6EEF4"/><stop offset="0.75" stop-color="#8EBCD9"/><stop offset="0.9" stop-color="#3577B3"/><stop offset="1" stop-color="#11427F"/></linearGradient></defs>
<rect x="492" y="35" width="5.8" height="28.6" rx="1.2" fill="url(#leg)"/>
<text x="501.3" y="37.6" font-size="6" fill="#222">10</text>
<text x="501.3" y="51.8" font-size="6" fill="#222">5</text>
<text x="501.3" y="65.6" font-size="6" fill="#222">0</text>
<text x="77" y="204.6" font-size="8" fill="#222" text-anchor="middle" textLength="64.8" lengthAdjust="spacingAndGlyphs"><tspan font-style="italic">NAMPT</tspan> AML Cells</text>
<line x1="27.6" y1="219.2" x2="27.6" y2="299.2" stroke="#1a1a1a" stroke-width="0.95"/>
<line x1="25.4" y1="229.9" x2="27.6" y2="229.9" stroke="#222" stroke-width="0.7"/>
<text x="21.6" y="232" font-size="5.8" fill="#222" text-anchor="end">8</text>
<line x1="25.4" y1="242.9" x2="27.6" y2="242.9" stroke="#222" stroke-width="0.7"/>
<text x="21.6" y="245" font-size="5.8" fill="#222" text-anchor="end">7</text>
<line x1="25.4" y1="255.9" x2="27.6" y2="255.9" stroke="#222" stroke-width="0.7"/>
<text x="21.6" y="258" font-size="5.8" fill="#222" text-anchor="end">6</text>
<line x1="25.4" y1="268.9" x2="27.6" y2="268.9" stroke="#222" stroke-width="0.7"/>
<text x="21.6" y="271" font-size="5.8" fill="#222" text-anchor="end">5</text>
<line x1="25.4" y1="281.9" x2="27.6" y2="281.9" stroke="#222" stroke-width="0.7"/>
<text x="21.6" y="284" font-size="5.8" fill="#222" text-anchor="end">4</text>
<line x1="25.4" y1="294.9" x2="27.6" y2="294.9" stroke="#222" stroke-width="0.7"/>
<text x="21.6" y="297" font-size="5.8" fill="#222" text-anchor="end">3</text>
<line x1="27.2" y1="299.2" x2="125.5" y2="299.2" stroke="#1a1a1a" stroke-width="0.95"/>
<line x1="54.5" y1="299.2" x2="54.5" y2="301.4" stroke="#222" stroke-width="0.7"/>
<line x1="99.4" y1="299.2" x2="99.4" y2="301.4" stroke="#222" stroke-width="0.7"/>
<text x="0" y="0" font-size="7.4" fill="#222" text-anchor="middle" textLength="38.5" lengthAdjust="spacingAndGlyphs" transform="translate(12.9,259) rotate(-90)" style="stroke-width:0.32px">Expression level</text>
<text x="52" y="310.2" font-size="6.3" fill="#222" text-anchor="middle" textLength="40" lengthAdjust="spacingAndGlyphs">CD34+CD38−</text>
<text x="102" y="310.2" font-size="6.3" fill="#222" text-anchor="middle" textLength="40" lengthAdjust="spacingAndGlyphs">CD34+CD38+</text>
<path d="M44.6,259.2L44.8,259.3L45.1,259.5L45.5,259.7L45.9,259.9L46.3,260.2L46.6,260.5L46.9,260.8L47.2,261.2L47.5,261.6L47.7,262.1L48,262.5L48.2,263L48.4,263.5L48.6,263.9L48.8,264.4L49,264.9L49.2,265.4L49.4,266L49.6,266.6L49.7,267.3L49.9,267.9L50,268.6L50.2,269.3L50.4,270L50.7,270.7L50.9,271.3L51.2,272L51.6,272.7L51.9,273.3L52.2,274L52.5,274.7L52.9,275.4L53.2,276.1L53.5,276.7L53.8,277.4L54,278L54.2,278.6L54.3,279.1L54.4,279.6L54.4,280L54.4,280.5L54.4,281L54.3,281.5L54.2,282L54,282.5L53.8,283L53.5,283.5L53.2,284L52.8,284.6L52.3,285.1L51.8,285.7L51.3,286.3L50.7,286.9L50.2,287.4L49.7,287.9L49.1,288.4L48.6,288.8L48,289.3L47.5,289.6L47,290L46.5,290.3L46.1,290.6L45.6,290.9L45.2,291.1L44.9,291.3L44.6,291.4L44.6,291.4L44.3,291.3L44,291.1L43.6,290.9L43.1,290.6L42.7,290.3L42.2,290L41.7,289.6L41.2,289.3L40.6,288.8L40.1,288.4L39.5,287.9L39,287.4L38.5,286.9L37.9,286.3L37.4,285.7L36.9,285.1L36.4,284.6L36,284L35.7,283.5L35.4,283L35.2,282.5L35,282L34.9,281.5L34.8,281L34.8,280.5L34.8,280L34.8,279.6L34.9,279.1L35,278.6L35.2,278L35.4,277.4L35.7,276.7L36,276.1L36.3,275.4L36.7,274.7L37,274L37.3,273.3L37.6,272.7L38,272L38.3,271.3L38.5,270.7L38.8,270L39,269.3L39.2,268.6L39.3,267.9L39.5,267.3L39.6,266.6L39.8,266L40,265.4L40.2,264.9L40.4,264.4L40.6,263.9L40.8,263.5L41,263L41.2,262.5L41.5,262.1L41.8,261.6L42,261.2L42.3,260.8L42.6,260.5L42.9,260.2L43.3,259.9L43.7,259.7L44.1,259.5L44.4,259.3L44.6,259.2Z" fill="#C8102E" stroke="#333" stroke-width="0.4" stroke-linejoin="round"/>
<line x1="38.4" y1="277" x2="50.8" y2="277" stroke="#111" stroke-width="0.7"/>
<path d="M48.09 277.49h.7v.7h-.7zM51.62 280.69h.7v.7h-.7zM51.3 279.55h.7v.7h-.7zM43.98 265.02h.7v.7h-.7zM46.18 284.94h.7v.7h-.7zM38.5 283.42h.7v.7h-.7zM40.66 275.21h.7v.7h-.7zM45.36 276.28h.7v.7h-.7zM42.24 263.92h.7v.7h-.7zM49.12 272.12h.7v.7h-.7zM38.56 280.07h.7v.7h-.7zM38.24 280.73h.7v.7h-.7zM38.34 277.4h.7v.7h-.7zM46.47 262.48h.7v.7h-.7zM41.24 270.71h.7v.7h-.7zM47.81 287.02h.7v.7h-.7zM49.71 272.3h.7v.7h-.7zM46.92 276.21h.7v.7h-.7zM48.88 270.61h.7v.7h-.7zM51.92 278.64h.7v.7h-.7zM41.21 283.2h.7v.7h-.7zM39.96 273.55h.7v.7h-.7zM40.06 269.21h.7v.7h-.7zM45.49 272.52h.7v.7h-.7zM45.36 262.8h.7v.7h-.7zM41.87 273.16h.7v.7h-.7zM43.93 281.22h.7v.7h-.7zM44.02 272.78h.7v.7h-.7zM36.92 278.89h.7v.7h-.7zM39.28 286.53h.7v.7h-.7zM50.02 279.75h.7v.7h-.7zM46.37 264.31h.7v.7h-.7zM45.26 273.63h.7v.7h-.7zM41.15 263.54h.7v.7h-.7zM48.86 270.07h.7v.7h-.7zM46.9 270.43h.7v.7h-.7zM50.3 284.4h.7v.7h-.7zM42.42 273.27h.7v.7h-.7zM48.34 276h.7v.7h-.7zM46.53 268.16h.7v.7h-.7zM50.23 280.73h.7v.7h-.7zM47.84 265.44h.7v.7h-.7zM42.82 267.63h.7v.7h-.7zM50.84 277.3h.7v.7h-.7zM49.58 273.19h.7v.7h-.7z" fill="#6A0A16" opacity="0.5"/>
<path d="M64.4,231.6L64.5,233.1L64.6,235.2L64.8,237.6L65,240.2L65.1,242.7L65.3,244.9L65.4,246.8L65.6,248.6L65.7,250.3L65.9,252L66,253.5L66.2,255L66.4,256.4L66.6,257.6L66.8,258.8L67.1,259.9L67.3,260.9L67.6,262L67.9,263.1L68.2,264.1L68.5,265.2L68.9,266.2L69.2,267.1L69.6,268L70,268.8L70.4,269.5L70.8,270.1L71.2,270.7L71.6,271.3L72,272L72.5,272.7L73,273.5L73.5,274.3L74,275.1L74.4,275.9L74.6,276.5L74.6,277L74.6,277.5L74.4,277.8L74.1,278.2L73.8,278.6L73.4,279L73,279.5L72.4,280L71.8,280.5L71.2,281L70.6,281.5L70,282.1L69.4,282.7L68.8,283.3L68.2,284L67.6,284.6L67.1,285.3L66.6,286L66.1,286.7L65.7,287.6L65.3,288.4L64.9,289.2L64.6,289.8L64.4,290.3L64.4,290.3L64.2,289.8L63.9,289.2L63.5,288.4L63.1,287.6L62.7,286.7L62.2,286L61.7,285.3L61.2,284.6L60.6,284L60,283.3L59.4,282.7L58.8,282.1L58.2,281.5L57.6,281L57,280.5L56.4,280L55.8,279.5L55.4,279L55,278.6L54.7,278.2L54.4,277.8L54.2,277.5L54.2,277L54.2,276.5L54.4,275.9L54.8,275.1L55.3,274.3L55.8,273.5L56.3,272.7L56.8,272L57.2,271.3L57.6,270.7L58,270.1L58.4,269.5L58.8,268.8L59.2,268L59.6,267.1L59.9,266.2L60.3,265.2L60.6,264.1L60.9,263.1L61.2,262L61.5,260.9L61.7,259.9L62,258.8L62.2,257.6L62.4,256.4L62.6,255L62.8,253.5L62.9,252L63.1,250.3L63.2,248.6L63.4,246.8L63.5,244.9L63.7,242.7L63.8,240.2L64,237.6L64.2,235.2L64.3,233.1L64.4,231.6Z" fill="#2EA6DF" stroke="#333" stroke-width="0.4" stroke-linejoin="round"/>
<line x1="59.1" y1="274.1" x2="69.7" y2="274.1" stroke="#111" stroke-width="0.7"/>
<path d="M61.49 272.34h.7v.7h-.7zM61.83 264.57h.7v.7h-.7zM63.15 252.03h.7v.7h-.7zM72.68 276.4h.7v.7h-.7zM62.33 257.44h.7v.7h-.7zM64.15 286.23h.7v.7h-.7zM61.68 267.86h.7v.7h-.7zM69.03 273.77h.7v.7h-.7zM63.22 269.53h.7v.7h-.7zM64.99 250.1h.7v.7h-.7zM64.04 247.66h.7v.7h-.7zM59.45 280.21h.7v.7h-.7zM71.66 277.52h.7v.7h-.7zM68.76 274.8h.7v.7h-.7zM63.86 254.11h.7v.7h-.7zM65.29 256.75h.7v.7h-.7zM63.75 263.69h.7v.7h-.7zM64.57 288.09h.7v.7h-.7zM63.86 285.4h.7v.7h-.7zM66.75 270.58h.7v.7h-.7zM61.66 270.29h.7v.7h-.7zM60.89 267.78h.7v.7h-.7zM68.08 266.83h.7v.7h-.7zM64.72 284.44h.7v.7h-.7zM62.09 270.93h.7v.7h-.7zM63.43 252.87h.7v.7h-.7zM69.58 278.8h.7v.7h-.7zM66.31 266.26h.7v.7h-.7zM67.04 278.62h.7v.7h-.7zM68.49 275.73h.7v.7h-.7zM65.67 266.34h.7v.7h-.7zM63.96 263.11h.7v.7h-.7zM67.01 278.49h.7v.7h-.7zM66.9 263.65h.7v.7h-.7zM65.41 275.33h.7v.7h-.7zM64.12 244.41h.7v.7h-.7zM65 261.82h.7v.7h-.7zM67.49 269.77h.7v.7h-.7zM69.04 275.27h.7v.7h-.7zM65.14 265.76h.7v.7h-.7zM69.53 277.68h.7v.7h-.7zM66.66 265.84h.7v.7h-.7zM66.07 281.08h.7v.7h-.7zM65.9 285.4h.7v.7h-.7zM64.42 271.52h.7v.7h-.7zM65.36 257.7h.7v.7h-.7zM63.89 283.4h.7v.7h-.7zM67.87 276.46h.7v.7h-.7zM58.48 277.49h.7v.7h-.7zM65.27 278.76h.7v.7h-.7zM62.69 275.77h.7v.7h-.7zM68.49 274.61h.7v.7h-.7zM67.69 274.98h.7v.7h-.7zM63.42 247.01h.7v.7h-.7zM65.56 269.05h.7v.7h-.7zM64.96 260.37h.7v.7h-.7zM56.55 274.81h.7v.7h-.7zM60.99 270.05h.7v.7h-.7zM63.23 249.95h.7v.7h-.7zM61.85 264.59h.7v.7h-.7zM62.01 259.12h.7v.7h-.7zM62.74 269.85h.7v.7h-.7zM65.48 274.28h.7v.7h-.7zM66.17 261.24h.7v.7h-.7zM63.95 240.79h.7v.7h-.7zM63.5 263.01h.7v.7h-.7zM65.07 254.67h.7v.7h-.7zM60.25 266.72h.7v.7h-.7zM57.62 274.33h.7v.7h-.7zM61.86 272.34h.7v.7h-.7zM70.85 273.39h.7v.7h-.7zM62.96 279.7h.7v.7h-.7zM66 279.57h.7v.7h-.7zM61.16 266.56h.7v.7h-.7zM65.03 273.83h.7v.7h-.7zM66.62 284.31h.7v.7h-.7zM61.71 274.19h.7v.7h-.7zM59.34 281.8h.7v.7h-.7zM64.25 254.19h.7v.7h-.7zM58.33 274.37h.7v.7h-.7zM70.44 274.77h.7v.7h-.7zM63.49 266.79h.7v.7h-.7zM63 260.71h.7v.7h-.7zM63.53 285.16h.7v.7h-.7zM66.21 284.51h.7v.7h-.7zM60.37 273.82h.7v.7h-.7zM64.04 285.75h.7v.7h-.7zM62.37 268.19h.7v.7h-.7zM64.02 286.02h.7v.7h-.7zM63.91 263.34h.7v.7h-.7zM64.44 255.11h.7v.7h-.7zM61.95 269.13h.7v.7h-.7zM68.98 278.79h.7v.7h-.7zM64.1 244.74h.7v.7h-.7zM66.65 262.82h.7v.7h-.7zM60.22 278.8h.7v.7h-.7zM62.03 262.56h.7v.7h-.7zM63.45 286.43h.7v.7h-.7zM63.65 274.17h.7v.7h-.7zM65.78 275.2h.7v.7h-.7zM57.74 277.82h.7v.7h-.7zM60.88 278.26h.7v.7h-.7zM61.87 271.99h.7v.7h-.7zM64.24 263.77h.7v.7h-.7zM62.54 269.82h.7v.7h-.7zM65.55 277.86h.7v.7h-.7zM63.56 248.1h.7v.7h-.7zM68.46 269.53h.7v.7h-.7zM64.49 281.62h.7v.7h-.7zM64.49 244.99h.7v.7h-.7zM64.78 268.6h.7v.7h-.7zM66.34 276.91h.7v.7h-.7zM68.8 270.38h.7v.7h-.7zM63.13 267.14h.7v.7h-.7zM60.49 280.57h.7v.7h-.7zM66.18 263.75h.7v.7h-.7zM64.86 251.03h.7v.7h-.7zM62.88 276.55h.7v.7h-.7zM65.8 263.34h.7v.7h-.7zM61.02 282.37h.7v.7h-.7zM64.61 270.27h.7v.7h-.7zM62 270.88h.7v.7h-.7zM64.37 257h.7v.7h-.7zM58.1 279.54h.7v.7h-.7zM65.68 260.88h.7v.7h-.7zM66.45 279.04h.7v.7h-.7zM64.45 246.73h.7v.7h-.7zM65.95 285.58h.7v.7h-.7zM56.2 276.72h.7v.7h-.7zM60.61 280.3h.7v.7h-.7zM71.61 275.23h.7v.7h-.7zM57.73 277.02h.7v.7h-.7zM66.71 263.59h.7v.7h-.7zM64.45 256.78h.7v.7h-.7zM60.92 268.13h.7v.7h-.7zM56.69 274.58h.7v.7h-.7zM63.69 254.21h.7v.7h-.7zM62.96 251.53h.7v.7h-.7zM67.6 273.23h.7v.7h-.7zM60.3 281.33h.7v.7h-.7zM62.24 268.74h.7v.7h-.7zM63.89 273.95h.7v.7h-.7zM63.2 283.44h.7v.7h-.7zM64.5 250.1h.7v.7h-.7zM64.53 256.86h.7v.7h-.7zM69.13 271.14h.7v.7h-.7zM65.74 272.63h.7v.7h-.7zM64.35 262.36h.7v.7h-.7zM65.45 261.97h.7v.7h-.7zM59.38 271.48h.7v.7h-.7zM63.38 261.09h.7v.7h-.7zM58.68 277.65h.7v.7h-.7zM66.73 277.04h.7v.7h-.7zM64.5 252.58h.7v.7h-.7zM63.03 253.02h.7v.7h-.7zM60.06 273.77h.7v.7h-.7zM63.85 281.28h.7v.7h-.7zM66.13 264.82h.7v.7h-.7zM64.47 247.25h.7v.7h-.7zM63.27 249.91h.7v.7h-.7zM65.11 284.05h.7v.7h-.7zM62.14 260.56h.7v.7h-.7zM64.76 285.18h.7v.7h-.7zM59.24 279.76h.7v.7h-.7zM61.69 274.64h.7v.7h-.7zM63.18 261.11h.7v.7h-.7zM61.65 274.33h.7v.7h-.7zM60.97 267.15h.7v.7h-.7zM65.95 280.02h.7v.7h-.7zM63.11 279.36h.7v.7h-.7z" fill="#15506A" opacity="0.6"/>
<path d="M89.6,251.1L89.7,251.4L89.8,251.8L89.9,252.3L90.1,252.8L90.3,253.4L90.4,254L90.5,254.7L90.6,255.4L90.8,256.2L90.9,257L91,257.9L91.2,258.7L91.4,259.5L91.7,260.4L91.9,261.3L92.2,262.2L92.5,263.1L92.8,264L93.1,265L93.5,265.9L93.9,267L94.2,268L94.6,269L95,270L95.4,271L95.7,272L96.1,273.1L96.5,274.1L96.9,275.1L97.2,276L97.5,276.9L97.9,277.8L98.2,278.7L98.5,279.5L98.8,280.3L99,281L99.2,281.6L99.4,282.2L99.6,282.7L99.8,283.2L99.8,283.7L99.8,284.2L99.7,284.7L99.5,285.3L99.2,285.9L98.9,286.4L98.5,287L98.1,287.5L97.7,288L97.2,288.5L96.7,289L96.2,289.5L95.6,290L95.1,290.5L94.6,291L94,291.6L93.4,292.1L92.8,292.6L92.3,293.1L91.8,293.5L91.3,293.8L90.9,294.1L90.5,294.3L90.1,294.5L89.8,294.7L89.6,294.8L89.6,294.8L89.4,294.7L89.1,294.5L88.7,294.3L88.3,294.1L87.9,293.8L87.4,293.5L86.9,293.1L86.4,292.6L85.8,292.1L85.2,291.6L84.6,291L84.1,290.5L83.6,290L83,289.5L82.5,289L82,288.5L81.5,288L81.1,287.5L80.7,287L80.3,286.4L80,285.9L79.7,285.3L79.5,284.7L79.4,284.2L79.4,283.7L79.4,283.2L79.6,282.7L79.8,282.2L80,281.6L80.2,281L80.4,280.3L80.7,279.5L81,278.7L81.3,277.8L81.7,276.9L82,276L82.3,275.1L82.7,274.1L83.1,273.1L83.5,272L83.8,271L84.2,270L84.6,269L85,268L85.3,267L85.7,265.9L86.1,265L86.4,264L86.7,263.1L87,262.2L87.3,261.3L87.5,260.4L87.8,259.5L88,258.7L88.2,257.9L88.3,257L88.4,256.2L88.6,255.4L88.7,254.7L88.8,254L88.9,253.4L89.1,252.8L89.2,252.3L89.4,251.8L89.5,251.4L89.6,251.1Z" fill="#C8102E" stroke="#333" stroke-width="0.4" stroke-linejoin="round"/>
<line x1="84.6" y1="280" x2="94.6" y2="280" stroke="#111" stroke-width="0.7"/>
<path d="M89.52 286.21h.7v.7h-.7zM90.47 281.75h.7v.7h-.7zM87.45 284.14h.7v.7h-.7zM84.93 269.78h.7v.7h-.7zM83.94 273.4h.7v.7h-.7zM88.97 287.09h.7v.7h-.7zM80.72 284.47h.7v.7h-.7zM95.23 279.56h.7v.7h-.7zM88.04 282.2h.7v.7h-.7zM83.13 279.47h.7v.7h-.7zM85.64 271.92h.7v.7h-.7zM87.63 277.63h.7v.7h-.7zM84.1 286.87h.7v.7h-.7zM86.49 274.81h.7v.7h-.7zM86.96 272.15h.7v.7h-.7zM89.03 274.31h.7v.7h-.7zM92.25 266.33h.7v.7h-.7zM95.42 277.51h.7v.7h-.7zM92.27 283.31h.7v.7h-.7zM96.1 279.59h.7v.7h-.7zM90.9 270.62h.7v.7h-.7zM91.51 275.74h.7v.7h-.7zM83.42 283.96h.7v.7h-.7zM83.79 273.36h.7v.7h-.7zM84.18 274.19h.7v.7h-.7zM96.12 278.19h.7v.7h-.7zM86.61 277.41h.7v.7h-.7zM85.93 279.52h.7v.7h-.7zM93.02 284.01h.7v.7h-.7zM86.45 272.2h.7v.7h-.7zM96.88 283.06h.7v.7h-.7zM88.06 282.64h.7v.7h-.7zM84.53 290.03h.7v.7h-.7zM91.54 268.09h.7v.7h-.7zM82.59 278.38h.7v.7h-.7zM97.17 280.99h.7v.7h-.7zM86.87 280.46h.7v.7h-.7zM85.31 269.65h.7v.7h-.7zM89.12 287.34h.7v.7h-.7zM83.67 288.42h.7v.7h-.7zM83.75 274.54h.7v.7h-.7zM82.89 278.11h.7v.7h-.7zM88.1 274.85h.7v.7h-.7zM83.33 276.09h.7v.7h-.7zM92.7 266.71h.7v.7h-.7zM89.35 272.71h.7v.7h-.7zM89.7 278.22h.7v.7h-.7zM87.59 269.24h.7v.7h-.7zM89.65 270.23h.7v.7h-.7zM90.55 287.96h.7v.7h-.7zM84.84 286.33h.7v.7h-.7zM89.5 265.1h.7v.7h-.7zM90.36 279.87h.7v.7h-.7zM91.03 277.68h.7v.7h-.7zM96.4 283.9h.7v.7h-.7zM88.58 276.13h.7v.7h-.7zM84.8 285.69h.7v.7h-.7zM87.42 270.53h.7v.7h-.7zM91.7 269.38h.7v.7h-.7zM86.21 285.55h.7v.7h-.7zM85.04 271.06h.7v.7h-.7zM84.16 274.57h.7v.7h-.7zM90.39 278.75h.7v.7h-.7zM83.87 274.59h.7v.7h-.7zM81.4 283.51h.7v.7h-.7zM86.79 273.32h.7v.7h-.7zM83.57 277.62h.7v.7h-.7zM86.5 278.59h.7v.7h-.7zM90.21 284.34h.7v.7h-.7zM91.45 287.27h.7v.7h-.7zM90.53 284.46h.7v.7h-.7zM94.01 279.02h.7v.7h-.7zM97.09 282.79h.7v.7h-.7zM92.73 283.94h.7v.7h-.7zM93.19 275.16h.7v.7h-.7zM83.97 277.8h.7v.7h-.7zM86.49 268.36h.7v.7h-.7zM91.46 275.03h.7v.7h-.7zM83.62 275.6h.7v.7h-.7zM90.23 284.53h.7v.7h-.7zM86.17 265.98h.7v.7h-.7zM87.81 271.07h.7v.7h-.7zM96.15 286.4h.7v.7h-.7zM84.72 282.08h.7v.7h-.7zM87.2 278.75h.7v.7h-.7zM82.64 276.66h.7v.7h-.7zM94.67 281.61h.7v.7h-.7zM82.24 283.92h.7v.7h-.7zM83.99 280.67h.7v.7h-.7zM88.32 283.65h.7v.7h-.7zM92.89 288.51h.7v.7h-.7zM87.46 270.63h.7v.7h-.7zM88.72 287.78h.7v.7h-.7zM88.38 278.86h.7v.7h-.7zM96.67 284.6h.7v.7h-.7zM96.77 280.71h.7v.7h-.7zM82.63 281.81h.7v.7h-.7zM87.93 285.45h.7v.7h-.7zM93.02 267.62h.7v.7h-.7zM89.8 266.38h.7v.7h-.7zM95.16 279.78h.7v.7h-.7zM85.15 278.02h.7v.7h-.7zM85.44 275.4h.7v.7h-.7zM86.92 281.24h.7v.7h-.7zM84.81 284.32h.7v.7h-.7zM85.76 277.14h.7v.7h-.7zM92.26 290.44h.7v.7h-.7zM91.09 286.18h.7v.7h-.7zM84.07 278.18h.7v.7h-.7zM89.09 285.8h.7v.7h-.7z" fill="#5E0812" opacity="0.55"/>
<path d="M109.5,236.1L109.6,236.5L109.7,237.1L109.8,237.8L110,238.6L110.1,239.3L110.3,240L110.4,240.6L110.6,241.2L110.7,241.8L110.9,242.4L111.1,243L111.3,243.6L111.6,244.2L111.9,244.9L112.2,245.6L112.6,246.2L112.9,246.9L113.3,247.5L113.7,248.1L114,248.7L114.4,249.2L114.7,249.8L115.1,250.4L115.5,251.1L115.9,251.8L116.3,252.6L116.8,253.5L117.2,254.3L117.6,255.2L117.9,256L118.2,256.8L118.5,257.7L118.7,258.6L119,259.4L119.1,260.2L119.3,261L119.4,261.7L119.5,262.3L119.6,262.9L119.6,263.5L119.6,264.1L119.6,264.7L119.5,265.4L119.4,266.1L119.2,266.8L119,267.5L118.8,268.2L118.5,269L118.2,269.8L117.9,270.6L117.5,271.5L117.2,272.4L116.8,273.2L116.5,274L116.2,274.7L115.9,275.5L115.6,276.1L115.3,276.8L115,277.5L114.7,278.2L114.4,278.9L114,279.7L113.7,280.4L113.3,281.1L113,281.8L112.7,282.5L112.5,283.1L112.3,283.7L112.1,284.2L111.9,284.7L111.7,285.2L111.5,285.8L111.2,286.4L110.8,287.1L110.4,287.9L110,288.5L109.7,289.1L109.5,289.5L109.5,289.5L109.3,289.1L109,288.5L108.6,287.9L108.2,287.1L107.8,286.4L107.5,285.8L107.3,285.2L107.1,284.7L106.9,284.2L106.7,283.7L106.5,283.1L106.3,282.5L106,281.8L105.7,281.1L105.3,280.4L105,279.7L104.6,278.9L104.3,278.2L104,277.5L103.7,276.8L103.4,276.1L103.1,275.5L102.8,274.7L102.5,274L102.2,273.2L101.8,272.4L101.5,271.5L101.1,270.6L100.8,269.8L100.5,269L100.2,268.2L100,267.5L99.8,266.8L99.6,266.1L99.5,265.4L99.4,264.7L99.4,264.1L99.4,263.5L99.4,262.9L99.5,262.3L99.6,261.7L99.7,261L99.9,260.2L100,259.4L100.3,258.6L100.5,257.7L100.8,256.8L101.1,256L101.4,255.2L101.8,254.3L102.2,253.5L102.7,252.6L103.1,251.8L103.5,251.1L103.9,250.4L104.3,249.8L104.6,249.2L105,248.7L105.3,248.1L105.7,247.5L106.1,246.9L106.4,246.2L106.8,245.6L107.1,244.9L107.4,244.2L107.7,243.6L107.9,243L108.1,242.4L108.3,241.8L108.4,241.2L108.6,240.6L108.7,240L108.9,239.3L109,238.6L109.2,237.8L109.3,237.1L109.4,236.5L109.5,236.1Z" fill="#2EA6DF" stroke="#333" stroke-width="0.4" stroke-linejoin="round"/>
<line x1="103.8" y1="266.2" x2="115.2" y2="266.2" stroke="#111" stroke-width="0.7"/>
<path d="M105.23 252.6h.7v.7h-.7zM112.26 255.65h.7v.7h-.7zM105.99 275.61h.7v.7h-.7zM106.87 272.18h.7v.7h-.7zM114.56 269.32h.7v.7h-.7zM113.85 268.02h.7v.7h-.7zM100.7 263.27h.7v.7h-.7zM110.6 265.86h.7v.7h-.7zM107.39 258.59h.7v.7h-.7zM101.08 261.99h.7v.7h-.7zM107.15 261.87h.7v.7h-.7zM112.6 265.21h.7v.7h-.7zM117.47 263.73h.7v.7h-.7zM114.48 272.72h.7v.7h-.7zM111.66 269.54h.7v.7h-.7zM114.08 266.32h.7v.7h-.7zM110.76 262.98h.7v.7h-.7zM109.48 269.24h.7v.7h-.7zM102.04 261.22h.7v.7h-.7zM107.14 255.17h.7v.7h-.7zM113.33 267.16h.7v.7h-.7zM106.36 270.05h.7v.7h-.7zM106.99 276.88h.7v.7h-.7zM102.99 270.09h.7v.7h-.7zM111.49 271.01h.7v.7h-.7zM112.5 278.37h.7v.7h-.7zM114.17 269.42h.7v.7h-.7zM110.71 270.64h.7v.7h-.7zM109.42 259.28h.7v.7h-.7zM106.38 275.45h.7v.7h-.7zM109.48 279.6h.7v.7h-.7zM100.58 263.62h.7v.7h-.7zM103.6 263.55h.7v.7h-.7zM115.26 268.66h.7v.7h-.7zM110.31 276.02h.7v.7h-.7zM102.41 263.48h.7v.7h-.7zM109.94 269.45h.7v.7h-.7zM107.33 270.07h.7v.7h-.7zM106.02 275.08h.7v.7h-.7zM105.2 261.72h.7v.7h-.7z" fill="#1A5C7A" opacity="0.45"/>
<path d="M44.4,231.7V230.6H64.6V231.7" fill="none" stroke="#333" stroke-width="0.8"/>
<text x="54.4" y="229.8" font-size="5.6" fill="#222" text-anchor="middle" style="stroke-width:0.25px">****</text>
<path d="M64.4,221.4V220.3H109.6V221.4" fill="none" stroke="#333" stroke-width="0.8"/>
<text x="87.1" y="219.5" font-size="5.6" fill="#222" text-anchor="middle" style="stroke-width:0.25px">****</text>
<path d="M89.2,231.5V230.4H109.6V231.5" fill="none" stroke="#333" stroke-width="0.8"/>
<text x="99.4" y="229.6" font-size="5.6" fill="#222" text-anchor="middle" style="stroke-width:0.25px">****</text>
<rect x="43.2" y="320.2" width="6" height="6" fill="#C8102E" stroke="#333" stroke-width="0.4"/>
<text x="52.2" y="325.6" font-size="6.3" fill="#222">−7</text>
<rect x="67.6" y="320.2" width="6" height="6" fill="#2EA6DF" stroke="#333" stroke-width="0.4"/>
<text x="75.8" y="325.6" font-size="6.3" fill="#222" textLength="31" lengthAdjust="spacingAndGlyphs">Non −7/−7q</text>
<text x="241.9" y="204.6" font-size="8" fill="#222" text-anchor="middle" textLength="65.4" lengthAdjust="spacingAndGlyphs"><tspan font-style="italic">NAMPT</tspan> AML Cells</text>
<line x1="164.2" y1="220.7" x2="164.2" y2="299.1" stroke="#1a1a1a" stroke-width="0.95"/>
<line x1="162" y1="222.4" x2="164.2" y2="222.4" stroke="#222" stroke-width="0.7"/>
<text x="158.2" y="224.5" font-size="5.8" fill="#222" text-anchor="end">6</text>
<line x1="162" y1="238.7" x2="164.2" y2="238.7" stroke="#222" stroke-width="0.7"/>
<text x="158.2" y="240.8" font-size="5.8" fill="#222" text-anchor="end">4</text>
<line x1="162" y1="255" x2="164.2" y2="255" stroke="#222" stroke-width="0.7"/>
<text x="158.2" y="257.1" font-size="5.8" fill="#222" text-anchor="end">2</text>
<line x1="162" y1="271.2" x2="164.2" y2="271.2" stroke="#222" stroke-width="0.7"/>
<text x="158.2" y="273.3" font-size="5.8" fill="#222" text-anchor="end">0</text>
<line x1="162" y1="287.4" x2="164.2" y2="287.4" stroke="#222" stroke-width="0.7"/>
<text x="158.2" y="289.5" font-size="5.8" fill="#222" text-anchor="end">−2</text>
<line x1="163.8" y1="299.1" x2="319.2" y2="299.1" stroke="#1a1a1a" stroke-width="0.95"/>
<text x="0" y="0" font-size="7.4" fill="#222" text-anchor="middle" textLength="57.4" lengthAdjust="spacingAndGlyphs" transform="translate(145.6,259.3) rotate(-90)" style="stroke-width:0.32px">Scaled expression level</text>
<line x1="172.5" y1="299.1" x2="172.5" y2="301.3" stroke="#222" stroke-width="0.7"/>
<line x1="186.37" y1="299.1" x2="186.37" y2="301.3" stroke="#222" stroke-width="0.7"/>
<line x1="200.24" y1="299.1" x2="200.24" y2="301.3" stroke="#222" stroke-width="0.7"/>
<line x1="214.11" y1="299.1" x2="214.11" y2="301.3" stroke="#222" stroke-width="0.7"/>
<line x1="227.98" y1="299.1" x2="227.98" y2="301.3" stroke="#222" stroke-width="0.7"/>
<line x1="241.85" y1="299.1" x2="241.85" y2="301.3" stroke="#222" stroke-width="0.7"/>
<line x1="255.72" y1="299.1" x2="255.72" y2="301.3" stroke="#222" stroke-width="0.7"/>
<line x1="269.59" y1="299.1" x2="269.59" y2="301.3" stroke="#222" stroke-width="0.7"/>
<line x1="283.46" y1="299.1" x2="283.46" y2="301.3" stroke="#222" stroke-width="0.7"/>
<line x1="297.33" y1="299.1" x2="297.33" y2="301.3" stroke="#222" stroke-width="0.7"/>
<line x1="311.2" y1="299.1" x2="311.2" y2="301.3" stroke="#222" stroke-width="0.7"/>
<text x="0" y="0" font-size="6.1" fill="#2a2a2a" text-anchor="end" transform="translate(172.6,308.2) rotate(-45)">HSC/Prog−like</text>
<text x="0" y="0" font-size="6.1" fill="#2a2a2a" text-anchor="end" transform="translate(186.47,308.2) rotate(-45)">HSC/MPP Cells</text>
<text x="0" y="0" font-size="6.1" fill="#2a2a2a" text-anchor="end" transform="translate(200.34,308.2) rotate(-45)">GMP−like/Granulocytes</text>
<text x="0" y="0" font-size="6.1" fill="#2a2a2a" text-anchor="end" transform="translate(214.21,308.2) rotate(-45)">Erythroid Precursor Cells</text>
<text x="0" y="0" font-size="6.1" fill="#2a2a2a" text-anchor="end" transform="translate(228.08,308.2) rotate(-45)">Neutrophils</text>
<text x="0" y="0" font-size="6.1" fill="#2a2a2a" text-anchor="end" transform="translate(241.95,308.2) rotate(-45)">Classical Monocytes</text>
<text x="0" y="0" font-size="6.1" fill="#2a2a2a" text-anchor="end" transform="translate(255.82,308.2) rotate(-45)">Non−classical Monocytes</text>
<text x="0" y="0" font-size="6.1" fill="#2a2a2a" text-anchor="end" transform="translate(269.69,308.2) rotate(-45)">CD4+ T Cells</text>
<text x="0" y="0" font-size="6.1" fill="#2a2a2a" text-anchor="end" transform="translate(283.56,308.2) rotate(-45)">NK Cells</text>
<text x="0" y="0" font-size="6.1" fill="#2a2a2a" text-anchor="end" transform="translate(297.43,308.2) rotate(-45)">Pre−B Cells</text>
<text x="0" y="0" font-size="6.1" fill="#2a2a2a" text-anchor="end" transform="translate(311.3,308.2) rotate(-45)">B Cells</text>
<line x1="241.85" y1="266" x2="241.85" y2="288.8" stroke="#8a8a8a" stroke-width="0.6"/>
<line x1="255.72" y1="265" x2="255.72" y2="282.4" stroke="#8a8a8a" stroke-width="0.6"/>
<path d="M172.7,253.5L172.7,254L172.7,254.7L172.7,255.5L172.7,256.3L172.8,257.1L172.9,257.7L173.1,258.2L173.3,258.6L173.6,258.9L173.9,259.3L174.2,259.6L174.5,260L174.8,260.4L175.1,260.9L175.4,261.4L175.8,261.9L176,262.4L176.3,263L176.5,263.6L176.8,264.3L177,265L177.1,265.7L177.2,266.4L177.2,267.1L177.1,267.8L176.9,268.5L176.6,269.2L176.3,269.8L176,270.5L175.7,271L175.4,271.5L175,271.9L174.7,272.2L174.3,272.6L174.1,272.9L174.1,273.2L174.3,273.5L174.6,273.8L175,274.1L175.5,274.4L176,274.7L176.5,275L177,275.3L177.5,275.7L178,276L178.5,276.4L178.8,276.8L179,277.2L179,277.6L178.9,278L178.6,278.5L178.3,279L177.9,279.5L177.5,280L177,280.6L176.3,281.2L175.6,281.9L174.8,282.6L174.2,283.3L173.7,283.9L173.4,284.4L173.2,284.9L173.1,285.4L173,285.9L173,286.4L172.9,287L172.8,287.8L172.8,288.7L172.8,289.7L172.7,290.6L172.7,291.4L172.7,292L172.3,292L172.3,291.4L172.3,290.6L172.2,289.7L172.2,288.7L172.2,287.8L172.1,287L172,286.4L172,285.9L171.9,285.4L171.8,284.9L171.6,284.4L171.3,283.9L170.8,283.3L170.2,282.6L169.4,281.9L168.7,281.2L168,280.6L167.5,280L167.1,279.5L166.7,279L166.4,278.5L166.1,278L166,277.6L166,277.2L166.2,276.8L166.5,276.4L167,276L167.5,275.7L168,275.3L168.5,275L169,274.7L169.5,274.4L170,274.1L170.4,273.8L170.7,273.5L170.9,273.2L170.9,272.9L170.7,272.6L170.3,272.2L170,271.9L169.6,271.5L169.3,271L169,270.5L168.7,269.8L168.4,269.2L168.1,268.5L167.9,267.8L167.8,267.1L167.8,266.4L167.9,265.7L168,265L168.2,264.3L168.5,263.6L168.7,263L169,262.4L169.2,261.9L169.6,261.4L169.9,260.9L170.2,260.4L170.5,260L170.8,259.6L171.1,259.3L171.4,258.9L171.7,258.6L171.9,258.2L172.1,257.7L172.2,257.1L172.3,256.3L172.3,255.5L172.3,254.7L172.3,254L172.3,253.5Z" fill="#F2776E" stroke="#333" stroke-width="0.3" stroke-linejoin="round"/>
<line x1="170.9" y1="273.2" x2="174.1" y2="273.2" stroke="#111" stroke-width="0.7"/>
<path d="M186.7,261L186.9,261.3L187.2,261.8L187.6,262.3L188,262.9L188.5,263.5L188.9,264L189.3,264.5L189.7,265L190.2,265.5L190.6,266L191,266.5L191.4,267L191.7,267.6L192.1,268.2L192.4,268.8L192.7,269.4L192.8,270L192.9,270.5L192.7,271L192.5,271.4L192.1,271.8L191.7,272.2L191.2,272.6L190.9,273L190.5,273.3L190.2,273.6L189.9,273.9L189.6,274.2L189.3,274.6L189.1,275.2L188.9,276L188.8,276.9L188.8,277.9L188.7,278.9L188.7,280L188.6,281L188.4,282L188.3,283L188.1,284L187.9,285L187.7,285.9L187.6,286.6L187.4,287.2L187.3,287.6L187.1,287.9L187,288.2L186.9,288.6L186.8,289L186.7,289.6L186.7,290.3L186.6,291L186.6,291.7L186.6,292.3L186.6,292.7L186.2,292.7L186.2,292.3L186.1,291.7L186.1,291L186.1,290.3L186,289.6L186,289L185.9,288.6L185.8,288.2L185.6,287.9L185.5,287.6L185.3,287.2L185.2,286.6L185,285.9L184.8,285L184.7,284L184.5,283L184.3,282L184.2,281L184.1,280L184,278.9L184,277.9L183.9,276.9L183.8,276L183.7,275.2L183.4,274.6L183.2,274.2L182.9,273.9L182.5,273.6L182.2,273.3L181.9,273L181.5,272.6L181.1,272.2L180.7,271.8L180.3,271.4L180,271L179.9,270.5L179.9,270L180.1,269.4L180.3,268.8L180.7,268.2L181,267.6L181.4,267L181.7,266.5L182.1,266L182.6,265.5L183,265L183.5,264.5L183.9,264L184.3,263.5L184.7,262.9L185.1,262.3L185.5,261.8L185.8,261.3L186.1,261Z" fill="#E28E1C" stroke="#333" stroke-width="0.3" stroke-linejoin="round"/>
<line x1="181.39" y1="272.5" x2="191.35" y2="272.5" stroke="#111" stroke-width="0.7"/>
<path d="M200.5,260.4L200.8,260.7L201.1,261.1L201.5,261.5L201.9,262L202.3,262.5L202.7,263L203.2,263.5L203.6,264L204.1,264.5L204.5,265L204.9,265.5L205.2,266L205.5,266.5L205.8,267.1L206.1,267.6L206.2,268.1L206.3,268.6L206.2,269.1L206,269.5L205.7,270L205.2,270.4L204.7,270.7L204.2,271.1L203.7,271.5L203.3,271.9L202.8,272.3L202.3,272.7L201.8,273L201.5,273.4L201.2,273.8L201.2,274.2L201.3,274.5L201.5,274.8L201.8,275.2L202.1,275.6L202.2,276L202.4,276.5L202.5,277L202.7,277.6L202.8,278.1L202.8,278.7L202.8,279.2L202.8,279.7L202.6,280.2L202.4,280.7L202.2,281.1L202,281.6L201.8,282L201.7,282.3L201.5,282.6L201.2,282.9L201.1,283.2L200.9,283.5L200.7,284L200.6,284.7L200.6,285.5L200.5,286.4L200.5,287.3L200.5,288.1L200.4,288.6L200,288.6L200,288.1L200,287.3L200,286.4L199.9,285.5L199.8,284.7L199.7,284L199.6,283.5L199.4,283.2L199.2,282.9L199,282.6L198.8,282.3L198.6,282L198.4,281.6L198.2,281.1L198,280.7L197.9,280.2L197.7,279.7L197.6,279.2L197.6,278.7L197.7,278.1L197.8,277.6L198,277L198.1,276.5L198.2,276L198.4,275.6L198.7,275.2L198.9,274.8L199.2,274.5L199.3,274.2L199.2,273.8L199,273.4L198.7,273L198.2,272.7L197.7,272.3L197.2,271.9L196.7,271.5L196.3,271.1L195.8,270.7L195.3,270.4L194.8,270L194.5,269.5L194.2,269.1L194.2,268.6L194.3,268.1L194.4,267.6L194.7,267.1L194.9,266.5L195.2,266L195.6,265.5L196,265L196.4,264.5L196.9,264L197.3,263.5L197.7,263L198.1,262.5L198.6,262L199,261.5L199.4,261.1L199.7,260.7L199.9,260.4Z" fill="#B9A61A" stroke="#333" stroke-width="0.3" stroke-linejoin="round"/>
<line x1="197.09" y1="271.8" x2="203.39" y2="271.8" stroke="#111" stroke-width="0.7"/>
<path d="M214.3,246L214.3,247.1L214.3,248.7L214.3,250.6L214.4,252.5L214.5,254.2L214.6,255.5L214.8,256.3L215.1,256.8L215.5,257.2L215.8,257.4L216.2,257.6L216.6,258L217,258.5L217.5,259L217.9,259.5L218.4,260L218.8,260.5L219.1,261L219.4,261.5L219.6,261.9L219.9,262.3L220,262.8L220.1,263.2L220.1,263.7L220,264.2L219.8,264.8L219.6,265.3L219.3,265.9L218.9,266.5L218.6,267L218.2,267.5L217.8,267.8L217.3,268.2L216.8,268.6L216.4,269.1L216.1,269.8L215.9,270.6L215.9,271.6L215.9,272.6L215.9,273.7L215.9,274.9L215.9,276L215.9,277.2L215.9,278.5L215.9,279.9L215.9,281.2L215.9,282.4L215.9,283.3L216,284L216.1,284.4L216.2,284.7L216.4,285L216.5,285.2L216.6,285.5L216.7,285.8L216.8,286.1L216.8,286.4L216.8,286.6L216.8,287L216.8,287.3L216.7,287.7L216.6,288.2L216.5,288.6L216.3,289.1L216.1,289.6L215.9,290L215.7,290.4L215.4,290.8L215.1,291.2L214.8,291.5L214.6,291.8L214.4,292L213.8,292L213.6,291.8L213.4,291.5L213.1,291.2L212.8,290.8L212.5,290.4L212.3,290L212.1,289.6L211.9,289.1L211.8,288.6L211.6,288.2L211.5,287.7L211.4,287.3L211.4,287L211.4,286.6L211.4,286.4L211.5,286.1L211.5,285.8L211.6,285.5L211.7,285.2L211.8,285L212,284.7L212.1,284.4L212.2,284L212.3,283.3L212.4,282.4L212.4,281.2L212.4,279.9L212.4,278.5L212.3,277.2L212.3,276L212.3,274.9L212.3,273.7L212.4,272.6L212.4,271.6L212.3,270.6L212.1,269.8L211.8,269.1L211.4,268.6L210.9,268.2L210.5,267.8L210,267.5L209.6,267L209.3,266.5L208.9,265.9L208.6,265.3L208.4,264.8L208.2,264.2L208.1,263.7L208.1,263.2L208.2,262.8L208.4,262.3L208.6,261.9L208.8,261.5L209.1,261L209.4,260.5L209.9,260L210.3,259.5L210.8,259L211.2,258.5L211.6,258L212,257.6L212.4,257.4L212.7,257.2L213.1,256.8L213.4,256.3L213.6,255.5L213.8,254.2L213.8,252.5L213.9,250.6L213.9,248.7L213.9,247.1L213.9,246Z" fill="#74BE36" stroke="#333" stroke-width="0.3" stroke-linejoin="round"/>
<line x1="212.11" y1="269.8" x2="216.11" y2="269.8" stroke="#111" stroke-width="0.7"/>
<path d="M228.2,257L228.2,257.5L228.3,258.2L228.3,259.1L228.4,260L228.6,260.8L228.8,261.5L229.1,262L229.6,262.5L230,262.9L230.6,263.2L231,263.6L231.5,264L231.9,264.4L232.3,264.9L232.6,265.3L233,265.7L233.2,266.1L233.5,266.5L233.7,266.9L233.8,267.2L233.9,267.5L234,267.8L234,268.1L234,268.5L233.9,268.9L233.8,269.3L233.7,269.7L233.5,270.1L233.3,270.6L233,271L232.6,271.4L232.2,271.9L231.8,272.3L231.3,272.7L230.9,273.1L230.5,273.5L230.1,273.8L229.8,274L229.5,274.1L229.2,274.4L229,274.7L228.8,275.2L228.7,276L228.6,276.9L228.6,278L228.6,279.1L228.6,280.1L228.7,281L228.8,281.7L228.9,282.4L229,283L229.2,283.5L229.4,284L229.5,284.5L229.6,284.9L229.7,285.3L229.8,285.6L229.9,285.9L230,286.2L230,286.6L229.9,287L229.8,287.3L229.6,287.7L229.4,288.1L229.2,288.5L229,289L228.8,289.6L228.7,290.2L228.5,290.9L228.4,291.6L228.3,292.2L228.2,292.6L227.8,292.6L227.7,292.2L227.6,291.6L227.4,290.9L227.3,290.2L227.1,289.6L227,289L226.8,288.5L226.6,288.1L226.4,287.7L226.2,287.3L226.1,287L226,286.6L226,286.2L226,285.9L226.1,285.6L226.2,285.3L226.4,284.9L226.5,284.5L226.6,284L226.8,283.5L226.9,283L227.1,282.4L227.2,281.7L227.3,281L227.3,280.1L227.4,279.1L227.4,278L227.4,276.9L227.3,276L227.2,275.2L227,274.7L226.8,274.4L226.5,274.1L226.2,274L225.8,273.8L225.5,273.5L225.1,273.1L224.7,272.7L224.2,272.3L223.7,271.9L223.3,271.4L223,271L222.7,270.6L222.5,270.1L222.3,269.7L222.1,269.3L222,268.9L222,268.5L222,268.1L222,267.8L222,267.5L222.1,267.2L222.3,266.9L222.5,266.5L222.7,266.1L223,265.7L223.3,265.3L223.7,264.9L224.1,264.4L224.5,264L224.9,263.6L225.4,263.2L225.9,262.9L226.4,262.5L226.8,262L227.2,261.5L227.4,260.8L227.6,260L227.6,259.1L227.7,258.2L227.7,257.5L227.8,257Z" fill="#28B25A" stroke="#333" stroke-width="0.3" stroke-linejoin="round"/>
<line x1="227.11" y1="275" x2="228.85" y2="275" stroke="#111" stroke-width="0.7"/>
<path d="M242,257L242.2,257.2L242.3,257.5L242.5,257.9L242.7,258.3L243,258.7L243.3,259L243.8,259.3L244.3,259.5L244.8,259.8L245.4,260L245.9,260.2L246.3,260.5L246.8,260.8L247.2,261.1L247.5,261.4L247.9,261.7L248.1,262L248.2,262.3L248.1,262.6L247.8,263L247.5,263.4L247.1,263.8L246.7,264.1L246.3,264.5L246,264.9L245.5,265.2L245.1,265.5L244.6,265.9L244.2,266.2L243.8,266.5L243.5,266.8L243.2,267L243,267.2L242.7,267.5L242.5,267.7L242.3,268L242.2,268.3L242.2,268.7L242.1,269.1L242.1,269.5L242.1,269.8L242,270L241.7,270L241.6,269.8L241.6,269.5L241.6,269.1L241.5,268.7L241.5,268.3L241.3,268L241.2,267.7L241,267.5L240.7,267.2L240.5,267L240.2,266.8L239.8,266.5L239.5,266.2L239.1,265.9L238.6,265.5L238.2,265.2L237.7,264.9L237.3,264.5L237,264.1L236.6,263.8L236.2,263.4L235.9,263L235.6,262.6L235.5,262.3L235.6,262L235.8,261.7L236.2,261.4L236.5,261.1L236.9,260.8L237.3,260.5L237.8,260.2L238.3,260L238.9,259.8L239.4,259.5L239.9,259.3L240.3,259L240.7,258.7L241,258.3L241.2,257.9L241.4,257.5L241.5,257.2L241.7,257Z" fill="#1DB8A0" stroke="#333" stroke-width="0.3" stroke-linejoin="round"/>
<line x1="235.55" y1="262.3" x2="248.15" y2="262.3" stroke="#111" stroke-width="0.7"/>
<path d="M255.9,256L256,256.3L256.2,256.8L256.4,257.4L256.6,258L256.9,258.6L257.2,259L257.6,259.3L258.1,259.6L258.7,259.8L259.2,260L259.8,260.2L260.2,260.5L260.6,260.8L261,261.1L261.4,261.4L261.7,261.7L261.9,262L262,262.3L261.9,262.6L261.7,262.9L261.4,263.2L261,263.5L260.6,263.7L260.2,264L259.8,264.3L259.2,264.5L258.7,264.8L258.1,265L257.6,265.3L257.2,265.5L256.9,265.7L256.7,266L256.5,266.2L256.3,266.5L256.2,266.7L256.1,267L256,267.3L256,267.7L256,268.1L255.9,268.5L255.9,268.8L255.9,269L255.5,269L255.5,268.8L255.5,268.5L255.5,268.1L255.5,267.7L255.4,267.3L255.3,267L255.2,266.7L255.1,266.5L254.9,266.2L254.8,266L254.5,265.7L254.2,265.5L253.8,265.3L253.3,265L252.8,264.8L252.2,264.5L251.7,264.3L251.2,264L250.8,263.7L250.4,263.5L250,263.2L249.7,262.9L249.5,262.6L249.4,262.3L249.5,262L249.7,261.7L250,261.4L250.4,261.1L250.8,260.8L251.2,260.5L251.7,260.2L252.2,260L252.8,259.8L253.3,259.6L253.8,259.3L254.2,259L254.6,258.6L254.8,258L255.1,257.4L255.2,256.8L255.4,256.3L255.5,256Z" fill="#2AB6CF" stroke="#333" stroke-width="0.3" stroke-linejoin="round"/>
<line x1="249.42" y1="262.3" x2="262.02" y2="262.3" stroke="#111" stroke-width="0.7"/>
<path d="M269.8,259.1L269.8,259.4L269.9,259.8L270,260.3L270,260.8L270.1,261.4L270.2,262L270.3,262.6L270.4,263.3L270.5,263.9L270.6,264.6L270.7,265.3L270.8,266L270.8,266.7L270.8,267.3L270.8,267.9L270.7,268.6L270.6,269.3L270.6,270L270.5,270.8L270.4,271.7L270.3,272.6L270.2,273.4L270.2,274.3L270.2,275L270.3,275.6L270.5,276.1L270.7,276.6L270.9,277.1L271.2,277.5L271.6,278L272,278.5L272.5,279L273.1,279.5L273.7,280L274.2,280.5L274.6,281L274.9,281.4L275.3,281.9L275.6,282.2L275.8,282.6L275.9,283.1L275.9,283.5L275.7,284L275.4,284.5L275.1,284.9L274.6,285.5L274.1,286L273.6,286.5L273,287.1L272.3,287.7L271.6,288.3L270.9,288.9L270.3,289.4L269.9,289.8L269.3,289.8L268.9,289.4L268.3,288.9L267.6,288.3L266.9,287.7L266.2,287.1L265.6,286.5L265.1,286L264.6,285.5L264.1,284.9L263.7,284.5L263.4,284L263.3,283.5L263.3,283.1L263.4,282.6L263.6,282.2L263.9,281.9L264.2,281.4L264.6,281L265,280.5L265.5,280L266.1,279.5L266.6,279L267.2,278.5L267.6,278L267.9,277.5L268.2,277.1L268.5,276.6L268.7,276.1L268.9,275.6L269,275L269,274.3L269,273.4L268.9,272.6L268.8,271.7L268.7,270.8L268.6,270L268.5,269.3L268.5,268.6L268.4,267.9L268.4,267.3L268.4,266.7L268.4,266L268.4,265.3L268.5,264.6L268.7,263.9L268.8,263.3L268.9,262.6L269,262L269.1,261.4L269.2,260.8L269.2,260.3L269.3,259.8L269.3,259.4L269.4,259.1Z" fill="#3C9ADA" stroke="#333" stroke-width="0.3" stroke-linejoin="round"/>
<line x1="263.79" y1="282" x2="275.39" y2="282" stroke="#111" stroke-width="0.7"/>
<path d="M283.7,260.2L283.7,260.6L283.8,261.2L283.9,261.8L284,262.6L284.2,263.3L284.3,264L284.4,264.7L284.5,265.3L284.6,266L284.7,266.7L284.8,267.3L284.9,268L284.8,268.7L284.8,269.3L284.7,269.9L284.6,270.6L284.5,271.3L284.5,272L284.4,272.8L284.3,273.7L284.2,274.5L284.1,275.4L284.2,276.3L284.3,277L284.5,277.7L284.8,278.2L285.2,278.8L285.6,279.3L286,279.8L286.5,280.3L286.9,280.8L287.3,281.3L287.8,281.8L288.2,282.2L288.6,282.6L289,283L289.2,283.3L289.5,283.5L289.7,283.7L289.8,283.9L289.8,284.2L289.8,284.5L289.6,284.9L289.3,285.3L288.9,285.8L288.4,286.3L288,286.9L287.5,287.5L286.9,288.2L286.2,289.1L285.5,289.9L284.8,290.8L284.2,291.5L283.8,292L283.2,292L282.7,291.5L282.1,290.8L281.5,289.9L280.7,289.1L280,288.2L279.5,287.5L279,286.9L278.5,286.3L278,285.8L277.6,285.3L277.3,284.9L277.2,284.5L277.1,284.2L277.1,283.9L277.3,283.7L277.5,283.5L277.7,283.3L278,283L278.3,282.6L278.7,282.2L279.1,281.8L279.6,281.3L280,280.8L280.5,280.3L280.9,279.8L281.3,279.3L281.7,278.8L282.1,278.2L282.4,277.7L282.7,277L282.8,276.3L282.8,275.4L282.7,274.5L282.6,273.7L282.5,272.8L282.5,272L282.4,271.3L282.3,270.6L282.2,269.9L282.1,269.3L282.1,268.7L282.1,268L282.1,267.3L282.2,266.7L282.3,266L282.4,265.3L282.5,264.7L282.7,264L282.8,263.3L282.9,262.6L283,261.8L283.1,261.2L283.2,260.6L283.3,260.2Z" fill="#9A7FCB" stroke="#333" stroke-width="0.3" stroke-linejoin="round"/>
<line x1="277.16" y1="284.5" x2="289.76" y2="284.5" stroke="#111" stroke-width="0.7"/>
<path d="M297.5,262.3L297.6,262.7L297.7,263.3L297.8,264L297.9,264.7L298,265.4L298.1,266L298.2,266.5L298.4,267L298.5,267.5L298.6,268L298.7,268.5L298.7,269L298.7,269.6L298.7,270.2L298.6,270.8L298.5,271.5L298.4,272.2L298.3,273L298.3,273.9L298.2,274.9L298.1,276L298,277.1L298,278.1L298.1,279L298.4,279.7L298.7,280.4L299.1,280.9L299.5,281.4L299.9,281.9L300.3,282.4L300.7,282.9L301.2,283.4L301.7,283.8L302.1,284.2L302.5,284.6L302.8,285L303.1,285.3L303.3,285.6L303.5,285.8L303.7,286L303.7,286.3L303.6,286.6L303.4,287L303.1,287.4L302.8,287.9L302.3,288.4L301.8,289L301.3,289.5L300.8,290.1L300.1,290.8L299.3,291.4L298.6,292.1L298,292.6L297.6,293L297,293L296.6,292.6L296,292.1L295.3,291.4L294.6,290.8L293.9,290.1L293.3,289.5L292.8,289L292.3,288.4L291.9,287.9L291.5,287.4L291.2,287L291,286.6L291,286.3L291,286L291.1,285.8L291.3,285.6L291.6,285.3L291.8,285L292.2,284.6L292.5,284.2L293,283.8L293.5,283.4L293.9,282.9L294.3,282.4L294.7,281.9L295.2,281.4L295.6,280.9L296,280.4L296.3,279.7L296.5,279L296.6,278.1L296.6,277.1L296.6,276L296.5,274.9L296.4,273.9L296.3,273L296.3,272.2L296.2,271.5L296.1,270.8L296,270.2L295.9,269.6L295.9,269L296,268.5L296.1,268L296.2,267.5L296.3,267L296.4,266.5L296.5,266L296.6,265.4L296.8,264.7L296.9,264L297,263.3L297.1,262.7L297.1,262.3Z" fill="#B45AB3" stroke="#333" stroke-width="0.3" stroke-linejoin="round"/>
<line x1="290.97" y1="286.2" x2="303.69" y2="286.2" stroke="#111" stroke-width="0.7"/>
<path d="M311.4,257L311.5,257.2L311.6,257.5L311.7,257.9L311.8,258.2L312,258.6L312.2,259L312.5,259.3L312.8,259.7L313.1,260L313.5,260.4L313.8,260.8L314.2,261.3L314.6,261.8L315,262.4L315.5,263.1L315.9,263.7L316.3,264.4L316.6,265L316.8,265.6L317,266.2L317.1,266.9L317.2,267.5L317.2,268.1L317.2,268.7L317.1,269.3L316.9,269.9L316.6,270.4L316.4,271L316,271.5L315.7,272L315.3,272.5L314.8,273L314.3,273.4L313.8,273.8L313.4,274.2L313.2,274.6L313.1,274.9L313.2,275.1L313.4,275.3L313.6,275.5L313.9,275.7L314.2,276L314.5,276.3L315,276.7L315.4,277.2L315.9,277.6L316.3,278.1L316.6,278.5L316.8,278.9L317,279.4L317.2,279.9L317.3,280.3L317.3,280.8L317.2,281.3L317,281.8L316.8,282.3L316.5,282.9L316.1,283.4L315.7,284L315.2,284.5L314.7,285.1L314,285.7L313.3,286.3L312.7,286.9L312.1,287.4L311.7,287.7L310.7,287.7L310.3,287.4L309.7,286.9L309.1,286.3L308.4,285.7L307.7,285.1L307.2,284.5L306.7,284L306.3,283.4L305.9,282.9L305.6,282.3L305.4,281.8L305.2,281.3L305.1,280.8L305.1,280.3L305.2,279.9L305.4,279.4L305.6,278.9L305.8,278.5L306.1,278.1L306.5,277.6L307,277.2L307.4,276.7L307.9,276.3L308.2,276L308.5,275.7L308.8,275.5L309,275.3L309.2,275.1L309.3,274.9L309.2,274.6L309,274.2L308.6,273.8L308.1,273.4L307.6,273L307.1,272.5L306.7,272L306.4,271.5L306,271L305.8,270.4L305.5,269.9L305.3,269.3L305.2,268.7L305.2,268.1L305.2,267.5L305.3,266.9L305.4,266.2L305.6,265.6L305.8,265L306.1,264.4L306.5,263.7L306.9,263.1L307.4,262.4L307.8,261.8L308.2,261.3L308.6,260.8L308.9,260.4L309.3,260L309.6,259.7L309.9,259.3L310.2,259L310.4,258.6L310.6,258.2L310.7,257.9L310.8,257.5L310.9,257.2L311,257Z" fill="#E8559A" stroke="#333" stroke-width="0.3" stroke-linejoin="round"/>
<line x1="309.2" y1="274.6" x2="313.2" y2="274.6" stroke="#111" stroke-width="0.7"/>
<path d="M172.3,241.9V240.8H186.5V241.9" fill="none" stroke="#333" stroke-width="0.8"/>
<text x="179.5" y="240" font-size="5.6" fill="#222" text-anchor="middle" style="stroke-width:0.25px">****</text>
<path d="M172.3,235.5V234.4H214V235.5" fill="none" stroke="#333" stroke-width="0.8"/>
<text x="192.8" y="233.6" font-size="5.6" fill="#222" text-anchor="middle" style="stroke-width:0.25px">****</text>
<path d="M172.3,228.9V227.8H241.9V228.9" fill="none" stroke="#333" stroke-width="0.8"/>
<text x="206.3" y="227" font-size="5.6" fill="#222" text-anchor="middle" style="stroke-width:0.25px">****</text>
<path d="M172.3,222.3V221.2H255.7V222.3" fill="none" stroke="#333" stroke-width="0.8"/>
<text x="214" y="220.4" font-size="5.6" fill="#222" text-anchor="middle" style="stroke-width:0.25px">****</text>
<text x="436.5" y="204.6" font-size="8" fill="#222" text-anchor="middle" textLength="75.4" lengthAdjust="spacingAndGlyphs"><tspan font-style="italic">NAMPT</tspan> Healthy Cells</text>
<line x1="358.5" y1="219.6" x2="358.5" y2="299.8" stroke="#1a1a1a" stroke-width="0.95"/>
<line x1="356.3" y1="222.7" x2="358.5" y2="222.7" stroke="#222" stroke-width="0.7"/>
<text x="352.5" y="224.8" font-size="5.8" fill="#222" text-anchor="end">6</text>
<line x1="356.3" y1="238.8" x2="358.5" y2="238.8" stroke="#222" stroke-width="0.7"/>
<text x="352.5" y="240.9" font-size="5.8" fill="#222" text-anchor="end">4</text>
<line x1="356.3" y1="254.8" x2="358.5" y2="254.8" stroke="#222" stroke-width="0.7"/>
<text x="352.5" y="256.9" font-size="5.8" fill="#222" text-anchor="end">2</text>
<line x1="356.3" y1="270.8" x2="358.5" y2="270.8" stroke="#222" stroke-width="0.7"/>
<text x="352.5" y="272.9" font-size="5.8" fill="#222" text-anchor="end">0</text>
<line x1="356.3" y1="286.9" x2="358.5" y2="286.9" stroke="#222" stroke-width="0.7"/>
<text x="352.5" y="289" font-size="5.8" fill="#222" text-anchor="end">−2</text>
<line x1="358.1" y1="299.8" x2="509.4" y2="299.8" stroke="#1a1a1a" stroke-width="0.95"/>
<text x="0" y="0" font-size="7.4" fill="#222" text-anchor="middle" textLength="57.4" lengthAdjust="spacingAndGlyphs" transform="translate(340,259.3) rotate(-90)" style="stroke-width:0.32px">Scaled expression level</text>
<line x1="364.4" y1="299.8" x2="364.4" y2="302" stroke="#222" stroke-width="0.7"/>
<line x1="374.61" y1="299.8" x2="374.61" y2="302" stroke="#222" stroke-width="0.7"/>
<line x1="384.82" y1="299.8" x2="384.82" y2="302" stroke="#222" stroke-width="0.7"/>
<line x1="395.03" y1="299.8" x2="395.03" y2="302" stroke="#222" stroke-width="0.7"/>
<line x1="405.24" y1="299.8" x2="405.24" y2="302" stroke="#222" stroke-width="0.7"/>
<line x1="415.45" y1="299.8" x2="415.45" y2="302" stroke="#222" stroke-width="0.7"/>
<line x1="425.66" y1="299.8" x2="425.66" y2="302" stroke="#222" stroke-width="0.7"/>
<line x1="435.87" y1="299.8" x2="435.87" y2="302" stroke="#222" stroke-width="0.7"/>
<line x1="446.08" y1="299.8" x2="446.08" y2="302" stroke="#222" stroke-width="0.7"/>
<line x1="456.29" y1="299.8" x2="456.29" y2="302" stroke="#222" stroke-width="0.7"/>
<line x1="466.5" y1="299.8" x2="466.5" y2="302" stroke="#222" stroke-width="0.7"/>
<line x1="476.71" y1="299.8" x2="476.71" y2="302" stroke="#222" stroke-width="0.7"/>
<line x1="486.92" y1="299.8" x2="486.92" y2="302" stroke="#222" stroke-width="0.7"/>
<line x1="497.13" y1="299.8" x2="497.13" y2="302" stroke="#222" stroke-width="0.7"/>
<line x1="507.34" y1="299.8" x2="507.34" y2="302" stroke="#222" stroke-width="0.7"/>
<text x="0" y="0" font-size="6.1" fill="#2a2a2a" text-anchor="end" transform="translate(364.5,309.3) rotate(-45)">HSC/Prog−like</text>
<text x="0" y="0" font-size="6.1" fill="#2a2a2a" text-anchor="end" transform="translate(374.71,309.3) rotate(-45)">Erythroid Cells</text>
<text x="0" y="0" font-size="6.1" fill="#2a2a2a" text-anchor="end" transform="translate(384.92,309.3) rotate(-45)">Neutrophils</text>
<text x="0" y="0" font-size="6.1" fill="#2a2a2a" text-anchor="end" transform="translate(395.13,309.3) rotate(-45)">Classical Monocytes</text>
<text x="0" y="0" font-size="6.1" fill="#2a2a2a" text-anchor="end" transform="translate(405.34,309.3) rotate(-45)">Intermediate Monocytes</text>
<text x="0" y="0" font-size="6.1" fill="#2a2a2a" text-anchor="end" transform="translate(415.55,309.3) rotate(-45)">Non−classical monocytes</text>
<text x="0" y="0" font-size="6.1" fill="#2a2a2a" text-anchor="end" transform="translate(425.76,309.3) rotate(-45)">mDC</text>
<text x="0" y="0" font-size="6.1" fill="#2a2a2a" text-anchor="end" transform="translate(435.97,309.3) rotate(-45)">pDC</text>
<text x="0" y="0" font-size="6.1" fill="#2a2a2a" text-anchor="end" transform="translate(446.18,309.3) rotate(-45)">Pro−B Cells</text>
<text x="0" y="0" font-size="6.1" fill="#2a2a2a" text-anchor="end" transform="translate(456.39,309.3) rotate(-45)">Pre−B Cells</text>
<text x="0" y="0" font-size="6.1" fill="#2a2a2a" text-anchor="end" transform="translate(466.6,309.3) rotate(-45)">Naive B Cells</text>
<text x="0" y="0" font-size="6.1" fill="#2a2a2a" text-anchor="end" transform="translate(476.81,309.3) rotate(-45)">B Cells</text>
<text x="0" y="0" font-size="6.1" fill="#2a2a2a" text-anchor="end" transform="translate(487.02,309.3) rotate(-45)">CD4+ T Cells</text>
<text x="0" y="0" font-size="6.1" fill="#2a2a2a" text-anchor="end" transform="translate(497.23,309.3) rotate(-45)">CD8+ T Cells</text>
<text x="0" y="0" font-size="6.1" fill="#2a2a2a" text-anchor="end" transform="translate(507.44,309.3) rotate(-45)">NK Cells</text>
<path d="M364.7,245.7L364.7,246.7L364.7,248.1L364.7,249.8L364.7,251.5L364.8,253L364.8,254.2L364.8,255L364.9,255.5L365,255.8L365,256.1L365.1,256.5L365.1,257L365.1,257.7L365.1,258.6L365.1,259.4L365.1,260.4L365,261.2L365,262L365,262.7L364.9,263.3L364.8,263.8L364.8,264.3L364.7,264.9L364.7,265.6L364.7,266.4L364.6,267.3L364.6,268.2L364.6,269.1L364.7,269.9L364.9,270.6L365.2,271.1L365.6,271.5L366.1,271.8L366.6,272L367,272.2L367.4,272.5L367.7,272.8L368,273.1L368.3,273.3L368.5,273.6L368.7,273.9L368.7,274.2L368.6,274.6L368.3,274.9L368,275.3L367.6,275.7L367.2,276.1L366.9,276.5L366.6,276.7L366.2,276.8L365.8,276.9L365.4,277.1L365.1,277.5L364.9,278.4L364.8,279.9L364.7,281.9L364.7,284.2L364.7,286.5L364.7,288.4L364.7,289.8L364.1,289.8L364.1,288.4L364.1,286.5L364.1,284.2L364.1,281.9L364,279.9L363.9,278.4L363.7,277.5L363.4,277.1L363,276.9L362.6,276.8L362.2,276.7L361.9,276.5L361.6,276.1L361.2,275.7L360.8,275.3L360.5,274.9L360.2,274.6L360.1,274.2L360.1,273.9L360.3,273.6L360.5,273.3L360.8,273.1L361.1,272.8L361.4,272.5L361.8,272.2L362.2,272L362.7,271.8L363.2,271.5L363.6,271.1L363.9,270.6L364.1,269.9L364.2,269.1L364.2,268.2L364.2,267.3L364.1,266.4L364.1,265.6L364.1,264.9L364,264.3L364,263.8L363.9,263.3L363.8,262.7L363.8,262L363.8,261.2L363.7,260.4L363.7,259.4L363.7,258.6L363.7,257.7L363.7,257L363.7,256.5L363.8,256.1L363.8,255.8L363.9,255.5L364,255L364,254.2L364,253L364.1,251.5L364.1,249.8L364.1,248.1L364.1,246.7L364.1,245.7Z" fill="#F0727A" stroke="#555" stroke-width="0.3" stroke-linejoin="round"/>
<path d="M374.9,246.4L374.9,247L375,247.8L375.1,248.8L375.1,249.9L375.2,251L375.2,252L375.2,253L375.3,253.9L375.3,254.8L375.3,255.8L375.3,256.9L375.3,258L375.3,259.2L375.2,260.6L375.2,262L375.1,263.5L375,264.8L375,266L375,267.1L374.9,268.1L374.9,269.1L374.9,269.9L375,270.7L375.2,271.3L375.6,271.7L376,272L376.6,272.2L377.2,272.3L377.7,272.4L378.1,272.5L378.4,272.6L378.7,272.8L378.9,272.9L379,273L379.1,273.1L379.1,273.2L379,273.3L378.8,273.5L378.6,273.7L378.3,273.9L377.9,274.1L377.6,274.3L377.2,274.6L376.8,274.9L376.3,275.3L375.8,275.7L375.4,276L375.1,276.3L374.9,276.5L374.9,276.7L374.9,276.8L374.9,276.9L374.9,276.9L374.9,277L374.3,277L374.3,276.9L374.3,276.9L374.4,276.8L374.4,276.7L374.3,276.5L374.1,276.3L373.8,276L373.4,275.7L372.9,275.3L372.5,274.9L372,274.6L371.6,274.3L371.3,274.1L370.9,273.9L370.6,273.7L370.4,273.5L370.2,273.3L370.1,273.2L370.1,273.1L370.2,273L370.3,272.9L370.5,272.8L370.8,272.6L371.1,272.5L371.5,272.4L372,272.3L372.6,272.2L373.2,272L373.7,271.7L374,271.3L374.2,270.7L374.3,269.9L374.3,269.1L374.3,268.1L374.2,267.1L374.2,266L374.2,264.8L374.1,263.5L374.1,262L374,260.6L373.9,259.2L373.9,258L373.9,256.9L373.9,255.8L373.9,254.8L373.9,253.9L374,253L374,252L374.1,251L374.1,249.9L374.2,248.8L374.2,247.8L374.3,247L374.3,246.4Z" fill="#E08B20" stroke="#555" stroke-width="0.3" stroke-linejoin="round"/>
<path d="M385.1,245.7L385.2,245.9L385.2,246.2L385.3,246.5L385.4,247L385.5,247.4L385.6,248L385.8,248.7L385.9,249.4L386.1,250.2L386.3,251.1L386.4,251.9L386.5,252.8L386.5,253.6L386.4,254.5L386.3,255.3L386.2,256.2L386.1,257.1L386,258L385.9,259L385.9,260L385.8,261.1L385.7,262.1L385.7,263.1L385.7,264L385.8,264.8L385.8,265.5L385.9,266.1L386,266.7L386.1,267.2L386.3,267.8L386.6,268.4L386.9,268.9L387.3,269.4L387.6,270L388,270.5L388.3,271L388.6,271.5L389,272.1L389.3,272.6L389.6,273.1L389.7,273.7L389.8,274.2L389.8,274.7L389.6,275.3L389.3,275.9L389,276.4L388.7,277L388.3,277.5L387.9,278L387.5,278.6L387,279.1L386.6,279.6L386.1,280.1L385.8,280.6L385.6,281.1L385.4,281.7L385.3,282.2L385.2,282.7L385.2,283.1L385.1,283.4L384.5,283.4L384.5,283.1L384.4,282.7L384.3,282.2L384.2,281.7L384,281.1L383.8,280.6L383.5,280.1L383.1,279.6L382.6,279.1L382.1,278.6L381.7,278L381.3,277.5L381,277L380.6,276.4L380.3,275.9L380.1,275.3L379.9,274.7L379.8,274.2L379.9,273.7L380.1,273.1L380.4,272.6L380.7,272.1L381,271.5L381.3,271L381.6,270.5L382,270L382.4,269.4L382.7,268.9L383.1,268.4L383.3,267.8L383.5,267.2L383.7,266.7L383.8,266.1L383.8,265.5L383.9,264.8L383.9,264L383.9,263.1L383.9,262.1L383.8,261.1L383.8,260L383.7,259L383.6,258L383.5,257.1L383.4,256.2L383.3,255.3L383.2,254.5L383.1,253.6L383.1,252.8L383.2,251.9L383.3,251.1L383.5,250.2L383.7,249.4L383.9,248.7L384,248L384.1,247.4L384.2,247L384.3,246.5L384.4,246.2L384.5,245.9L384.5,245.7Z" fill="#C89A12" stroke="#555" stroke-width="0.3" stroke-linejoin="round"/>
<path d="M395.2,242.1L395.4,242.4L395.5,242.7L395.8,243.1L396,243.6L396.3,244L396.5,244.5L396.8,245L397.2,245.4L397.5,245.9L397.9,246.5L398.2,247L398.5,247.5L398.8,248L399.1,248.5L399.4,249.1L399.7,249.6L399.9,250.2L400,250.7L400.1,251.2L400,251.8L399.9,252.3L399.7,252.9L399.5,253.4L399.3,254L399.1,254.6L398.8,255.2L398.5,255.8L398.1,256.4L397.8,256.9L397.5,257.5L397.2,258L396.9,258.6L396.6,259.1L396.4,259.6L396.2,260.1L396,260.6L396,261L396,261.3L396.1,261.6L396.2,261.9L396.3,262.4L396.3,263L396.4,263.9L396.4,264.9L396.4,266.1L396.4,267.3L396.5,268.3L396.6,269.2L396.8,269.8L397,270.2L397.3,270.6L397.6,270.8L397.8,271.1L398,271.5L398.2,271.9L398.5,272.3L398.7,272.8L398.9,273.2L399,273.7L399,274.2L398.9,274.7L398.7,275.2L398.4,275.8L398.1,276.3L397.8,276.9L397.5,277.5L397.2,278.1L396.9,278.8L396.6,279.4L396.3,280.1L396.1,280.7L395.8,281.3L395.7,281.8L395.5,282.4L395.4,282.9L395.3,283.3L395.3,283.7L395.2,284L394.8,284L394.8,283.7L394.7,283.3L394.6,282.9L394.5,282.4L394.4,281.8L394.2,281.3L394,280.7L393.7,280.1L393.4,279.4L393.1,278.8L392.8,278.1L392.5,277.5L392.2,276.9L391.9,276.3L391.6,275.8L391.3,275.2L391.1,274.7L391,274.2L391,273.7L391.2,273.2L391.3,272.8L391.6,272.3L391.8,271.9L392,271.5L392.3,271.1L392.5,270.8L392.8,270.6L393,270.2L393.3,269.8L393.4,269.2L393.5,268.3L393.6,267.3L393.6,266.1L393.7,264.9L393.7,263.9L393.7,263L393.8,262.4L393.9,261.9L394,261.6L394.1,261.3L394.1,261L394,260.6L393.9,260.1L393.7,259.6L393.4,259.1L393.1,258.6L392.8,258L392.5,257.5L392.2,256.9L391.9,256.4L391.6,255.8L391.3,255.2L391,254.6L390.7,254L390.5,253.4L390.3,252.9L390.2,252.3L390.1,251.8L390,251.2L390,250.7L390.1,250.2L390.3,249.6L390.6,249.1L390.9,248.5L391.2,248L391.5,247.5L391.8,247L392.2,246.5L392.5,245.9L392.9,245.4L393.2,245L393.5,244.5L393.8,244L394.1,243.6L394.3,243.1L394.5,242.7L394.7,242.4L394.8,242.1Z" fill="#A9A216" stroke="#555" stroke-width="0.3" stroke-linejoin="round"/>
<path d="M405.4,246.4L405.5,246.6L405.7,246.8L405.8,247L406,247.3L406.2,247.7L406.4,248L406.7,248.4L407,248.7L407.3,249.1L407.6,249.5L407.9,250L408.2,250.5L408.6,251.1L408.9,251.7L409.3,252.3L409.6,253L409.8,253.6L409.9,254.2L409.9,254.7L409.8,255.2L409.6,255.7L409.3,256.1L409,256.6L408.7,257L408.4,257.4L408,257.8L407.6,258.2L407.1,258.5L406.7,258.9L406.4,259.2L406.2,259.4L406,259.5L405.9,259.6L405.8,259.8L405.7,260.2L405.6,261L405.6,262.3L405.6,264L405.6,266L405.6,268L405.7,269.7L405.7,271L405.8,271.8L405.9,272.2L406,272.5L406.1,272.6L406.2,272.7L406.2,273L406.3,273.4L406.4,273.8L406.5,274.3L406.6,274.7L406.6,275.2L406.6,275.6L406.6,276L406.5,276.4L406.4,276.8L406.3,277.1L406.2,277.6L406,278L405.9,278.5L405.8,279.2L405.7,279.8L405.6,280.4L405.5,280.9L405.4,281.3L405,281.3L405,280.9L404.9,280.4L404.8,279.8L404.7,279.2L404.5,278.5L404.4,278L404.3,277.6L404.2,277.1L404.1,276.8L404,276.4L403.9,276L403.8,275.6L403.8,275.2L403.9,274.7L404,274.3L404.1,273.8L404.2,273.4L404.2,273L404.3,272.7L404.4,272.6L404.5,272.5L404.6,272.2L404.7,271.8L404.7,271L404.8,269.7L404.8,268L404.9,266L404.9,264L404.9,262.3L404.8,261L404.8,260.2L404.7,259.8L404.6,259.6L404.5,259.5L404.3,259.4L404,259.2L403.7,258.9L403.3,258.5L402.9,258.2L402.5,257.8L402.1,257.4L401.7,257L401.4,256.6L401.2,256.1L400.9,255.7L400.7,255.2L400.6,254.7L400.5,254.2L400.7,253.6L400.9,253L401.2,252.3L401.6,251.7L401.9,251.1L402.2,250.5L402.5,250L402.9,249.5L403.2,249.1L403.5,248.7L403.8,248.4L404,248L404.3,247.7L404.5,247.3L404.7,247L404.8,246.8L404.9,246.6L405,246.4Z" fill="#7CBB26" stroke="#555" stroke-width="0.3" stroke-linejoin="round"/>
<path d="M415.6,244.3L415.8,244.5L416,244.7L416.2,245L416.4,245.3L416.7,245.6L416.9,246L417.3,246.4L417.6,246.9L418,247.4L418.3,247.9L418.7,248.5L418.9,249L419.2,249.5L419.5,250L419.8,250.5L420,251L420.1,251.6L420.1,252.1L420.1,252.7L419.9,253.2L419.6,253.8L419.3,254.4L419,255L418.6,255.5L418.3,256L417.9,256.4L417.5,256.8L417.1,257.2L416.7,257.6L416.4,258L416.2,258.3L416.1,258.4L416,258.5L415.9,258.8L415.9,259.2L415.8,260L415.8,261.3L415.8,263L415.8,265L415.8,267L415.9,268.7L415.9,270L416,270.8L416.1,271.3L416.3,271.5L416.4,271.6L416.5,271.7L416.6,272L416.8,272.3L416.9,272.7L417,273L417.1,273.4L417.1,273.8L417.1,274.2L417.1,274.6L417,275.1L416.9,275.5L416.7,276L416.6,276.5L416.4,277L416.3,277.5L416.2,278L416.1,278.6L416,279.1L415.9,279.6L415.8,280L415.8,280.4L415.7,280.7L415.7,280.9L415.7,281.2L415.7,281.4L415.6,281.5L415.2,281.5L415.2,281.4L415.2,281.2L415.2,280.9L415.2,280.7L415.1,280.4L415.1,280L415,279.6L414.9,279.1L414.8,278.6L414.7,278L414.6,277.5L414.4,277L414.3,276.5L414.2,276L414,275.5L413.9,275.1L413.8,274.6L413.8,274.2L413.8,273.8L413.8,273.4L413.9,273L414,272.7L414.1,272.3L414.2,272L414.4,271.7L414.5,271.6L414.6,271.5L414.8,271.3L414.9,270.8L414.9,270L415,268.7L415.1,267L415.1,265L415.1,263L415.1,261.3L415.1,260L415,259.2L415,258.8L414.9,258.5L414.8,258.4L414.7,258.3L414.4,258L414.2,257.6L413.8,257.2L413.4,256.8L413,256.4L412.6,256L412.2,255.5L411.9,255L411.6,254.4L411.3,253.8L411,253.2L410.8,252.7L410.8,252.1L410.8,251.6L410.9,251L411.1,250.5L411.4,250L411.7,249.5L411.9,249L412.2,248.5L412.6,247.9L412.9,247.4L413.3,246.9L413.6,246.4L413.9,246L414.2,245.6L414.5,245.3L414.7,245L414.9,244.7L415.1,244.5L415.2,244.3Z" fill="#2CAF3C" stroke="#555" stroke-width="0.3" stroke-linejoin="round"/>
<path d="M425.9,249.2L426,249.4L426.2,249.6L426.4,249.9L426.6,250.2L426.9,250.6L427.2,251L427.5,251.4L427.9,251.9L428.3,252.4L428.7,252.9L429.1,253.4L429.5,254L429.8,254.6L430,255.2L430.3,255.9L430.5,256.5L430.6,257.2L430.7,257.8L430.6,258.4L430.5,259.1L430.3,259.7L430,260.3L429.8,260.9L429.5,261.5L429.1,262.1L428.7,262.6L428.3,263.1L427.8,263.6L427.5,264.1L427.2,264.5L426.9,264.9L426.8,265.2L426.6,265.5L426.5,265.7L426.5,266L426.5,266.3L426.5,266.6L426.6,267L426.7,267.3L426.9,267.7L427.1,268.1L427.3,268.5L427.5,269L427.7,269.6L428,270.2L428.2,270.8L428.5,271.4L428.7,272L428.8,272.6L429,273.2L429.1,273.8L429.2,274.4L429.3,275L429.3,275.6L429.2,276.2L429,276.9L428.9,277.6L428.6,278.2L428.4,278.9L428.2,279.5L427.9,280.1L427.6,280.7L427.3,281.3L427,281.9L426.7,282.5L426.5,283L426.3,283.5L426.2,284L426.1,284.5L426,284.9L425.9,285.2L425.9,285.5L425.5,285.5L425.4,285.2L425.3,284.9L425.3,284.5L425.2,284L425,283.5L424.9,283L424.6,282.5L424.4,281.9L424,281.3L423.7,280.7L423.4,280.1L423.2,279.5L422.9,278.9L422.7,278.2L422.5,277.6L422.3,276.9L422.1,276.2L422.1,275.6L422.1,275L422.1,274.4L422.2,273.8L422.3,273.2L422.5,272.6L422.7,272L422.9,271.4L423.1,270.8L423.3,270.2L423.6,269.6L423.9,269L424.1,268.5L424.2,268.1L424.4,267.7L424.6,267.3L424.7,267L424.8,266.6L424.9,266.3L424.8,266L424.8,265.7L424.7,265.5L424.6,265.2L424.4,264.9L424.2,264.5L423.9,264.1L423.5,263.6L423,263.1L422.6,262.6L422.2,262.1L421.9,261.5L421.6,260.9L421.3,260.3L421,259.7L420.8,259.1L420.7,258.4L420.7,257.8L420.7,257.2L420.8,256.5L421,255.9L421.3,255.2L421.6,254.6L421.9,254L422.2,253.4L422.6,252.9L423,252.4L423.4,251.9L423.8,251.4L424.2,251L424.4,250.6L424.7,250.2L425,249.9L425.2,249.6L425.3,249.4L425.5,249.2Z" fill="#1FA96E" stroke="#555" stroke-width="0.3" stroke-linejoin="round"/>
<line x1="435.87" y1="249.2" x2="435.87" y2="282.9" stroke="#9a9a9a" stroke-width="0.6"/>
<path d="M436.1,271.2L436.4,273L438.1,273.9L440.2,274.6L438.1,275.3L436.4,276.2L436.1,278L435.7,278L435.4,276.2L433.7,275.3L431.6,274.6L433.7,273.9L435.4,273L435.7,271.2Z" fill="#3AA88A" stroke="#777" stroke-width="0.25" stroke-linejoin="round"/>
<line x1="446.08" y1="249.2" x2="446.08" y2="281.9" stroke="#9a9a9a" stroke-width="0.6"/>
<path d="M446.3,271.2L446.6,273L448.3,273.9L450.4,274.6L448.3,275.3L446.6,276.2L446.3,278L445.9,278L445.6,276.2L443.9,275.3L441.8,274.6L443.9,273.9L445.6,273L445.9,271.2Z" fill="#26B0B8" stroke="#777" stroke-width="0.25" stroke-linejoin="round"/>
<line x1="456.29" y1="250.2" x2="456.29" y2="282.9" stroke="#9a9a9a" stroke-width="0.6"/>
<path d="M456.5,271.2L456.8,273L458.5,273.9L460.6,274.6L458.5,275.3L456.8,276.2L456.5,278L456.1,278L455.8,276.2L454.1,275.3L452,274.6L454.1,273.9L455.8,273L456.1,271.2Z" fill="#4F7E80" stroke="#777" stroke-width="0.25" stroke-linejoin="round"/>
<line x1="466.5" y1="250.2" x2="466.5" y2="281" stroke="#9a9a9a" stroke-width="0.6"/>
<path d="M466.7,271.2L467,273L468.7,273.9L470.8,274.6L468.7,275.3L467,276.2L466.7,278L466.3,278L466,276.2L464.3,275.3L462.2,274.6L464.3,273.9L466,273L466.3,271.2Z" fill="#6A80C0" stroke="#777" stroke-width="0.25" stroke-linejoin="round"/>
<line x1="476.71" y1="249.2" x2="476.71" y2="280" stroke="#9a9a9a" stroke-width="0.6"/>
<path d="M476.9,271.2L477.2,273L478.9,273.9L481,274.6L478.9,275.3L477.2,276.2L476.9,278L476.5,278L476.2,276.2L474.5,275.3L472.4,274.6L474.5,273.9L476.2,273L476.5,271.2Z" fill="#7A6A98" stroke="#777" stroke-width="0.25" stroke-linejoin="round"/>
<line x1="486.92" y1="248.3" x2="486.92" y2="283.8" stroke="#9a9a9a" stroke-width="0.6"/>
<path d="M487.1,271.2L487.4,273L489.1,273.9L491.2,274.6L489.1,275.3L487.4,276.2L487.1,278L486.7,278L486.4,276.2L484.7,275.3L482.6,274.6L484.7,273.9L486.4,273L486.7,271.2Z" fill="#A05AA0" stroke="#777" stroke-width="0.25" stroke-linejoin="round"/>
<line x1="497.13" y1="249.2" x2="497.13" y2="281" stroke="#9a9a9a" stroke-width="0.6"/>
<path d="M497.3,271.2L497.6,273L499.3,273.9L501.4,274.6L499.3,275.3L497.6,276.2L497.3,278L496.9,278L496.6,276.2L494.9,275.3L492.8,274.6L494.9,273.9L496.6,273L496.9,271.2Z" fill="#D04C98" stroke="#777" stroke-width="0.25" stroke-linejoin="round"/>
<line x1="507.34" y1="248.3" x2="507.34" y2="289.6" stroke="#9a9a9a" stroke-width="0.6"/>
<path d="M507.5,271.2L507.8,273L509.5,273.9L511.6,274.6L509.5,275.3L507.8,276.2L507.5,278L507.1,278L506.8,276.2L505.1,275.3L503,274.6L505.1,273.9L506.8,273L507.1,271.2Z" fill="#E05078" stroke="#777" stroke-width="0.25" stroke-linejoin="round"/>
<path d="M364.2,242.6V241.5H374.8V242.6" fill="none" stroke="#333" stroke-width="0.8"/>
<text x="369.4" y="240.7" font-size="5.6" fill="#222" text-anchor="middle" style="stroke-width:0.25px">****</text>
<path d="M364.2,235.7V234.6H385.2V235.7" fill="none" stroke="#333" stroke-width="0.8"/>
<text x="375.2" y="233.8" font-size="5.6" fill="#222" text-anchor="middle" style="stroke-width:0.25px">****</text>
<path d="M364.2,229.1V228H395.4V229.1" fill="none" stroke="#333" stroke-width="0.8"/>
<text x="380.4" y="227.2" font-size="5.6" fill="#222" text-anchor="middle" style="stroke-width:0.25px">****</text>
<path d="M364.2,222.4V221.3H405.4V222.4" fill="none" stroke="#333" stroke-width="0.8"/>
<text x="384.8" y="220.5" font-size="5.6" fill="#222" text-anchor="middle" style="stroke-width:0.25px">****</text>
<path d="M364.2,215.7V214.6H415.6V215.7" fill="none" stroke="#333" stroke-width="0.8"/>
<text x="390" y="213.8" font-size="5.6" fill="#222" text-anchor="middle" style="stroke-width:0.25px">****</text>
<text x="180.4" y="400.8" font-size="8" fill="#222" text-anchor="middle" textLength="58.4" lengthAdjust="spacingAndGlyphs"><tspan font-style="italic">BCL2</tspan> AML Cells</text>
<line x1="102.7" y1="421.9" x2="102.7" y2="501.4" stroke="#1a1a1a" stroke-width="0.95"/>
<line x1="100.5" y1="425.4" x2="102.7" y2="425.4" stroke="#222" stroke-width="0.7"/>
<text x="96.7" y="427.5" font-size="5.8" fill="#222" text-anchor="end">6</text>
<line x1="100.5" y1="441.7" x2="102.7" y2="441.7" stroke="#222" stroke-width="0.7"/>
<text x="96.7" y="443.8" font-size="5.8" fill="#222" text-anchor="end">4</text>
<line x1="100.5" y1="458" x2="102.7" y2="458" stroke="#222" stroke-width="0.7"/>
<text x="96.7" y="460.1" font-size="5.8" fill="#222" text-anchor="end">2</text>
<line x1="100.5" y1="474.2" x2="102.7" y2="474.2" stroke="#222" stroke-width="0.7"/>
<text x="96.7" y="476.3" font-size="5.8" fill="#222" text-anchor="end">0</text>
<line x1="100.5" y1="490.4" x2="102.7" y2="490.4" stroke="#222" stroke-width="0.7"/>
<text x="96.7" y="492.5" font-size="5.8" fill="#222" text-anchor="end">−2</text>
<line x1="102.3" y1="501.4" x2="257" y2="501.4" stroke="#1a1a1a" stroke-width="0.95"/>
<text x="0" y="0" font-size="7.4" fill="#222" text-anchor="middle" textLength="56.6" lengthAdjust="spacingAndGlyphs" transform="translate(85.4,461.6) rotate(-90)" style="stroke-width:0.32px">Scaled expression level</text>
<line x1="110.9" y1="501.4" x2="110.9" y2="503.6" stroke="#222" stroke-width="0.7"/>
<line x1="124.77" y1="501.4" x2="124.77" y2="503.6" stroke="#222" stroke-width="0.7"/>
<line x1="138.64" y1="501.4" x2="138.64" y2="503.6" stroke="#222" stroke-width="0.7"/>
<line x1="152.51" y1="501.4" x2="152.51" y2="503.6" stroke="#222" stroke-width="0.7"/>
<line x1="166.38" y1="501.4" x2="166.38" y2="503.6" stroke="#222" stroke-width="0.7"/>
<line x1="180.25" y1="501.4" x2="180.25" y2="503.6" stroke="#222" stroke-width="0.7"/>
<line x1="194.12" y1="501.4" x2="194.12" y2="503.6" stroke="#222" stroke-width="0.7"/>
<line x1="207.99" y1="501.4" x2="207.99" y2="503.6" stroke="#222" stroke-width="0.7"/>
<line x1="221.86" y1="501.4" x2="221.86" y2="503.6" stroke="#222" stroke-width="0.7"/>
<line x1="235.73" y1="501.4" x2="235.73" y2="503.6" stroke="#222" stroke-width="0.7"/>
<line x1="249.6" y1="501.4" x2="249.6" y2="503.6" stroke="#222" stroke-width="0.7"/>
<text x="0" y="0" font-size="6.1" fill="#2a2a2a" text-anchor="end" transform="translate(111,510.9) rotate(-45)">HSC/Prog−like</text>
<text x="0" y="0" font-size="6.1" fill="#2a2a2a" text-anchor="end" transform="translate(124.87,510.9) rotate(-45)">HSC/MPP Cells</text>
<text x="0" y="0" font-size="6.1" fill="#2a2a2a" text-anchor="end" transform="translate(138.74,510.9) rotate(-45)">GMP−like/Granulocytes</text>
<text x="0" y="0" font-size="6.1" fill="#2a2a2a" text-anchor="end" transform="translate(152.61,510.9) rotate(-45)">Erythroid Precursor Cells</text>
<text x="0" y="0" font-size="6.1" fill="#2a2a2a" text-anchor="end" transform="translate(166.48,510.9) rotate(-45)">Neutrophils</text>
<text x="0" y="0" font-size="6.1" fill="#2a2a2a" text-anchor="end" transform="translate(180.35,510.9) rotate(-45)">Classical Monocytes</text>
<text x="0" y="0" font-size="6.1" fill="#2a2a2a" text-anchor="end" transform="translate(194.22,510.9) rotate(-45)">Non−classical Monocytes</text>
<text x="0" y="0" font-size="6.1" fill="#2a2a2a" text-anchor="end" transform="translate(208.09,510.9) rotate(-45)">CD4+ T Cells</text>
<text x="0" y="0" font-size="6.1" fill="#2a2a2a" text-anchor="end" transform="translate(221.96,510.9) rotate(-45)">NK Cells</text>
<text x="0" y="0" font-size="6.1" fill="#2a2a2a" text-anchor="end" transform="translate(235.83,510.9) rotate(-45)">Pre−B Cells</text>
<text x="0" y="0" font-size="6.1" fill="#2a2a2a" text-anchor="end" transform="translate(249.7,510.9) rotate(-45)">B Cells</text>
<line x1="180.25" y1="453.3" x2="180.25" y2="489" stroke="#8a8a8a" stroke-width="0.6"/>
<line x1="194.12" y1="459" x2="194.12" y2="490.4" stroke="#8a8a8a" stroke-width="0.6"/>
<path d="M111.2,446.7L111.2,447.1L111.3,447.6L111.3,448.2L111.4,448.8L111.5,449.4L111.6,450L111.7,450.5L111.8,451L112,451.5L112.1,452L112.3,452.5L112.5,453L112.7,453.6L113,454.1L113.2,454.8L113.5,455.4L113.7,455.9L113.9,456.5L114.1,457L114.2,457.5L114.4,458L114.5,458.5L114.6,459L114.7,459.5L114.7,460L114.8,460.5L114.7,461L114.7,461.5L114.6,462L114.5,462.5L114.3,463L114.1,463.5L113.8,464L113.6,464.5L113.3,465L113.1,465.5L112.9,465.9L112.7,466.4L112.4,466.8L112.3,467.1L112.2,467.5L112.2,467.9L112.4,468.3L112.6,468.6L113,468.9L113.4,469.3L113.7,469.6L114.1,470L114.4,470.4L114.8,470.8L115.2,471.2L115.5,471.7L115.8,472.1L116.1,472.5L116.3,472.9L116.5,473.3L116.6,473.7L116.7,474.1L116.7,474.5L116.7,475L116.6,475.5L116.5,476.1L116.4,476.7L116.2,477.3L115.9,477.9L115.7,478.5L115.4,479.1L115.1,479.7L114.7,480.3L114.4,480.9L114,481.5L113.7,482L113.4,482.5L113.1,482.9L112.8,483.3L112.6,483.7L112.3,484.1L112.1,484.5L111.9,484.9L111.7,485.4L111.6,485.9L111.4,486.4L111.3,486.7L111.2,487L110.6,487L110.5,486.7L110.4,486.4L110.2,485.9L110.1,485.4L109.9,484.9L109.7,484.5L109.5,484.1L109.2,483.7L109,483.3L108.7,482.9L108.4,482.5L108.1,482L107.8,481.5L107.4,480.9L107.1,480.3L106.7,479.7L106.4,479.1L106.1,478.5L105.9,477.9L105.6,477.3L105.4,476.7L105.3,476.1L105.2,475.5L105.1,475L105.1,474.5L105.1,474.1L105.2,473.7L105.3,473.3L105.5,472.9L105.7,472.5L106,472.1L106.3,471.7L106.6,471.2L107,470.8L107.4,470.4L107.7,470L108.1,469.6L108.4,469.3L108.8,468.9L109.2,468.6L109.4,468.3L109.6,467.9L109.6,467.5L109.5,467.1L109.4,466.8L109.1,466.4L108.9,465.9L108.7,465.5L108.5,465L108.2,464.5L108,464L107.7,463.5L107.5,463L107.3,462.5L107.2,462L107.1,461.5L107.1,461L107,460.5L107.1,460L107.1,459.5L107.2,459L107.3,458.5L107.4,458L107.6,457.5L107.7,457L107.9,456.5L108.1,455.9L108.3,455.4L108.6,454.8L108.8,454.1L109.1,453.6L109.3,453L109.5,452.5L109.7,452L109.8,451.5L110,451L110.1,450.5L110.2,450L110.3,449.4L110.4,448.8L110.5,448.2L110.5,447.6L110.6,447.1L110.6,446.7Z" fill="#F2776E" stroke="#333" stroke-width="0.3" stroke-linejoin="round"/>
<line x1="107.89" y1="469.8" x2="113.91" y2="469.8" stroke="#111" stroke-width="0.7"/>
<path d="M125.1,455.4L125.1,455.7L125.3,456L125.4,456.4L125.5,456.9L125.7,457.5L125.8,458L125.9,458.6L126,459.2L126.1,459.9L126.2,460.6L126.2,461.3L126.3,462L126.2,462.7L126.2,463.3L126.1,464L126,464.7L125.9,465.3L126,466L126.1,466.7L126.2,467.3L126.4,468L126.7,468.7L127,469.3L127.3,469.8L127.6,470.3L128.1,470.7L128.6,471L129,471.4L129.4,471.7L129.8,472L130,472.3L130.2,472.6L130.4,472.8L130.5,473.1L130.6,473.4L130.6,473.7L130.5,474L130.4,474.4L130.2,474.8L129.9,475.2L129.6,475.6L129.3,476L128.8,476.4L128.3,476.8L127.7,477.2L127.2,477.6L126.7,478L126.3,478.5L126,479L125.8,479.6L125.7,480.1L125.6,480.7L125.5,481.4L125.4,482L125.3,482.7L125.2,483.5L125.1,484.3L125.1,485.1L125,485.7L125,486.2L124.6,486.2L124.5,485.7L124.5,485.1L124.4,484.3L124.4,483.5L124.3,482.7L124.2,482L124.1,481.4L124,480.7L123.9,480.1L123.7,479.6L123.5,479L123.3,478.5L122.9,478L122.4,477.6L121.8,477.2L121.2,476.8L120.7,476.4L120.3,476L119.9,475.6L119.6,475.2L119.4,474.8L119.2,474.4L119,474L119,473.7L119,473.4L119,473.1L119.1,472.8L119.3,472.6L119.5,472.3L119.8,472L120.1,471.7L120.5,471.4L121,471L121.5,470.7L121.9,470.3L122.3,469.8L122.6,469.3L122.9,468.7L123.1,468L123.3,467.3L123.5,466.7L123.6,466L123.6,465.3L123.6,464.7L123.5,464L123.4,463.3L123.3,462.7L123.3,462L123.3,461.3L123.4,460.6L123.5,459.9L123.6,459.2L123.7,458.6L123.8,458L123.9,457.5L124,456.9L124.2,456.4L124.3,456L124.4,455.7L124.5,455.4Z" fill="#E28E1C" stroke="#333" stroke-width="0.3" stroke-linejoin="round"/>
<line x1="118.97" y1="473.7" x2="130.57" y2="473.7" stroke="#111" stroke-width="0.7"/>
<path d="M138.9,452.5L139,452.9L139.2,453.4L139.3,454L139.5,454.7L139.7,455.3L139.8,456L140,456.6L140.2,457.3L140.5,458L140.7,458.6L140.9,459.3L141,460L141.2,460.7L141.3,461.4L141.5,462.1L141.6,462.7L141.6,463.4L141.6,464L141.6,464.6L141.4,465.1L141.2,465.6L141,466.1L140.9,466.5L140.8,467L140.9,467.5L141.1,467.9L141.3,468.3L141.6,468.7L141.9,469.1L142.1,469.5L142.5,469.9L142.8,470.2L143.2,470.6L143.6,470.9L143.9,471.2L144.1,471.5L144.3,471.8L144.4,472L144.5,472.2L144.5,472.4L144.5,472.7L144.4,473L144.3,473.4L144.2,473.8L144,474.2L143.7,474.7L143.4,475.1L143.1,475.5L142.8,475.9L142.3,476.2L141.8,476.6L141.4,476.9L141,477.2L140.6,477.5L140.4,477.8L140.3,478L140.2,478.2L140.1,478.5L140.1,478.7L140.1,479L140.3,479.3L140.5,479.7L140.8,480.1L141.1,480.5L141.3,480.9L141.4,481.3L141.4,481.7L141.3,482.2L141.1,482.6L140.9,483.1L140.7,483.5L140.4,484L140.2,484.5L139.9,485.1L139.6,485.7L139.3,486.2L139.1,486.7L138.9,487L138.3,487L138.2,486.7L137.9,486.2L137.7,485.7L137.4,485.1L137.1,484.5L136.8,484L136.6,483.5L136.4,483.1L136.2,482.6L136,482.2L135.9,481.7L135.8,481.3L135.9,480.9L136.2,480.5L136.5,480.1L136.8,479.7L137,479.3L137.1,479L137.2,478.7L137.2,478.5L137.1,478.2L137,478L136.9,477.8L136.6,477.5L136.3,477.2L135.9,476.9L135.4,476.6L135,476.2L134.5,475.9L134.1,475.5L133.8,475.1L133.6,474.7L133.3,474.2L133.1,473.8L133,473.4L132.8,473L132.8,472.7L132.8,472.4L132.8,472.2L132.9,472L133,471.8L133.1,471.5L133.4,471.2L133.7,470.9L134.1,470.6L134.5,470.2L134.8,469.9L135.1,469.5L135.4,469.1L135.7,468.7L136,468.3L136.2,467.9L136.4,467.5L136.4,467L136.4,466.5L136.3,466.1L136.1,465.6L135.9,465.1L135.7,464.6L135.6,464L135.7,463.4L135.7,462.7L135.8,462.1L135.9,461.4L136.1,460.7L136.2,460L136.4,459.3L136.6,458.6L136.8,458L137,457.3L137.3,456.6L137.4,456L137.6,455.3L137.8,454.7L138,454L138.1,453.4L138.2,452.9L138.3,452.5Z" fill="#B9A61A" stroke="#333" stroke-width="0.3" stroke-linejoin="round"/>
<line x1="132.76" y1="472.4" x2="144.52" y2="472.4" stroke="#111" stroke-width="0.7"/>
<path d="M152.7,449.6L152.7,450.2L152.8,450.9L152.8,451.9L152.9,452.9L153,453.9L153,455L153.1,456.1L153.2,457.3L153.2,458.5L153.3,459.7L153.4,460.9L153.4,462L153.4,463.1L153.4,464.1L153.4,465.1L153.3,466.1L153.3,467.1L153.3,468L153.3,468.9L153.3,469.8L153.3,470.7L153.3,471.5L153.4,472.3L153.5,473L153.7,473.6L154,474.1L154.4,474.5L154.7,474.8L155.1,475.2L155.5,475.6L155.9,476L156.4,476.4L156.8,476.8L157.3,477.2L157.7,477.6L158,478L158.2,478.4L158.4,478.7L158.6,479L158.6,479.3L158.7,479.7L158.7,480L158.7,480.3L158.7,480.7L158.6,481L158.5,481.4L158.3,481.7L158,482L157.6,482.3L157,482.5L156.3,482.7L155.6,482.9L155,483.1L154.5,483.3L154.1,483.5L153.7,483.6L153.4,483.7L153.2,483.8L153,483.9L152.8,484L152.2,484L152,483.9L151.8,483.8L151.6,483.7L151.3,483.6L150.9,483.5L150.5,483.3L150,483.1L149.4,482.9L148.7,482.7L148,482.5L147.5,482.3L147,482L146.7,481.7L146.5,481.4L146.4,481L146.3,480.7L146.3,480.3L146.3,480L146.3,479.7L146.4,479.3L146.5,479L146.6,478.7L146.8,478.4L147,478L147.3,477.6L147.7,477.2L148.2,476.8L148.6,476.4L149.1,476L149.5,475.6L149.9,475.2L150.3,474.8L150.7,474.5L151,474.1L151.3,473.6L151.5,473L151.7,472.3L151.7,471.5L151.7,470.7L151.7,469.8L151.7,468.9L151.7,468L151.7,467.1L151.7,466.1L151.6,465.1L151.6,464.1L151.6,463.1L151.6,462L151.6,460.9L151.7,459.7L151.8,458.5L151.9,457.3L151.9,456.1L152,455L152.1,453.9L152.1,452.9L152.2,451.9L152.2,450.9L152.3,450.2L152.3,449.6Z" fill="#74BE36" stroke="#333" stroke-width="0.3" stroke-linejoin="round"/>
<line x1="146.31" y1="480" x2="158.71" y2="480" stroke="#111" stroke-width="0.7"/>
<path d="M166.6,450.6L166.6,451.1L166.7,451.8L166.7,452.6L166.8,453.4L166.9,454.2L167,455L167.1,455.7L167.2,456.4L167.3,457.1L167.4,457.7L167.5,458.4L167.6,459L167.7,459.6L167.8,460.1L167.8,460.6L167.9,461L168,461.5L168,462.1L168,462.7L167.9,463.3L167.8,464L167.8,464.7L167.7,465.3L167.6,466L167.5,466.7L167.3,467.3L167.2,468L167.1,468.7L167,469.3L167,470L167,470.7L167.1,471.4L167.2,472.1L167.4,472.8L167.6,473.4L167.9,474L168.2,474.5L168.6,475L169.1,475.4L169.5,475.8L170,476.1L170.4,476.5L170.7,476.9L171.1,477.2L171.4,477.5L171.7,477.9L172,478.2L172.2,478.5L172.4,478.8L172.5,479.1L172.6,479.4L172.7,479.7L172.7,480L172.6,480.4L172.4,480.8L172.3,481.2L172,481.6L171.7,482.1L171.3,482.5L170.9,483L170.3,483.5L169.5,484.1L168.7,484.8L167.9,485.3L167.2,485.8L166.7,486.2L166.1,486.2L165.6,485.8L164.9,485.3L164.1,484.8L163.3,484.1L162.5,483.5L161.9,483L161.4,482.5L161.1,482.1L160.7,481.6L160.5,481.2L160.3,480.8L160.2,480.4L160.1,480L160.1,479.7L160.2,479.4L160.3,479.1L160.4,478.8L160.6,478.5L160.8,478.2L161.1,477.9L161.3,477.5L161.7,477.2L162,476.9L162.4,476.5L162.8,476.1L163.2,475.8L163.7,475.4L164.1,475L164.5,474.5L164.9,474L165.1,473.4L165.4,472.8L165.5,472.1L165.7,471.4L165.7,470.7L165.8,470L165.8,469.3L165.7,468.7L165.6,468L165.4,467.3L165.3,466.7L165.2,466L165.1,465.3L165,464.7L164.9,464L164.8,463.3L164.8,462.7L164.8,462.1L164.8,461.5L164.8,461L164.9,460.6L165,460.1L165.1,459.6L165.2,459L165.3,458.4L165.4,457.7L165.5,457.1L165.6,456.4L165.7,455.7L165.8,455L165.9,454.2L165.9,453.4L166,452.6L166.1,451.8L166.1,451.1L166.2,450.6Z" fill="#28B25A" stroke="#333" stroke-width="0.3" stroke-linejoin="round"/>
<line x1="160.18" y1="480.4" x2="172.58" y2="480.4" stroke="#111" stroke-width="0.7"/>
<path d="M180.4,477L180.8,478.5L182.7,479.6L185.1,480.8L182.7,482L180.8,483.2L180.4,484.5L180.1,484.5L179.8,483.2L177.8,482L175.4,480.8L177.8,479.6L179.8,478.5L180.1,477Z" fill="#1DB8A0" stroke="#333" stroke-width="0.25" stroke-linejoin="round"/>
<line x1="175.45" y1="480.8" x2="185.05" y2="480.8" stroke="#111" stroke-width="0.7"/>
<path d="M194.3,478L194.6,479.5L196.7,480.6L199.3,481.4L196.7,482.2L194.6,483.3L194.3,485L193.9,485L193.6,483.3L191.5,482.2L188.9,481.4L191.5,480.6L193.6,479.5L193.9,478Z" fill="#2AB6CF" stroke="#333" stroke-width="0.25" stroke-linejoin="round"/>
<line x1="188.92" y1="481.4" x2="199.32" y2="481.4" stroke="#111" stroke-width="0.7"/>
<path d="M208.3,446.2L208.3,446.5L208.4,446.9L208.5,447.3L208.6,447.9L208.7,448.4L208.8,449L208.8,449.6L208.9,450.2L208.9,450.9L209,451.6L209,452.3L209.2,453L209.4,453.7L209.6,454.3L209.9,455L210.2,455.7L210.6,456.3L211,457L211.5,457.7L212,458.3L212.6,458.9L213.2,459.6L213.6,460.3L214,461L214.2,461.8L214.3,462.6L214.3,463.5L214.2,464.4L214.1,465.2L214,466L213.8,466.7L213.6,467.5L213.4,468.2L213.1,468.8L212.9,469.4L212.8,470L212.7,470.5L212.7,470.8L212.6,471.1L212.7,471.4L212.7,471.8L212.8,472.2L212.9,472.7L213.1,473.3L213.3,473.9L213.6,474.6L213.8,475.3L214,476L214.2,476.8L214.5,477.5L214.7,478.4L214.9,479.2L215,480.1L214.9,480.9L214.6,481.8L214.2,482.7L213.7,483.6L213.1,484.4L212.5,485.3L212,486L211.5,486.6L211.1,487.2L210.6,487.7L210.2,488.1L209.8,488.6L209.5,489L209.2,489.4L208.9,489.9L208.7,490.3L208.6,490.7L208.4,491L208.3,491.2L207.7,491.2L207.6,491L207.4,490.7L207.2,490.3L207,489.9L206.8,489.4L206.5,489L206.2,488.6L205.8,488.1L205.3,487.7L204.9,487.2L204.4,486.6L204,486L203.5,485.3L202.9,484.4L202.3,483.6L201.8,482.7L201.4,481.8L201.1,480.9L201,480.1L201.1,479.2L201.3,478.4L201.5,477.5L201.8,476.8L202,476L202.2,475.3L202.4,474.6L202.6,473.9L202.9,473.3L203.1,472.7L203.2,472.2L203.3,471.8L203.3,471.4L203.3,471.1L203.3,470.8L203.3,470.5L203.2,470L203,469.4L202.8,468.8L202.6,468.2L202.3,467.5L202.1,466.7L202,466L201.9,465.2L201.8,464.4L201.7,463.5L201.7,462.6L201.8,461.8L202,461L202.3,460.3L202.8,459.6L203.4,458.9L204,458.3L204.5,457.7L205,457L205.4,456.3L205.7,455.7L206.1,455L206.3,454.3L206.6,453.7L206.8,453L206.9,452.3L207,451.6L207.1,450.9L207.1,450.2L207.1,449.6L207.2,449L207.3,448.4L207.4,447.9L207.5,447.3L207.6,446.9L207.6,446.5L207.7,446.2Z" fill="#3C9ADA" stroke="#333" stroke-width="0.3" stroke-linejoin="round"/>
<line x1="203.19" y1="472.2" x2="212.79" y2="472.2" stroke="#111" stroke-width="0.7"/>
<path d="M222.1,452.3L222.1,452.7L222.2,453.3L222.3,453.9L222.4,454.6L222.5,455.4L222.7,456L222.8,456.6L222.9,457.1L223.1,457.7L223.2,458.3L223.3,458.9L223.4,459.5L223.4,460.2L223.3,460.9L223.3,461.6L223.2,462.4L223.1,463.2L223.1,464L223,464.9L222.9,466L222.7,467L222.6,468.1L222.6,469.1L222.7,470L222.8,470.8L223,471.5L223.3,472.2L223.7,472.8L224,473.4L224.4,474L224.7,474.6L225.1,475.2L225.5,475.8L226,476.4L226.3,476.9L226.7,477.5L227,478.1L227.3,478.7L227.5,479.2L227.7,479.8L227.9,480.4L227.9,480.9L227.7,481.4L227.5,482L227.1,482.5L226.7,483L226.3,483.5L225.9,484L225.4,484.5L224.9,485L224.4,485.5L223.9,486L223.4,486.5L223.1,486.9L222.8,487.3L222.6,487.6L222.4,488L222.3,488.3L222.1,488.5L222.1,488.7L221.7,488.7L221.6,488.5L221.5,488.3L221.3,488L221.2,487.6L220.9,487.3L220.7,486.9L220.3,486.5L219.8,486L219.3,485.5L218.8,485L218.3,484.5L217.9,484L217.4,483.5L217,483L216.6,482.5L216.3,482L216,481.4L215.9,480.9L215.9,480.4L216,479.8L216.2,479.2L216.5,478.7L216.8,478.1L217.1,477.5L217.4,476.9L217.8,476.4L218.2,475.8L218.6,475.2L219,474.6L219.4,474L219.7,473.4L220,472.8L220.4,472.2L220.7,471.5L220.9,470.8L221.1,470L221.1,469.1L221.1,468.1L221,467L220.9,466L220.7,464.9L220.7,464L220.6,463.2L220.5,462.4L220.4,461.6L220.4,460.9L220.4,460.2L220.4,459.5L220.4,458.9L220.5,458.3L220.7,457.7L220.8,457.1L220.9,456.6L221.1,456L221.2,455.4L221.3,454.6L221.4,453.9L221.5,453.3L221.6,452.7L221.7,452.3Z" fill="#9A7FCB" stroke="#333" stroke-width="0.3" stroke-linejoin="round"/>
<line x1="215.86" y1="480.9" x2="227.86" y2="480.9" stroke="#111" stroke-width="0.7"/>
<path d="M236,451.4L236.1,451.7L236.2,452L236.4,452.5L236.5,453L236.7,453.5L236.9,454L237.2,454.5L237.5,455.1L237.9,455.7L238.3,456.3L238.6,456.9L238.9,457.5L239.2,458L239.5,458.5L239.8,459L240.1,459.5L240.3,460L240.5,460.5L240.7,461L240.9,461.5L241,462L241.1,462.5L241.2,463L241.2,463.6L241.2,464.3L241.1,465L241,465.8L240.9,466.6L240.7,467.3L240.5,468L240.3,468.6L240,469.2L239.7,469.7L239.4,470.1L239.1,470.6L238.9,471L238.8,471.4L238.7,471.6L238.6,471.9L238.6,472.1L238.6,472.4L238.7,472.7L238.9,473L239.1,473.4L239.4,473.8L239.7,474.2L240,474.6L240.2,475L240.5,475.5L240.8,476L241,476.5L241.3,477L241.5,477.5L241.7,478L241.9,478.5L242.1,478.9L242.3,479.4L242.4,479.8L242.4,480.3L242.3,480.9L242.1,481.5L241.9,482.2L241.5,482.9L241.1,483.7L240.6,484.4L240.2,485L239.8,485.6L239.3,486.1L238.8,486.6L238.4,487.1L237.9,487.6L237.5,488L237.2,488.4L236.9,488.8L236.6,489.2L236.4,489.5L236.2,489.8L236,490L235.4,490L235.3,489.8L235.1,489.5L234.8,489.2L234.6,488.8L234.3,488.4L233.9,488L233.5,487.6L233.1,487.1L232.6,486.6L232.1,486.1L231.7,485.6L231.2,485L230.8,484.4L230.4,483.7L230,482.9L229.6,482.2L229.3,481.5L229.1,480.9L229.1,480.3L229.1,479.8L229.2,479.4L229.4,478.9L229.5,478.5L229.7,478L229.9,477.5L230.2,477L230.4,476.5L230.7,476L231,475.5L231.2,475L231.5,474.6L231.8,474.2L232.1,473.8L232.4,473.4L232.6,473L232.7,472.7L232.8,472.4L232.8,472.1L232.8,471.9L232.8,471.6L232.7,471.4L232.5,471L232.3,470.6L232.1,470.1L231.8,469.7L231.4,469.2L231.2,468.6L230.9,468L230.7,467.3L230.6,466.6L230.4,465.8L230.3,465L230.3,464.3L230.2,463.6L230.3,463L230.3,462.5L230.4,462L230.6,461.5L230.7,461L230.9,460.5L231.1,460L231.4,459.5L231.6,459L231.9,458.5L232.2,458L232.5,457.5L232.9,456.9L233.2,456.3L233.6,455.7L233.9,455.1L234.3,454.5L234.5,454L234.8,453.5L234.9,453L235.1,452.5L235.2,452L235.3,451.7L235.4,451.4Z" fill="#B45AB3" stroke="#333" stroke-width="0.3" stroke-linejoin="round"/>
<line x1="232.83" y1="472.2" x2="238.63" y2="472.2" stroke="#111" stroke-width="0.7"/>
<path d="M249.8,454L249.8,454.3L249.9,454.8L249.9,455.3L250,455.9L250,456.5L250.1,457L250.2,457.5L250.3,458L250.4,458.4L250.5,458.9L250.6,459.4L250.6,460L250.6,460.6L250.5,461.2L250.4,461.8L250.4,462.5L250.3,463.2L250.2,464L250.1,464.9L250.1,466L250,467.1L250,468.1L250,469.2L250,470L250.1,470.7L250.2,471.2L250.3,471.7L250.5,472.1L250.8,472.6L251.1,473L251.5,473.5L252,473.9L252.6,474.3L253.1,474.8L253.7,475.2L254.1,475.5L254.5,475.8L254.8,476L255.1,476.3L255.4,476.5L255.5,476.7L255.6,476.9L255.5,477.2L255.4,477.4L255.1,477.7L254.8,477.9L254.5,478.2L254.1,478.5L253.7,478.8L253.1,479.2L252.6,479.5L252,479.9L251.5,480.2L251.1,480.5L250.8,480.7L250.6,480.9L250.4,481.1L250.3,481.3L250.2,481.6L250.1,482L250,482.7L249.9,483.6L249.9,484.6L249.9,485.6L249.8,486.4L249.8,487L249.4,487L249.4,486.4L249.3,485.6L249.3,484.6L249.3,483.6L249.2,482.7L249.1,482L249,481.6L248.9,481.3L248.8,481.1L248.6,480.9L248.4,480.7L248.1,480.5L247.7,480.2L247.2,479.9L246.6,479.5L246.1,479.2L245.5,478.8L245.1,478.5L244.7,478.2L244.4,477.9L244.1,477.7L243.8,477.4L243.7,477.2L243.6,476.9L243.7,476.7L243.8,476.5L244.1,476.3L244.4,476L244.7,475.8L245.1,475.5L245.5,475.2L246.1,474.8L246.6,474.3L247.2,473.9L247.7,473.5L248.1,473L248.4,472.6L248.7,472.1L248.8,471.7L249,471.2L249.1,470.7L249.2,470L249.2,469.2L249.2,468.1L249.2,467.1L249.1,466L249.1,464.9L249,464L248.9,463.2L248.8,462.5L248.8,461.8L248.7,461.2L248.6,460.6L248.6,460L248.6,459.4L248.7,458.9L248.8,458.4L248.9,458L249,457.5L249.1,457L249.2,456.5L249.2,455.9L249.3,455.3L249.3,454.8L249.4,454.3L249.4,454Z" fill="#E8559A" stroke="#333" stroke-width="0.3" stroke-linejoin="round"/>
<line x1="243.6" y1="476.9" x2="255.6" y2="476.9" stroke="#111" stroke-width="0.7"/>
<path d="M110.9,445.1V444H125V445.1" fill="none" stroke="#333" stroke-width="0.8"/>
<text x="117.7" y="443.2" font-size="5.6" fill="#222" text-anchor="middle" style="stroke-width:0.25px">****</text>
<path d="M110.9,438.7V437.6H138.8V438.7" fill="none" stroke="#333" stroke-width="0.8"/>
<text x="125" y="436.8" font-size="5.6" fill="#222" text-anchor="middle" style="stroke-width:0.25px">****</text>
<path d="M110.9,432.1V431H152.6V432.1" fill="none" stroke="#333" stroke-width="0.8"/>
<text x="131.5" y="430.2" font-size="5.6" fill="#222" text-anchor="middle" style="stroke-width:0.25px">****</text>
<path d="M110.9,425.4V424.3H166.5V425.4" fill="none" stroke="#333" stroke-width="0.8"/>
<text x="138.8" y="423.5" font-size="5.6" fill="#222" text-anchor="middle" style="stroke-width:0.25px">****</text>
<path d="M110.9,418.6V417.5H180.4V418.6" fill="none" stroke="#333" stroke-width="0.8"/>
<text x="144.6" y="416.7" font-size="5.6" fill="#222" text-anchor="middle" style="stroke-width:0.25px">****</text>
<path d="M110.9,411.9V410.8H194.4V411.9" fill="none" stroke="#333" stroke-width="0.8"/>
<text x="150.4" y="410" font-size="5.6" fill="#222" text-anchor="middle" style="stroke-width:0.25px">****</text>
<line x1="303.1" y1="385.6" x2="303.1" y2="501.2" stroke="#1a1a1a" stroke-width="0.95"/>
<line x1="300.9" y1="390.2" x2="303.1" y2="390.2" stroke="#222" stroke-width="0.7"/>
<text x="297.1" y="392.3" font-size="5.6" fill="#222" text-anchor="end">100</text>
<line x1="300.9" y1="416.7" x2="303.1" y2="416.7" stroke="#222" stroke-width="0.7"/>
<text x="297.1" y="418.8" font-size="5.6" fill="#222" text-anchor="end">75</text>
<line x1="300.9" y1="443.5" x2="303.1" y2="443.5" stroke="#222" stroke-width="0.7"/>
<text x="297.1" y="445.6" font-size="5.6" fill="#222" text-anchor="end">50</text>
<line x1="300.9" y1="470.1" x2="303.1" y2="470.1" stroke="#222" stroke-width="0.7"/>
<text x="297.1" y="472.2" font-size="5.6" fill="#222" text-anchor="end">25</text>
<line x1="300.9" y1="496.3" x2="303.1" y2="496.3" stroke="#222" stroke-width="0.7"/>
<text x="297.1" y="498.4" font-size="5.6" fill="#222" text-anchor="end">0</text>
<line x1="302.7" y1="501.2" x2="442.1" y2="501.2" stroke="#1a1a1a" stroke-width="0.95"/>
<text x="0" y="0" font-size="6.6" fill="#222" text-anchor="middle" textLength="36" lengthAdjust="spacingAndGlyphs" transform="translate(280.6,444) rotate(-90)">% Blast killing</text>
<line x1="329" y1="501.2" x2="329" y2="503.4" stroke="#222" stroke-width="0.7"/>
<line x1="372.3" y1="501.2" x2="372.3" y2="503.4" stroke="#222" stroke-width="0.7"/>
<line x1="416.1" y1="501.2" x2="416.1" y2="503.4" stroke="#222" stroke-width="0.7"/>
<path d="M329,390.2H416.1" stroke="#333" stroke-width="0.7"/>
<text x="372.3" y="389.2" font-size="5.5" fill="#222" text-anchor="middle">*</text>
<circle cx="329" cy="453.6" r="1.45" fill="#A6A6A6" stroke="#666" stroke-width="0.4"/>
<circle cx="329" cy="456.5" r="1.45" fill="#A6A6A6" stroke="#666" stroke-width="0.4"/>
<circle cx="329" cy="465.8" r="1.45" fill="#A6A6A6" stroke="#666" stroke-width="0.4"/>
<circle cx="372.3" cy="410.4" r="1.45" fill="#3B3B3B" stroke="#222" stroke-width="0.4"/>
<circle cx="372.3" cy="414.7" r="1.45" fill="#3B3B3B" stroke="#222" stroke-width="0.4"/>
<circle cx="372.3" cy="475" r="1.45" fill="#3B3B3B" stroke="#222" stroke-width="0.4"/>
<circle cx="416.1" cy="395.4" r="1.45" fill="#D98B3A" stroke="#8A6A4A" stroke-width="0.4"/>
<circle cx="416.1" cy="398" r="1.45" fill="#D98B3A" stroke="#8A6A4A" stroke-width="0.4"/>
<circle cx="416.1" cy="409.8" r="1.45" fill="#D98B3A" stroke="#8A6A4A" stroke-width="0.4"/>
<text transform="translate(328.8,510.2) rotate(-45)" font-size="5.8" fill="#333" text-anchor="end"><tspan x="0" dy="0.00">KPT-9274</tspan><tspan x="0" dy="7.54">(100nM)</tspan></text>
<text transform="translate(372.1,510.2) rotate(-45)" font-size="5.8" fill="#333" text-anchor="end"><tspan x="0" dy="0.00">Venetoclax</tspan><tspan x="0" dy="7.54">(30nM)</tspan></text>
<text transform="translate(415.9,510.2) rotate(-45)" font-size="5.8" fill="#333" text-anchor="end"><tspan x="0" dy="0.00">KPT-9274 (100nM)+</tspan><tspan x="0" dy="7.54">Venetoclax (30nM)</tspan></text>
<rect x="0.5" y="0.5" width="519" height="564" fill="none" stroke="#5a5a5a" stroke-width="1.2"/>
</svg></body></html>
